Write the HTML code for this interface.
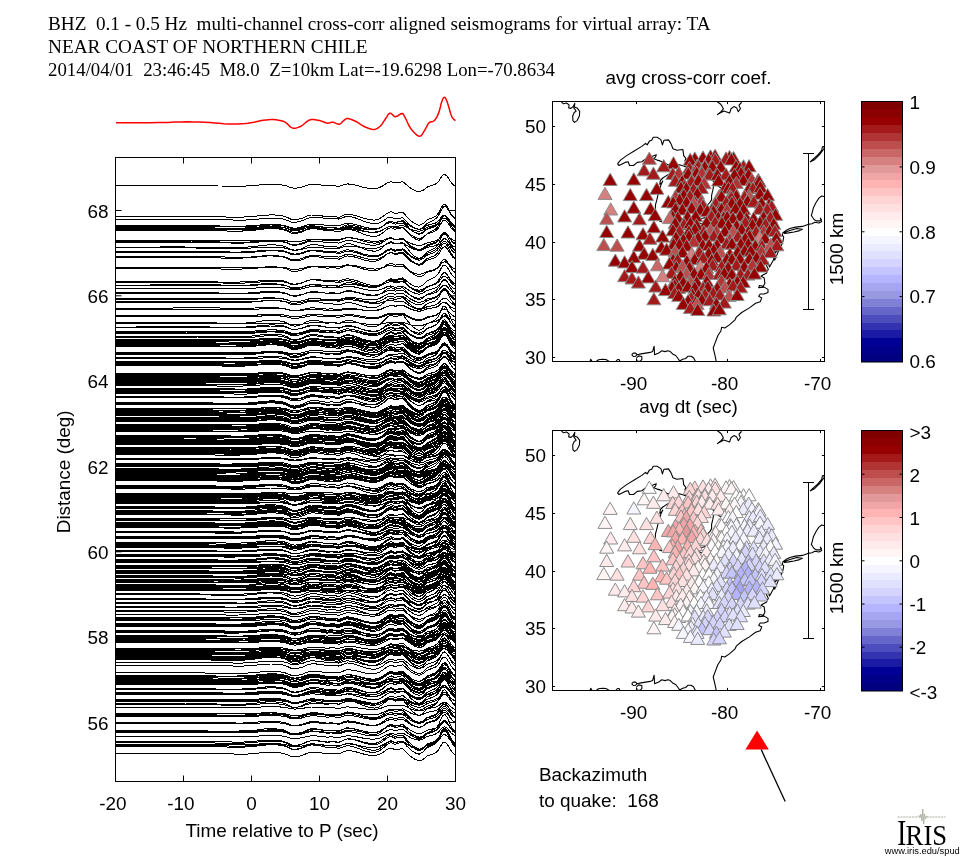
<!DOCTYPE html>
<html><head><meta charset="utf-8"><title>seismograms</title>
<style>html,body{margin:0;padding:0;background:#fff;}svg{display:block;will-change:transform;}text{font-family:"Liberation Sans", sans-serif;fill:#000;}.t{font-family:"Liberation Serif", serif;}</style></head><body>
<svg width="972" height="868" viewBox="0 0 972 868">
<rect x="0" y="0" width="972" height="868" fill="#fff"/>
<text class="t" x="48" y="29.5" font-size="19.2" textLength="662.5" lengthAdjust="spacingAndGlyphs">BHZ  0.1 - 0.5 Hz  multi-channel cross-corr aligned seismograms for virtual array: TA</text>
<text class="t" x="48" y="52.5" font-size="19.2" textLength="319.5" lengthAdjust="spacingAndGlyphs">NEAR COAST OF NORTHERN CHILE</text>
<text class="t" x="48" y="75.5" font-size="19.2" textLength="507.0" lengthAdjust="spacingAndGlyphs">2014/04/01  23:46:45  M8.0  Z=10km Lat=-19.6298 Lon=-70.8634</text>
<path d="M116.0,122.8 L124.3,122.8 L136.3,122.8 L149.2,122.7 L160.0,122.6 L168.0,122.4 L174.8,122.1 L180.9,121.9 L187.0,121.8 L193.1,121.9 L199.1,122.1 L204.7,122.3 L210.0,122.6 L214.9,122.9 L219.4,123.3 L223.7,123.7 L228.0,123.9 L232.5,123.9 L237.0,123.9 L241.3,123.7 L245.0,123.5 L248.0,123.2 L250.5,122.8 L252.8,122.4 L255.0,122.0 L257.2,121.5 L259.3,121.0 L261.4,120.6 L263.6,120.2 L266.0,119.9 L268.4,119.7 L270.9,119.6 L273.4,119.6 L276.0,119.8 L278.6,120.2 L281.1,120.8 L283.1,121.3 L284.6,121.9 L285.7,122.5 L286.5,123.2 L287.4,123.9 L288.2,124.7 L289.0,125.6 L289.7,126.4 L290.6,127.1 L291.6,127.6 L292.6,128.0 L293.7,128.2 L295.0,128.2 L296.5,127.9 L298.1,127.4 L299.8,126.8 L301.4,126.0 L302.8,125.0 L304.2,123.8 L305.5,122.7 L306.8,121.7 L307.9,120.9 L308.8,120.3 L309.8,119.9 L311.2,119.6 L313.1,119.6 L315.3,119.8 L317.6,120.2 L319.8,120.6 L321.8,121.2 L323.8,122.0 L325.7,122.8 L327.4,123.2 L328.9,123.1 L330.2,122.7 L331.4,122.3 L332.8,122.2 L334.4,122.6 L336.1,123.4 L337.8,124.1 L339.3,124.3 L340.5,123.7 L341.6,122.7 L342.6,121.5 L343.6,120.6 L344.6,119.8 L345.5,119.1 L346.5,118.6 L347.9,118.5 L349.8,118.9 L352.0,119.7 L354.3,120.7 L356.5,121.7 L358.4,122.8 L360.2,124.1 L362.1,125.4 L364.1,126.5 L366.5,127.5 L369.0,128.5 L371.6,129.2 L373.8,129.5 L375.7,129.2 L377.3,128.4 L378.8,127.3 L380.3,126.0 L381.8,124.4 L383.1,122.4 L384.5,120.3 L385.7,118.5 L386.8,116.8 L387.8,115.1 L388.9,113.8 L390.0,113.1 L391.2,113.5 L392.6,114.8 L393.9,116.2 L395.4,116.8 L397.0,116.3 L398.8,115.1 L400.5,114.0 L401.9,113.5 L402.9,113.8 L403.6,114.6 L404.2,115.8 L405.1,117.4 L406.2,119.7 L407.5,122.5 L408.9,125.5 L410.5,128.2 L412.5,130.8 L414.9,133.3 L417.2,135.4 L419.2,136.4 L420.8,135.9 L422.2,134.4 L423.4,132.3 L424.6,130.4 L425.7,128.5 L426.8,126.4 L427.8,124.4 L428.9,122.8 L430.2,122.0 L431.6,121.7 L433.0,121.4 L434.3,120.6 L435.5,119.2 L436.6,117.5 L437.6,115.4 L438.6,113.1 L439.5,110.2 L440.4,106.9 L441.1,103.7 L441.9,101.2 L442.6,99.5 L443.2,98.2 L443.9,97.5 L444.5,97.3 L445.2,97.7 L445.8,98.7 L446.5,100.2 L447.3,102.3 L448.3,105.4 L449.4,109.3 L450.5,113.3 L451.6,116.3 L452.7,118.2 L453.8,119.3 L454.8,120.1 L455.5,120.6" fill="none" stroke="#ff0000" stroke-width="1.5" stroke-linejoin="round"/>
<clipPath id="cs"><rect x="115.5" y="157.5" width="340.0" height="624.0"/></clipPath>
<g clip-path="url(#cs)" fill="none" stroke="#000" stroke-width="1" stroke-linejoin="round" shape-rendering="crispEdges">
<path d="M115.5,185.8 132.4,185.8 187.7,185.3 217.9,186.0 244.9,186.1 255.0,185.4 259.0,185.0 263.0,184.7 267.0,184.4 271.0,184.3 275.0,184.4 279.0,184.7 283.0,185.1 287.0,186.1 291.0,187.8 295.0,188.2 299.0,187.7 303.0,186.7 307.0,185.2 311.0,184.4 315.0,184.4 319.0,184.7 323.0,185.3 327.0,185.9 331.0,185.6 335.0,185.8 339.0,186.4 343.0,185.0 347.0,183.9 351.0,184.2 355.0,185.0 359.0,186.0 363.0,187.2 367.0,188.0 371.0,188.6 375.0,188.7 379.0,187.7 383.0,185.7 387.0,182.9 391.0,181.6 395.0,183.0 399.0,182.3 403.0,181.8 407.0,185.2 411.0,188.5 415.0,190.6 419.0,191.9 423.0,190.4 427.0,187.2 433.0,185.1 435.0,184.4 437.0,183.0 439.0,180.9 441.0,177.5 443.0,174.9 445.0,174.4 447.0,176.2 449.0,179.1 451.0,182.3 453.0,184.7 455.5,186.5 M115.5,216.7 145.2,216.7 171.8,216.5 218.0,216.9 240.7,217.2 255.0,216.3 259.0,215.8 263.0,215.3 267.0,215.1 271.0,214.9 275.0,215.0 279.0,215.4 283.0,215.9 287.0,217.2 291.0,219.3 295.0,219.8 299.0,219.1 303.0,217.9 307.0,216.1 311.0,215.0 315.0,215.1 319.0,215.4 323.0,216.1 327.0,216.8 331.0,216.4 335.0,216.6 339.0,217.3 343.0,215.5 347.0,214.1 351.0,214.5 355.0,215.4 359.0,216.6 363.0,218.1 367.0,219.1 371.0,219.9 375.0,220.1 379.0,219.0 383.0,216.5 387.0,213.3 391.0,211.7 395.0,213.6 399.0,212.9 403.0,212.5 407.0,216.8 411.0,221.0 415.0,223.7 419.0,225.4 423.0,223.7 427.0,219.9 433.0,217.5 435.0,216.6 437.0,214.9 439.0,212.2 441.0,208.1 443.0,204.9 445.0,204.3 447.0,206.4 449.0,209.9 451.0,213.7 453.0,216.5 455.5,218.6 M115.5,219.9 159.1,219.6 170.5,219.4 211.8,219.6 242.7,220.2 255.0,219.4 259.0,219.0 263.0,218.6 267.0,218.3 271.0,218.2 275.0,218.3 279.0,218.6 283.0,219.0 287.0,220.2 291.0,222.1 295.0,222.4 299.0,221.7 303.0,220.4 307.0,218.5 311.0,217.4 315.0,217.3 319.0,217.5 323.0,218.0 327.0,218.6 331.0,218.2 335.0,218.4 339.0,219.1 343.0,217.5 347.0,216.2 351.0,216.8 355.0,217.8 359.0,219.3 363.0,220.9 367.0,222.2 371.0,223.3 375.0,223.8 379.0,223.0 383.0,221.0 387.0,218.1 391.0,216.9 395.0,218.8 399.0,218.2 403.0,217.8 407.0,221.9 411.0,225.7 415.0,228.1 419.0,229.4 423.0,227.5 427.0,223.4 433.0,220.4 435.0,219.3 437.0,217.4 439.0,214.6 441.0,210.4 443.0,207.2 445.0,206.3 447.0,208.1 449.0,211.2 451.0,214.7 453.0,217.3 455.5,219.1 M115.5,225.6 142.5,225.5 196.0,225.3 230.0,226.3 242.7,226.2 255.0,225.5 259.0,225.1 263.0,224.8 267.0,224.6 271.0,224.5 275.0,224.6 279.0,224.8 283.0,225.2 287.0,226.2 291.0,227.9 295.0,228.2 299.0,227.7 303.0,226.6 307.0,225.1 311.0,224.1 315.0,224.1 319.0,224.4 323.0,224.8 327.0,225.4 331.0,225.0 335.0,225.2 339.0,225.8 343.0,224.4 347.0,223.2 351.0,223.6 355.0,224.4 359.0,225.5 363.0,226.8 367.0,227.7 371.0,228.5 375.0,228.7 379.0,228.0 383.0,226.1 387.0,223.6 391.0,222.5 395.0,224.1 399.0,223.6 403.0,223.3 407.0,226.8 411.0,230.2 415.0,232.4 419.0,233.7 423.0,232.2 427.0,228.9 433.0,226.6 435.0,225.8 437.0,224.3 439.0,222.0 441.0,218.5 443.0,215.8 445.0,215.1 447.0,216.7 449.0,219.3 451.0,222.3 453.0,224.4 455.5,225.9 M115.5,226.6 153.9,226.6 197.3,226.4 218.8,226.9 239.5,227.0 255.0,226.2 259.0,225.8 263.0,225.4 267.0,225.1 271.0,225.0 275.0,225.1 279.0,225.3 283.0,225.8 287.0,226.8 291.0,228.4 295.0,228.9 299.0,228.5 303.0,227.7 307.0,226.4 311.0,225.7 315.0,226.0 319.0,226.4 323.0,227.1 327.0,227.9 331.0,227.8 335.0,228.1 339.0,228.7 343.0,227.5 347.0,226.4 351.0,226.7 355.0,227.3 359.0,228.1 363.0,229.1 367.0,229.6 371.0,229.9 375.0,229.7 379.0,228.5 383.0,226.1 387.0,223.2 391.0,221.5 395.0,222.5 399.0,221.4 403.0,220.7 407.0,223.6 411.0,226.6 415.0,228.5 419.0,229.6 423.0,228.3 427.0,225.4 433.0,223.8 435.0,223.3 437.0,222.2 439.0,220.3 441.0,217.4 443.0,215.2 445.0,215.0 447.0,217.0 449.0,220.0 451.0,223.2 453.0,225.8 455.5,227.8 M115.5,227.7 144.1,227.6 182.4,227.2 231.2,228.4 240.2,228.3 255.0,227.4 259.0,227.0 263.0,226.5 267.0,226.3 271.0,226.2 275.0,226.3 279.0,226.7 283.0,227.2 287.0,228.5 291.0,230.5 295.0,231.0 299.0,230.4 303.0,229.2 307.0,227.4 311.0,226.4 315.0,226.4 319.0,226.7 323.0,227.3 327.0,228.0 331.0,227.5 335.0,227.7 339.0,228.3 343.0,226.5 347.0,224.9 351.0,225.2 355.0,225.9 359.0,227.0 363.0,228.2 367.0,229.1 371.0,229.7 375.0,229.7 379.0,228.4 383.0,225.9 387.0,222.6 391.0,221.0 395.0,222.7 399.0,221.9 403.0,221.4 407.0,225.6 411.0,229.8 415.0,232.5 419.0,234.3 423.0,232.8 427.0,229.2 433.0,227.3 435.0,226.6 437.0,225.1 439.0,222.7 441.0,218.8 443.0,215.9 445.0,215.5 447.0,217.7 449.0,221.3 451.0,225.2 453.0,228.2 455.5,230.4 M115.5,228.6 129.0,228.6 180.5,228.6 222.0,228.9 244.7,228.7 255.0,228.2 259.0,227.8 263.0,227.5 267.0,227.3 271.0,227.2 275.0,227.2 279.0,227.3 283.0,227.6 287.0,228.3 291.0,229.5 295.0,229.8 299.0,229.5 303.0,228.8 307.0,227.8 311.0,227.3 315.0,227.5 319.0,227.9 323.0,228.4 327.0,229.1 331.0,229.1 335.0,229.4 339.0,230.0 343.0,229.2 347.0,228.5 351.0,228.9 355.0,229.5 359.0,230.3 363.0,231.2 367.0,231.8 371.0,232.2 375.0,232.1 379.0,231.3 383.0,229.6 387.0,227.4 391.0,226.2 395.0,226.9 399.0,226.0 403.0,225.3 407.0,227.4 411.0,229.5 415.0,230.7 419.0,231.3 423.0,229.9 427.0,227.4 433.0,225.7 435.0,225.1 437.0,224.0 439.0,222.5 441.0,220.0 443.0,218.2 445.0,218.0 447.0,219.3 449.0,221.5 451.0,223.9 453.0,225.7 455.5,227.2 M115.5,229.6 153.6,229.8 175.9,229.5 208.7,229.5 244.1,230.0 255.0,229.3 259.0,228.8 263.0,228.5 267.0,228.2 271.0,228.1 275.0,228.2 279.0,228.5 283.0,229.0 287.0,230.1 291.0,231.9 295.0,232.4 299.0,231.8 303.0,230.7 307.0,229.1 311.0,228.2 315.0,228.2 319.0,228.4 323.0,229.0 327.0,229.6 331.0,229.2 335.0,229.4 339.0,230.0 343.0,228.4 347.0,227.1 351.0,227.5 355.0,228.3 359.0,229.4 363.0,230.7 367.0,231.7 371.0,232.5 375.0,232.7 379.0,231.9 383.0,229.9 387.0,227.2 391.0,226.0 395.0,227.8 399.0,227.4 403.0,227.1 407.0,231.1 411.0,234.9 415.0,237.3 419.0,238.9 423.0,237.4 427.0,234.1 433.0,231.9 435.0,231.1 437.0,229.6 439.0,227.2 441.0,223.5 443.0,220.6 445.0,220.0 447.0,221.7 449.0,224.6 451.0,227.8 453.0,230.2 455.5,231.9 M115.5,230.8 141.3,230.8 193.2,230.2 208.4,230.5 238.4,231.3 255.0,230.1 259.0,229.6 263.0,229.1 267.0,228.8 271.0,228.6 275.0,228.7 279.0,229.0 283.0,229.5 287.0,230.9 291.0,233.1 295.0,233.6 299.0,232.9 303.0,231.6 307.0,229.7 311.0,228.6 315.0,228.7 319.0,229.2 323.0,230.0 327.0,230.9 331.0,230.7 335.0,231.1 339.0,232.0 343.0,230.3 347.0,229.0 351.0,229.6 355.0,230.7 359.0,232.2 363.0,234.0 367.0,235.3 371.0,236.2 375.0,236.5 379.0,235.3 383.0,232.7 387.0,229.2 391.0,227.4 395.0,229.3 399.0,228.3 403.0,227.6 407.0,232.0 411.0,236.2 415.0,238.8 419.0,240.3 423.0,238.2 427.0,233.7 433.0,230.6 435.0,229.5 437.0,227.5 439.0,224.5 441.0,219.9 443.0,216.4 445.0,215.7 447.0,217.8 449.0,221.5 451.0,225.6 453.0,228.6 455.5,230.8 M115.5,240.7 146.5,240.7 168.1,240.6 217.2,240.7 242.1,240.9 255.0,240.5 259.0,240.3 263.0,240.1 267.0,240.0 271.0,240.0 275.0,240.0 279.0,240.1 283.0,240.3 287.0,240.9 291.0,241.8 295.0,241.9 299.0,241.5 303.0,240.8 307.0,239.8 311.0,239.2 315.0,239.1 319.0,239.1 323.0,239.2 327.0,239.4 331.0,239.1 335.0,239.1 339.0,239.4 343.0,238.5 347.0,237.8 351.0,238.0 355.0,238.5 359.0,239.1 363.0,239.9 367.0,240.6 371.0,241.1 375.0,241.4 379.0,241.1 383.0,240.2 387.0,239.0 391.0,238.5 395.0,239.6 399.0,239.4 403.0,239.4 407.0,241.5 411.0,243.5 415.0,244.8 419.0,245.6 423.0,244.7 427.0,242.9 433.0,241.5 435.0,241.0 437.0,240.1 439.0,238.8 441.0,236.7 443.0,235.1 445.0,234.7 447.0,235.5 449.0,237.0 451.0,238.7 453.0,239.9 455.5,240.7 M115.5,241.8 156.5,241.4 191.9,241.0 230.6,242.4 248.7,242.1 255.0,241.7 259.0,241.3 263.0,241.0 267.0,240.8 271.0,240.7 275.0,240.9 279.0,241.2 283.0,241.6 287.0,242.6 291.0,244.3 295.0,244.6 299.0,244.0 303.0,242.8 307.0,241.0 311.0,239.9 315.0,239.8 319.0,239.8 323.0,240.1 327.0,240.5 331.0,240.0 335.0,240.0 339.0,240.4 343.0,238.8 347.0,237.5 351.0,237.7 355.0,238.5 359.0,239.6 363.0,240.9 367.0,242.0 371.0,242.8 375.0,243.2 379.0,242.6 383.0,240.8 387.0,238.4 391.0,237.5 395.0,239.4 399.0,239.1 403.0,239.0 407.0,242.9 411.0,246.7 415.0,249.2 419.0,250.7 423.0,249.4 427.0,246.2 433.0,244.1 435.0,243.3 437.0,241.7 439.0,239.4 441.0,235.8 443.0,233.0 445.0,232.3 447.0,233.9 449.0,236.7 451.0,239.7 453.0,241.9 455.5,243.5 M115.5,242.7 130.3,242.6 189.7,242.2 209.2,242.6 241.2,243.2 255.0,242.4 259.0,242.0 263.0,241.6 267.0,241.4 271.0,241.2 275.0,241.3 279.0,241.6 283.0,242.0 287.0,243.1 291.0,244.9 295.0,245.3 299.0,244.7 303.0,243.7 307.0,242.1 311.0,241.2 315.0,241.2 319.0,241.5 323.0,242.0 327.0,242.6 331.0,242.3 335.0,242.5 339.0,243.1 343.0,241.5 347.0,240.3 351.0,240.6 355.0,241.4 359.0,242.4 363.0,243.6 367.0,244.5 371.0,245.1 375.0,245.3 379.0,244.3 383.0,242.2 387.0,239.4 391.0,238.1 395.0,239.7 399.0,239.0 403.0,238.7 407.0,242.3 411.0,246.0 415.0,248.3 419.0,249.8 423.0,248.4 427.0,245.1 433.0,243.2 435.0,242.5 437.0,241.1 439.0,238.8 441.0,235.3 443.0,232.7 445.0,232.2 447.0,234.0 449.0,237.0 451.0,240.3 453.0,242.8 455.5,244.6 M115.5,247.1 153.9,247.1 171.9,246.8 231.4,247.7 240.8,247.6 255.0,246.4 259.0,245.8 263.0,245.3 267.0,245.0 271.0,244.8 275.0,244.9 279.0,245.3 283.0,245.9 287.0,247.4 291.0,249.9 295.0,250.5 299.0,249.8 303.0,248.2 307.0,246.0 311.0,244.7 315.0,244.7 319.0,245.1 323.0,245.9 327.0,246.8 331.0,246.3 335.0,246.5 339.0,247.4 343.0,245.3 347.0,243.5 351.0,244.0 355.0,245.2 359.0,246.7 363.0,248.6 367.0,249.9 371.0,250.9 375.0,251.2 379.0,250.0 383.0,247.1 387.0,243.3 391.0,241.5 395.0,243.9 399.0,243.1 403.0,242.7 407.0,248.0 411.0,253.2 415.0,256.6 419.0,258.7 423.0,256.7 427.0,252.1 433.0,249.2 435.0,248.1 437.0,246.0 439.0,242.8 441.0,237.7 443.0,233.8 445.0,233.0 447.0,235.5 449.0,239.8 451.0,244.3 453.0,247.8 455.5,250.3 M115.5,247.8 137.0,247.9 176.7,247.8 224.3,248.3 249.5,248.1 255.0,247.8 259.0,247.5 263.0,247.2 267.0,247.1 271.0,247.1 275.0,247.2 279.0,247.4 283.0,247.7 287.0,248.5 291.0,249.8 295.0,250.1 299.0,249.8 303.0,249.1 307.0,248.0 311.0,247.3 315.0,247.4 319.0,247.5 323.0,247.9 327.0,248.3 331.0,248.0 335.0,248.0 339.0,248.3 343.0,247.1 347.0,246.1 351.0,246.2 355.0,246.5 359.0,247.1 363.0,247.8 367.0,248.2 371.0,248.5 375.0,248.4 379.0,247.5 383.0,245.9 387.0,243.9 391.0,242.8 395.0,243.8 399.0,243.3 403.0,243.0 407.0,245.5 411.0,248.0 415.0,249.6 419.0,250.6 423.0,249.7 427.0,247.4 433.0,246.2 435.0,245.7 437.0,244.7 439.0,243.2 441.0,240.8 443.0,239.0 445.0,238.7 447.0,240.0 449.0,242.1 451.0,244.4 453.0,246.1 455.5,247.4 M115.5,251.7 156.7,251.7 193.0,251.2 218.1,251.9 239.7,252.1 255.0,251.3 259.0,250.8 263.0,250.4 267.0,250.2 271.0,250.1 275.0,250.1 279.0,250.4 283.0,250.8 287.0,251.9 291.0,253.7 295.0,254.1 299.0,253.6 303.0,252.5 307.0,250.9 311.0,250.0 315.0,250.0 319.0,250.4 323.0,251.0 327.0,251.7 331.0,251.4 335.0,251.7 339.0,252.4 343.0,251.0 347.0,249.8 351.0,250.3 355.0,251.2 359.0,252.5 363.0,253.9 367.0,254.9 371.0,255.7 375.0,255.9 379.0,255.0 383.0,252.9 387.0,250.0 391.0,248.6 395.0,250.2 399.0,249.4 403.0,248.8 407.0,252.4 411.0,255.9 415.0,258.0 419.0,259.2 423.0,257.3 427.0,253.6 433.0,251.0 435.0,250.1 437.0,248.4 439.0,245.9 441.0,242.1 443.0,239.2 445.0,238.5 447.0,240.2 449.0,243.2 451.0,246.4 453.0,248.9 455.5,250.7 M115.5,252.7 158.0,252.6 195.1,252.2 217.3,252.7 242.8,252.9 255.0,252.0 259.0,251.6 263.0,251.2 267.0,250.9 271.0,250.8 275.0,250.8 279.0,251.1 283.0,251.5 287.0,252.6 291.0,254.4 295.0,254.8 299.0,254.3 303.0,253.2 307.0,251.7 311.0,250.8 315.0,250.9 319.0,251.3 323.0,252.0 327.0,252.7 331.0,252.5 335.0,252.8 339.0,253.6 343.0,252.2 347.0,251.1 351.0,251.6 355.0,252.5 359.0,253.7 363.0,255.1 367.0,256.0 371.0,256.8 375.0,257.0 379.0,256.0 383.0,253.9 387.0,251.1 391.0,249.7 395.0,251.2 399.0,250.4 403.0,249.9 407.0,253.5 411.0,257.0 415.0,259.1 419.0,260.4 423.0,258.7 427.0,255.2 433.0,252.9 435.0,252.0 437.0,250.5 439.0,248.1 441.0,244.4 443.0,241.7 445.0,241.1 447.0,242.9 449.0,245.9 451.0,249.2 453.0,251.6 455.5,253.5 M115.5,257.0 147.7,256.9 188.1,256.4 211.6,256.9 248.8,257.2 255.0,256.7 259.0,256.3 263.0,255.9 267.0,255.7 271.0,255.6 275.0,255.7 279.0,256.0 283.0,256.4 287.0,257.6 291.0,259.4 295.0,259.8 299.0,259.2 303.0,258.1 307.0,256.4 311.0,255.4 315.0,255.4 319.0,255.7 323.0,256.2 327.0,256.8 331.0,256.4 335.0,256.5 339.0,257.1 343.0,255.5 347.0,254.2 351.0,254.6 355.0,255.4 359.0,256.5 363.0,257.8 367.0,258.8 371.0,259.5 375.0,259.8 379.0,258.8 383.0,256.8 387.0,254.0 391.0,252.7 395.0,254.5 399.0,253.9 403.0,253.6 407.0,257.5 411.0,261.3 415.0,263.7 419.0,265.3 423.0,263.8 427.0,260.4 433.0,258.4 435.0,257.6 437.0,256.0 439.0,253.7 441.0,250.0 443.0,247.2 445.0,246.6 447.0,248.5 449.0,251.5 451.0,254.9 453.0,257.4 455.5,259.2 M115.5,257.5 144.1,257.5 179.9,257.1 229.4,258.2 244.0,258.0 255.0,257.2 259.0,256.7 263.0,256.3 267.0,256.0 271.0,255.9 275.0,256.1 279.0,256.4 283.0,257.0 287.0,258.3 291.0,260.5 295.0,261.0 299.0,260.5 303.0,259.3 307.0,257.5 311.0,256.5 315.0,256.6 319.0,257.0 323.0,257.8 327.0,258.6 331.0,258.2 335.0,258.5 339.0,259.2 343.0,257.4 347.0,255.9 351.0,256.3 355.0,257.1 359.0,258.3 363.0,259.7 367.0,260.6 371.0,261.3 375.0,261.3 379.0,260.0 383.0,257.3 387.0,253.8 391.0,252.0 395.0,253.7 399.0,252.7 403.0,252.1 407.0,256.2 411.0,260.3 415.0,262.9 419.0,264.4 423.0,262.6 427.0,258.7 433.0,256.3 435.0,255.4 437.0,253.7 439.0,251.0 441.0,246.8 443.0,243.7 445.0,243.2 447.0,245.4 449.0,249.0 451.0,252.9 453.0,255.9 455.5,258.2 M115.5,267.7 158.1,267.5 192.7,267.2 221.6,267.9 247.2,267.9 255.0,267.5 259.0,267.3 263.0,267.1 267.0,266.9 271.0,266.9 275.0,266.9 279.0,267.1 283.0,267.4 287.0,268.1 291.0,269.2 295.0,269.4 299.0,269.0 303.0,268.2 307.0,267.1 311.0,266.3 315.0,266.2 319.0,266.3 323.0,266.5 327.0,266.8 331.0,266.5 335.0,266.5 339.0,266.8 343.0,265.8 347.0,264.9 351.0,265.2 355.0,265.7 359.0,266.5 363.0,267.4 367.0,268.2 371.0,268.8 375.0,269.1 379.0,268.7 383.0,267.6 387.0,266.0 391.0,265.4 395.0,266.7 399.0,266.5 403.0,266.5 407.0,269.2 411.0,271.7 415.0,273.4 419.0,274.5 423.0,273.6 427.0,271.4 433.0,269.9 435.0,269.3 437.0,268.3 439.0,266.7 441.0,264.2 443.0,262.3 445.0,261.8 447.0,262.8 449.0,264.7 451.0,266.7 453.0,268.1 455.5,269.1 M115.5,268.8 154.2,268.6 199.6,268.3 229.6,269.3 250.5,268.8 255.0,268.3 259.0,267.9 263.0,267.5 267.0,267.3 271.0,267.1 275.0,267.2 279.0,267.5 283.0,268.0 287.0,269.1 291.0,271.0 295.0,271.4 299.0,270.8 303.0,269.6 307.0,267.9 311.0,266.9 315.0,266.8 319.0,267.1 323.0,267.6 327.0,268.2 331.0,267.8 335.0,267.9 339.0,268.5 343.0,266.8 347.0,265.4 351.0,265.7 355.0,266.5 359.0,267.6 363.0,268.9 367.0,269.8 371.0,270.5 375.0,270.7 379.0,269.7 383.0,267.5 387.0,264.6 391.0,263.2 395.0,265.1 399.0,264.5 403.0,264.3 407.0,268.4 411.0,272.4 415.0,275.1 419.0,276.9 423.0,275.6 427.0,272.4 433.0,270.6 435.0,269.9 437.0,268.5 439.0,266.2 441.0,262.6 443.0,259.8 445.0,259.3 447.0,261.4 449.0,264.6 451.0,268.2 453.0,270.9 455.5,272.9 M115.5,281.7 148.0,281.6 182.5,281.2 225.8,282.2 248.5,281.9 255.0,281.3 259.0,280.9 263.0,280.5 267.0,280.2 271.0,280.1 275.0,280.1 279.0,280.4 283.0,280.8 287.0,281.9 291.0,283.8 295.0,284.2 299.0,283.6 303.0,282.5 307.0,280.8 311.0,279.8 315.0,279.9 319.0,280.3 323.0,281.0 327.0,281.8 331.0,281.6 335.0,282.0 339.0,282.8 343.0,281.4 347.0,280.3 351.0,280.9 355.0,281.9 359.0,283.3 363.0,284.8 367.0,285.8 371.0,286.6 375.0,286.8 379.0,285.7 383.0,283.4 387.0,280.3 391.0,278.6 395.0,279.9 399.0,278.8 403.0,277.9 407.0,281.3 411.0,284.5 415.0,286.3 419.0,287.2 423.0,285.0 427.0,280.9 433.0,277.9 435.0,276.9 437.0,275.1 439.0,272.5 441.0,268.6 443.0,265.6 445.0,265.0 447.0,266.9 449.0,270.1 451.0,273.6 453.0,276.3 455.5,278.3 M115.5,282.5 138.5,282.4 194.6,282.3 208.3,282.6 238.1,283.4 255.0,282.5 259.0,282.1 263.0,281.7 267.0,281.4 271.0,281.3 275.0,281.3 279.0,281.5 283.0,281.8 287.0,282.7 291.0,284.3 295.0,284.6 299.0,283.8 303.0,282.6 307.0,280.9 311.0,279.8 315.0,279.6 319.0,279.8 323.0,280.2 327.0,280.7 331.0,280.4 335.0,280.5 339.0,281.2 343.0,279.8 347.0,278.7 351.0,279.2 355.0,280.2 359.0,281.5 363.0,283.1 367.0,284.3 371.0,285.3 375.0,285.8 379.0,285.2 383.0,283.4 387.0,281.0 391.0,279.9 395.0,281.7 399.0,281.2 403.0,281.0 407.0,284.7 411.0,288.2 415.0,290.4 419.0,291.8 423.0,290.2 427.0,286.8 433.0,284.5 435.0,283.6 437.0,282.0 439.0,279.7 441.0,276.1 443.0,273.3 445.0,272.7 447.0,274.4 449.0,277.2 451.0,280.4 453.0,282.7 455.5,284.4 M115.5,285.0 149.8,285.0 193.5,284.4 214.0,284.9 244.2,285.4 255.0,284.7 259.0,284.2 263.0,283.9 267.0,283.7 271.0,283.6 275.0,283.8 279.0,284.2 283.0,284.8 287.0,286.1 291.0,288.2 295.0,288.8 299.0,288.3 303.0,287.1 307.0,285.4 311.0,284.4 315.0,284.4 319.0,284.7 323.0,285.3 327.0,285.9 331.0,285.5 335.0,285.5 339.0,286.1 343.0,284.2 347.0,282.6 351.0,282.8 355.0,283.5 359.0,284.5 363.0,285.8 367.0,286.6 371.0,287.2 375.0,287.3 379.0,286.1 383.0,283.6 387.0,280.4 391.0,278.8 395.0,280.6 399.0,279.9 403.0,279.5 407.0,283.8 411.0,287.9 415.0,290.6 419.0,292.3 423.0,290.8 427.0,287.2 433.0,285.0 435.0,284.1 437.0,282.5 439.0,280.0 441.0,275.9 443.0,272.9 445.0,272.3 447.0,274.4 449.0,277.7 451.0,281.4 453.0,284.2 455.5,286.2 M115.5,285.5 142.4,285.6 173.1,285.4 220.7,285.7 245.7,285.7 255.0,285.2 259.0,284.9 263.0,284.6 267.0,284.5 271.0,284.4 275.0,284.6 279.0,284.8 283.0,285.2 287.0,286.1 291.0,287.6 295.0,288.0 299.0,287.6 303.0,286.8 307.0,285.6 311.0,284.9 315.0,285.0 319.0,285.2 323.0,285.7 327.0,286.1 331.0,285.8 335.0,285.9 339.0,286.3 343.0,285.1 347.0,284.0 351.0,284.2 355.0,284.7 359.0,285.4 363.0,286.3 367.0,286.9 371.0,287.3 375.0,287.3 379.0,286.5 383.0,284.7 387.0,282.5 391.0,281.4 395.0,282.6 399.0,282.1 403.0,281.8 407.0,284.6 411.0,287.5 415.0,289.3 419.0,290.4 423.0,289.3 427.0,286.7 433.0,285.1 435.0,284.5 437.0,283.3 439.0,281.5 441.0,278.7 443.0,276.6 445.0,276.1 447.0,277.5 449.0,279.9 451.0,282.4 453.0,284.3 455.5,285.7 M115.5,288.4 132.5,288.4 196.7,288.1 218.5,288.5 249.4,288.5 255.0,288.1 259.0,287.8 263.0,287.5 267.0,287.3 271.0,287.2 275.0,287.2 279.0,287.4 283.0,287.7 287.0,288.4 291.0,289.6 295.0,289.8 299.0,289.4 303.0,288.5 307.0,287.3 311.0,286.6 315.0,286.6 319.0,286.7 323.0,287.1 327.0,287.5 331.0,287.3 335.0,287.4 339.0,287.9 343.0,286.9 347.0,286.1 351.0,286.4 355.0,287.1 359.0,288.0 363.0,289.0 367.0,289.8 371.0,290.4 375.0,290.7 379.0,290.1 383.0,288.7 387.0,286.8 391.0,285.9 395.0,287.2 399.0,286.7 403.0,286.4 407.0,289.1 411.0,291.6 415.0,293.2 419.0,294.2 423.0,293.0 427.0,290.5 433.0,288.8 435.0,288.2 437.0,287.1 439.0,285.4 441.0,282.8 443.0,280.8 445.0,280.4 447.0,281.6 449.0,283.8 451.0,286.1 453.0,287.9 455.5,289.2 M115.5,292.8 137.9,292.6 171.4,292.3 218.8,293.0 244.2,293.3 255.0,292.5 259.0,292.1 263.0,291.7 267.0,291.5 271.0,291.4 275.0,291.5 279.0,291.9 283.0,292.5 287.0,293.7 291.0,295.8 295.0,296.3 299.0,295.7 303.0,294.5 307.0,292.7 311.0,291.7 315.0,291.7 319.0,292.1 323.0,292.7 327.0,293.4 331.0,293.0 335.0,293.2 339.0,293.8 343.0,292.1 347.0,290.6 351.0,290.9 355.0,291.7 359.0,292.9 363.0,294.2 367.0,295.2 371.0,295.9 375.0,295.9 379.0,294.8 383.0,292.3 387.0,289.1 391.0,287.5 395.0,289.2 399.0,288.3 403.0,287.8 407.0,291.9 411.0,295.9 415.0,298.4 419.0,299.9 423.0,298.2 427.0,294.4 433.0,292.1 435.0,291.2 437.0,289.5 439.0,287.0 441.0,282.9 443.0,279.9 445.0,279.3 447.0,281.4 449.0,284.8 451.0,288.6 453.0,291.4 455.5,293.5 M115.5,293.7 136.9,293.7 197.7,293.4 216.4,293.7 249.0,293.8 255.0,293.4 259.0,293.1 263.0,292.8 267.0,292.6 271.0,292.5 275.0,292.6 279.0,292.8 283.0,293.1 287.0,293.9 291.0,295.2 295.0,295.4 299.0,295.0 303.0,294.2 307.0,293.0 311.0,292.2 315.0,292.2 319.0,292.4 323.0,292.8 327.0,293.2 331.0,292.9 335.0,293.0 339.0,293.4 343.0,292.3 347.0,291.3 351.0,291.5 355.0,292.1 359.0,292.9 363.0,293.8 367.0,294.5 371.0,295.0 375.0,295.1 379.0,294.4 383.0,292.9 387.0,290.9 391.0,289.9 395.0,291.1 399.0,290.6 403.0,290.3 407.0,293.1 411.0,295.7 415.0,297.4 419.0,298.4 423.0,297.3 427.0,294.9 433.0,293.4 435.0,292.8 437.0,291.7 439.0,290.0 441.0,287.4 443.0,285.4 445.0,285.1 447.0,286.4 449.0,288.7 451.0,291.1 453.0,293.0 455.5,294.4 M115.5,299.0 159.6,298.9 185.7,298.5 211.5,298.8 249.0,299.0 255.0,298.6 259.0,298.3 263.0,298.0 267.0,297.9 271.0,297.9 275.0,298.0 279.0,298.3 283.0,298.8 287.0,299.7 291.0,301.3 295.0,301.7 299.0,301.4 303.0,300.6 307.0,299.3 311.0,298.6 315.0,298.7 319.0,298.9 323.0,299.4 327.0,299.9 331.0,299.5 335.0,299.6 339.0,299.9 343.0,298.5 347.0,297.3 351.0,297.4 355.0,297.8 359.0,298.4 363.0,299.2 367.0,299.6 371.0,299.9 375.0,299.8 379.0,298.8 383.0,296.8 387.0,294.3 391.0,293.1 395.0,294.2 399.0,293.6 403.0,293.3 407.0,296.3 411.0,299.3 415.0,301.3 419.0,302.6 423.0,301.6 427.0,299.1 433.0,297.8 435.0,297.3 437.0,296.2 439.0,294.5 441.0,291.7 443.0,289.6 445.0,289.4 447.0,291.0 449.0,293.6 451.0,296.5 453.0,298.6 455.5,300.3 M115.5,299.5 154.2,299.5 198.1,299.3 223.3,299.9 247.5,299.8 255.0,299.2 259.0,298.9 263.0,298.6 267.0,298.4 271.0,298.3 275.0,298.4 279.0,298.6 283.0,299.0 287.0,300.0 291.0,301.5 295.0,301.9 299.0,301.5 303.0,300.6 307.0,299.2 311.0,298.4 315.0,298.5 319.0,298.8 323.0,299.3 327.0,299.9 331.0,299.6 335.0,299.8 339.0,300.3 343.0,299.1 347.0,298.0 351.0,298.3 355.0,299.0 359.0,299.9 363.0,301.0 367.0,301.7 371.0,302.3 375.0,302.3 379.0,301.5 383.0,299.6 387.0,297.1 391.0,295.9 395.0,297.2 399.0,296.5 403.0,296.1 407.0,299.1 411.0,302.1 415.0,304.0 419.0,305.1 423.0,303.7 427.0,300.7 433.0,298.7 435.0,298.0 437.0,296.7 439.0,294.7 441.0,291.5 443.0,289.1 445.0,288.6 447.0,290.1 449.0,292.7 451.0,295.5 453.0,297.7 455.5,299.2 M115.5,301.9 142.2,302.0 170.4,301.8 214.3,301.8 242.0,302.0 255.0,301.5 259.0,301.2 263.0,301.0 267.0,300.8 271.0,300.7 275.0,300.8 279.0,300.9 283.0,301.2 287.0,301.9 291.0,303.0 295.0,303.2 299.0,302.8 303.0,302.1 307.0,301.0 311.0,300.3 315.0,300.3 319.0,300.4 323.0,300.7 327.0,301.0 331.0,300.8 335.0,300.8 339.0,301.2 343.0,300.2 347.0,299.4 351.0,299.7 355.0,300.2 359.0,301.0 363.0,301.9 367.0,302.7 371.0,303.3 375.0,303.6 379.0,303.2 383.0,302.1 387.0,300.6 391.0,300.1 395.0,301.4 399.0,301.3 403.0,301.3 407.0,304.0 411.0,306.6 415.0,308.4 419.0,309.5 423.0,308.8 427.0,306.8 433.0,305.6 435.0,305.1 437.0,304.1 439.0,302.7 441.0,300.3 443.0,298.5 445.0,298.1 447.0,299.1 449.0,301.0 451.0,302.9 453.0,304.4 455.5,305.4 M115.5,302.5 135.1,302.5 173.2,302.3 209.8,302.4 240.7,302.8 255.0,301.8 259.0,301.2 263.0,300.8 267.0,300.4 271.0,300.3 275.0,300.3 279.0,300.6 283.0,301.1 287.0,302.4 291.0,304.4 295.0,305.0 299.0,304.5 303.0,303.5 307.0,301.9 311.0,301.1 315.0,301.4 319.0,302.0 323.0,302.9 327.0,303.9 331.0,303.8 335.0,304.2 339.0,305.1 343.0,303.6 347.0,302.4 351.0,302.8 355.0,303.7 359.0,304.9 363.0,306.3 367.0,307.1 371.0,307.7 375.0,307.6 379.0,306.2 383.0,303.5 387.0,300.0 391.0,298.1 395.0,299.5 399.0,298.4 403.0,297.6 407.0,301.4 411.0,305.2 415.0,307.7 419.0,309.2 423.0,307.5 427.0,303.8 433.0,301.7 435.0,301.0 437.0,299.5 439.0,297.1 441.0,293.2 443.0,290.4 445.0,290.0 447.0,292.2 449.0,295.8 451.0,299.7 453.0,302.7 455.5,305.1 M115.5,308.4 155.9,308.2 190.9,307.8 212.9,307.9 238.5,308.3 255.0,308.0 259.0,307.8 263.0,307.7 267.0,307.6 271.0,307.6 275.0,307.8 279.0,308.0 283.0,308.4 287.0,309.2 291.0,310.3 295.0,310.7 299.0,310.6 303.0,310.2 307.0,309.5 311.0,309.2 315.0,309.3 319.0,309.6 323.0,310.0 327.0,310.4 331.0,310.3 335.0,310.4 339.0,310.7 343.0,309.8 347.0,309.0 351.0,309.0 355.0,309.3 359.0,309.7 363.0,310.1 367.0,310.4 371.0,310.5 375.0,310.3 379.0,309.6 383.0,308.2 387.0,306.4 391.0,305.5 395.0,306.2 399.0,305.7 403.0,305.3 407.0,307.3 411.0,309.2 415.0,310.4 419.0,311.2 423.0,310.5 427.0,308.8 433.0,307.8 435.0,307.5 437.0,306.8 439.0,305.6 441.0,303.7 443.0,302.4 445.0,302.2 447.0,303.2 449.0,304.9 451.0,306.8 453.0,308.2 455.5,309.2 M115.5,309.5 156.9,309.4 171.6,309.3 212.7,309.6 245.4,309.8 255.0,309.3 259.0,309.0 263.0,308.7 267.0,308.5 271.0,308.4 275.0,308.4 279.0,308.5 283.0,308.7 287.0,309.3 291.0,310.4 295.0,310.6 299.0,310.2 303.0,309.5 307.0,308.5 311.0,307.9 315.0,308.0 319.0,308.2 323.0,308.6 327.0,309.1 331.0,308.9 335.0,309.1 339.0,309.6 343.0,308.7 347.0,308.0 351.0,308.2 355.0,308.7 359.0,309.4 363.0,310.1 367.0,310.6 371.0,310.9 375.0,310.8 379.0,310.0 383.0,308.5 387.0,306.5 391.0,305.4 395.0,306.1 399.0,305.5 403.0,305.0 407.0,307.1 411.0,309.2 415.0,310.5 419.0,311.4 423.0,310.6 427.0,308.7 433.0,307.9 435.0,307.6 437.0,306.9 439.0,305.8 441.0,303.9 443.0,302.5 445.0,302.5 447.0,304.1 449.0,306.3 451.0,308.8 453.0,310.8 455.5,312.5 M115.5,315.8 139.5,315.9 173.0,315.6 208.2,315.5 249.1,315.5 255.0,315.2 259.0,314.9 263.0,314.6 267.0,314.5 271.0,314.4 275.0,314.4 279.0,314.5 283.0,314.8 287.0,315.5 291.0,316.6 295.0,316.8 299.0,316.5 303.0,315.8 307.0,314.9 311.0,314.3 315.0,314.4 319.0,314.6 323.0,315.0 327.0,315.4 331.0,315.3 335.0,315.5 339.0,315.9 343.0,315.0 347.0,314.3 351.0,314.6 355.0,315.1 359.0,315.8 363.0,316.6 367.0,317.2 371.0,317.6 375.0,317.7 379.0,317.1 383.0,315.7 387.0,313.9 391.0,313.0 395.0,314.0 399.0,313.5 403.0,313.2 407.0,315.5 411.0,317.7 415.0,319.1 419.0,320.0 423.0,319.0 427.0,317.0 433.0,315.7 435.0,315.3 437.0,314.4 439.0,313.0 441.0,310.8 443.0,309.2 445.0,308.9 447.0,310.1 449.0,312.1 451.0,314.3 453.0,315.9 455.5,317.2 M115.5,316.7 136.3,316.7 190.4,316.5 211.0,316.7 245.0,316.9 255.0,316.4 259.0,316.2 263.0,315.9 267.0,315.8 271.0,315.7 275.0,315.8 279.0,315.9 283.0,316.2 287.0,316.9 291.0,318.0 295.0,318.3 299.0,318.0 303.0,317.4 307.0,316.4 311.0,315.9 315.0,315.9 319.0,316.1 323.0,316.5 327.0,316.9 331.0,316.8 335.0,316.9 339.0,317.3 343.0,316.4 347.0,315.6 351.0,315.8 355.0,316.3 359.0,317.0 363.0,317.7 367.0,318.3 371.0,318.7 375.0,318.7 379.0,318.1 383.0,316.7 387.0,314.9 391.0,314.0 395.0,315.0 399.0,314.5 403.0,314.2 407.0,316.4 411.0,318.6 415.0,320.0 419.0,320.8 423.0,319.8 427.0,317.7 433.0,316.3 435.0,315.8 437.0,314.9 439.0,313.4 441.0,311.1 443.0,309.4 445.0,309.1 447.0,310.2 449.0,312.1 451.0,314.1 453.0,315.7 455.5,316.8 M115.5,322.7 137.0,322.5 195.1,322.1 231.3,323.6 242.9,323.3 255.0,322.1 259.0,321.5 263.0,320.9 267.0,320.5 271.0,320.3 275.0,320.4 279.0,320.8 283.0,321.4 287.0,323.0 291.0,325.6 295.0,326.2 299.0,325.4 303.0,323.9 307.0,321.6 311.0,320.3 315.0,320.5 319.0,321.0 323.0,321.9 327.0,322.9 331.0,322.5 335.0,322.9 339.0,323.9 343.0,321.7 347.0,320.0 351.0,320.5 355.0,321.6 359.0,323.1 363.0,324.8 367.0,326.0 371.0,326.7 375.0,326.7 379.0,325.0 383.0,321.7 387.0,317.3 391.0,315.0 395.0,317.0 399.0,315.7 403.0,314.9 407.0,320.1 411.0,325.2 415.0,328.5 419.0,330.6 423.0,328.5 427.0,323.8 433.0,321.2 435.0,320.3 437.0,318.3 439.0,315.3 441.0,310.3 443.0,306.6 445.0,306.1 447.0,309.1 449.0,313.9 451.0,319.0 453.0,322.9 455.5,326.0 M115.5,323.3 150.6,323.3 174.8,323.2 228.8,323.7 242.3,323.7 255.0,323.5 259.0,323.3 263.0,323.2 267.0,323.2 271.0,323.2 275.0,323.2 279.0,323.3 283.0,323.5 287.0,323.9 291.0,324.6 295.0,324.7 299.0,324.4 303.0,324.0 307.0,323.3 311.0,322.8 315.0,322.8 319.0,322.8 323.0,322.9 327.0,323.1 331.0,322.9 335.0,322.9 339.0,323.1 343.0,322.5 347.0,322.0 351.0,322.2 355.0,322.5 359.0,323.0 363.0,323.6 367.0,324.1 371.0,324.4 375.0,324.6 379.0,324.4 383.0,323.7 387.0,322.7 391.0,322.2 395.0,322.9 399.0,322.6 403.0,322.4 407.0,323.8 411.0,325.0 415.0,325.7 419.0,326.0 423.0,325.2 427.0,323.5 433.0,322.1 435.0,321.6 437.0,320.8 439.0,319.7 441.0,318.1 443.0,316.8 445.0,316.4 447.0,317.0 449.0,317.9 451.0,319.0 453.0,319.8 455.5,320.3 M115.5,327.0 136.4,327.0 173.1,326.6 218.7,327.1 242.6,327.3 255.0,326.3 259.0,325.8 263.0,325.4 267.0,325.1 271.0,324.9 275.0,325.0 279.0,325.3 283.0,325.8 287.0,327.0 291.0,329.0 295.0,329.5 299.0,328.9 303.0,327.8 307.0,326.0 311.0,325.0 315.0,325.1 319.0,325.6 323.0,326.3 327.0,327.2 331.0,327.0 335.0,327.3 339.0,328.2 343.0,326.6 347.0,325.3 351.0,325.8 355.0,326.8 359.0,328.2 363.0,329.7 367.0,330.8 371.0,331.6 375.0,331.7 379.0,330.6 383.0,328.1 387.0,324.8 391.0,323.1 395.0,324.7 399.0,323.8 403.0,323.1 407.0,327.1 411.0,331.0 415.0,333.4 419.0,334.8 423.0,332.9 427.0,329.0 433.0,326.4 435.0,325.5 437.0,323.8 439.0,321.1 441.0,317.0 443.0,313.9 445.0,313.3 447.0,315.5 449.0,319.0 451.0,322.8 453.0,325.7 455.5,327.9 M115.5,327.4 147.6,327.3 181.9,327.1 214.3,327.5 249.9,327.5 255.0,327.1 259.0,326.7 263.0,326.3 267.0,326.1 271.0,326.0 275.0,326.0 279.0,326.2 283.0,326.6 287.0,327.5 291.0,329.0 295.0,329.4 299.0,328.9 303.0,327.9 307.0,326.5 311.0,325.7 315.0,325.8 319.0,326.1 323.0,326.7 327.0,327.3 331.0,327.1 335.0,327.4 339.0,328.1 343.0,326.9 347.0,326.0 351.0,326.4 355.0,327.2 359.0,328.3 363.0,329.5 367.0,330.4 371.0,331.0 375.0,331.2 379.0,330.3 383.0,328.5 387.0,325.9 391.0,324.6 395.0,325.9 399.0,325.1 403.0,324.6 407.0,327.6 411.0,330.5 415.0,332.2 419.0,333.2 423.0,331.6 427.0,328.4 433.0,326.2 435.0,325.4 437.0,324.0 439.0,321.9 441.0,318.6 443.0,316.2 445.0,315.7 447.0,317.3 449.0,319.9 451.0,322.8 453.0,325.1 455.5,326.7 M115.5,331.4 140.0,331.4 170.4,331.2 224.2,331.8 247.5,331.6 255.0,331.0 259.0,330.6 263.0,330.2 267.0,330.0 271.0,329.9 275.0,329.9 279.0,330.2 283.0,330.5 287.0,331.5 291.0,333.2 295.0,333.5 299.0,333.0 303.0,332.0 307.0,330.5 311.0,329.6 315.0,329.6 319.0,329.8 323.0,330.4 327.0,330.9 331.0,330.6 335.0,330.8 339.0,331.4 343.0,330.0 347.0,328.8 351.0,329.2 355.0,329.9 359.0,330.9 363.0,332.1 367.0,333.0 371.0,333.6 375.0,333.8 379.0,332.9 383.0,331.0 387.0,328.3 391.0,327.1 395.0,328.6 399.0,328.0 403.0,327.7 407.0,331.2 411.0,334.6 415.0,336.8 419.0,338.2 423.0,336.9 427.0,333.9 433.0,332.2 435.0,331.5 437.0,330.2 439.0,328.2 441.0,324.9 443.0,322.5 445.0,322.1 447.0,323.9 449.0,326.8 451.0,329.9 453.0,332.4 455.5,334.2 M115.5,332.3 151.9,332.2 186.1,332.0 216.0,332.5 245.6,332.7 255.0,332.1 259.0,331.8 263.0,331.4 267.0,331.2 271.0,331.1 275.0,331.2 279.0,331.4 283.0,331.7 287.0,332.6 291.0,334.0 295.0,334.3 299.0,333.8 303.0,332.9 307.0,331.5 311.0,330.7 315.0,330.8 319.0,331.0 323.0,331.5 327.0,332.1 331.0,331.9 335.0,332.1 339.0,332.7 343.0,331.5 347.0,330.6 351.0,331.0 355.0,331.8 359.0,332.8 363.0,334.0 367.0,334.9 371.0,335.5 375.0,335.7 379.0,334.9 383.0,333.2 387.0,330.9 391.0,329.7 395.0,330.9 399.0,330.3 403.0,329.8 407.0,332.7 411.0,335.5 415.0,337.2 419.0,338.2 423.0,336.7 427.0,333.6 433.0,331.5 435.0,330.7 437.0,329.4 439.0,327.4 441.0,324.2 443.0,321.9 445.0,321.4 447.0,322.8 449.0,325.3 451.0,328.0 453.0,330.0 455.5,331.5 M115.5,333.3 131.0,333.4 180.4,333.1 209.9,333.4 243.4,333.7 255.0,333.0 259.0,332.6 263.0,332.2 267.0,332.0 271.0,331.9 275.0,332.0 279.0,332.2 283.0,332.6 287.0,333.6 291.0,335.2 295.0,335.6 299.0,335.1 303.0,334.1 307.0,332.6 311.0,331.8 315.0,331.8 319.0,332.0 323.0,332.5 327.0,333.0 331.0,332.7 335.0,332.8 339.0,333.3 343.0,331.8 347.0,330.6 351.0,330.8 355.0,331.4 359.0,332.3 363.0,333.3 367.0,334.0 371.0,334.5 375.0,334.6 379.0,333.6 383.0,331.6 387.0,329.0 391.0,327.7 395.0,329.2 399.0,328.6 403.0,328.4 407.0,331.8 411.0,335.3 415.0,337.6 419.0,339.1 423.0,338.0 427.0,335.2 433.0,333.8 435.0,333.3 437.0,332.1 439.0,330.2 441.0,327.1 443.0,324.8 445.0,324.5 447.0,326.3 449.0,329.2 451.0,332.3 453.0,334.7 455.5,336.5 M115.5,336.6 143.1,336.6 170.4,336.2 218.8,336.6 245.6,336.7 255.0,335.7 259.0,335.2 263.0,334.6 267.0,334.3 271.0,334.1 275.0,334.2 279.0,334.6 283.0,335.2 287.0,336.7 291.0,339.2 295.0,339.8 299.0,339.1 303.0,337.7 307.0,335.6 311.0,334.4 315.0,334.6 319.0,335.1 323.0,336.0 327.0,337.0 331.0,336.7 335.0,337.1 339.0,338.1 343.0,336.1 347.0,334.5 351.0,335.1 355.0,336.2 359.0,337.8 363.0,339.6 367.0,340.8 371.0,341.7 375.0,341.9 379.0,340.5 383.0,337.5 387.0,333.5 391.0,331.4 395.0,333.5 399.0,332.3 403.0,331.6 407.0,336.4 411.0,341.1 415.0,344.0 419.0,345.8 423.0,343.5 427.0,338.7 433.0,335.6 435.0,334.5 437.0,332.4 439.0,329.2 441.0,324.2 443.0,320.4 445.0,319.7 447.0,322.2 449.0,326.4 451.0,330.9 453.0,334.3 455.5,336.9 M115.5,337.4 145.2,337.4 197.1,337.0 222.4,337.8 250.9,337.4 255.0,337.0 259.0,336.5 263.0,336.1 267.0,335.8 271.0,335.7 275.0,335.8 279.0,336.1 283.0,336.6 287.0,337.8 291.0,339.8 295.0,340.3 299.0,339.7 303.0,338.5 307.0,336.7 311.0,335.7 315.0,335.8 319.0,336.2 323.0,336.8 327.0,337.6 331.0,337.3 335.0,337.5 339.0,338.3 343.0,336.6 347.0,335.3 351.0,335.7 355.0,336.6 359.0,337.8 363.0,339.3 367.0,340.3 371.0,341.0 375.0,341.1 379.0,340.0 383.0,337.6 387.0,334.3 391.0,332.7 395.0,334.4 399.0,333.5 403.0,332.8 407.0,336.8 411.0,340.6 415.0,342.9 419.0,344.3 423.0,342.4 427.0,338.4 433.0,335.8 435.0,334.8 437.0,333.0 439.0,330.4 441.0,326.3 443.0,323.2 445.0,322.6 447.0,324.6 449.0,327.9 451.0,331.6 453.0,334.3 455.5,336.4 M115.5,339.7 143.3,339.7 182.5,339.3 213.1,339.6 245.4,339.9 255.0,339.3 259.0,339.0 263.0,338.7 267.0,338.5 271.0,338.5 275.0,338.5 279.0,338.8 283.0,339.1 287.0,340.0 291.0,341.4 295.0,341.7 299.0,341.3 303.0,340.6 307.0,339.4 311.0,338.7 315.0,338.8 319.0,339.0 323.0,339.5 327.0,340.0 331.0,339.8 335.0,340.0 339.0,340.5 343.0,339.4 347.0,338.4 351.0,338.7 355.0,339.3 359.0,340.1 363.0,341.0 367.0,341.7 371.0,342.1 375.0,342.1 379.0,341.3 383.0,339.5 387.0,337.2 391.0,336.0 395.0,337.0 399.0,336.3 403.0,335.8 407.0,338.4 411.0,341.0 415.0,342.5 419.0,343.4 423.0,342.0 427.0,339.3 433.0,337.5 435.0,336.8 437.0,335.6 439.0,333.8 441.0,331.0 443.0,328.9 445.0,328.5 447.0,329.9 449.0,332.3 451.0,334.8 453.0,336.8 455.5,338.3 M115.5,340.2 129.1,340.3 198.3,339.8 213.5,340.1 245.9,340.4 255.0,339.7 259.0,339.2 263.0,338.8 267.0,338.6 271.0,338.5 275.0,338.6 279.0,338.9 283.0,339.4 287.0,340.6 291.0,342.6 295.0,343.1 299.0,342.6 303.0,341.6 307.0,340.0 311.0,339.1 315.0,339.2 319.0,339.6 323.0,340.2 327.0,341.0 331.0,340.7 335.0,340.9 339.0,341.6 343.0,340.0 347.0,338.6 351.0,338.9 355.0,339.7 359.0,340.8 363.0,342.0 367.0,342.9 371.0,343.5 375.0,343.5 379.0,342.3 383.0,340.0 387.0,336.9 391.0,335.3 395.0,336.9 399.0,336.0 403.0,335.5 407.0,339.3 411.0,343.0 415.0,345.4 419.0,346.9 423.0,345.2 427.0,341.6 433.0,339.4 435.0,338.6 437.0,337.0 439.0,334.5 441.0,330.7 443.0,327.8 445.0,327.3 447.0,329.2 449.0,332.5 451.0,336.0 453.0,338.6 455.5,340.6 M115.5,340.5 130.9,340.5 176.1,340.5 215.8,340.9 245.9,340.9 255.0,340.4 259.0,340.1 263.0,339.7 267.0,339.6 271.0,339.4 275.0,339.5 279.0,339.7 283.0,340.0 287.0,340.8 291.0,342.1 295.0,342.4 299.0,342.0 303.0,341.2 307.0,340.0 311.0,339.3 315.0,339.3 319.0,339.6 323.0,340.0 327.0,340.4 331.0,340.2 335.0,340.3 339.0,340.7 343.0,339.5 347.0,338.4 351.0,338.6 355.0,339.1 359.0,339.8 363.0,340.6 367.0,341.1 371.0,341.4 375.0,341.4 379.0,340.5 383.0,338.7 387.0,336.4 391.0,335.3 395.0,336.4 399.0,335.8 403.0,335.4 407.0,338.2 411.0,340.9 415.0,342.8 419.0,344.0 423.0,343.0 427.0,340.7 433.0,339.5 435.0,339.1 437.0,338.1 439.0,336.6 441.0,334.0 443.0,332.2 445.0,332.0 447.0,333.5 449.0,336.0 451.0,338.7 453.0,340.8 455.5,342.4 M115.5,341.5 139.4,341.5 198.1,341.5 210.2,341.8 246.8,342.2 255.0,341.7 259.0,341.3 263.0,341.0 267.0,340.8 271.0,340.7 275.0,340.8 279.0,341.0 283.0,341.3 287.0,342.2 291.0,343.6 295.0,343.8 299.0,343.2 303.0,342.1 307.0,340.5 311.0,339.5 315.0,339.3 319.0,339.3 323.0,339.6 327.0,339.9 331.0,339.4 335.0,339.4 339.0,339.7 343.0,338.3 347.0,337.1 351.0,337.4 355.0,338.0 359.0,339.0 363.0,340.2 367.0,341.1 371.0,341.8 375.0,342.1 379.0,341.5 383.0,339.9 387.0,337.8 391.0,336.9 395.0,338.6 399.0,338.3 403.0,338.2 407.0,341.6 411.0,344.9 415.0,347.1 419.0,348.4 423.0,347.3 427.0,344.5 433.0,342.7 435.0,342.0 437.0,340.7 439.0,338.8 441.0,335.6 443.0,333.3 445.0,332.7 447.0,334.3 449.0,336.8 451.0,339.6 453.0,341.6 455.5,343.1 M115.5,342.8 145.2,342.7 184.9,342.2 231.5,343.4 238.6,343.3 255.0,342.4 259.0,342.0 263.0,341.6 267.0,341.3 271.0,341.2 275.0,341.3 279.0,341.6 283.0,342.1 287.0,343.2 291.0,345.1 295.0,345.5 299.0,344.9 303.0,343.7 307.0,341.9 311.0,340.9 315.0,340.9 319.0,341.2 323.0,341.7 327.0,342.4 331.0,342.0 335.0,342.1 339.0,342.8 343.0,341.1 347.0,339.8 351.0,340.1 355.0,340.9 359.0,342.1 363.0,343.4 367.0,344.3 371.0,345.0 375.0,345.2 379.0,344.1 383.0,341.8 387.0,338.7 391.0,337.2 395.0,338.8 399.0,338.0 403.0,337.5 407.0,341.5 411.0,345.3 415.0,347.7 419.0,349.2 423.0,347.6 427.0,344.0 433.0,341.8 435.0,341.0 437.0,339.5 439.0,337.1 441.0,333.3 443.0,330.4 445.0,330.0 447.0,332.0 449.0,335.4 451.0,339.0 453.0,341.8 455.5,344.0 M115.5,343.1 148.2,343.1 182.2,342.8 215.4,343.3 241.5,343.7 255.0,342.9 259.0,342.5 263.0,342.2 267.0,342.0 271.0,341.9 275.0,341.9 279.0,342.2 283.0,342.6 287.0,343.6 291.0,345.1 295.0,345.5 299.0,345.0 303.0,344.0 307.0,342.6 311.0,341.7 315.0,341.7 319.0,342.0 323.0,342.5 327.0,343.0 331.0,342.7 335.0,342.8 339.0,343.3 343.0,341.9 347.0,340.8 351.0,341.0 355.0,341.6 359.0,342.5 363.0,343.5 367.0,344.2 371.0,344.7 375.0,344.7 379.0,343.7 383.0,341.7 387.0,339.0 391.0,337.6 395.0,339.0 399.0,338.2 403.0,337.8 407.0,341.0 411.0,344.2 415.0,346.3 419.0,347.6 423.0,346.4 427.0,343.5 433.0,341.8 435.0,341.3 437.0,340.0 439.0,338.1 441.0,335.0 443.0,332.7 445.0,332.4 447.0,334.2 449.0,337.1 451.0,340.2 453.0,342.7 455.5,344.5 M115.5,343.7 149.7,343.9 196.8,343.4 226.2,344.0 246.8,343.7 255.0,343.0 259.0,342.5 263.0,342.0 267.0,341.8 271.0,341.6 275.0,341.7 279.0,342.0 283.0,342.5 287.0,343.7 291.0,345.6 295.0,346.1 299.0,345.6 303.0,344.6 307.0,342.9 311.0,342.0 315.0,342.2 319.0,342.6 323.0,343.2 327.0,344.0 331.0,343.6 335.0,343.8 339.0,344.4 343.0,342.8 347.0,341.4 351.0,341.6 355.0,342.3 359.0,343.3 363.0,344.5 367.0,345.2 371.0,345.8 375.0,345.7 379.0,344.6 383.0,342.2 387.0,339.1 391.0,337.6 395.0,339.3 399.0,338.7 403.0,338.4 407.0,342.5 411.0,346.6 415.0,349.3 419.0,351.2 423.0,350.1 427.0,347.0 433.0,345.6 435.0,345.1 437.0,343.8 439.0,341.6 441.0,338.1 443.0,335.5 445.0,335.1 447.0,337.3 449.0,340.7 451.0,344.4 453.0,347.2 455.5,349.4 M115.5,344.3 159.9,343.9 169.5,343.8 215.8,344.4 251.0,344.3 255.0,343.8 259.0,343.3 263.0,342.8 267.0,342.6 271.0,342.4 275.0,342.5 279.0,342.8 283.0,343.3 287.0,344.6 291.0,346.7 295.0,347.2 299.0,346.6 303.0,345.4 307.0,343.5 311.0,342.5 315.0,342.6 319.0,343.1 323.0,343.9 327.0,344.8 331.0,344.6 335.0,345.1 339.0,346.0 343.0,344.4 347.0,343.1 351.0,343.7 355.0,344.8 359.0,346.2 363.0,347.7 367.0,348.8 371.0,349.6 375.0,349.6 379.0,348.3 383.0,345.4 387.0,341.7 391.0,339.6 395.0,341.0 399.0,339.7 403.0,338.6 407.0,342.3 411.0,346.0 415.0,348.1 419.0,349.1 423.0,346.7 427.0,342.1 433.0,338.8 435.0,337.7 437.0,335.7 439.0,332.9 441.0,328.4 443.0,325.1 445.0,324.5 447.0,326.8 449.0,330.5 451.0,334.6 453.0,337.8 455.5,340.2 M115.5,344.7 137.6,344.7 196.0,344.3 214.5,344.7 242.3,345.1 255.0,344.2 259.0,343.8 263.0,343.3 267.0,343.1 271.0,343.0 275.0,343.1 279.0,343.5 283.0,344.0 287.0,345.4 291.0,347.5 295.0,348.0 299.0,347.5 303.0,346.3 307.0,344.5 311.0,343.5 315.0,343.6 319.0,343.9 323.0,344.6 327.0,345.3 331.0,344.9 335.0,345.1 339.0,345.7 343.0,343.9 347.0,342.3 351.0,342.6 355.0,343.4 359.0,344.5 363.0,345.8 367.0,346.7 371.0,347.3 375.0,347.3 379.0,346.0 383.0,343.5 387.0,340.1 391.0,338.5 395.0,340.3 399.0,339.4 403.0,339.0 407.0,343.3 411.0,347.5 415.0,350.3 419.0,352.1 423.0,350.5 427.0,346.8 433.0,344.7 435.0,343.9 437.0,342.2 439.0,339.7 441.0,335.6 443.0,332.6 445.0,332.0 447.0,334.2 449.0,337.8 451.0,341.7 453.0,344.6 455.5,346.8 M115.5,345.7 136.6,345.7 186.6,345.2 227.4,346.2 247.8,345.9 255.0,345.4 259.0,344.9 263.0,344.6 267.0,344.3 271.0,344.2 275.0,344.3 279.0,344.6 283.0,345.0 287.0,346.1 291.0,347.9 295.0,348.3 299.0,347.8 303.0,346.7 307.0,345.0 311.0,344.1 315.0,344.1 319.0,344.4 323.0,344.9 327.0,345.5 331.0,345.1 335.0,345.3 339.0,345.9 343.0,344.3 347.0,343.1 351.0,343.4 355.0,344.1 359.0,345.2 363.0,346.5 367.0,347.3 371.0,348.0 375.0,348.1 379.0,347.1 383.0,345.0 387.0,342.1 391.0,340.7 395.0,342.3 399.0,341.6 403.0,341.2 407.0,344.9 411.0,348.5 415.0,350.8 419.0,352.3 423.0,350.8 427.0,347.5 433.0,345.5 435.0,344.8 437.0,343.3 439.0,341.1 441.0,337.5 443.0,334.8 445.0,334.4 447.0,336.3 449.0,339.4 451.0,342.8 453.0,345.4 455.5,347.3 M115.5,346.1 139.5,346.0 171.2,345.9 216.5,346.6 247.5,346.6 255.0,345.8 259.0,345.3 263.0,344.8 267.0,344.4 271.0,344.3 275.0,344.3 279.0,344.6 283.0,345.1 287.0,346.5 291.0,348.7 295.0,349.2 299.0,348.5 303.0,347.1 307.0,345.1 311.0,344.0 315.0,344.1 319.0,344.5 323.0,345.3 327.0,346.2 331.0,345.9 335.0,346.3 339.0,347.2 343.0,345.5 347.0,344.0 351.0,344.6 355.0,345.7 359.0,347.2 363.0,348.9 367.0,350.1 371.0,350.9 375.0,351.1 379.0,349.8 383.0,347.0 387.0,343.3 391.0,341.3 395.0,343.1 399.0,341.9 403.0,341.1 407.0,345.4 411.0,349.6 415.0,352.2 419.0,353.6 423.0,351.4 427.0,346.8 433.0,343.8 435.0,342.7 437.0,340.7 439.0,337.7 441.0,333.1 443.0,329.6 445.0,328.9 447.0,331.3 449.0,335.1 451.0,339.3 453.0,342.5 455.5,344.9 M115.5,346.9 154.0,346.7 169.0,346.5 219.7,346.9 242.5,347.0 255.0,346.1 259.0,345.6 263.0,345.2 267.0,344.9 271.0,344.7 275.0,344.8 279.0,345.2 283.0,345.7 287.0,346.9 291.0,349.0 295.0,349.5 299.0,348.9 303.0,347.8 307.0,346.1 311.0,345.1 315.0,345.3 319.0,345.8 323.0,346.6 327.0,347.5 331.0,347.3 335.0,347.8 339.0,348.7 343.0,347.2 347.0,346.0 351.0,346.6 355.0,347.7 359.0,349.0 363.0,350.6 367.0,351.7 371.0,352.6 375.0,352.7 379.0,351.6 383.0,349.1 387.0,345.7 391.0,344.0 395.0,345.5 399.0,344.4 403.0,343.6 407.0,347.4 411.0,351.0 415.0,353.2 419.0,354.3 423.0,352.1 427.0,347.7 433.0,344.6 435.0,343.4 437.0,341.5 439.0,338.7 441.0,334.3 443.0,331.1 445.0,330.3 447.0,332.3 449.0,335.6 451.0,339.2 453.0,342.0 455.5,344.0 M115.5,352.6 152.2,352.6 173.8,352.5 215.4,352.9 247.6,352.9 255.0,352.5 259.0,352.2 263.0,351.9 267.0,351.7 271.0,351.6 275.0,351.6 279.0,351.7 283.0,352.0 287.0,352.7 291.0,353.8 295.0,354.0 299.0,353.5 303.0,352.6 307.0,351.4 311.0,350.6 315.0,350.5 319.0,350.6 323.0,351.0 327.0,351.4 331.0,351.1 335.0,351.2 339.0,351.7 343.0,350.6 347.0,349.8 351.0,350.2 355.0,350.8 359.0,351.8 363.0,352.8 367.0,353.7 371.0,354.3 375.0,354.6 379.0,354.1 383.0,352.8 387.0,351.0 391.0,350.2 395.0,351.4 399.0,351.1 403.0,350.9 407.0,353.6 411.0,356.2 415.0,357.9 419.0,358.9 423.0,357.8 427.0,355.3 433.0,353.7 435.0,353.1 437.0,352.0 439.0,350.3 441.0,347.7 443.0,345.7 445.0,345.3 447.0,346.5 449.0,348.6 451.0,351.0 453.0,352.7 455.5,354.0 M115.5,353.1 156.3,353.1 191.2,352.8 224.5,353.5 246.9,353.3 255.0,352.8 259.0,352.5 263.0,352.2 267.0,352.1 271.0,352.0 275.0,352.1 279.0,352.3 283.0,352.6 287.0,353.5 291.0,354.8 295.0,355.2 299.0,354.8 303.0,354.1 307.0,352.9 311.0,352.2 315.0,352.3 319.0,352.5 323.0,353.0 327.0,353.5 331.0,353.2 335.0,353.4 339.0,353.8 343.0,352.6 347.0,351.7 351.0,351.9 355.0,352.4 359.0,353.2 363.0,354.1 367.0,354.7 371.0,355.1 375.0,355.1 379.0,354.3 383.0,352.7 387.0,350.5 391.0,349.4 395.0,350.5 399.0,350.0 403.0,349.6 407.0,352.4 411.0,355.1 415.0,356.8 419.0,357.8 423.0,356.7 427.0,354.2 433.0,352.6 435.0,352.0 437.0,350.9 439.0,349.2 441.0,346.5 443.0,344.4 445.0,344.0 447.0,345.4 449.0,347.7 451.0,350.2 453.0,352.0 455.5,353.4 M115.5,353.6 151.1,353.5 170.8,353.4 226.5,354.4 241.7,354.3 255.0,353.4 259.0,353.0 263.0,352.6 267.0,352.3 271.0,352.2 275.0,352.3 279.0,352.7 283.0,353.2 287.0,354.4 291.0,356.3 295.0,356.8 299.0,356.2 303.0,355.0 307.0,353.2 311.0,352.2 315.0,352.2 319.0,352.4 323.0,353.0 327.0,353.6 331.0,353.1 335.0,353.2 339.0,353.7 343.0,351.9 347.0,350.4 351.0,350.6 355.0,351.2 359.0,352.2 363.0,353.4 367.0,354.2 371.0,354.8 375.0,354.8 379.0,353.6 383.0,351.1 387.0,348.0 391.0,346.4 395.0,348.2 399.0,347.5 403.0,347.2 407.0,351.4 411.0,355.6 415.0,358.4 419.0,360.2 423.0,358.9 427.0,355.7 433.0,354.0 435.0,353.4 437.0,352.0 439.0,349.7 441.0,346.0 443.0,343.2 445.0,342.8 447.0,345.1 449.0,348.6 451.0,352.4 453.0,355.3 455.5,357.6 M115.5,354.7 135.8,354.8 190.1,354.3 216.6,355.0 249.0,354.8 255.0,354.2 259.0,353.6 263.0,353.1 267.0,352.8 271.0,352.7 275.0,352.8 279.0,353.1 283.0,353.7 287.0,355.0 291.0,357.3 295.0,357.8 299.0,357.1 303.0,355.8 307.0,353.7 311.0,352.5 315.0,352.6 319.0,352.9 323.0,353.6 327.0,354.4 331.0,353.9 335.0,354.1 339.0,354.8 343.0,352.8 347.0,351.1 351.0,351.5 355.0,352.4 359.0,353.6 363.0,355.2 367.0,356.2 371.0,357.0 375.0,357.1 379.0,355.8 383.0,353.1 387.0,349.5 391.0,347.8 395.0,349.9 399.0,349.1 403.0,348.7 407.0,353.6 411.0,358.4 415.0,361.6 419.0,363.7 423.0,362.2 427.0,358.3 433.0,356.2 435.0,355.4 437.0,353.7 439.0,351.0 441.0,346.6 443.0,343.4 445.0,342.9 447.0,345.3 449.0,349.4 451.0,353.7 453.0,357.1 455.5,359.6 M115.5,357.7 152.3,357.5 199.0,357.3 229.6,358.1 243.7,358.0 255.0,357.3 259.0,356.9 263.0,356.6 267.0,356.4 271.0,356.3 275.0,356.4 279.0,356.6 283.0,357.1 287.0,358.1 291.0,359.7 295.0,360.1 299.0,359.7 303.0,358.8 307.0,357.5 311.0,356.8 315.0,356.9 319.0,357.3 323.0,358.0 327.0,358.7 331.0,358.5 335.0,358.9 339.0,359.5 343.0,358.3 347.0,357.3 351.0,357.7 355.0,358.4 359.0,359.4 363.0,360.5 367.0,361.2 371.0,361.7 375.0,361.6 379.0,360.5 383.0,358.3 387.0,355.5 391.0,353.9 395.0,354.9 399.0,353.8 403.0,353.0 407.0,355.8 411.0,358.5 415.0,360.0 419.0,360.8 423.0,359.1 427.0,355.7 433.0,353.4 435.0,352.6 437.0,351.2 439.0,349.1 441.0,345.8 443.0,343.4 445.0,343.0 447.0,344.6 449.0,347.4 451.0,350.5 453.0,352.8 455.5,354.6 M115.5,358.6 137.7,358.6 180.9,358.3 222.6,358.9 250.9,358.7 255.0,358.5 259.0,358.2 263.0,358.0 267.0,357.8 271.0,357.8 275.0,357.8 279.0,358.0 283.0,358.3 287.0,359.0 291.0,360.1 295.0,360.4 299.0,360.0 303.0,359.3 307.0,358.3 311.0,357.6 315.0,357.6 319.0,357.8 323.0,358.1 327.0,358.5 331.0,358.2 335.0,358.3 339.0,358.6 343.0,357.6 347.0,356.8 351.0,356.9 355.0,357.4 359.0,358.1 363.0,358.8 367.0,359.4 371.0,359.8 375.0,359.9 379.0,359.3 383.0,358.0 387.0,356.2 391.0,355.4 395.0,356.4 399.0,356.1 403.0,355.9 407.0,358.3 411.0,360.7 415.0,362.2 419.0,363.2 423.0,362.4 427.0,360.3 433.0,359.1 435.0,358.6 437.0,357.7 439.0,356.3 441.0,354.0 443.0,352.3 445.0,352.0 447.0,353.2 449.0,355.1 451.0,357.2 453.0,358.8 455.5,360.0 M115.5,361.7 148.4,361.7 195.3,361.3 221.5,361.9 243.0,362.0 255.0,361.4 259.0,361.0 263.0,360.7 267.0,360.5 271.0,360.4 275.0,360.5 279.0,360.7 283.0,361.1 287.0,361.9 291.0,363.4 295.0,363.7 299.0,363.3 303.0,362.4 307.0,361.1 311.0,360.4 315.0,360.4 319.0,360.6 323.0,361.1 327.0,361.6 331.0,361.3 335.0,361.5 339.0,362.0 343.0,360.8 347.0,359.7 351.0,360.0 355.0,360.7 359.0,361.5 363.0,362.6 367.0,363.3 371.0,363.8 375.0,364.0 379.0,363.2 383.0,361.5 387.0,359.2 391.0,358.1 395.0,359.4 399.0,358.9 403.0,358.6 407.0,361.5 411.0,364.4 415.0,366.3 419.0,367.4 423.0,366.2 427.0,363.5 433.0,361.8 435.0,361.2 437.0,360.0 439.0,358.2 441.0,355.3 443.0,353.1 445.0,352.6 447.0,354.1 449.0,356.5 451.0,359.2 453.0,361.2 455.5,362.6 M115.5,362.2 155.2,362.0 177.3,361.8 211.2,362.0 240.8,362.4 255.0,361.9 259.0,361.6 263.0,361.3 267.0,361.2 271.0,361.1 275.0,361.2 279.0,361.5 283.0,361.8 287.0,362.6 291.0,363.9 295.0,364.3 299.0,363.9 303.0,363.2 307.0,362.1 311.0,361.5 315.0,361.5 319.0,361.7 323.0,362.2 327.0,362.6 331.0,362.4 335.0,362.5 339.0,362.9 343.0,361.8 347.0,360.9 351.0,361.1 355.0,361.6 359.0,362.3 363.0,363.1 367.0,363.7 371.0,364.1 375.0,364.1 379.0,363.3 383.0,361.7 387.0,359.5 391.0,358.5 395.0,359.5 399.0,359.0 403.0,358.6 407.0,361.2 411.0,363.8 415.0,365.4 419.0,366.4 423.0,365.3 427.0,362.9 433.0,361.5 435.0,361.0 437.0,359.9 439.0,358.3 441.0,355.7 443.0,353.8 445.0,353.5 447.0,354.8 449.0,357.1 451.0,359.5 453.0,361.3 455.5,362.7 M115.5,362.8 146.4,362.6 175.6,362.2 214.6,362.4 240.4,362.7 255.0,362.2 259.0,362.0 263.0,361.7 267.0,361.6 271.0,361.5 275.0,361.6 279.0,361.8 283.0,362.1 287.0,362.9 291.0,364.1 295.0,364.4 299.0,364.1 303.0,363.5 307.0,362.6 311.0,362.1 315.0,362.3 319.0,362.7 323.0,363.3 327.0,363.9 331.0,363.9 335.0,364.2 339.0,364.9 343.0,364.1 347.0,363.5 351.0,364.0 355.0,364.7 359.0,365.6 363.0,366.6 367.0,367.3 371.0,367.8 375.0,367.8 379.0,367.2 383.0,365.6 387.0,363.6 391.0,362.5 395.0,363.2 399.0,362.3 403.0,361.6 407.0,363.5 411.0,365.3 415.0,366.2 419.0,366.4 423.0,364.8 427.0,361.9 433.0,359.5 435.0,358.7 437.0,357.4 439.0,355.6 441.0,352.9 443.0,350.9 445.0,350.4 447.0,351.4 449.0,353.2 451.0,355.3 453.0,356.8 455.5,357.9 M115.5,363.6 135.6,363.6 193.0,363.3 227.7,364.1 243.3,363.9 255.0,363.2 259.0,362.8 263.0,362.4 267.0,362.2 271.0,362.1 275.0,362.3 279.0,362.6 283.0,363.1 287.0,364.2 291.0,366.0 295.0,366.5 299.0,366.2 303.0,365.3 307.0,364.1 311.0,363.4 315.0,363.6 319.0,364.1 323.0,364.8 327.0,365.6 331.0,365.4 335.0,365.7 339.0,366.3 343.0,364.9 347.0,363.7 351.0,363.9 355.0,364.5 359.0,365.2 363.0,366.1 367.0,366.6 371.0,366.8 375.0,366.5 379.0,365.1 383.0,362.6 387.0,359.5 391.0,357.7 395.0,358.7 399.0,357.5 403.0,356.7 407.0,359.8 411.0,362.8 415.0,364.7 419.0,365.9 423.0,364.4 427.0,361.4 433.0,359.6 435.0,359.1 437.0,357.8 439.0,355.8 441.0,352.7 443.0,350.4 445.0,350.2 447.0,352.1 449.0,355.2 451.0,358.6 453.0,361.2 455.5,363.3 M115.5,364.6 129.8,364.6 182.0,364.3 217.2,364.7 249.3,364.7 255.0,364.4 259.0,364.1 263.0,363.9 267.0,363.7 271.0,363.6 275.0,363.7 279.0,363.9 283.0,364.2 287.0,364.8 291.0,365.9 295.0,366.2 299.0,365.9 303.0,365.3 307.0,364.3 311.0,363.7 315.0,363.8 319.0,364.0 323.0,364.4 327.0,364.8 331.0,364.6 335.0,364.8 339.0,365.2 343.0,364.3 347.0,363.5 351.0,363.8 355.0,364.3 359.0,364.9 363.0,365.7 367.0,366.3 371.0,366.6 375.0,366.7 379.0,366.1 383.0,364.7 387.0,362.9 391.0,362.0 395.0,362.9 399.0,362.4 403.0,362.1 407.0,364.3 411.0,366.5 415.0,367.8 419.0,368.7 423.0,367.7 427.0,365.6 433.0,364.2 435.0,363.7 437.0,362.8 439.0,361.4 441.0,359.2 443.0,357.5 445.0,357.2 447.0,358.4 449.0,360.3 451.0,362.3 453.0,363.9 455.5,365.1 M115.5,365.2 147.7,365.2 187.5,364.8 223.6,365.7 246.0,365.5 255.0,364.8 259.0,364.3 263.0,363.9 267.0,363.6 271.0,363.5 275.0,363.6 279.0,363.9 283.0,364.3 287.0,365.4 291.0,367.3 295.0,367.7 299.0,367.1 303.0,366.0 307.0,364.3 311.0,363.3 315.0,363.4 319.0,363.7 323.0,364.4 327.0,365.1 331.0,364.8 335.0,365.0 339.0,365.7 343.0,364.2 347.0,362.9 351.0,363.4 355.0,364.3 359.0,365.5 363.0,366.9 367.0,367.9 371.0,368.6 375.0,368.8 379.0,367.8 383.0,365.6 387.0,362.6 391.0,361.2 395.0,362.8 399.0,362.1 403.0,361.6 407.0,365.4 411.0,369.1 415.0,371.5 419.0,372.9 423.0,371.2 427.0,367.6 433.0,365.2 435.0,364.4 437.0,362.7 439.0,360.3 441.0,356.4 443.0,353.5 445.0,353.0 447.0,354.8 449.0,358.0 451.0,361.5 453.0,364.1 455.5,366.0 M115.5,365.8 153.5,365.7 192.4,365.2 228.5,366.2 246.8,366.0 255.0,365.3 259.0,364.9 263.0,364.5 267.0,364.3 271.0,364.2 275.0,364.3 279.0,364.6 283.0,365.1 287.0,366.2 291.0,368.0 295.0,368.4 299.0,367.8 303.0,366.7 307.0,365.0 311.0,364.0 315.0,364.0 319.0,364.2 323.0,364.7 327.0,365.3 331.0,364.9 335.0,365.0 339.0,365.5 343.0,363.9 347.0,362.5 351.0,362.8 355.0,363.5 359.0,364.6 363.0,365.9 367.0,366.8 371.0,367.4 375.0,367.6 379.0,366.6 383.0,364.5 387.0,361.7 391.0,360.4 395.0,362.2 399.0,361.6 403.0,361.4 407.0,365.4 411.0,369.3 415.0,371.9 419.0,373.6 423.0,372.3 427.0,369.2 433.0,367.4 435.0,366.8 437.0,365.4 439.0,363.2 441.0,359.6 443.0,356.9 445.0,356.5 447.0,358.5 449.0,361.7 451.0,365.1 453.0,367.8 455.5,369.8 M115.5,373.7 158.2,373.7 176.0,373.5 220.3,373.8 249.9,373.6 255.0,373.3 259.0,372.9 263.0,372.6 267.0,372.4 271.0,372.4 275.0,372.4 279.0,372.7 283.0,373.0 287.0,373.9 291.0,375.3 295.0,375.6 299.0,375.2 303.0,374.4 307.0,373.2 311.0,372.4 315.0,372.5 319.0,372.7 323.0,373.2 327.0,373.7 331.0,373.5 335.0,373.7 339.0,374.2 343.0,373.0 347.0,372.0 351.0,372.3 355.0,372.9 359.0,373.8 363.0,374.8 367.0,375.5 371.0,376.0 375.0,376.0 379.0,375.2 383.0,373.5 387.0,371.2 391.0,370.1 395.0,371.2 399.0,370.6 403.0,370.1 407.0,372.9 411.0,375.6 415.0,377.3 419.0,378.3 423.0,377.0 427.0,374.3 433.0,372.6 435.0,371.9 437.0,370.8 439.0,369.0 441.0,366.2 443.0,364.1 445.0,363.8 447.0,365.3 449.0,367.7 451.0,370.4 453.0,372.5 455.5,374.1 M115.5,374.3 152.4,374.2 194.7,373.9 211.4,374.1 239.0,374.5 255.0,373.7 259.0,373.4 263.0,373.0 267.0,372.8 271.0,372.7 275.0,372.7 279.0,372.9 283.0,373.3 287.0,374.2 291.0,375.7 295.0,376.0 299.0,375.5 303.0,374.6 307.0,373.3 311.0,372.5 315.0,372.6 319.0,372.8 323.0,373.3 327.0,373.9 331.0,373.6 335.0,373.8 339.0,374.3 343.0,373.0 347.0,371.9 351.0,372.2 355.0,372.8 359.0,373.7 363.0,374.7 367.0,375.4 371.0,375.9 375.0,376.0 379.0,375.1 383.0,373.2 387.0,370.7 391.0,369.5 395.0,370.9 399.0,370.3 403.0,369.9 407.0,373.1 411.0,376.2 415.0,378.3 419.0,379.7 423.0,378.6 427.0,376.0 433.0,374.7 435.0,374.2 437.0,373.1 439.0,371.4 441.0,368.5 443.0,366.4 445.0,366.1 447.0,367.8 449.0,370.6 451.0,373.5 453.0,375.8 455.5,377.6 M115.5,374.6 152.9,374.5 197.0,374.3 218.0,374.9 240.0,375.1 255.0,374.4 259.0,374.0 263.0,373.7 267.0,373.4 271.0,373.3 275.0,373.4 279.0,373.6 283.0,373.9 287.0,374.8 291.0,376.2 295.0,376.5 299.0,376.0 303.0,375.1 307.0,373.7 311.0,372.9 315.0,372.9 319.0,373.1 323.0,373.6 327.0,374.2 331.0,373.9 335.0,374.1 339.0,374.7 343.0,373.6 347.0,372.6 351.0,373.0 355.0,373.8 359.0,374.9 363.0,376.2 367.0,377.1 371.0,377.8 375.0,378.1 379.0,377.5 383.0,375.9 387.0,373.6 391.0,372.6 395.0,374.1 399.0,373.6 403.0,373.3 407.0,376.4 411.0,379.5 415.0,381.4 419.0,382.5 423.0,381.1 427.0,378.2 433.0,376.1 435.0,375.4 437.0,374.0 439.0,372.0 441.0,368.8 443.0,366.4 445.0,365.8 447.0,367.2 449.0,369.7 451.0,372.4 453.0,374.4 455.5,375.8 M115.5,375.5 140.6,375.5 195.2,375.3 223.6,375.8 248.3,375.8 255.0,375.4 259.0,375.2 263.0,375.0 267.0,374.9 271.0,374.8 275.0,374.9 279.0,375.1 283.0,375.5 287.0,376.2 291.0,377.5 295.0,377.8 299.0,377.5 303.0,376.9 307.0,375.9 311.0,375.3 315.0,375.4 319.0,375.6 323.0,376.0 327.0,376.4 331.0,376.2 335.0,376.3 339.0,376.7 343.0,375.7 347.0,374.8 351.0,375.0 355.0,375.5 359.0,376.1 363.0,376.8 367.0,377.3 371.0,377.7 375.0,377.6 379.0,376.9 383.0,375.4 387.0,373.5 391.0,372.5 395.0,373.4 399.0,372.9 403.0,372.5 407.0,374.8 411.0,377.0 415.0,378.4 419.0,379.2 423.0,378.2 427.0,375.9 433.0,374.5 435.0,374.0 437.0,373.0 439.0,371.5 441.0,369.1 443.0,367.4 445.0,367.0 447.0,368.2 449.0,370.2 451.0,372.3 453.0,373.9 455.5,375.1 M115.5,376.5 129.2,376.6 197.5,376.4 213.7,376.9 242.0,377.4 255.0,376.4 259.0,375.9 263.0,375.5 267.0,375.2 271.0,375.0 275.0,375.2 279.0,375.5 283.0,376.0 287.0,377.3 291.0,379.5 295.0,379.9 299.0,379.2 303.0,377.8 307.0,375.7 311.0,374.4 315.0,374.3 319.0,374.5 323.0,375.1 327.0,375.8 331.0,375.2 335.0,375.3 339.0,375.9 343.0,374.0 347.0,372.3 351.0,372.7 355.0,373.6 359.0,374.9 363.0,376.5 367.0,377.6 371.0,378.5 375.0,378.8 379.0,377.7 383.0,375.2 387.0,371.9 391.0,370.3 395.0,372.5 399.0,371.8 403.0,371.5 407.0,376.2 411.0,380.8 415.0,383.8 419.0,385.7 423.0,383.9 427.0,379.8 433.0,377.4 435.0,376.4 437.0,374.6 439.0,371.8 441.0,367.3 443.0,364.0 445.0,363.3 447.0,365.6 449.0,369.3 451.0,373.4 453.0,376.5 455.5,378.7 M115.5,377.7 148.0,377.6 195.4,377.3 225.1,378.1 241.3,378.1 255.0,377.3 259.0,376.9 263.0,376.6 267.0,376.4 271.0,376.2 275.0,376.3 279.0,376.5 283.0,376.9 287.0,377.9 291.0,379.5 295.0,379.9 299.0,379.4 303.0,378.4 307.0,376.9 311.0,376.1 315.0,376.2 319.0,376.4 323.0,377.0 327.0,377.6 331.0,377.3 335.0,377.6 339.0,378.2 343.0,376.9 347.0,375.8 351.0,376.1 355.0,376.9 359.0,377.9 363.0,379.1 367.0,379.9 371.0,380.5 375.0,380.6 379.0,379.7 383.0,377.7 387.0,375.1 391.0,373.7 395.0,375.1 399.0,374.3 403.0,373.8 407.0,377.1 411.0,380.3 415.0,382.3 419.0,383.5 423.0,382.0 427.0,378.9 433.0,376.9 435.0,376.2 437.0,374.9 439.0,372.8 441.0,369.6 443.0,367.1 445.0,366.7 447.0,368.4 449.0,371.3 451.0,374.4 453.0,376.8 455.5,378.6 M115.5,378.9 132.6,378.8 177.9,378.2 216.1,378.6 249.5,378.8 255.0,378.4 259.0,378.0 263.0,377.7 267.0,377.5 271.0,377.4 275.0,377.5 279.0,377.8 283.0,378.3 287.0,379.3 291.0,380.9 295.0,381.3 299.0,380.8 303.0,379.9 307.0,378.4 311.0,377.5 315.0,377.5 319.0,377.8 323.0,378.3 327.0,378.9 331.0,378.5 335.0,378.7 339.0,379.3 343.0,377.9 347.0,376.8 351.0,377.1 355.0,377.9 359.0,378.9 363.0,380.2 367.0,381.1 371.0,381.7 375.0,381.9 379.0,381.1 383.0,379.2 387.0,376.6 391.0,375.4 395.0,376.8 399.0,376.2 403.0,375.7 407.0,379.0 411.0,382.2 415.0,384.2 419.0,385.3 423.0,383.7 427.0,380.4 433.0,378.1 435.0,377.2 437.0,375.7 439.0,373.5 441.0,370.0 443.0,367.4 445.0,366.8 447.0,368.3 449.0,371.0 451.0,373.9 453.0,376.1 455.5,377.7 M115.5,379.9 137.1,379.8 191.9,379.1 231.4,380.0 241.6,379.9 255.0,379.2 259.0,378.9 263.0,378.5 267.0,378.3 271.0,378.2 275.0,378.3 279.0,378.5 283.0,378.8 287.0,379.7 291.0,381.2 295.0,381.6 299.0,381.1 303.0,380.1 307.0,378.7 311.0,377.9 315.0,377.9 319.0,378.2 323.0,378.7 327.0,379.3 331.0,379.0 335.0,379.3 339.0,379.9 343.0,378.7 347.0,377.8 351.0,378.2 355.0,379.1 359.0,380.2 363.0,381.5 367.0,382.5 371.0,383.3 375.0,383.6 379.0,382.9 383.0,381.3 387.0,379.0 391.0,377.9 395.0,379.3 399.0,378.8 403.0,378.4 407.0,381.6 411.0,384.6 415.0,386.4 419.0,387.5 423.0,386.0 427.0,382.9 433.0,380.8 435.0,380.1 437.0,378.7 439.0,376.6 441.0,373.4 443.0,371.0 445.0,370.4 447.0,371.9 449.0,374.5 451.0,377.2 453.0,379.4 455.5,380.9 M115.5,380.7 134.7,380.7 192.4,380.1 214.9,380.7 247.0,381.0 255.0,380.4 259.0,379.9 263.0,379.5 267.0,379.3 271.0,379.2 275.0,379.4 279.0,379.7 283.0,380.3 287.0,381.6 291.0,383.7 295.0,384.2 299.0,383.7 303.0,382.5 307.0,380.7 311.0,379.7 315.0,379.8 319.0,380.1 323.0,380.7 327.0,381.4 331.0,380.9 335.0,381.1 339.0,381.6 343.0,379.8 347.0,378.2 351.0,378.5 355.0,379.2 359.0,380.2 363.0,381.4 367.0,382.2 371.0,382.7 375.0,382.7 379.0,381.4 383.0,378.8 387.0,375.4 391.0,373.7 395.0,375.4 399.0,374.5 403.0,374.0 407.0,378.2 411.0,382.3 415.0,384.9 419.0,386.7 423.0,385.2 427.0,381.6 433.0,379.7 435.0,379.0 437.0,377.5 439.0,375.1 441.0,371.3 443.0,368.4 445.0,368.0 447.0,370.3 449.0,373.9 451.0,377.8 453.0,380.9 455.5,383.2 M115.5,381.2 138.9,381.2 192.4,380.8 218.7,381.4 247.6,381.5 255.0,381.0 259.0,380.6 263.0,380.3 267.0,380.1 271.0,379.9 275.0,380.0 279.0,380.2 283.0,380.6 287.0,381.5 291.0,382.9 295.0,383.2 299.0,382.6 303.0,381.6 307.0,380.0 311.0,379.1 315.0,379.0 319.0,379.1 323.0,379.5 327.0,380.0 331.0,379.6 335.0,379.8 339.0,380.3 343.0,379.1 347.0,378.0 351.0,378.5 355.0,379.3 359.0,380.5 363.0,381.9 367.0,383.0 371.0,383.9 375.0,384.4 379.0,383.9 383.0,382.4 387.0,380.3 391.0,379.5 395.0,381.2 399.0,380.9 403.0,380.8 407.0,384.2 411.0,387.5 415.0,389.6 419.0,390.8 423.0,389.4 427.0,386.2 433.0,384.0 435.0,383.1 437.0,381.6 439.0,379.4 441.0,376.0 443.0,373.4 445.0,372.6 447.0,374.0 449.0,376.4 451.0,379.0 453.0,381.0 455.5,382.3 M115.5,381.5 158.6,381.7 192.1,381.5 223.6,382.0 241.8,381.9 255.0,381.2 259.0,380.8 263.0,380.5 267.0,380.3 271.0,380.1 275.0,380.2 279.0,380.5 283.0,380.9 287.0,381.9 291.0,383.5 295.0,384.0 299.0,383.7 303.0,382.9 307.0,381.7 311.0,381.0 315.0,381.2 319.0,381.6 323.0,382.1 327.0,382.7 331.0,382.5 335.0,382.6 339.0,383.1 343.0,381.7 347.0,380.4 351.0,380.5 355.0,380.8 359.0,381.4 363.0,382.1 367.0,382.4 371.0,382.5 375.0,382.2 379.0,380.9 383.0,378.7 387.0,375.9 391.0,374.4 395.0,375.5 399.0,374.7 403.0,374.3 407.0,377.4 411.0,380.6 415.0,382.8 419.0,384.4 423.0,383.7 427.0,381.4 433.0,380.8 435.0,380.5 437.0,379.7 439.0,378.2 441.0,375.6 443.0,373.7 445.0,373.7 447.0,375.7 449.0,378.7 451.0,381.9 453.0,384.4 455.5,386.4 M115.5,382.7 145.4,382.7 175.8,382.4 208.8,382.6 250.2,382.7 255.0,382.3 259.0,381.8 263.0,381.4 267.0,381.1 271.0,381.0 275.0,381.1 279.0,381.3 283.0,381.8 287.0,382.9 291.0,384.7 295.0,385.1 299.0,384.5 303.0,383.4 307.0,381.7 311.0,380.7 315.0,380.8 319.0,381.1 323.0,381.6 327.0,382.3 331.0,382.0 335.0,382.2 339.0,382.8 343.0,381.3 347.0,380.0 351.0,380.4 355.0,381.2 359.0,382.4 363.0,383.7 367.0,384.7 371.0,385.4 375.0,385.6 379.0,384.7 383.0,382.5 387.0,379.6 391.0,378.2 395.0,379.9 399.0,379.3 403.0,378.9 407.0,382.8 411.0,386.6 415.0,389.1 419.0,390.6 423.0,389.1 427.0,385.7 433.0,383.6 435.0,382.9 437.0,381.4 439.0,379.0 441.0,375.3 443.0,372.6 445.0,372.0 447.0,374.0 449.0,377.2 451.0,380.7 453.0,383.3 455.5,385.3 M115.5,383.5 137.6,383.4 172.1,383.4 216.2,384.2 240.4,384.5 255.0,383.4 259.0,382.9 263.0,382.4 267.0,382.1 271.0,381.9 275.0,381.9 279.0,382.2 283.0,382.6 287.0,383.8 291.0,385.7 295.0,386.1 299.0,385.4 303.0,384.2 307.0,382.3 311.0,381.2 315.0,381.3 319.0,381.6 323.0,382.3 327.0,383.1 331.0,382.8 335.0,383.1 339.0,383.9 343.0,382.3 347.0,381.0 351.0,381.4 355.0,382.4 359.0,383.7 363.0,385.1 367.0,386.1 371.0,386.8 375.0,386.9 379.0,385.7 383.0,383.2 387.0,379.8 391.0,378.1 395.0,379.8 399.0,378.9 403.0,378.3 407.0,382.3 411.0,386.3 415.0,388.9 419.0,390.6 423.0,389.0 427.0,385.4 433.0,383.5 435.0,382.8 437.0,381.3 439.0,378.9 441.0,375.1 443.0,372.3 445.0,371.9 447.0,374.3 449.0,378.0 451.0,382.0 453.0,385.1 455.5,387.5 M115.5,384.2 145.2,384.2 172.7,384.0 231.6,384.9 240.2,384.7 255.0,383.8 259.0,383.4 263.0,382.9 267.0,382.7 271.0,382.5 275.0,382.6 279.0,382.9 283.0,383.4 287.0,384.6 291.0,386.5 295.0,386.9 299.0,386.3 303.0,385.2 307.0,383.4 311.0,382.4 315.0,382.5 319.0,382.8 323.0,383.4 327.0,384.1 331.0,383.7 335.0,383.9 339.0,384.6 343.0,383.0 347.0,381.6 351.0,381.9 355.0,382.7 359.0,383.8 363.0,385.1 367.0,386.0 371.0,386.7 375.0,386.7 379.0,385.6 383.0,383.2 387.0,380.0 391.0,378.4 395.0,379.9 399.0,379.1 403.0,378.5 407.0,382.3 411.0,386.1 415.0,388.5 419.0,389.9 423.0,388.2 427.0,384.6 433.0,382.3 435.0,381.5 437.0,379.9 439.0,377.5 441.0,373.6 443.0,370.8 445.0,370.3 447.0,372.3 449.0,375.7 451.0,379.4 453.0,382.2 455.5,384.4 M115.5,384.9 150.0,384.6 174.3,384.2 209.1,384.5 248.8,384.8 255.0,384.2 259.0,383.6 263.0,383.1 267.0,382.7 271.0,382.5 275.0,382.6 279.0,382.9 283.0,383.4 287.0,384.7 291.0,386.8 295.0,387.3 299.0,386.6 303.0,385.2 307.0,383.2 311.0,382.1 315.0,382.2 319.0,382.6 323.0,383.5 327.0,384.4 331.0,384.2 335.0,384.6 339.0,385.6 343.0,384.0 347.0,382.7 351.0,383.4 355.0,384.6 359.0,386.2 363.0,388.1 367.0,389.4 371.0,390.4 375.0,390.7 379.0,389.6 383.0,386.9 387.0,383.4 391.0,381.6 395.0,383.4 399.0,382.4 403.0,381.7 407.0,386.1 411.0,390.3 415.0,392.9 419.0,394.4 423.0,392.3 427.0,387.8 433.0,384.8 435.0,383.8 437.0,381.8 439.0,378.9 441.0,374.3 443.0,370.9 445.0,370.2 447.0,372.6 449.0,376.4 451.0,380.7 453.0,383.9 455.5,386.3 M115.5,385.6 133.3,385.5 186.8,385.2 224.2,386.2 239.6,386.2 255.0,385.4 259.0,385.1 263.0,384.7 267.0,384.5 271.0,384.3 275.0,384.4 279.0,384.6 283.0,385.0 287.0,385.9 291.0,387.4 295.0,387.7 299.0,387.1 303.0,386.1 307.0,384.5 311.0,383.6 315.0,383.5 319.0,383.7 323.0,384.2 327.0,384.8 331.0,384.5 335.0,384.7 339.0,385.3 343.0,384.0 347.0,383.0 351.0,383.5 355.0,384.4 359.0,385.6 363.0,387.0 367.0,388.0 371.0,388.9 375.0,389.3 379.0,388.7 383.0,387.0 387.0,384.7 391.0,383.7 395.0,385.3 399.0,384.8 403.0,384.5 407.0,387.9 411.0,391.1 415.0,393.0 419.0,394.1 423.0,392.5 427.0,389.1 433.0,386.7 435.0,385.7 437.0,384.1 439.0,381.8 441.0,378.3 443.0,375.6 445.0,374.9 447.0,376.3 449.0,378.8 451.0,381.5 453.0,383.6 455.5,385.0 M115.5,388.6 139.0,388.6 169.6,388.5 211.4,388.8 245.2,389.1 255.0,388.5 259.0,388.1 263.0,387.7 267.0,387.5 271.0,387.4 275.0,387.4 279.0,387.6 283.0,387.9 287.0,388.8 291.0,390.2 295.0,390.5 299.0,390.0 303.0,388.9 307.0,387.5 311.0,386.6 315.0,386.5 319.0,386.7 323.0,387.2 327.0,387.7 331.0,387.3 335.0,387.5 339.0,388.0 343.0,386.8 347.0,385.7 351.0,386.0 355.0,386.8 359.0,387.8 363.0,388.9 367.0,389.8 371.0,390.4 375.0,390.6 379.0,389.8 383.0,387.9 387.0,385.5 391.0,384.3 395.0,385.7 399.0,385.1 403.0,384.7 407.0,387.8 411.0,390.9 415.0,392.9 419.0,394.1 423.0,392.8 427.0,389.9 433.0,388.3 435.0,387.7 437.0,386.4 439.0,384.5 441.0,381.5 443.0,379.3 445.0,378.9 447.0,380.6 449.0,383.4 451.0,386.4 453.0,388.7 455.5,390.5 M115.5,389.3 131.7,389.2 188.4,388.7 219.0,389.3 238.4,389.6 255.0,388.8 259.0,388.5 263.0,388.1 267.0,387.9 271.0,387.8 275.0,387.9 279.0,388.2 283.0,388.6 287.0,389.6 291.0,391.3 295.0,391.6 299.0,391.2 303.0,390.2 307.0,388.7 311.0,387.9 315.0,387.9 319.0,388.2 323.0,388.7 327.0,389.2 331.0,388.9 335.0,389.1 339.0,389.6 343.0,388.3 347.0,387.1 351.0,387.4 355.0,388.1 359.0,389.1 363.0,390.3 367.0,391.2 371.0,391.8 375.0,392.0 379.0,391.1 383.0,389.2 387.0,386.7 391.0,385.5 395.0,387.0 399.0,386.4 403.0,386.1 407.0,389.5 411.0,392.8 415.0,395.0 419.0,396.3 423.0,395.0 427.0,391.9 433.0,390.0 435.0,389.3 437.0,387.9 439.0,385.8 441.0,382.5 443.0,380.0 445.0,379.4 447.0,381.1 449.0,383.8 451.0,386.7 453.0,389.0 455.5,390.6 M115.5,389.5 132.7,389.5 193.7,389.4 218.6,389.8 243.7,389.9 255.0,389.4 259.0,389.2 263.0,389.0 267.0,388.8 271.0,388.7 275.0,388.7 279.0,388.8 283.0,389.0 287.0,389.5 291.0,390.4 295.0,390.6 299.0,390.2 303.0,389.7 307.0,388.8 311.0,388.3 315.0,388.4 319.0,388.6 323.0,389.0 327.0,389.4 331.0,389.3 335.0,389.6 339.0,390.1 343.0,389.4 347.0,389.0 351.0,389.3 355.0,389.9 359.0,390.7 363.0,391.5 367.0,392.1 371.0,392.6 375.0,392.7 379.0,392.3 383.0,391.1 387.0,389.6 391.0,388.8 395.0,389.5 399.0,388.9 403.0,388.5 407.0,390.1 411.0,391.7 415.0,392.5 419.0,392.9 423.0,391.7 427.0,389.6 433.0,387.9 435.0,387.4 437.0,386.4 439.0,385.1 441.0,383.1 443.0,381.5 445.0,381.2 447.0,382.1 449.0,383.6 451.0,385.3 453.0,386.6 455.5,387.6 M115.5,390.5 142.3,390.4 175.3,390.2 230.5,391.2 243.6,391.1 255.0,390.5 259.0,390.1 263.0,389.8 267.0,389.6 271.0,389.5 275.0,389.7 279.0,389.9 283.0,390.4 287.0,391.4 291.0,393.0 295.0,393.4 299.0,393.0 303.0,392.0 307.0,390.6 311.0,389.7 315.0,389.8 319.0,390.0 323.0,390.5 327.0,391.0 331.0,390.7 335.0,390.8 339.0,391.3 343.0,389.9 347.0,388.7 351.0,388.9 355.0,389.6 359.0,390.5 363.0,391.5 367.0,392.2 371.0,392.7 375.0,392.7 379.0,391.7 383.0,389.7 387.0,387.0 391.0,385.6 395.0,386.9 399.0,386.2 403.0,385.7 407.0,389.0 411.0,392.2 415.0,394.2 419.0,395.5 423.0,394.1 427.0,391.1 433.0,389.3 435.0,388.7 437.0,387.4 439.0,385.4 441.0,382.2 443.0,379.9 445.0,379.5 447.0,381.3 449.0,384.1 451.0,387.3 453.0,389.7 455.5,391.5 M115.5,391.7 156.7,391.6 181.4,391.3 216.1,391.8 244.2,392.0 255.0,391.3 259.0,390.9 263.0,390.6 267.0,390.3 271.0,390.2 275.0,390.3 279.0,390.5 283.0,390.9 287.0,391.8 291.0,393.4 295.0,393.8 299.0,393.3 303.0,392.3 307.0,390.8 311.0,390.0 315.0,390.0 319.0,390.3 323.0,390.9 327.0,391.5 331.0,391.2 335.0,391.4 339.0,392.1 343.0,390.7 347.0,389.7 351.0,390.0 355.0,390.8 359.0,391.8 363.0,393.0 367.0,393.8 371.0,394.5 375.0,394.6 379.0,393.7 383.0,391.7 387.0,389.0 391.0,387.7 395.0,389.1 399.0,388.3 403.0,387.9 407.0,391.2 411.0,394.4 415.0,396.4 419.0,397.7 423.0,396.2 427.0,393.2 433.0,391.3 435.0,390.6 437.0,389.3 439.0,387.2 441.0,384.0 443.0,381.6 445.0,381.2 447.0,382.9 449.0,385.8 451.0,388.9 453.0,391.3 455.5,393.1 M115.5,392.3 140.7,392.1 172.8,391.9 228.4,392.9 249.9,392.2 255.0,391.6 259.0,391.1 263.0,390.6 267.0,390.3 271.0,390.1 275.0,390.1 279.0,390.3 283.0,390.7 287.0,391.8 291.0,393.7 295.0,394.2 299.0,393.6 303.0,392.5 307.0,390.9 311.0,390.0 315.0,390.2 319.0,390.8 323.0,391.7 327.0,392.7 331.0,392.7 335.0,393.2 339.0,394.3 343.0,393.0 347.0,391.9 351.0,392.6 355.0,393.7 359.0,395.1 363.0,396.6 367.0,397.6 371.0,398.3 375.0,398.3 379.0,397.0 383.0,394.4 387.0,390.9 391.0,388.9 395.0,390.1 399.0,388.8 403.0,387.8 407.0,391.2 411.0,394.6 415.0,396.5 419.0,397.6 423.0,395.6 427.0,391.7 433.0,389.2 435.0,388.4 437.0,386.8 439.0,384.4 441.0,380.6 443.0,377.8 445.0,377.5 447.0,379.7 449.0,383.3 451.0,387.2 453.0,390.2 455.5,392.6 M115.5,392.8 146.8,392.6 193.4,392.1 231.9,393.0 242.2,392.9 255.0,392.3 259.0,392.0 263.0,391.7 267.0,391.5 271.0,391.4 275.0,391.5 279.0,391.7 283.0,392.1 287.0,393.0 291.0,394.4 295.0,394.8 299.0,394.3 303.0,393.5 307.0,392.2 311.0,391.5 315.0,391.5 319.0,391.8 323.0,392.3 327.0,392.8 331.0,392.5 335.0,392.7 339.0,393.2 343.0,392.0 347.0,391.0 351.0,391.3 355.0,392.0 359.0,392.9 363.0,394.0 367.0,394.8 371.0,395.4 375.0,395.6 379.0,394.9 383.0,393.4 387.0,391.2 391.0,390.3 395.0,391.7 399.0,391.4 403.0,391.2 407.0,394.3 411.0,397.4 415.0,399.4 419.0,400.8 423.0,399.7 427.0,397.2 433.0,395.8 435.0,395.2 437.0,394.1 439.0,392.3 441.0,389.4 443.0,387.3 445.0,386.8 447.0,388.2 449.0,390.6 451.0,393.2 453.0,395.1 455.5,396.5 M115.5,393.7 142.0,393.6 182.3,393.4 210.8,393.8 245.3,394.1 255.0,393.4 259.0,392.9 263.0,392.5 267.0,392.3 271.0,392.1 275.0,392.1 279.0,392.3 283.0,392.6 287.0,393.6 291.0,395.2 295.0,395.5 299.0,394.9 303.0,393.8 307.0,392.2 311.0,391.2 315.0,391.2 319.0,391.5 323.0,392.1 327.0,392.7 331.0,392.4 335.0,392.6 339.0,393.3 343.0,391.9 347.0,390.8 351.0,391.3 355.0,392.1 359.0,393.3 363.0,394.6 367.0,395.5 371.0,396.2 375.0,396.4 379.0,395.5 383.0,393.5 387.0,390.7 391.0,389.4 395.0,390.8 399.0,390.1 403.0,389.6 407.0,393.1 411.0,396.4 415.0,398.5 419.0,399.8 423.0,398.4 427.0,395.1 433.0,393.2 435.0,392.5 437.0,391.1 439.0,389.0 441.0,385.6 443.0,383.1 445.0,382.8 447.0,384.6 449.0,387.7 451.0,391.0 453.0,393.6 455.5,395.5 M115.5,396.6 147.7,396.5 169.0,396.4 214.4,396.8 239.0,397.3 255.0,396.3 259.0,395.9 263.0,395.5 267.0,395.2 271.0,395.1 275.0,395.1 279.0,395.3 283.0,395.8 287.0,396.8 291.0,398.6 295.0,399.0 299.0,398.5 303.0,397.4 307.0,395.8 311.0,394.9 315.0,395.0 319.0,395.4 323.0,396.1 327.0,396.9 331.0,396.8 335.0,397.1 339.0,398.0 343.0,396.7 347.0,395.6 351.0,396.1 355.0,397.1 359.0,398.4 363.0,399.8 367.0,400.8 371.0,401.5 375.0,401.6 379.0,400.5 383.0,398.2 387.0,395.0 391.0,393.3 395.0,394.6 399.0,393.4 403.0,392.5 407.0,395.7 411.0,398.7 415.0,400.5 419.0,401.3 423.0,399.2 427.0,395.2 433.0,392.3 435.0,391.2 437.0,389.5 439.0,387.0 441.0,383.2 443.0,380.3 445.0,379.8 447.0,381.6 449.0,384.7 451.0,388.2 453.0,390.8 455.5,392.8 M115.5,397.1 158.1,397.1 186.6,396.8 227.7,397.6 247.2,397.4 255.0,396.8 259.0,396.5 263.0,396.1 267.0,395.9 271.0,395.8 275.0,395.9 279.0,396.1 283.0,396.5 287.0,397.5 291.0,399.0 295.0,399.4 299.0,398.9 303.0,398.0 307.0,396.6 311.0,395.8 315.0,395.8 319.0,396.1 323.0,396.6 327.0,397.1 331.0,396.8 335.0,397.0 339.0,397.5 343.0,396.1 347.0,395.0 351.0,395.3 355.0,395.9 359.0,396.8 363.0,397.8 367.0,398.5 371.0,399.0 375.0,399.1 379.0,398.2 383.0,396.2 387.0,393.7 391.0,392.4 395.0,393.8 399.0,393.1 403.0,392.7 407.0,395.9 411.0,399.1 415.0,401.1 419.0,402.4 423.0,401.2 427.0,398.4 433.0,396.9 435.0,396.3 437.0,395.1 439.0,393.2 441.0,390.2 443.0,388.0 445.0,387.7 447.0,389.4 449.0,392.2 451.0,395.2 453.0,397.6 455.5,399.3 M115.5,397.7 133.6,397.7 178.2,397.3 214.7,397.6 249.7,397.7 255.0,397.3 259.0,396.8 263.0,396.4 267.0,396.2 271.0,396.2 275.0,396.3 279.0,396.7 283.0,397.2 287.0,398.5 291.0,400.5 295.0,401.0 299.0,400.5 303.0,399.4 307.0,397.7 311.0,396.7 315.0,396.8 319.0,397.1 323.0,397.7 327.0,398.3 331.0,397.9 335.0,398.0 339.0,398.5 343.0,396.8 347.0,395.3 351.0,395.5 355.0,396.2 359.0,397.2 363.0,398.5 367.0,399.3 371.0,400.0 375.0,400.0 379.0,398.9 383.0,396.6 387.0,393.6 391.0,392.2 395.0,394.0 399.0,393.4 403.0,393.1 407.0,397.2 411.0,401.3 415.0,404.0 419.0,405.8 423.0,404.3 427.0,400.9 433.0,398.8 435.0,398.0 437.0,396.5 439.0,394.0 441.0,390.1 443.0,387.2 445.0,386.6 447.0,388.5 449.0,391.8 451.0,395.3 453.0,398.0 455.5,399.9 M115.5,402.7 147.3,402.7 169.8,402.4 219.2,403.1 246.1,403.2 255.0,402.4 259.0,401.8 263.0,401.3 267.0,401.1 271.0,400.9 275.0,401.0 279.0,401.4 283.0,401.9 287.0,403.3 291.0,405.6 295.0,406.1 299.0,405.4 303.0,404.0 307.0,401.9 311.0,400.7 315.0,400.7 319.0,401.0 323.0,401.7 327.0,402.4 331.0,401.9 335.0,402.1 339.0,402.8 343.0,400.8 347.0,399.1 351.0,399.4 355.0,400.3 359.0,401.5 363.0,403.0 367.0,404.1 371.0,404.8 375.0,404.9 379.0,403.5 383.0,400.7 387.0,397.1 391.0,395.3 395.0,397.3 399.0,396.5 403.0,396.0 407.0,400.8 411.0,405.6 415.0,408.7 419.0,410.8 423.0,409.2 427.0,405.3 433.0,403.2 435.0,402.5 437.0,400.8 439.0,398.1 441.0,393.8 443.0,390.6 445.0,390.1 447.0,392.7 449.0,396.8 451.0,401.2 453.0,404.6 455.5,407.2 M115.5,403.0 128.3,403.0 194.5,402.9 223.9,403.5 247.3,403.2 255.0,402.6 259.0,402.2 263.0,401.8 267.0,401.6 271.0,401.5 275.0,401.6 279.0,402.0 283.0,402.5 287.0,403.7 291.0,405.7 295.0,406.3 299.0,405.9 303.0,405.1 307.0,403.7 311.0,403.0 315.0,403.3 319.0,403.7 323.0,404.4 327.0,405.2 331.0,404.9 335.0,405.1 339.0,405.6 343.0,404.0 347.0,402.5 351.0,402.5 355.0,402.9 359.0,403.6 363.0,404.3 367.0,404.7 371.0,404.8 375.0,404.3 379.0,402.8 383.0,400.1 387.0,396.8 391.0,395.0 395.0,396.1 399.0,395.1 403.0,394.5 407.0,398.0 411.0,401.6 415.0,404.0 419.0,405.7 423.0,404.5 427.0,401.7 433.0,400.5 435.0,400.1 437.0,399.0 439.0,397.1 441.0,393.9 443.0,391.6 445.0,391.5 447.0,393.7 449.0,397.1 451.0,400.7 453.0,403.5 455.5,405.8 M115.5,403.8 138.5,403.8 191.6,403.1 220.4,404.0 247.4,404.0 255.0,403.2 259.0,402.7 263.0,402.2 267.0,402.0 271.0,401.8 275.0,402.0 279.0,402.4 283.0,403.0 287.0,404.4 291.0,406.7 295.0,407.3 299.0,406.7 303.0,405.4 307.0,403.5 311.0,402.3 315.0,402.4 319.0,402.9 323.0,403.6 327.0,404.4 331.0,404.0 335.0,404.3 339.0,405.0 343.0,403.1 347.0,401.4 351.0,401.8 355.0,402.7 359.0,403.9 363.0,405.4 367.0,406.4 371.0,407.1 375.0,407.2 379.0,405.8 383.0,403.0 387.0,399.3 391.0,397.4 395.0,399.3 399.0,398.4 403.0,397.8 407.0,402.4 411.0,406.9 415.0,409.8 419.0,411.7 423.0,409.8 427.0,405.6 433.0,403.2 435.0,402.3 437.0,400.4 439.0,397.6 441.0,393.1 443.0,389.8 445.0,389.2 447.0,391.6 449.0,395.5 451.0,399.8 453.0,403.1 455.5,405.5 M115.5,404.7 153.5,404.6 171.4,404.4 212.9,404.7 247.0,405.0 255.0,404.3 259.0,403.8 263.0,403.3 267.0,403.0 271.0,402.9 275.0,403.0 279.0,403.4 283.0,404.0 287.0,405.4 291.0,407.7 295.0,408.2 299.0,407.6 303.0,406.3 307.0,404.3 311.0,403.1 315.0,403.2 319.0,403.6 323.0,404.3 327.0,405.0 331.0,404.6 335.0,404.7 339.0,405.4 343.0,403.4 347.0,401.8 351.0,402.1 355.0,402.9 359.0,404.1 363.0,405.6 367.0,406.5 371.0,407.2 375.0,407.3 379.0,405.9 383.0,403.2 387.0,399.6 391.0,397.8 395.0,399.8 399.0,398.9 403.0,398.5 407.0,403.2 411.0,407.9 415.0,410.9 419.0,412.9 423.0,411.3 427.0,407.4 433.0,405.2 435.0,404.4 437.0,402.7 439.0,400.0 441.0,395.7 443.0,392.4 445.0,391.9 447.0,394.3 449.0,398.3 451.0,402.6 453.0,405.8 455.5,408.3 M115.5,408.8 140.2,408.6 180.8,408.2 208.8,408.5 248.4,408.9 255.0,408.5 259.0,408.2 263.0,407.9 267.0,407.7 271.0,407.6 275.0,407.7 279.0,407.9 283.0,408.2 287.0,409.0 291.0,410.4 295.0,410.6 299.0,410.2 303.0,409.3 307.0,408.0 311.0,407.3 315.0,407.3 319.0,407.5 323.0,408.0 327.0,408.5 331.0,408.3 335.0,408.5 339.0,409.1 343.0,408.0 347.0,407.2 351.0,407.6 355.0,408.4 359.0,409.5 363.0,410.6 367.0,411.5 371.0,412.3 375.0,412.6 379.0,412.0 383.0,410.5 387.0,408.4 391.0,407.4 395.0,408.6 399.0,408.0 403.0,407.5 407.0,410.1 411.0,412.6 415.0,414.0 419.0,414.7 423.0,413.1 427.0,410.0 433.0,407.5 435.0,406.6 437.0,405.1 439.0,403.0 441.0,399.9 443.0,397.5 445.0,396.9 447.0,398.0 449.0,400.1 451.0,402.4 453.0,404.1 455.5,405.3 M115.5,409.7 153.4,409.7 189.2,409.2 227.8,410.5 244.6,410.2 255.0,409.2 259.0,408.7 263.0,408.1 267.0,407.8 271.0,407.6 275.0,407.7 279.0,408.0 283.0,408.5 287.0,409.9 291.0,412.3 295.0,412.8 299.0,412.0 303.0,410.6 307.0,408.5 311.0,407.3 315.0,407.4 319.0,407.9 323.0,408.8 327.0,409.8 331.0,409.5 335.0,410.0 339.0,411.0 343.0,409.3 347.0,407.8 351.0,408.5 355.0,409.8 359.0,411.4 363.0,413.3 367.0,414.6 371.0,415.6 375.0,415.8 379.0,414.5 383.0,411.5 387.0,407.6 391.0,405.5 395.0,407.3 399.0,406.0 403.0,404.9 407.0,409.3 411.0,413.5 415.0,415.9 419.0,417.2 423.0,414.6 427.0,409.5 433.0,405.8 435.0,404.6 437.0,402.3 439.0,399.1 441.0,394.1 443.0,390.4 445.0,389.6 447.0,392.0 449.0,396.0 451.0,400.5 453.0,403.8 455.5,406.4 M115.5,410.1 146.0,410.1 176.1,409.9 223.7,410.6 246.6,410.4 255.0,409.8 259.0,409.5 263.0,409.1 267.0,408.9 271.0,408.8 275.0,408.9 279.0,409.1 283.0,409.5 287.0,410.3 291.0,411.8 295.0,412.2 299.0,411.7 303.0,410.9 307.0,409.6 311.0,408.9 315.0,409.0 319.0,409.2 323.0,409.8 327.0,410.4 331.0,410.2 335.0,410.4 339.0,411.0 343.0,409.8 347.0,408.8 351.0,409.1 355.0,409.7 359.0,410.6 363.0,411.6 367.0,412.2 371.0,412.7 375.0,412.7 379.0,411.7 383.0,409.8 387.0,407.3 391.0,406.0 395.0,407.1 399.0,406.3 403.0,405.8 407.0,408.6 411.0,411.4 415.0,413.1 419.0,414.2 423.0,412.8 427.0,410.0 433.0,408.3 435.0,407.7 437.0,406.5 439.0,404.7 441.0,401.8 443.0,399.6 445.0,399.3 447.0,400.9 449.0,403.5 451.0,406.4 453.0,408.6 455.5,410.3 M115.5,410.6 131.3,410.6 196.3,410.4 231.5,411.2 248.7,410.8 255.0,410.4 259.0,410.1 263.0,409.7 267.0,409.5 271.0,409.4 275.0,409.4 279.0,409.6 283.0,409.8 287.0,410.6 291.0,411.9 295.0,412.1 299.0,411.7 303.0,410.8 307.0,409.6 311.0,408.9 315.0,408.9 319.0,409.2 323.0,409.7 327.0,410.2 331.0,410.1 335.0,410.4 339.0,411.0 343.0,410.0 347.0,409.3 351.0,409.7 355.0,410.5 359.0,411.4 363.0,412.6 367.0,413.4 371.0,414.0 375.0,414.1 379.0,413.4 383.0,411.8 387.0,409.6 391.0,408.4 395.0,409.5 399.0,408.7 403.0,408.2 407.0,410.7 411.0,413.2 415.0,414.6 419.0,415.4 423.0,413.9 427.0,411.1 433.0,409.2 435.0,408.5 437.0,407.3 439.0,405.5 441.0,402.7 443.0,400.6 445.0,400.2 447.0,401.6 449.0,404.0 451.0,406.5 453.0,408.5 455.5,410.0 M115.5,411.8 145.2,411.8 188.3,411.2 222.6,412.1 243.9,412.1 255.0,411.2 259.0,410.8 263.0,410.3 267.0,410.1 271.0,410.0 275.0,410.1 279.0,410.4 283.0,411.0 287.0,412.3 291.0,414.4 295.0,415.0 299.0,414.4 303.0,413.1 307.0,411.3 311.0,410.2 315.0,410.2 319.0,410.6 323.0,411.2 327.0,411.9 331.0,411.5 335.0,411.6 339.0,412.3 343.0,410.4 347.0,408.9 351.0,409.2 355.0,410.0 359.0,411.2 363.0,412.6 367.0,413.6 371.0,414.3 375.0,414.4 379.0,413.3 383.0,410.8 387.0,407.5 391.0,406.0 395.0,407.9 399.0,407.2 403.0,406.8 407.0,411.3 411.0,415.7 415.0,418.5 419.0,420.4 423.0,418.8 427.0,415.1 433.0,413.0 435.0,412.2 437.0,410.5 439.0,407.9 441.0,403.8 443.0,400.7 445.0,400.1 447.0,402.3 449.0,405.9 451.0,409.8 453.0,412.8 455.5,415.0 M115.5,412.0 154.2,412.0 171.9,411.9 215.2,412.3 249.8,412.3 255.0,411.8 259.0,411.5 263.0,411.1 267.0,410.9 271.0,410.8 275.0,410.9 279.0,411.2 283.0,411.6 287.0,412.7 291.0,414.4 295.0,414.9 299.0,414.4 303.0,413.6 307.0,412.2 311.0,411.5 315.0,411.6 319.0,412.0 323.0,412.7 327.0,413.4 331.0,413.2 335.0,413.5 339.0,414.2 343.0,412.9 347.0,411.7 351.0,412.1 355.0,412.7 359.0,413.7 363.0,414.7 367.0,415.4 371.0,415.8 375.0,415.7 379.0,414.5 383.0,412.2 387.0,409.2 391.0,407.6 395.0,408.7 399.0,407.6 403.0,406.9 407.0,409.9 411.0,412.8 415.0,414.6 419.0,415.6 423.0,413.9 427.0,410.5 433.0,408.3 435.0,407.5 437.0,406.1 439.0,403.9 441.0,400.5 443.0,398.0 445.0,397.6 447.0,399.3 449.0,402.2 451.0,405.3 453.0,407.7 455.5,409.5 M115.5,412.6 131.5,412.7 199.1,412.4 223.5,412.9 246.2,412.8 255.0,412.3 259.0,412.0 263.0,411.7 267.0,411.5 271.0,411.5 275.0,411.6 279.0,411.9 283.0,412.3 287.0,413.3 291.0,414.8 295.0,415.2 299.0,414.8 303.0,414.0 307.0,412.7 311.0,412.0 315.0,412.0 319.0,412.2 323.0,412.7 327.0,413.1 331.0,412.8 335.0,412.8 339.0,413.2 343.0,411.8 347.0,410.6 351.0,410.7 355.0,411.2 359.0,411.9 363.0,412.8 367.0,413.3 371.0,413.8 375.0,413.8 379.0,412.9 383.0,411.0 387.0,408.7 391.0,407.5 395.0,408.9 399.0,408.5 403.0,408.3 407.0,411.5 411.0,414.8 415.0,416.9 419.0,418.4 423.0,417.4 427.0,414.8 433.0,413.4 435.0,412.9 437.0,411.8 439.0,410.0 441.0,407.0 443.0,404.8 445.0,404.4 447.0,406.0 449.0,408.5 451.0,411.3 453.0,413.4 455.5,414.9 M115.5,413.8 129.9,413.7 181.0,413.1 217.6,413.9 243.2,414.2 255.0,413.5 259.0,413.2 263.0,412.8 267.0,412.6 271.0,412.5 275.0,412.6 279.0,412.8 283.0,413.2 287.0,414.2 291.0,415.8 295.0,416.1 299.0,415.5 303.0,414.4 307.0,412.8 311.0,411.9 315.0,411.8 319.0,412.0 323.0,412.5 327.0,413.1 331.0,412.7 335.0,412.9 339.0,413.5 343.0,412.2 347.0,411.1 351.0,411.5 355.0,412.4 359.0,413.5 363.0,414.9 367.0,415.9 371.0,416.7 375.0,416.9 379.0,416.1 383.0,414.2 387.0,411.6 391.0,410.3 395.0,411.7 399.0,411.0 403.0,410.5 407.0,413.7 411.0,416.9 415.0,418.8 419.0,419.8 423.0,418.0 427.0,414.5 433.0,412.0 435.0,411.2 437.0,409.6 439.0,407.3 441.0,403.8 443.0,401.1 445.0,400.5 447.0,402.2 449.0,405.0 451.0,408.1 453.0,410.5 455.5,412.3 M115.5,414.1 159.0,414.2 186.5,413.9 216.2,414.4 241.1,414.6 255.0,413.9 259.0,413.5 263.0,413.2 267.0,412.9 271.0,412.8 275.0,412.9 279.0,413.0 283.0,413.4 287.0,414.2 291.0,415.7 295.0,416.0 299.0,415.5 303.0,414.5 307.0,413.1 311.0,412.3 315.0,412.3 319.0,412.5 323.0,413.0 327.0,413.5 331.0,413.3 335.0,413.5 339.0,414.0 343.0,412.9 347.0,411.9 351.0,412.3 355.0,413.1 359.0,414.2 363.0,415.4 367.0,416.3 371.0,417.1 375.0,417.4 379.0,416.8 383.0,415.1 387.0,412.9 391.0,411.9 395.0,413.4 399.0,412.9 403.0,412.6 407.0,415.7 411.0,418.7 415.0,420.6 419.0,421.7 423.0,420.3 427.0,417.3 433.0,415.3 435.0,414.5 437.0,413.1 439.0,411.1 441.0,407.9 443.0,405.5 445.0,404.9 447.0,406.3 449.0,408.7 451.0,411.3 453.0,413.3 455.5,414.7 M115.5,414.9 130.7,414.8 183.0,414.2 220.2,415.2 249.8,415.0 255.0,414.4 259.0,414.0 263.0,413.6 267.0,413.3 271.0,413.1 275.0,413.2 279.0,413.5 283.0,413.9 287.0,415.1 291.0,417.0 295.0,417.3 299.0,416.6 303.0,415.4 307.0,413.5 311.0,412.3 315.0,412.2 319.0,412.5 323.0,413.0 327.0,413.6 331.0,413.2 335.0,413.3 339.0,413.9 343.0,412.2 347.0,410.8 351.0,411.1 355.0,412.0 359.0,413.2 363.0,414.6 367.0,415.6 371.0,416.3 375.0,416.5 379.0,415.4 383.0,413.0 387.0,409.9 391.0,408.4 395.0,410.1 399.0,409.4 403.0,408.9 407.0,413.0 411.0,417.1 415.0,419.7 419.0,421.3 423.0,419.7 427.0,416.1 433.0,414.1 435.0,413.4 437.0,411.8 439.0,409.4 441.0,405.5 443.0,402.7 445.0,402.3 447.0,404.5 449.0,408.0 451.0,411.9 453.0,414.9 455.5,417.1 M115.5,415.2 130.9,415.2 196.4,414.7 216.8,415.2 239.1,415.5 255.0,414.8 259.0,414.5 263.0,414.1 267.0,414.0 271.0,413.9 275.0,414.0 279.0,414.3 283.0,414.7 287.0,415.6 291.0,417.2 295.0,417.5 299.0,417.1 303.0,416.2 307.0,414.8 311.0,414.0 315.0,414.0 319.0,414.2 323.0,414.6 327.0,415.1 331.0,414.8 335.0,414.8 339.0,415.3 343.0,414.0 347.0,412.9 351.0,413.1 355.0,413.8 359.0,414.7 363.0,415.8 367.0,416.7 371.0,417.4 375.0,417.6 379.0,417.0 383.0,415.4 387.0,413.2 391.0,412.3 395.0,413.9 399.0,413.6 403.0,413.6 407.0,417.0 411.0,420.4 415.0,422.6 419.0,424.0 423.0,422.9 427.0,420.1 433.0,418.3 435.0,417.6 437.0,416.3 439.0,414.3 441.0,411.1 443.0,408.7 445.0,408.1 447.0,409.5 449.0,411.9 451.0,414.5 453.0,416.4 455.5,417.7 M115.5,415.8 150.9,415.7 197.3,415.2 224.5,416.2 248.4,415.9 255.0,415.3 259.0,414.8 263.0,414.3 267.0,414.0 271.0,413.9 275.0,414.0 279.0,414.3 283.0,414.8 287.0,416.1 291.0,418.2 295.0,418.6 299.0,418.0 303.0,416.7 307.0,414.7 311.0,413.6 315.0,413.6 319.0,414.0 323.0,414.7 327.0,415.4 331.0,415.1 335.0,415.4 339.0,416.1 343.0,414.4 347.0,413.1 351.0,413.6 355.0,414.7 359.0,416.1 363.0,417.7 367.0,419.0 371.0,419.9 375.0,420.3 379.0,419.3 383.0,416.9 387.0,413.7 391.0,412.2 395.0,414.2 399.0,413.4 403.0,412.9 407.0,417.3 411.0,421.5 415.0,424.1 419.0,425.7 423.0,423.8 427.0,419.6 433.0,416.8 435.0,415.8 437.0,413.9 439.0,411.0 441.0,406.6 443.0,403.3 445.0,402.5 447.0,404.6 449.0,408.0 451.0,411.8 453.0,414.7 455.5,416.7 M115.5,417.8 154.2,417.7 175.1,417.4 215.7,417.9 248.7,417.9 255.0,417.2 259.0,416.7 263.0,416.2 267.0,415.9 271.0,415.8 275.0,415.9 279.0,416.2 283.0,416.7 287.0,417.9 291.0,420.0 295.0,420.5 299.0,419.8 303.0,418.6 307.0,416.7 311.0,415.6 315.0,415.7 319.0,416.1 323.0,416.8 327.0,417.5 331.0,417.2 335.0,417.5 339.0,418.2 343.0,416.5 347.0,415.1 351.0,415.5 355.0,416.5 359.0,417.8 363.0,419.3 367.0,420.4 371.0,421.2 375.0,421.4 379.0,420.3 383.0,417.7 387.0,414.4 391.0,412.8 395.0,414.6 399.0,413.8 403.0,413.2 407.0,417.5 411.0,421.7 415.0,424.4 419.0,426.0 423.0,424.2 427.0,420.2 433.0,417.8 435.0,416.9 437.0,415.1 439.0,412.4 441.0,408.2 443.0,405.0 445.0,404.5 447.0,406.6 449.0,410.2 451.0,414.1 453.0,417.1 455.5,419.3 M115.5,418.2 155.0,418.3 172.3,418.0 214.9,418.1 247.4,418.4 255.0,417.8 259.0,417.5 263.0,417.2 267.0,417.0 271.0,416.9 275.0,417.1 279.0,417.4 283.0,417.9 287.0,418.9 291.0,420.6 295.0,421.0 299.0,420.5 303.0,419.5 307.0,418.0 311.0,417.1 315.0,417.0 319.0,417.2 323.0,417.6 327.0,418.1 331.0,417.6 335.0,417.6 339.0,418.1 343.0,416.5 347.0,415.3 351.0,415.5 355.0,416.2 359.0,417.2 363.0,418.4 367.0,419.3 371.0,420.0 375.0,420.3 379.0,419.6 383.0,417.9 387.0,415.5 391.0,414.6 395.0,416.3 399.0,416.0 403.0,415.9 407.0,419.6 411.0,423.1 415.0,425.4 419.0,426.8 423.0,425.4 427.0,422.2 433.0,419.9 435.0,419.0 437.0,417.5 439.0,415.1 441.0,411.6 443.0,408.8 445.0,408.0 447.0,409.5 449.0,412.0 451.0,414.8 453.0,416.8 455.5,418.2 M115.5,418.8 154.1,418.7 200.0,418.2 227.3,419.3 244.8,419.2 255.0,418.2 259.0,417.7 263.0,417.2 267.0,416.9 271.0,416.8 275.0,417.0 279.0,417.4 283.0,418.0 287.0,419.6 291.0,422.0 295.0,422.6 299.0,422.0 303.0,420.6 307.0,418.6 311.0,417.4 315.0,417.5 319.0,417.9 323.0,418.7 327.0,419.6 331.0,419.2 335.0,419.4 339.0,420.2 343.0,418.1 347.0,416.4 351.0,416.7 355.0,417.6 359.0,418.9 363.0,420.5 367.0,421.5 371.0,422.2 375.0,422.1 379.0,420.6 383.0,417.5 387.0,413.5 391.0,411.4 395.0,413.3 399.0,412.1 403.0,411.4 407.0,416.1 411.0,420.8 415.0,423.7 419.0,425.5 423.0,423.5 427.0,418.9 433.0,416.2 435.0,415.2 437.0,413.3 439.0,410.3 441.0,405.5 443.0,402.0 445.0,401.4 447.0,404.0 449.0,408.3 451.0,412.9 453.0,416.4 455.5,419.1 M115.5,419.3 156.8,419.2 168.5,419.0 229.5,419.6 249.9,419.2 255.0,418.8 259.0,418.4 263.0,418.0 267.0,417.8 271.0,417.7 275.0,417.8 279.0,418.1 283.0,418.5 287.0,419.6 291.0,421.4 295.0,421.8 299.0,421.3 303.0,420.3 307.0,418.7 311.0,417.8 315.0,417.9 319.0,418.2 323.0,418.8 327.0,419.5 331.0,419.2 335.0,419.4 339.0,420.1 343.0,418.7 347.0,417.5 351.0,418.0 355.0,418.9 359.0,420.1 363.0,421.5 367.0,422.5 371.0,423.3 375.0,423.5 379.0,422.7 383.0,420.6 387.0,417.9 391.0,416.5 395.0,418.0 399.0,417.3 403.0,416.7 407.0,420.2 411.0,423.5 415.0,425.4 419.0,426.5 423.0,424.5 427.0,420.6 433.0,417.7 435.0,416.6 437.0,414.8 439.0,412.2 441.0,408.2 443.0,405.2 445.0,404.4 447.0,405.9 449.0,408.7 451.0,411.7 453.0,413.9 455.5,415.5 M115.5,419.6 146.3,419.7 199.4,419.3 225.3,419.9 238.6,419.9 255.0,419.3 259.0,419.0 263.0,418.7 267.0,418.6 271.0,418.5 275.0,418.6 279.0,418.9 283.0,419.3 287.0,420.2 291.0,421.7 295.0,422.1 299.0,421.7 303.0,420.9 307.0,419.6 311.0,418.8 315.0,418.9 319.0,419.0 323.0,419.4 327.0,419.9 331.0,419.5 335.0,419.5 339.0,419.9 343.0,418.5 347.0,417.4 351.0,417.5 355.0,418.0 359.0,418.7 363.0,419.7 367.0,420.3 371.0,420.8 375.0,420.9 379.0,420.1 383.0,418.4 387.0,416.3 391.0,415.3 395.0,416.7 399.0,416.4 403.0,416.3 407.0,419.5 411.0,422.6 415.0,424.7 419.0,426.1 423.0,425.2 427.0,422.7 433.0,421.3 435.0,420.8 437.0,419.7 439.0,417.9 441.0,415.0 443.0,412.9 445.0,412.4 447.0,413.9 449.0,416.3 451.0,418.8 453.0,420.8 455.5,422.1 M115.5,420.4 134.5,420.4 194.1,420.5 209.7,420.8 249.9,420.8 255.0,420.5 259.0,420.2 263.0,419.9 267.0,419.7 271.0,419.6 275.0,419.6 279.0,419.8 283.0,420.1 287.0,420.8 291.0,421.9 295.0,422.2 299.0,421.8 303.0,421.0 307.0,420.0 311.0,419.3 315.0,419.4 319.0,419.6 323.0,420.0 327.0,420.5 331.0,420.3 335.0,420.5 339.0,421.0 343.0,420.1 347.0,419.3 351.0,419.6 355.0,420.2 359.0,421.0 363.0,421.9 367.0,422.6 371.0,423.1 375.0,423.2 379.0,422.5 383.0,421.0 387.0,419.1 391.0,418.1 395.0,419.0 399.0,418.4 403.0,418.0 407.0,420.2 411.0,422.4 415.0,423.7 419.0,424.4 423.0,423.1 427.0,420.6 433.0,418.8 435.0,418.1 437.0,417.0 439.0,415.3 441.0,412.8 443.0,410.9 445.0,410.4 447.0,411.6 449.0,413.6 451.0,415.7 453.0,417.3 455.5,418.5 M115.5,421.7 142.5,421.7 174.9,421.5 215.0,421.8 250.1,421.6 255.0,421.2 259.0,420.7 263.0,420.3 267.0,420.0 271.0,419.9 275.0,419.9 279.0,420.2 283.0,420.6 287.0,421.7 291.0,423.5 295.0,423.9 299.0,423.5 303.0,422.5 307.0,421.0 311.0,420.2 315.0,420.4 319.0,420.9 323.0,421.6 327.0,422.5 331.0,422.4 335.0,422.8 339.0,423.6 343.0,422.3 347.0,421.2 351.0,421.7 355.0,422.5 359.0,423.7 363.0,424.9 367.0,425.8 371.0,426.3 375.0,426.3 379.0,425.1 383.0,422.7 387.0,419.5 391.0,417.8 395.0,419.0 399.0,417.8 403.0,416.9 407.0,420.2 411.0,423.3 415.0,425.2 419.0,426.2 423.0,424.3 427.0,420.6 433.0,418.1 435.0,417.2 437.0,415.6 439.0,413.3 441.0,409.6 443.0,406.9 445.0,406.4 447.0,408.3 449.0,411.4 451.0,414.8 453.0,417.4 455.5,419.4 M115.5,424.7 141.9,424.7 184.9,424.2 221.2,424.9 249.5,424.8 255.0,424.3 259.0,424.0 263.0,423.6 267.0,423.4 271.0,423.3 275.0,423.5 279.0,423.8 283.0,424.2 287.0,425.3 291.0,427.0 295.0,427.5 299.0,427.0 303.0,426.0 307.0,424.5 311.0,423.6 315.0,423.6 319.0,423.9 323.0,424.4 327.0,424.9 331.0,424.5 335.0,424.6 339.0,425.1 343.0,423.6 347.0,422.3 351.0,422.6 355.0,423.2 359.0,424.1 363.0,425.2 367.0,426.0 371.0,426.6 375.0,426.7 379.0,425.7 383.0,423.7 387.0,421.0 391.0,419.8 395.0,421.3 399.0,420.7 403.0,420.4 407.0,423.9 411.0,427.4 415.0,429.7 419.0,431.1 423.0,429.8 427.0,426.7 433.0,424.8 435.0,424.1 437.0,422.7 439.0,420.5 441.0,417.1 443.0,414.6 445.0,414.1 447.0,415.8 449.0,418.6 451.0,421.7 453.0,424.1 455.5,425.8 M115.5,425.6 147.1,425.7 194.6,425.2 212.2,425.7 243.9,426.2 255.0,425.4 259.0,424.9 263.0,424.5 267.0,424.3 271.0,424.2 275.0,424.4 279.0,424.8 283.0,425.4 287.0,426.8 291.0,429.1 295.0,429.7 299.0,429.1 303.0,427.9 307.0,426.0 311.0,424.9 315.0,425.0 319.0,425.4 323.0,426.0 327.0,426.8 331.0,426.3 335.0,426.4 339.0,427.1 343.0,425.1 347.0,423.4 351.0,423.6 355.0,424.4 359.0,425.5 363.0,426.8 367.0,427.6 371.0,428.2 375.0,428.2 379.0,426.8 383.0,424.0 387.0,420.4 391.0,418.6 395.0,420.3 399.0,419.4 403.0,418.8 407.0,423.2 411.0,427.5 415.0,430.2 419.0,431.9 423.0,430.1 427.0,426.1 433.0,423.6 435.0,422.6 437.0,420.8 439.0,418.1 441.0,413.7 443.0,410.5 445.0,409.9 447.0,412.1 449.0,415.8 451.0,419.8 453.0,422.9 455.5,425.1 M115.5,426.2 131.7,426.2 181.6,425.7 214.4,426.2 240.5,426.7 255.0,426.0 259.0,425.6 263.0,425.3 267.0,425.1 271.0,425.1 275.0,425.2 279.0,425.5 283.0,425.9 287.0,426.8 291.0,428.4 295.0,428.8 299.0,428.3 303.0,427.3 307.0,425.8 311.0,424.9 315.0,424.8 319.0,425.0 323.0,425.4 327.0,425.8 331.0,425.3 335.0,425.4 339.0,425.7 343.0,424.2 347.0,423.0 351.0,423.1 355.0,423.7 359.0,424.5 363.0,425.5 367.0,426.3 371.0,426.8 375.0,426.9 379.0,426.1 383.0,424.2 387.0,421.8 391.0,420.7 395.0,422.3 399.0,421.9 403.0,421.7 407.0,425.2 411.0,428.7 415.0,431.1 419.0,432.6 423.0,431.6 427.0,429.0 433.0,427.7 435.0,427.1 437.0,426.0 439.0,424.1 441.0,421.0 443.0,418.8 445.0,418.4 447.0,420.1 449.0,422.9 451.0,425.9 453.0,428.2 455.5,429.9 M115.5,426.6 147.8,426.5 199.3,426.3 228.6,427.0 244.4,426.9 255.0,426.4 259.0,426.1 263.0,425.8 267.0,425.7 271.0,425.6 275.0,425.7 279.0,425.9 283.0,426.3 287.0,427.2 291.0,428.5 295.0,428.9 299.0,428.5 303.0,427.7 307.0,426.5 311.0,425.8 315.0,425.9 319.0,426.2 323.0,426.6 327.0,427.2 331.0,426.9 335.0,427.1 339.0,427.7 343.0,426.6 347.0,425.7 351.0,426.0 355.0,426.7 359.0,427.6 363.0,428.6 367.0,429.4 371.0,430.0 375.0,430.2 379.0,429.5 383.0,428.0 387.0,425.9 391.0,424.9 395.0,426.2 399.0,425.7 403.0,425.4 407.0,428.2 411.0,431.0 415.0,432.7 419.0,433.7 423.0,432.4 427.0,429.7 433.0,427.8 435.0,427.1 437.0,425.8 439.0,423.9 441.0,421.0 443.0,418.7 445.0,418.1 447.0,419.3 449.0,421.5 451.0,423.8 453.0,425.5 455.5,426.7 M115.5,427.2 137.5,427.3 173.5,427.0 214.9,427.0 250.3,427.0 255.0,426.6 259.0,426.1 263.0,425.7 267.0,425.5 271.0,425.4 275.0,425.6 279.0,425.9 283.0,426.4 287.0,427.6 291.0,429.5 295.0,430.1 299.0,429.8 303.0,428.9 307.0,427.6 311.0,426.9 315.0,427.2 319.0,427.8 323.0,428.6 327.0,429.6 331.0,429.5 335.0,429.9 339.0,430.7 343.0,429.4 347.0,428.3 351.0,428.7 355.0,429.4 359.0,430.4 363.0,431.5 367.0,432.2 371.0,432.6 375.0,432.3 379.0,430.9 383.0,428.3 387.0,424.9 391.0,422.9 395.0,423.8 399.0,422.5 403.0,421.3 407.0,424.2 411.0,427.1 415.0,428.6 419.0,429.4 423.0,427.3 427.0,423.4 433.0,420.7 435.0,419.7 437.0,418.1 439.0,415.7 441.0,412.1 443.0,409.4 445.0,408.9 447.0,410.8 449.0,414.0 451.0,417.4 453.0,420.0 455.5,422.1 M115.5,427.7 139.0,427.5 193.4,427.2 210.1,427.7 247.9,428.0 255.0,427.3 259.0,426.9 263.0,426.5 267.0,426.2 271.0,426.0 275.0,426.1 279.0,426.3 283.0,426.8 287.0,427.9 291.0,429.7 295.0,430.1 299.0,429.6 303.0,428.4 307.0,426.7 311.0,425.8 315.0,425.9 319.0,426.2 323.0,426.9 327.0,427.7 331.0,427.4 335.0,427.8 339.0,428.5 343.0,427.1 347.0,425.9 351.0,426.3 355.0,427.3 359.0,428.5 363.0,429.9 367.0,430.9 371.0,431.6 375.0,431.7 379.0,430.6 383.0,428.2 387.0,425.1 391.0,423.4 395.0,424.9 399.0,424.0 403.0,423.4 407.0,427.1 411.0,430.7 415.0,432.9 419.0,434.2 423.0,432.5 427.0,428.8 433.0,426.6 435.0,425.8 437.0,424.2 439.0,421.8 441.0,418.0 443.0,415.2 445.0,414.7 447.0,416.7 449.0,420.0 451.0,423.6 453.0,426.4 455.5,428.5 M115.5,428.3 145.9,428.2 193.2,427.7 217.9,428.3 241.4,428.5 255.0,427.8 259.0,427.4 263.0,427.0 267.0,426.8 271.0,426.7 275.0,426.8 279.0,427.1 283.0,427.6 287.0,428.7 291.0,430.5 295.0,431.0 299.0,430.5 303.0,429.6 307.0,428.2 311.0,427.4 315.0,427.5 319.0,427.9 323.0,428.5 327.0,429.2 331.0,428.9 335.0,429.2 339.0,429.8 343.0,428.3 347.0,427.1 351.0,427.4 355.0,428.1 359.0,429.0 363.0,430.0 367.0,430.7 371.0,431.1 375.0,430.9 379.0,429.7 383.0,427.4 387.0,424.4 391.0,422.7 395.0,423.9 399.0,422.9 403.0,422.1 407.0,425.3 411.0,428.5 415.0,430.4 419.0,431.6 423.0,430.0 427.0,426.8 433.0,424.8 435.0,424.1 437.0,422.7 439.0,420.6 441.0,417.3 443.0,414.8 445.0,414.5 447.0,416.4 449.0,419.5 451.0,422.9 453.0,425.5 455.5,427.5 M115.5,428.7 158.8,428.8 182.8,428.5 221.7,429.0 238.3,429.1 255.0,428.5 259.0,428.2 263.0,427.9 267.0,427.7 271.0,427.7 275.0,427.8 279.0,428.0 283.0,428.4 287.0,429.3 291.0,430.6 295.0,431.0 299.0,430.6 303.0,429.8 307.0,428.6 311.0,427.9 315.0,427.9 319.0,428.1 323.0,428.5 327.0,428.9 331.0,428.5 335.0,428.6 339.0,428.9 343.0,427.6 347.0,426.5 351.0,426.6 355.0,427.0 359.0,427.6 363.0,428.4 367.0,428.8 371.0,429.1 375.0,429.0 379.0,428.0 383.0,426.2 387.0,423.8 391.0,422.6 395.0,423.6 399.0,422.9 403.0,422.4 407.0,425.1 411.0,427.7 415.0,429.3 419.0,430.4 423.0,429.2 427.0,426.7 433.0,425.3 435.0,424.8 437.0,423.7 439.0,422.1 441.0,419.4 443.0,417.5 445.0,417.2 447.0,418.8 449.0,421.2 451.0,423.9 453.0,425.9 455.5,427.5 M115.5,429.8 143.9,429.8 169.5,429.5 211.4,429.7 245.5,430.1 255.0,429.5 259.0,429.1 263.0,428.8 267.0,428.6 271.0,428.5 275.0,428.5 279.0,428.7 283.0,429.1 287.0,430.0 291.0,431.4 295.0,431.7 299.0,431.1 303.0,430.1 307.0,428.6 311.0,427.6 315.0,427.5 319.0,427.7 323.0,428.0 327.0,428.5 331.0,428.1 335.0,428.2 339.0,428.7 343.0,427.3 347.0,426.3 351.0,426.6 355.0,427.3 359.0,428.4 363.0,429.6 367.0,430.5 371.0,431.2 375.0,431.5 379.0,430.8 383.0,429.1 387.0,426.8 391.0,425.7 395.0,427.2 399.0,426.7 403.0,426.4 407.0,429.6 411.0,432.7 415.0,434.6 419.0,435.8 423.0,434.4 427.0,431.3 433.0,429.3 435.0,428.6 437.0,427.2 439.0,425.1 441.0,421.9 443.0,419.5 445.0,419.0 447.0,420.6 449.0,423.2 451.0,426.0 453.0,428.2 455.5,429.8 M115.5,430.7 136.1,430.6 171.7,430.3 224.3,431.2 239.6,431.3 255.0,430.5 259.0,430.1 263.0,429.7 267.0,429.5 271.0,429.3 275.0,429.3 279.0,429.5 283.0,429.9 287.0,430.8 291.0,432.3 295.0,432.5 299.0,432.0 303.0,431.0 307.0,429.5 311.0,428.6 315.0,428.6 319.0,428.9 323.0,429.4 327.0,430.1 331.0,429.9 335.0,430.2 339.0,430.9 343.0,429.7 347.0,428.8 351.0,429.3 355.0,430.3 359.0,431.4 363.0,432.7 367.0,433.7 371.0,434.4 375.0,434.6 379.0,433.8 383.0,431.9 387.0,429.3 391.0,427.9 395.0,429.1 399.0,428.2 403.0,427.5 407.0,430.5 411.0,433.3 415.0,434.9 419.0,435.8 423.0,434.0 427.0,430.6 433.0,428.2 435.0,427.3 437.0,425.9 439.0,423.7 441.0,420.4 443.0,417.9 445.0,417.4 447.0,419.1 449.0,421.9 451.0,424.9 453.0,427.2 455.5,429.0 M115.5,431.7 132.8,431.7 186.9,431.3 212.0,431.5 250.6,431.5 255.0,431.3 259.0,431.0 263.0,430.7 267.0,430.6 271.0,430.5 275.0,430.6 279.0,430.8 283.0,431.1 287.0,431.8 291.0,433.0 295.0,433.3 299.0,433.1 303.0,432.5 307.0,431.6 311.0,431.1 315.0,431.2 319.0,431.5 323.0,431.9 327.0,432.4 331.0,432.3 335.0,432.5 339.0,433.0 343.0,432.1 347.0,431.3 351.0,431.5 355.0,432.0 359.0,432.6 363.0,433.3 367.0,433.8 371.0,434.1 375.0,434.0 379.0,433.2 383.0,431.7 387.0,429.6 391.0,428.5 395.0,429.3 399.0,428.6 403.0,428.1 407.0,430.2 411.0,432.3 415.0,433.5 419.0,434.3 423.0,433.2 427.0,430.9 433.0,429.6 435.0,429.1 437.0,428.1 439.0,426.7 441.0,424.5 443.0,422.8 445.0,422.6 447.0,423.8 449.0,425.9 451.0,428.1 453.0,429.8 455.5,431.1 M115.5,435.7 148.2,435.6 185.7,435.1 215.1,435.7 240.8,436.2 255.0,435.4 259.0,434.9 263.0,434.5 267.0,434.3 271.0,434.2 275.0,434.3 279.0,434.6 283.0,435.1 287.0,436.3 291.0,438.2 295.0,438.7 299.0,438.1 303.0,437.0 307.0,435.4 311.0,434.4 315.0,434.5 319.0,434.8 323.0,435.4 327.0,436.1 331.0,435.8 335.0,436.0 339.0,436.7 343.0,435.1 347.0,433.8 351.0,434.1 355.0,434.9 359.0,436.0 363.0,437.3 367.0,438.2 371.0,438.8 375.0,438.8 379.0,437.7 383.0,435.3 387.0,432.2 391.0,430.6 395.0,432.2 399.0,431.3 403.0,430.7 407.0,434.5 411.0,438.2 415.0,440.5 419.0,442.0 423.0,440.4 427.0,436.8 433.0,434.7 435.0,434.0 437.0,432.4 439.0,430.1 441.0,426.4 443.0,423.6 445.0,423.2 447.0,425.2 449.0,428.5 451.0,432.1 453.0,434.9 455.5,437.0 M115.5,436.1 149.9,436.1 176.1,435.9 231.7,436.7 245.8,436.4 255.0,435.8 259.0,435.4 263.0,435.1 267.0,434.9 271.0,434.8 275.0,434.9 279.0,435.1 283.0,435.6 287.0,436.6 291.0,438.3 295.0,438.7 299.0,438.2 303.0,437.3 307.0,435.9 311.0,435.1 315.0,435.2 319.0,435.5 323.0,436.1 327.0,436.7 331.0,436.5 335.0,436.7 339.0,437.3 343.0,435.9 347.0,434.7 351.0,435.0 355.0,435.7 359.0,436.7 363.0,437.8 367.0,438.5 371.0,439.0 375.0,439.1 379.0,438.1 383.0,436.0 387.0,433.3 391.0,431.9 395.0,433.2 399.0,432.5 403.0,432.0 407.0,435.2 411.0,438.4 415.0,440.5 419.0,441.7 423.0,440.3 427.0,437.2 433.0,435.3 435.0,434.6 437.0,433.2 439.0,431.1 441.0,427.9 443.0,425.4 445.0,425.0 447.0,426.7 449.0,429.5 451.0,432.6 453.0,435.0 455.5,436.7 M115.5,436.8 134.8,436.8 193.2,436.1 219.1,436.6 241.5,436.9 255.0,436.3 259.0,435.9 263.0,435.6 267.0,435.4 271.0,435.4 275.0,435.5 279.0,435.9 283.0,436.4 287.0,437.4 291.0,439.2 295.0,439.6 299.0,439.2 303.0,438.3 307.0,436.9 311.0,436.0 315.0,436.1 319.0,436.4 323.0,436.9 327.0,437.5 331.0,437.1 335.0,437.3 339.0,437.8 343.0,436.4 347.0,435.1 351.0,435.4 355.0,436.1 359.0,437.1 363.0,438.2 367.0,439.1 371.0,439.7 375.0,439.8 379.0,439.0 383.0,437.1 387.0,434.5 391.0,433.3 395.0,434.9 399.0,434.3 403.0,433.9 407.0,437.3 411.0,440.6 415.0,442.7 419.0,443.9 423.0,442.4 427.0,439.1 433.0,436.8 435.0,436.0 437.0,434.4 439.0,432.1 441.0,428.6 443.0,425.9 445.0,425.2 447.0,426.7 449.0,429.3 451.0,432.2 453.0,434.3 455.5,435.8 M115.5,437.1 131.3,437.2 199.6,437.0 210.2,437.2 247.8,437.4 255.0,436.8 259.0,436.4 263.0,436.0 267.0,435.8 271.0,435.7 275.0,435.7 279.0,436.0 283.0,436.4 287.0,437.5 291.0,439.3 295.0,439.7 299.0,439.2 303.0,438.2 307.0,436.7 311.0,435.8 315.0,435.9 319.0,436.2 323.0,436.8 327.0,437.5 331.0,437.3 335.0,437.5 339.0,438.2 343.0,436.7 347.0,435.5 351.0,435.9 355.0,436.6 359.0,437.7 363.0,438.9 367.0,439.7 371.0,440.2 375.0,440.2 379.0,439.1 383.0,436.8 387.0,433.8 391.0,432.2 395.0,433.5 399.0,432.5 403.0,431.8 407.0,435.1 411.0,438.4 415.0,440.3 419.0,441.4 423.0,439.7 427.0,436.2 433.0,433.9 435.0,433.0 437.0,431.5 439.0,429.2 441.0,425.7 443.0,423.0 445.0,422.5 447.0,424.4 449.0,427.5 451.0,430.8 453.0,433.4 455.5,435.4 M115.5,437.8 131.9,437.7 171.4,437.4 216.6,437.9 248.1,438.0 255.0,437.3 259.0,436.8 263.0,436.3 267.0,436.0 271.0,435.9 275.0,436.1 279.0,436.5 283.0,437.1 287.0,438.7 291.0,441.1 295.0,441.8 299.0,441.1 303.0,439.8 307.0,437.8 311.0,436.7 315.0,436.8 319.0,437.3 323.0,438.1 327.0,439.0 331.0,438.6 335.0,438.8 339.0,439.6 343.0,437.5 347.0,435.8 351.0,436.0 355.0,436.9 359.0,438.0 363.0,439.4 367.0,440.2 371.0,440.7 375.0,440.5 379.0,438.7 383.0,435.4 387.0,431.1 391.0,428.8 395.0,430.4 399.0,429.0 403.0,428.0 407.0,432.5 411.0,436.9 415.0,439.7 419.0,441.4 423.0,439.3 427.0,434.9 433.0,432.3 435.0,431.4 437.0,429.6 439.0,426.8 441.0,422.2 443.0,418.8 445.0,418.5 447.0,421.2 449.0,425.6 451.0,430.4 453.0,434.1 455.5,437.0 M115.5,438.6 129.0,438.7 192.6,437.9 226.8,439.1 247.5,439.1 255.0,438.5 259.0,438.0 263.0,437.7 267.0,437.5 271.0,437.5 275.0,437.8 279.0,438.2 283.0,439.0 287.0,440.4 291.0,442.7 295.0,443.4 299.0,442.8 303.0,441.6 307.0,439.7 311.0,438.5 315.0,438.5 319.0,438.8 323.0,439.3 327.0,439.9 331.0,439.3 335.0,439.2 339.0,439.7 343.0,437.5 347.0,435.7 351.0,435.8 355.0,436.4 359.0,437.4 363.0,438.7 367.0,439.6 371.0,440.2 375.0,440.3 379.0,439.1 383.0,436.5 387.0,433.2 391.0,431.7 395.0,433.8 399.0,433.3 403.0,433.1 407.0,438.0 411.0,442.7 415.0,445.9 419.0,448.1 423.0,446.6 427.0,442.9 433.0,440.8 435.0,440.0 437.0,438.3 439.0,435.6 441.0,431.3 443.0,428.0 445.0,427.4 447.0,429.6 449.0,433.2 451.0,437.1 453.0,440.1 455.5,442.1 M115.5,439.7 133.7,439.7 184.5,439.3 221.7,440.1 240.3,440.2 255.0,439.1 259.0,438.5 263.0,438.0 267.0,437.7 271.0,437.5 275.0,437.6 279.0,437.9 283.0,438.4 287.0,439.7 291.0,441.8 295.0,442.4 299.0,441.8 303.0,440.6 307.0,438.8 311.0,437.9 315.0,438.1 319.0,438.7 323.0,439.6 327.0,440.6 331.0,440.5 335.0,441.0 339.0,442.0 343.0,440.4 347.0,439.2 351.0,439.7 355.0,440.8 359.0,442.2 363.0,443.7 367.0,444.7 371.0,445.4 375.0,445.4 379.0,444.0 383.0,441.1 387.0,437.3 391.0,435.2 395.0,436.6 399.0,435.2 403.0,434.1 407.0,437.9 411.0,441.7 415.0,443.8 419.0,445.0 423.0,442.8 427.0,438.4 433.0,435.4 435.0,434.4 437.0,432.6 439.0,429.8 441.0,425.5 443.0,422.3 445.0,421.8 447.0,424.1 449.0,427.9 451.0,432.1 453.0,435.3 455.5,437.8 M115.5,440.1 139.8,440.1 188.9,439.7 231.4,440.9 248.0,440.5 255.0,439.9 259.0,439.4 263.0,439.0 267.0,438.7 271.0,438.6 275.0,438.6 279.0,438.9 283.0,439.3 287.0,440.5 291.0,442.4 295.0,442.8 299.0,442.2 303.0,440.9 307.0,439.1 311.0,438.0 315.0,438.0 319.0,438.3 323.0,438.9 327.0,439.7 331.0,439.3 335.0,439.6 339.0,440.4 343.0,438.9 347.0,437.7 351.0,438.3 355.0,439.4 359.0,440.8 363.0,442.5 367.0,443.7 371.0,444.7 375.0,445.1 379.0,444.2 383.0,442.0 387.0,439.0 391.0,437.6 395.0,439.4 399.0,438.6 403.0,438.0 407.0,441.9 411.0,445.7 415.0,448.0 419.0,449.2 423.0,447.1 427.0,442.9 433.0,439.8 435.0,438.7 437.0,436.8 439.0,434.0 441.0,429.7 443.0,426.4 445.0,425.6 447.0,427.5 449.0,430.6 451.0,434.1 453.0,436.8 455.5,438.6 M115.5,440.8 152.3,440.7 174.6,440.4 216.0,440.8 241.4,441.2 255.0,440.2 259.0,439.7 263.0,439.3 267.0,439.0 271.0,438.9 275.0,439.0 279.0,439.3 283.0,439.8 287.0,441.1 291.0,443.2 295.0,443.7 299.0,443.1 303.0,441.8 307.0,440.0 311.0,439.0 315.0,439.1 319.0,439.4 323.0,440.1 327.0,440.9 331.0,440.6 335.0,440.9 339.0,441.6 343.0,439.9 347.0,438.5 351.0,439.0 355.0,440.0 359.0,441.2 363.0,442.8 367.0,443.8 371.0,444.6 375.0,444.8 379.0,443.7 383.0,441.2 387.0,437.9 391.0,436.3 395.0,438.0 399.0,437.2 403.0,436.6 407.0,440.8 411.0,444.8 415.0,447.3 419.0,448.8 423.0,446.9 427.0,442.9 433.0,440.3 435.0,439.3 437.0,437.5 439.0,434.8 441.0,430.6 443.0,427.4 445.0,426.7 447.0,428.8 449.0,432.3 451.0,436.0 453.0,438.9 455.5,441.0 M115.5,441.1 143.7,440.9 168.5,440.7 208.3,441.0 248.1,441.6 255.0,441.0 259.0,440.6 263.0,440.2 267.0,440.0 271.0,439.9 275.0,440.0 279.0,440.2 283.0,440.7 287.0,441.7 291.0,443.5 295.0,443.8 299.0,443.2 303.0,442.0 307.0,440.3 311.0,439.3 315.0,439.2 319.0,439.4 323.0,439.9 327.0,440.5 331.0,440.1 335.0,440.3 339.0,440.9 343.0,439.4 347.0,438.1 351.0,438.6 355.0,439.5 359.0,440.7 363.0,442.1 367.0,443.2 371.0,444.1 375.0,444.5 379.0,443.7 383.0,441.8 387.0,439.2 391.0,438.1 395.0,439.9 399.0,439.5 403.0,439.2 407.0,443.2 411.0,447.0 415.0,449.4 419.0,450.9 423.0,449.4 427.0,446.0 433.0,443.7 435.0,442.8 437.0,441.2 439.0,438.8 441.0,435.0 443.0,432.1 445.0,431.4 447.0,433.1 449.0,436.0 451.0,439.2 453.0,441.5 455.5,443.2 M115.5,441.7 138.3,441.7 188.8,441.4 213.3,441.7 246.9,441.8 255.0,441.3 259.0,441.0 263.0,440.7 267.0,440.5 271.0,440.3 275.0,440.4 279.0,440.5 283.0,440.8 287.0,441.5 291.0,442.8 295.0,443.0 299.0,442.5 303.0,441.7 307.0,440.4 311.0,439.6 315.0,439.6 319.0,439.7 323.0,440.1 327.0,440.5 331.0,440.3 335.0,440.4 339.0,440.8 343.0,439.7 347.0,438.8 351.0,439.1 355.0,439.8 359.0,440.7 363.0,441.7 367.0,442.5 371.0,443.1 375.0,443.3 379.0,442.8 383.0,441.3 387.0,439.4 391.0,438.5 395.0,439.9 399.0,439.6 403.0,439.4 407.0,442.4 411.0,445.2 415.0,447.1 419.0,448.4 423.0,447.4 427.0,445.1 433.0,443.7 435.0,443.2 437.0,442.2 439.0,440.5 441.0,437.9 443.0,436.0 445.0,435.6 447.0,437.0 449.0,439.3 451.0,441.8 453.0,443.7 455.5,445.1 M115.5,442.1 152.6,442.0 199.1,441.9 215.4,442.4 239.0,442.7 255.0,441.8 259.0,441.4 263.0,441.0 267.0,440.7 271.0,440.6 275.0,440.7 279.0,440.9 283.0,441.3 287.0,442.4 291.0,444.1 295.0,444.6 299.0,444.1 303.0,443.0 307.0,441.5 311.0,440.6 315.0,440.7 319.0,441.0 323.0,441.6 327.0,442.3 331.0,442.0 335.0,442.3 339.0,442.9 343.0,441.4 347.0,440.2 351.0,440.5 355.0,441.3 359.0,442.3 363.0,443.5 367.0,444.3 371.0,444.9 375.0,444.9 379.0,443.9 383.0,441.7 387.0,438.8 391.0,437.4 395.0,439.0 399.0,438.3 403.0,437.9 407.0,441.5 411.0,445.2 415.0,447.6 419.0,449.1 423.0,447.9 427.0,444.9 433.0,443.3 435.0,442.7 437.0,441.4 439.0,439.3 441.0,436.0 443.0,433.5 445.0,433.1 447.0,435.1 449.0,438.2 451.0,441.6 453.0,444.2 455.5,446.2 M115.5,442.8 137.6,442.7 196.3,442.2 218.2,443.0 239.6,443.3 255.0,442.3 259.0,441.8 263.0,441.3 267.0,441.0 271.0,440.9 275.0,441.0 279.0,441.3 283.0,441.9 287.0,443.2 291.0,445.4 295.0,446.0 299.0,445.3 303.0,444.0 307.0,442.0 311.0,440.8 315.0,440.9 319.0,441.2 323.0,441.9 327.0,442.7 331.0,442.3 335.0,442.6 339.0,443.3 343.0,441.4 347.0,439.9 351.0,440.3 355.0,441.3 359.0,442.6 363.0,444.2 367.0,445.2 371.0,446.1 375.0,446.2 379.0,445.0 383.0,442.3 387.0,438.8 391.0,437.0 395.0,439.0 399.0,438.1 403.0,437.5 407.0,442.1 411.0,446.5 415.0,449.4 419.0,451.1 423.0,449.3 427.0,445.2 433.0,442.6 435.0,441.7 437.0,439.9 439.0,437.1 441.0,432.6 443.0,429.3 445.0,428.7 447.0,431.0 449.0,434.8 451.0,438.9 453.0,442.1 455.5,444.4 M115.5,443.1 146.5,443.2 181.6,442.8 218.4,443.2 247.4,443.3 255.0,442.9 259.0,442.6 263.0,442.3 267.0,442.2 271.0,442.1 275.0,442.3 279.0,442.6 283.0,443.0 287.0,444.0 291.0,445.6 295.0,446.1 299.0,445.7 303.0,444.8 307.0,443.5 311.0,442.7 315.0,442.8 319.0,443.0 323.0,443.4 327.0,443.9 331.0,443.5 335.0,443.5 339.0,443.9 343.0,442.5 347.0,441.2 351.0,441.4 355.0,441.9 359.0,442.6 363.0,443.5 367.0,444.2 371.0,444.6 375.0,444.7 379.0,443.8 383.0,442.0 387.0,439.7 391.0,438.5 395.0,440.0 399.0,439.5 403.0,439.3 407.0,442.5 411.0,445.7 415.0,447.7 419.0,449.1 423.0,447.9 427.0,445.1 433.0,443.4 435.0,442.8 437.0,441.5 439.0,439.5 441.0,436.5 443.0,434.1 445.0,433.6 447.0,435.1 449.0,437.5 451.0,440.2 453.0,442.2 455.5,443.6 M115.5,443.7 131.0,443.7 187.8,443.2 227.6,444.5 242.3,444.3 255.0,443.2 259.0,442.6 263.0,442.1 267.0,441.7 271.0,441.5 275.0,441.6 279.0,442.0 283.0,442.5 287.0,444.0 291.0,446.4 295.0,447.0 299.0,446.3 303.0,444.8 307.0,442.7 311.0,441.5 315.0,441.7 319.0,442.2 323.0,443.0 327.0,444.0 331.0,443.7 335.0,444.1 339.0,445.0 343.0,443.1 347.0,441.5 351.0,442.1 355.0,443.2 359.0,444.7 363.0,446.4 367.0,447.6 371.0,448.4 375.0,448.5 379.0,447.0 383.0,443.9 387.0,439.9 391.0,437.8 395.0,439.6 399.0,438.3 403.0,437.4 407.0,442.1 411.0,446.6 415.0,449.4 419.0,451.0 423.0,448.7 427.0,443.9 433.0,440.9 435.0,439.8 437.0,437.7 439.0,434.7 441.0,429.8 443.0,426.2 445.0,425.6 447.0,428.1 449.0,432.4 451.0,437.0 453.0,440.5 455.5,443.3 M115.5,444.2 132.5,444.2 199.7,443.8 214.1,444.2 242.6,444.6 255.0,443.8 259.0,443.4 263.0,443.0 267.0,442.7 271.0,442.6 275.0,442.7 279.0,443.0 283.0,443.5 287.0,444.6 291.0,446.4 295.0,446.9 299.0,446.3 303.0,445.3 307.0,443.6 311.0,442.7 315.0,442.8 319.0,443.1 323.0,443.7 327.0,444.4 331.0,444.1 335.0,444.3 339.0,444.9 343.0,443.4 347.0,442.1 351.0,442.4 355.0,443.2 359.0,444.2 363.0,445.5 367.0,446.3 371.0,446.9 375.0,447.0 379.0,445.9 383.0,443.7 387.0,440.7 391.0,439.2 395.0,440.7 399.0,439.9 403.0,439.4 407.0,443.1 411.0,446.7 415.0,449.0 419.0,450.5 423.0,449.0 427.0,445.6 433.0,443.5 435.0,442.8 437.0,441.3 439.0,439.1 441.0,435.5 443.0,432.8 445.0,432.3 447.0,434.3 449.0,437.5 451.0,440.9 453.0,443.6 455.5,445.6 M115.5,444.7 154.4,444.5 170.1,444.4 229.8,445.0 249.9,444.7 255.0,444.4 259.0,444.2 263.0,443.9 267.0,443.8 271.0,443.7 275.0,443.7 279.0,443.9 283.0,444.2 287.0,444.8 291.0,445.9 295.0,446.1 299.0,445.7 303.0,445.0 307.0,444.0 311.0,443.3 315.0,443.3 319.0,443.4 323.0,443.7 327.0,444.0 331.0,443.8 335.0,443.8 339.0,444.2 343.0,443.2 347.0,442.4 351.0,442.6 355.0,443.1 359.0,443.8 363.0,444.6 367.0,445.2 371.0,445.7 375.0,445.8 379.0,445.3 383.0,444.1 387.0,442.4 391.0,441.7 395.0,442.8 399.0,442.5 403.0,442.4 407.0,444.9 411.0,447.4 415.0,449.0 419.0,450.1 423.0,449.3 427.0,447.4 433.0,446.3 435.0,445.9 437.0,445.0 439.0,443.6 441.0,441.4 443.0,439.8 445.0,439.5 447.0,440.6 449.0,442.6 451.0,444.7 453.0,446.2 455.5,447.4 M115.5,447.6 149.7,447.6 196.1,447.3 220.6,447.9 239.6,448.0 255.0,447.3 259.0,446.9 263.0,446.5 267.0,446.3 271.0,446.3 275.0,446.4 279.0,446.7 283.0,447.1 287.0,448.2 291.0,449.8 295.0,450.3 299.0,449.9 303.0,449.0 307.0,447.6 311.0,446.9 315.0,447.0 319.0,447.3 323.0,447.9 327.0,448.5 331.0,448.2 335.0,448.4 339.0,448.9 343.0,447.5 347.0,446.2 351.0,446.4 355.0,447.0 359.0,447.8 363.0,448.7 367.0,449.3 371.0,449.7 375.0,449.6 379.0,448.5 383.0,446.4 387.0,443.7 391.0,442.2 395.0,443.5 399.0,442.8 403.0,442.3 407.0,445.6 411.0,448.8 415.0,451.0 419.0,452.3 423.0,451.1 427.0,448.3 433.0,446.8 435.0,446.2 437.0,445.0 439.0,443.1 441.0,440.0 443.0,437.7 445.0,437.4 447.0,439.2 449.0,442.0 451.0,445.2 453.0,447.6 455.5,449.4 M115.5,448.7 134.5,448.8 172.9,448.6 215.4,448.7 243.0,448.9 255.0,448.1 259.0,447.6 263.0,447.2 267.0,446.9 271.0,446.8 275.0,446.9 279.0,447.2 283.0,447.7 287.0,449.0 291.0,451.0 295.0,451.5 299.0,451.0 303.0,450.0 307.0,448.4 311.0,447.6 315.0,447.8 319.0,448.2 323.0,449.0 327.0,449.8 331.0,449.5 335.0,449.7 339.0,450.4 343.0,448.8 347.0,447.4 351.0,447.7 355.0,448.4 359.0,449.4 363.0,450.5 367.0,451.3 371.0,451.7 375.0,451.6 379.0,450.2 383.0,447.7 387.0,444.3 391.0,442.6 395.0,444.0 399.0,443.1 403.0,442.4 407.0,446.2 411.0,450.0 415.0,452.5 419.0,454.0 423.0,452.6 427.0,449.2 433.0,447.4 435.0,446.7 437.0,445.3 439.0,443.1 441.0,439.5 443.0,436.8 445.0,436.5 447.0,438.7 449.0,442.2 451.0,445.9 453.0,448.9 455.5,451.1 M115.5,449.7 137.9,449.7 174.2,449.4 230.5,450.0 243.1,449.9 255.0,449.4 259.0,449.2 263.0,448.9 267.0,448.8 271.0,448.8 275.0,448.9 279.0,449.1 283.0,449.5 287.0,450.3 291.0,451.6 295.0,451.9 299.0,451.6 303.0,450.9 307.0,449.8 311.0,449.2 315.0,449.3 319.0,449.5 323.0,449.9 327.0,450.3 331.0,450.1 335.0,450.1 339.0,450.5 343.0,449.4 347.0,448.4 351.0,448.4 355.0,448.8 359.0,449.3 363.0,450.0 367.0,450.4 371.0,450.6 375.0,450.4 379.0,449.4 383.0,447.6 387.0,445.3 391.0,444.1 395.0,444.8 399.0,444.1 403.0,443.5 407.0,445.8 411.0,448.0 415.0,449.4 419.0,450.2 423.0,449.0 427.0,446.6 433.0,445.1 435.0,444.6 437.0,443.6 439.0,442.1 441.0,439.6 443.0,437.9 445.0,437.6 447.0,439.1 449.0,441.3 451.0,443.8 453.0,445.7 455.5,447.3 M115.5,450.4 158.2,450.3 168.6,450.1 229.3,450.7 245.8,450.4 255.0,449.6 259.0,449.0 263.0,448.5 267.0,448.2 271.0,448.1 275.0,448.2 279.0,448.6 283.0,449.3 287.0,450.8 291.0,453.3 295.0,453.9 299.0,453.3 303.0,452.0 307.0,450.0 311.0,448.8 315.0,449.0 319.0,449.5 323.0,450.3 327.0,451.2 331.0,450.8 335.0,451.1 339.0,451.9 343.0,449.9 347.0,448.2 351.0,448.6 355.0,449.5 359.0,450.8 363.0,452.4 367.0,453.4 371.0,454.2 375.0,454.1 379.0,452.6 383.0,449.6 387.0,445.6 391.0,443.6 395.0,445.6 399.0,444.5 403.0,443.8 407.0,448.6 411.0,453.3 415.0,456.4 419.0,458.2 423.0,456.3 427.0,451.9 433.0,449.3 435.0,448.3 437.0,446.4 439.0,443.5 441.0,438.8 443.0,435.2 445.0,434.7 447.0,437.3 449.0,441.4 451.0,446.0 453.0,449.5 455.5,452.1 M115.5,450.6 138.6,450.6 181.1,450.3 208.5,450.6 248.9,450.9 255.0,450.4 259.0,450.1 263.0,449.8 267.0,449.6 271.0,449.5 275.0,449.6 279.0,449.9 283.0,450.3 287.0,451.2 291.0,452.8 295.0,453.2 299.0,452.7 303.0,451.8 307.0,450.4 311.0,449.5 315.0,449.5 319.0,449.8 323.0,450.2 327.0,450.7 331.0,450.3 335.0,450.4 339.0,450.8 343.0,449.4 347.0,448.2 351.0,448.4 355.0,448.9 359.0,449.7 363.0,450.7 367.0,451.3 371.0,451.8 375.0,451.8 379.0,450.8 383.0,448.9 387.0,446.4 391.0,445.2 395.0,446.5 399.0,446.0 403.0,445.6 407.0,448.9 411.0,452.1 415.0,454.2 419.0,455.6 423.0,454.4 427.0,451.8 433.0,450.3 435.0,449.8 437.0,448.6 439.0,446.8 441.0,443.8 443.0,441.6 445.0,441.3 447.0,443.0 449.0,445.7 451.0,448.7 453.0,451.0 455.5,452.7 M115.5,451.8 153.9,451.7 168.3,451.6 222.5,451.5 249.0,451.5 255.0,451.2 259.0,451.0 263.0,450.8 267.0,450.7 271.0,450.7 275.0,450.7 279.0,450.9 283.0,451.1 287.0,451.7 291.0,452.7 295.0,452.9 299.0,452.6 303.0,452.1 307.0,451.2 311.0,450.7 315.0,450.6 319.0,450.7 323.0,450.9 327.0,451.2 331.0,450.9 335.0,450.9 339.0,451.2 343.0,450.3 347.0,449.6 351.0,449.7 355.0,450.1 359.0,450.7 363.0,451.4 367.0,452.0 371.0,452.5 375.0,452.8 379.0,452.6 383.0,451.7 387.0,450.6 391.0,450.2 395.0,451.5 399.0,451.6 403.0,451.8 407.0,454.2 411.0,456.6 415.0,458.3 419.0,459.4 423.0,459.0 427.0,457.5 433.0,456.7 435.0,456.4 437.0,455.7 439.0,454.5 441.0,452.6 443.0,451.1 445.0,450.7 447.0,451.6 449.0,453.1 451.0,454.7 453.0,455.8 455.5,456.6 M115.5,452.0 157.3,452.1 180.8,451.8 226.6,452.9 241.9,452.8 255.0,451.9 259.0,451.5 263.0,451.1 267.0,450.9 271.0,450.7 275.0,450.8 279.0,451.0 283.0,451.5 287.0,452.5 291.0,454.3 295.0,454.7 299.0,454.0 303.0,452.8 307.0,451.1 311.0,450.0 315.0,450.0 319.0,450.2 323.0,450.7 327.0,451.3 331.0,450.8 335.0,451.0 339.0,451.5 343.0,449.9 347.0,448.6 351.0,448.9 355.0,449.7 359.0,450.8 363.0,452.2 367.0,453.2 371.0,453.9 375.0,454.1 379.0,453.2 383.0,451.1 387.0,448.4 391.0,447.1 395.0,448.9 399.0,448.4 403.0,448.2 407.0,452.2 411.0,456.1 415.0,458.8 419.0,460.5 423.0,459.2 427.0,456.0 433.0,454.2 435.0,453.6 437.0,452.2 439.0,449.9 441.0,446.3 443.0,443.6 445.0,443.2 447.0,445.2 449.0,448.4 451.0,451.9 453.0,454.5 455.5,456.5 M115.5,452.7 135.4,452.7 182.0,452.1 221.6,453.1 246.0,453.1 255.0,452.4 259.0,452.0 263.0,451.6 267.0,451.3 271.0,451.2 275.0,451.4 279.0,451.7 283.0,452.3 287.0,453.5 291.0,455.5 295.0,456.0 299.0,455.5 303.0,454.3 307.0,452.6 311.0,451.5 315.0,451.6 319.0,451.9 323.0,452.5 327.0,453.2 331.0,452.8 335.0,453.0 339.0,453.6 343.0,451.9 347.0,450.4 351.0,450.7 355.0,451.5 359.0,452.6 363.0,453.9 367.0,454.8 371.0,455.5 375.0,455.5 379.0,454.3 383.0,451.9 387.0,448.6 391.0,447.0 395.0,448.7 399.0,447.8 403.0,447.3 407.0,451.3 411.0,455.2 415.0,457.7 419.0,459.2 423.0,457.5 427.0,453.8 433.0,451.4 435.0,450.6 437.0,448.9 439.0,446.4 441.0,442.4 443.0,439.4 445.0,438.8 447.0,440.9 449.0,444.3 451.0,448.0 453.0,450.8 455.5,452.9 M115.5,453.1 148.5,453.2 185.0,453.0 224.9,453.8 241.5,453.7 255.0,452.8 259.0,452.3 263.0,451.9 267.0,451.6 271.0,451.5 275.0,451.5 279.0,451.8 283.0,452.2 287.0,453.3 291.0,455.2 295.0,455.6 299.0,455.1 303.0,453.9 307.0,452.3 311.0,451.3 315.0,451.4 319.0,451.8 323.0,452.4 327.0,453.1 331.0,452.8 335.0,453.1 339.0,453.7 343.0,452.1 347.0,450.8 351.0,451.1 355.0,451.8 359.0,452.9 363.0,454.0 367.0,454.8 371.0,455.3 375.0,455.2 379.0,454.0 383.0,451.5 387.0,448.3 391.0,446.6 395.0,448.0 399.0,447.0 403.0,446.4 407.0,450.1 411.0,453.8 415.0,456.2 419.0,457.7 423.0,456.2 427.0,452.9 433.0,451.1 435.0,450.5 437.0,449.1 439.0,447.0 441.0,443.4 443.0,440.8 445.0,440.5 447.0,442.7 449.0,446.2 451.0,449.9 453.0,452.8 455.5,455.1 M115.5,453.6 157.3,453.7 185.7,453.5 231.1,454.1 241.7,454.0 255.0,453.4 259.0,453.1 263.0,452.8 267.0,452.6 271.0,452.4 275.0,452.4 279.0,452.4 283.0,452.5 287.0,453.0 291.0,453.9 295.0,454.0 299.0,453.5 303.0,452.6 307.0,451.5 311.0,450.8 315.0,450.7 319.0,450.8 323.0,451.0 327.0,451.3 331.0,451.1 335.0,451.3 339.0,451.8 343.0,451.0 347.0,450.5 351.0,450.9 355.0,451.7 359.0,452.7 363.0,453.9 367.0,454.8 371.0,455.7 375.0,456.3 379.0,456.2 383.0,455.4 387.0,454.3 391.0,454.0 395.0,455.4 399.0,455.4 403.0,455.6 407.0,458.1 411.0,460.5 415.0,462.1 419.0,463.1 423.0,462.4 427.0,460.4 433.0,459.1 435.0,458.6 437.0,457.6 439.0,456.2 441.0,454.0 443.0,452.2 445.0,451.7 447.0,452.6 449.0,454.2 451.0,455.9 453.0,457.2 455.5,458.0 M115.5,454.8 153.8,454.6 184.6,454.1 224.4,455.3 250.8,454.8 255.0,454.3 259.0,453.8 263.0,453.3 267.0,453.0 271.0,452.8 275.0,452.9 279.0,453.3 283.0,453.8 287.0,455.1 291.0,457.3 295.0,457.8 299.0,457.1 303.0,455.8 307.0,453.8 311.0,452.6 315.0,452.7 319.0,453.1 323.0,453.8 327.0,454.7 331.0,454.3 335.0,454.7 339.0,455.6 343.0,453.8 347.0,452.3 351.0,452.9 355.0,454.0 359.0,455.5 363.0,457.2 367.0,458.4 371.0,459.3 375.0,459.5 379.0,458.3 383.0,455.5 387.0,451.9 391.0,450.0 395.0,451.8 399.0,450.7 403.0,449.9 407.0,454.2 411.0,458.4 415.0,460.9 419.0,462.3 423.0,460.1 427.0,455.5 433.0,452.3 435.0,451.2 437.0,449.2 439.0,446.2 441.0,441.6 443.0,438.1 445.0,437.4 447.0,439.6 449.0,443.5 451.0,447.6 453.0,450.8 455.5,453.2 M115.5,458.6 157.6,458.6 177.4,458.4 211.4,458.6 243.3,458.8 255.0,458.4 259.0,458.1 263.0,457.9 267.0,457.8 271.0,457.7 275.0,457.7 279.0,457.9 283.0,458.2 287.0,458.8 291.0,459.8 295.0,460.1 299.0,459.8 303.0,459.2 307.0,458.3 311.0,457.8 315.0,457.9 319.0,458.1 323.0,458.5 327.0,458.9 331.0,458.8 335.0,458.9 339.0,459.3 343.0,458.5 347.0,457.8 351.0,458.0 355.0,458.5 359.0,459.1 363.0,459.8 367.0,460.2 371.0,460.5 375.0,460.5 379.0,459.7 383.0,458.3 387.0,456.5 391.0,455.5 395.0,456.2 399.0,455.5 403.0,455.0 407.0,456.9 411.0,458.7 415.0,459.8 419.0,460.4 423.0,459.3 427.0,457.2 433.0,455.9 435.0,455.4 437.0,454.6 439.0,453.3 441.0,451.2 443.0,449.7 445.0,449.5 447.0,450.7 449.0,452.5 451.0,454.6 453.0,456.1 455.5,457.4 M115.5,459.6 152.9,459.5 198.5,459.4 210.5,459.6 248.2,459.7 255.0,459.3 259.0,459.0 263.0,458.8 267.0,458.6 271.0,458.5 275.0,458.5 279.0,458.7 283.0,458.9 287.0,459.6 291.0,460.7 295.0,460.9 299.0,460.6 303.0,459.9 307.0,458.9 311.0,458.4 315.0,458.5 319.0,458.7 323.0,459.1 327.0,459.5 331.0,459.4 335.0,459.6 339.0,460.1 343.0,459.2 347.0,458.5 351.0,458.8 355.0,459.4 359.0,460.2 363.0,461.0 367.0,461.7 371.0,462.1 375.0,462.3 379.0,461.7 383.0,460.5 387.0,458.8 391.0,457.9 395.0,458.9 399.0,458.5 403.0,458.3 407.0,460.6 411.0,462.9 415.0,464.3 419.0,465.3 423.0,464.4 427.0,462.5 433.0,461.3 435.0,460.9 437.0,460.1 439.0,458.7 441.0,456.6 443.0,455.0 445.0,454.7 447.0,455.9 449.0,457.8 451.0,459.9 453.0,461.5 455.5,462.6 M115.5,463.6 150.8,463.5 191.8,463.3 224.2,464.1 248.5,463.8 255.0,463.3 259.0,462.9 263.0,462.5 267.0,462.3 271.0,462.1 275.0,462.2 279.0,462.4 283.0,462.7 287.0,463.7 291.0,465.2 295.0,465.6 299.0,465.1 303.0,464.2 307.0,462.9 311.0,462.1 315.0,462.2 319.0,462.6 323.0,463.2 327.0,463.9 331.0,463.8 335.0,464.1 339.0,464.8 343.0,463.6 347.0,462.7 351.0,463.1 355.0,463.9 359.0,464.9 363.0,466.1 367.0,466.9 371.0,467.5 375.0,467.5 379.0,466.6 383.0,464.5 387.0,461.8 391.0,460.4 395.0,461.5 399.0,460.6 403.0,460.0 407.0,463.0 411.0,465.9 415.0,467.7 419.0,468.7 423.0,467.2 427.0,464.1 433.0,462.2 435.0,461.5 437.0,460.2 439.0,458.2 441.0,455.1 443.0,452.7 445.0,452.4 447.0,454.2 449.0,457.0 451.0,460.1 453.0,462.5 455.5,464.3 M115.5,464.4 131.7,464.3 185.0,463.5 225.8,464.6 248.5,464.6 255.0,464.1 259.0,463.8 263.0,463.5 267.0,463.3 271.0,463.3 275.0,463.4 279.0,463.7 283.0,464.1 287.0,465.1 291.0,466.7 295.0,467.0 299.0,466.3 303.0,465.2 307.0,463.5 311.0,462.4 315.0,462.1 319.0,462.2 323.0,462.4 327.0,462.8 331.0,462.2 335.0,462.2 339.0,462.6 343.0,461.1 347.0,459.9 351.0,460.2 355.0,461.0 359.0,462.2 363.0,463.7 367.0,464.8 371.0,465.9 375.0,466.5 379.0,466.1 383.0,464.6 387.0,462.6 391.0,461.8 395.0,463.8 399.0,463.7 403.0,463.7 407.0,467.4 411.0,471.0 415.0,473.3 419.0,474.6 423.0,473.0 427.0,469.6 433.0,467.0 435.0,466.0 437.0,464.3 439.0,461.8 441.0,458.1 443.0,455.2 445.0,454.3 447.0,455.5 449.0,457.9 451.0,460.6 453.0,462.5 455.5,463.7 M115.5,464.6 137.6,464.6 186.4,464.4 209.8,464.7 247.3,464.8 255.0,464.2 259.0,463.8 263.0,463.5 267.0,463.2 271.0,463.1 275.0,463.2 279.0,463.5 283.0,463.9 287.0,464.9 291.0,466.6 295.0,467.1 299.0,466.7 303.0,465.8 307.0,464.4 311.0,463.6 315.0,463.8 319.0,464.1 323.0,464.8 327.0,465.4 331.0,465.2 335.0,465.4 339.0,466.0 343.0,464.6 347.0,463.4 351.0,463.6 355.0,464.2 359.0,465.0 363.0,466.0 367.0,466.5 371.0,466.9 375.0,466.7 379.0,465.5 383.0,463.2 387.0,460.2 391.0,458.6 395.0,459.8 399.0,458.9 403.0,458.2 407.0,461.5 411.0,464.7 415.0,466.8 419.0,468.1 423.0,466.8 427.0,463.9 433.0,462.3 435.0,461.8 437.0,460.6 439.0,458.7 441.0,455.6 443.0,453.3 445.0,453.1 447.0,455.1 449.0,458.2 451.0,461.5 453.0,464.1 455.5,466.1 M115.5,465.6 137.9,465.5 171.6,465.4 213.4,465.8 248.3,465.9 255.0,465.3 259.0,464.8 263.0,464.4 267.0,464.1 271.0,464.0 275.0,464.0 279.0,464.2 283.0,464.6 287.0,465.6 291.0,467.3 295.0,467.7 299.0,467.2 303.0,466.2 307.0,464.6 311.0,463.8 315.0,463.9 319.0,464.3 323.0,465.1 327.0,465.9 331.0,465.8 335.0,466.2 339.0,467.1 343.0,465.9 347.0,464.9 351.0,465.5 355.0,466.5 359.0,467.8 363.0,469.3 367.0,470.3 371.0,471.1 375.0,471.3 379.0,470.3 383.0,468.2 387.0,465.3 391.0,463.8 395.0,465.2 399.0,464.2 403.0,463.5 407.0,466.8 411.0,469.9 415.0,471.8 419.0,472.8 423.0,470.9 427.0,467.2 433.0,464.6 435.0,463.7 437.0,462.1 439.0,459.7 441.0,456.0 443.0,453.2 445.0,452.7 447.0,454.4 449.0,457.4 451.0,460.6 453.0,463.1 455.5,464.9 M115.5,466.2 130.5,466.1 191.2,465.8 230.8,466.5 245.2,466.3 255.0,465.7 259.0,465.3 263.0,465.0 267.0,464.7 271.0,464.6 275.0,464.6 279.0,464.7 283.0,465.1 287.0,465.9 291.0,467.3 295.0,467.6 299.0,467.1 303.0,466.2 307.0,464.8 311.0,464.0 315.0,464.0 319.0,464.3 323.0,464.8 327.0,465.5 331.0,465.3 335.0,465.6 339.0,466.3 343.0,465.3 347.0,464.5 351.0,465.1 355.0,466.1 359.0,467.3 363.0,468.7 367.0,469.9 371.0,470.8 375.0,471.3 379.0,470.9 383.0,469.5 387.0,467.6 391.0,466.8 395.0,468.4 399.0,468.1 403.0,468.0 407.0,471.3 411.0,474.4 415.0,476.4 419.0,477.6 423.0,476.3 427.0,473.4 433.0,471.4 435.0,470.7 437.0,469.3 439.0,467.3 441.0,464.1 443.0,461.6 445.0,460.9 447.0,462.2 449.0,464.5 451.0,467.0 453.0,468.8 455.5,470.0 M115.5,466.6 152.4,466.4 183.0,466.1 214.5,466.9 249.7,467.0 255.0,466.4 259.0,466.0 263.0,465.5 267.0,465.3 271.0,465.1 275.0,465.2 279.0,465.5 283.0,465.9 287.0,467.1 291.0,469.0 295.0,469.4 299.0,468.8 303.0,467.6 307.0,465.9 311.0,464.8 315.0,464.9 319.0,465.3 323.0,466.1 327.0,466.9 331.0,466.7 335.0,467.0 339.0,467.9 343.0,466.4 347.0,465.2 351.0,465.8 355.0,466.8 359.0,468.2 363.0,469.7 367.0,470.8 371.0,471.5 375.0,471.6 379.0,470.5 383.0,467.9 387.0,464.6 391.0,462.7 395.0,464.1 399.0,462.9 403.0,462.0 407.0,465.5 411.0,468.9 415.0,470.9 419.0,471.9 423.0,469.7 427.0,465.4 433.0,462.5 435.0,461.5 437.0,459.7 439.0,457.0 441.0,452.9 443.0,449.9 445.0,449.3 447.0,451.4 449.0,454.9 451.0,458.6 453.0,461.5 455.5,463.8 M115.5,468.9 146.6,468.8 175.3,468.3 224.9,469.1 239.3,469.1 255.0,468.2 259.0,467.8 263.0,467.3 267.0,467.1 271.0,466.9 275.0,467.0 279.0,467.4 283.0,467.9 287.0,469.1 291.0,471.1 295.0,471.6 299.0,470.9 303.0,469.7 307.0,467.8 311.0,466.7 315.0,466.8 319.0,467.1 323.0,467.7 327.0,468.5 331.0,468.1 335.0,468.4 339.0,469.2 343.0,467.6 347.0,466.3 351.0,466.9 355.0,468.0 359.0,469.5 363.0,471.2 367.0,472.5 371.0,473.6 375.0,474.1 379.0,473.3 383.0,471.2 387.0,468.3 391.0,467.0 395.0,469.1 399.0,468.5 403.0,468.2 407.0,472.4 411.0,476.5 415.0,479.0 419.0,480.5 423.0,478.5 427.0,474.3 433.0,471.3 435.0,470.1 437.0,468.1 439.0,465.2 441.0,460.8 443.0,457.4 445.0,456.4 447.0,458.2 449.0,461.3 451.0,464.7 453.0,467.2 455.5,468.9 M115.5,469.3 147.1,469.2 198.5,468.9 221.4,469.3 242.2,469.3 255.0,468.9 259.0,468.6 263.0,468.4 267.0,468.2 271.0,468.1 275.0,468.2 279.0,468.3 283.0,468.5 287.0,469.1 291.0,470.1 295.0,470.3 299.0,470.0 303.0,469.3 307.0,468.4 311.0,467.8 315.0,467.8 319.0,467.9 323.0,468.2 327.0,468.5 331.0,468.3 335.0,468.3 339.0,468.6 343.0,467.7 347.0,467.0 351.0,467.1 355.0,467.5 359.0,468.1 363.0,468.8 367.0,469.2 371.0,469.6 375.0,469.6 379.0,469.0 383.0,467.8 387.0,466.2 391.0,465.4 395.0,466.4 399.0,466.0 403.0,465.9 407.0,468.1 411.0,470.3 415.0,471.8 419.0,472.9 423.0,472.2 427.0,470.6 433.0,469.8 435.0,469.5 437.0,468.9 439.0,467.7 441.0,465.8 443.0,464.4 445.0,464.3 447.0,465.5 449.0,467.4 451.0,469.4 453.0,471.0 455.5,472.3 M115.5,469.6 134.3,469.6 188.3,469.5 211.4,469.7 248.9,469.7 255.0,469.3 259.0,469.0 263.0,468.7 267.0,468.5 271.0,468.3 275.0,468.4 279.0,468.5 283.0,468.8 287.0,469.5 291.0,470.7 295.0,471.0 299.0,470.6 303.0,469.8 307.0,468.6 311.0,467.9 315.0,467.9 319.0,468.2 323.0,468.6 327.0,469.1 331.0,468.9 335.0,469.2 339.0,469.7 343.0,468.7 347.0,467.9 351.0,468.3 355.0,469.0 359.0,469.9 363.0,471.0 367.0,471.8 371.0,472.4 375.0,472.7 379.0,472.1 383.0,470.7 387.0,468.8 391.0,467.9 395.0,469.1 399.0,468.6 403.0,468.4 407.0,471.0 411.0,473.6 415.0,475.2 419.0,476.1 423.0,474.9 427.0,472.4 433.0,470.6 435.0,470.0 437.0,468.8 439.0,467.0 441.0,464.3 443.0,462.2 445.0,461.7 447.0,462.9 449.0,465.0 451.0,467.2 453.0,468.9 455.5,470.1 M115.5,470.2 132.7,470.1 190.5,469.7 209.2,470.0 243.5,470.4 255.0,469.8 259.0,469.6 263.0,469.3 267.0,469.1 271.0,469.1 275.0,469.1 279.0,469.4 283.0,469.7 287.0,470.5 291.0,471.8 295.0,472.1 299.0,471.7 303.0,471.0 307.0,469.9 311.0,469.3 315.0,469.4 319.0,469.6 323.0,470.1 327.0,470.6 331.0,470.4 335.0,470.6 339.0,471.1 343.0,470.1 347.0,469.2 351.0,469.5 355.0,470.1 359.0,470.9 363.0,471.9 367.0,472.6 371.0,473.1 375.0,473.2 379.0,472.5 383.0,471.0 387.0,469.0 391.0,468.0 395.0,469.1 399.0,468.5 403.0,468.1 407.0,470.6 411.0,473.0 415.0,474.4 419.0,475.3 423.0,474.0 427.0,471.4 433.0,469.6 435.0,469.0 437.0,467.8 439.0,466.1 441.0,463.4 443.0,461.4 445.0,461.0 447.0,462.2 449.0,464.2 451.0,466.5 453.0,468.2 455.5,469.4 M115.5,470.6 141.4,470.6 191.7,470.3 219.8,470.8 248.8,470.7 255.0,470.3 259.0,470.0 263.0,469.7 267.0,469.5 271.0,469.5 275.0,469.5 279.0,469.7 283.0,470.1 287.0,470.9 291.0,472.3 295.0,472.6 299.0,472.2 303.0,471.4 307.0,470.2 311.0,469.5 315.0,469.6 319.0,469.8 323.0,470.3 327.0,470.8 331.0,470.5 335.0,470.7 339.0,471.2 343.0,470.0 347.0,469.1 351.0,469.4 355.0,470.0 359.0,470.8 363.0,471.8 367.0,472.5 371.0,473.0 375.0,473.1 379.0,472.4 383.0,470.9 387.0,468.8 391.0,467.8 395.0,469.0 399.0,468.6 403.0,468.3 407.0,471.2 411.0,474.0 415.0,475.8 419.0,476.9 423.0,475.8 427.0,473.3 433.0,471.8 435.0,471.2 437.0,470.1 439.0,468.4 441.0,465.6 443.0,463.5 445.0,463.1 447.0,464.5 449.0,466.7 451.0,469.2 453.0,471.0 455.5,472.3 M115.5,470.9 135.3,470.9 189.3,470.7 228.3,471.5 244.1,471.5 255.0,470.9 259.0,470.6 263.0,470.3 267.0,470.1 271.0,470.1 275.0,470.2 279.0,470.5 283.0,470.9 287.0,471.8 291.0,473.3 295.0,473.7 299.0,473.4 303.0,472.6 307.0,471.4 311.0,470.8 315.0,470.9 319.0,471.2 323.0,471.8 327.0,472.4 331.0,472.2 335.0,472.4 339.0,473.0 343.0,471.8 347.0,470.8 351.0,471.1 355.0,471.8 359.0,472.6 363.0,473.6 367.0,474.2 371.0,474.7 375.0,474.7 379.0,473.9 383.0,472.0 387.0,469.6 391.0,468.4 395.0,469.5 399.0,468.8 403.0,468.3 407.0,471.1 411.0,473.7 415.0,475.4 419.0,476.3 423.0,474.9 427.0,472.0 433.0,470.1 435.0,469.3 437.0,468.0 439.0,466.1 441.0,463.1 443.0,460.9 445.0,460.4 447.0,461.8 449.0,464.1 451.0,466.7 453.0,468.6 455.5,470.0 M115.5,471.5 128.2,471.5 178.2,471.5 225.4,472.1 247.4,471.8 255.0,471.2 259.0,470.9 263.0,470.5 267.0,470.3 271.0,470.1 275.0,470.2 279.0,470.5 283.0,470.9 287.0,471.9 291.0,473.6 295.0,474.1 299.0,473.7 303.0,472.8 307.0,471.5 311.0,470.7 315.0,470.9 319.0,471.3 323.0,471.9 327.0,472.6 331.0,472.4 335.0,472.6 339.0,473.2 343.0,471.8 347.0,470.6 351.0,470.9 355.0,471.5 359.0,472.3 363.0,473.2 367.0,473.8 371.0,474.2 375.0,474.0 379.0,472.8 383.0,470.6 387.0,467.7 391.0,466.2 395.0,467.4 399.0,466.5 403.0,466.0 407.0,469.2 411.0,472.3 415.0,474.4 419.0,475.7 423.0,474.5 427.0,471.6 433.0,470.1 435.0,469.6 437.0,468.4 439.0,466.5 441.0,463.4 443.0,461.2 445.0,460.9 447.0,462.8 449.0,465.7 451.0,468.9 453.0,471.3 455.5,473.2 M115.5,472.7 147.3,472.6 196.9,472.3 215.9,472.8 245.2,473.1 255.0,472.6 259.0,472.4 263.0,472.2 267.0,472.1 271.0,472.0 275.0,472.1 279.0,472.3 283.0,472.7 287.0,473.4 291.0,474.6 295.0,474.9 299.0,474.4 303.0,473.6 307.0,472.3 311.0,471.5 315.0,471.3 319.0,471.3 323.0,471.5 327.0,471.7 331.0,471.2 335.0,471.0 339.0,471.1 343.0,469.8 347.0,468.7 351.0,468.6 355.0,469.0 359.0,469.5 363.0,470.2 367.0,470.7 371.0,471.1 375.0,471.2 379.0,470.5 383.0,469.1 387.0,467.2 391.0,466.5 395.0,467.8 399.0,467.6 403.0,467.6 407.0,470.5 411.0,473.4 415.0,475.3 419.0,476.7 423.0,476.1 427.0,474.2 433.0,473.3 435.0,473.0 437.0,472.1 439.0,470.7 441.0,468.4 443.0,466.6 445.0,466.4 447.0,467.8 449.0,470.1 451.0,472.5 453.0,474.3 455.5,475.7 M115.5,473.8 142.2,473.8 180.5,473.3 225.6,474.0 238.2,474.0 255.0,473.3 259.0,473.0 263.0,472.6 267.0,472.5 271.0,472.4 275.0,472.5 279.0,472.7 283.0,473.1 287.0,474.1 291.0,475.6 295.0,475.9 299.0,475.5 303.0,474.5 307.0,473.1 311.0,472.2 315.0,472.2 319.0,472.4 323.0,472.8 327.0,473.3 331.0,472.9 335.0,473.0 339.0,473.4 343.0,472.0 347.0,470.9 351.0,471.1 355.0,471.8 359.0,472.7 363.0,473.8 367.0,474.6 371.0,475.2 375.0,475.4 379.0,474.6 383.0,472.9 387.0,470.6 391.0,469.5 395.0,471.1 399.0,470.6 403.0,470.4 407.0,473.8 411.0,477.0 415.0,479.1 419.0,480.5 423.0,479.2 427.0,476.4 433.0,474.6 435.0,474.0 437.0,472.7 439.0,470.7 441.0,467.5 443.0,465.2 445.0,464.7 447.0,466.2 449.0,468.8 451.0,471.6 453.0,473.7 455.5,475.2 M115.5,474.7 136.5,474.7 183.0,474.2 225.3,475.2 248.3,474.9 255.0,474.3 259.0,473.9 263.0,473.5 267.0,473.3 271.0,473.1 275.0,473.2 279.0,473.4 283.0,473.8 287.0,474.9 291.0,476.6 295.0,477.0 299.0,476.4 303.0,475.3 307.0,473.7 311.0,472.7 315.0,472.8 319.0,473.0 323.0,473.6 327.0,474.3 331.0,474.0 335.0,474.3 339.0,475.0 343.0,473.6 347.0,472.5 351.0,472.9 355.0,473.9 359.0,475.1 363.0,476.5 367.0,477.6 371.0,478.4 375.0,478.7 379.0,477.9 383.0,476.0 387.0,473.3 391.0,472.0 395.0,473.6 399.0,473.0 403.0,472.6 407.0,476.2 411.0,479.6 415.0,481.8 419.0,483.1 423.0,481.4 427.0,477.9 433.0,475.5 435.0,474.7 437.0,473.1 439.0,470.7 441.0,467.0 443.0,464.2 445.0,463.6 447.0,465.3 449.0,468.2 451.0,471.4 453.0,473.8 455.5,475.5 M115.5,475.1 149.7,475.2 186.3,474.9 214.2,475.4 241.4,475.7 255.0,474.8 259.0,474.4 263.0,474.0 267.0,473.8 271.0,473.6 275.0,473.6 279.0,473.9 283.0,474.2 287.0,475.2 291.0,476.9 295.0,477.2 299.0,476.6 303.0,475.6 307.0,474.0 311.0,473.0 315.0,473.0 319.0,473.3 323.0,473.8 327.0,474.4 331.0,474.1 335.0,474.3 339.0,474.9 343.0,473.5 347.0,472.4 351.0,472.7 355.0,473.6 359.0,474.7 363.0,476.0 367.0,476.9 371.0,477.6 375.0,477.8 379.0,476.9 383.0,474.9 387.0,472.2 391.0,471.0 395.0,472.6 399.0,471.9 403.0,471.6 407.0,475.2 411.0,478.7 415.0,481.0 419.0,482.5 423.0,481.1 427.0,478.0 433.0,476.2 435.0,475.5 437.0,474.1 439.0,472.0 441.0,468.6 443.0,466.1 445.0,465.6 447.0,467.5 449.0,470.5 451.0,473.7 453.0,476.2 455.5,478.1 M115.5,475.6 132.1,475.6 191.3,475.5 223.0,476.2 242.8,476.0 255.0,475.1 259.0,474.7 263.0,474.2 267.0,473.9 271.0,473.7 275.0,473.7 279.0,473.9 283.0,474.3 287.0,475.3 291.0,477.1 295.0,477.5 299.0,476.9 303.0,475.9 307.0,474.3 311.0,473.4 315.0,473.5 319.0,474.0 323.0,474.7 327.0,475.5 331.0,475.4 335.0,475.8 339.0,476.7 343.0,475.4 347.0,474.4 351.0,475.0 355.0,476.1 359.0,477.4 363.0,478.9 367.0,480.0 371.0,480.8 375.0,481.0 379.0,480.1 383.0,478.0 387.0,475.1 391.0,473.7 395.0,475.2 399.0,474.3 403.0,473.7 407.0,477.2 411.0,480.6 415.0,482.6 419.0,483.8 423.0,481.9 427.0,478.2 433.0,475.6 435.0,474.7 437.0,473.0 439.0,470.5 441.0,466.7 443.0,463.9 445.0,463.2 447.0,464.9 449.0,467.9 451.0,471.2 453.0,473.6 455.5,475.4 M115.5,476.2 133.0,476.2 174.8,476.0 228.4,476.3 247.3,476.1 255.0,475.7 259.0,475.5 263.0,475.2 267.0,475.1 271.0,475.0 275.0,475.1 279.0,475.4 283.0,475.7 287.0,476.5 291.0,477.8 295.0,478.2 299.0,478.0 303.0,477.4 307.0,476.5 311.0,476.0 315.0,476.2 319.0,476.5 323.0,477.0 327.0,477.5 331.0,477.3 335.0,477.5 339.0,477.9 343.0,476.9 347.0,476.0 351.0,476.1 355.0,476.4 359.0,476.9 363.0,477.5 367.0,477.8 371.0,478.0 375.0,477.7 379.0,476.7 383.0,475.0 387.0,472.8 391.0,471.5 395.0,472.2 399.0,471.4 403.0,470.9 407.0,473.0 411.0,475.2 415.0,476.5 419.0,477.4 423.0,476.4 427.0,474.2 433.0,473.1 435.0,472.7 437.0,471.9 439.0,470.5 441.0,468.3 443.0,466.7 445.0,466.6 447.0,468.0 449.0,470.2 451.0,472.6 453.0,474.5 455.5,476.0 M115.5,476.7 129.2,476.7 190.2,476.2 223.1,477.0 244.4,477.0 255.0,476.3 259.0,475.9 263.0,475.6 267.0,475.4 271.0,475.3 275.0,475.4 279.0,475.7 283.0,476.1 287.0,477.2 291.0,478.9 295.0,479.3 299.0,478.8 303.0,477.8 307.0,476.3 311.0,475.4 315.0,475.4 319.0,475.7 323.0,476.2 327.0,476.7 331.0,476.4 335.0,476.5 339.0,477.1 343.0,475.6 347.0,474.4 351.0,474.7 355.0,475.4 359.0,476.4 363.0,477.7 367.0,478.5 371.0,479.2 375.0,479.4 379.0,478.6 383.0,476.7 387.0,474.1 391.0,472.9 395.0,474.5 399.0,473.9 403.0,473.6 407.0,477.1 411.0,480.5 415.0,482.7 419.0,484.0 423.0,482.6 427.0,479.3 433.0,477.1 435.0,476.3 437.0,474.8 439.0,472.6 441.0,469.1 443.0,466.4 445.0,465.8 447.0,467.4 449.0,470.1 451.0,473.1 453.0,475.3 455.5,476.9 M115.5,477.3 159.3,477.2 199.0,476.8 209.5,477.0 246.9,477.4 255.0,476.6 259.0,476.1 263.0,475.6 267.0,475.3 271.0,475.2 275.0,475.3 279.0,475.6 283.0,476.1 287.0,477.4 291.0,479.6 295.0,480.1 299.0,479.5 303.0,478.2 307.0,476.3 311.0,475.2 315.0,475.4 319.0,475.8 323.0,476.5 327.0,477.3 331.0,477.0 335.0,477.3 339.0,478.1 343.0,476.3 347.0,474.9 351.0,475.3 355.0,476.3 359.0,477.7 363.0,479.3 367.0,480.4 371.0,481.2 375.0,481.4 379.0,480.2 383.0,477.6 387.0,474.2 391.0,472.5 395.0,474.4 399.0,473.6 403.0,473.1 407.0,477.5 411.0,481.8 415.0,484.6 419.0,486.3 423.0,484.5 427.0,480.5 433.0,478.0 435.0,477.1 437.0,475.3 439.0,472.6 441.0,468.3 443.0,465.0 445.0,464.4 447.0,466.7 449.0,470.4 451.0,474.4 453.0,477.5 455.5,479.8 M115.5,477.6 143.5,477.5 192.4,477.2 211.5,477.5 245.2,477.9 255.0,477.4 259.0,477.1 263.0,476.9 267.0,476.8 271.0,476.7 275.0,476.8 279.0,477.0 283.0,477.4 287.0,478.2 291.0,479.5 295.0,479.8 299.0,479.5 303.0,478.8 307.0,477.7 311.0,477.1 315.0,477.1 319.0,477.4 323.0,477.8 327.0,478.4 331.0,478.2 335.0,478.4 339.0,478.8 343.0,477.8 347.0,477.0 351.0,477.3 355.0,477.9 359.0,478.7 363.0,479.6 367.0,480.2 371.0,480.7 375.0,480.8 379.0,480.1 383.0,478.5 387.0,476.4 391.0,475.4 395.0,476.4 399.0,475.8 403.0,475.4 407.0,477.8 411.0,480.2 415.0,481.7 419.0,482.5 423.0,481.2 427.0,478.6 433.0,476.7 435.0,476.1 437.0,474.9 439.0,473.1 441.0,470.4 443.0,468.4 445.0,467.9 447.0,469.1 449.0,471.2 451.0,473.5 453.0,475.2 455.5,476.4 M115.5,478.9 149.3,478.7 174.8,478.3 216.9,478.6 239.7,479.0 255.0,478.3 259.0,477.9 263.0,477.6 267.0,477.4 271.0,477.4 275.0,477.5 279.0,477.8 283.0,478.3 287.0,479.4 291.0,481.1 295.0,481.6 299.0,481.2 303.0,480.3 307.0,478.9 311.0,478.2 315.0,478.3 319.0,478.7 323.0,479.3 327.0,479.9 331.0,479.7 335.0,479.9 339.0,480.5 343.0,479.1 347.0,477.9 351.0,478.1 355.0,478.7 359.0,479.6 363.0,480.6 367.0,481.2 371.0,481.5 375.0,481.3 379.0,480.0 383.0,477.7 387.0,474.6 391.0,472.9 395.0,473.9 399.0,472.8 403.0,471.9 407.0,474.8 411.0,477.7 415.0,479.5 419.0,480.4 423.0,478.8 427.0,475.4 433.0,473.4 435.0,472.7 437.0,471.3 439.0,469.3 441.0,466.0 443.0,463.6 445.0,463.4 447.0,465.3 449.0,468.4 451.0,471.8 453.0,474.4 455.5,476.6 M115.5,479.7 144.8,479.5 170.8,479.3 213.6,479.7 248.6,480.0 255.0,479.5 259.0,479.1 263.0,478.8 267.0,478.6 271.0,478.6 275.0,478.7 279.0,478.9 283.0,479.4 287.0,480.4 291.0,482.0 295.0,482.3 299.0,481.8 303.0,480.7 307.0,479.2 311.0,478.2 315.0,478.1 319.0,478.3 323.0,478.7 327.0,479.1 331.0,478.6 335.0,478.7 339.0,479.1 343.0,477.6 347.0,476.3 351.0,476.5 355.0,477.2 359.0,478.1 363.0,479.3 367.0,480.1 371.0,480.8 375.0,481.0 379.0,480.3 383.0,478.5 387.0,476.1 391.0,475.0 395.0,476.8 399.0,476.4 403.0,476.4 407.0,480.1 411.0,483.8 415.0,486.2 419.0,487.9 423.0,486.8 427.0,484.0 433.0,482.4 435.0,481.8 437.0,480.5 439.0,478.5 441.0,475.2 443.0,472.7 445.0,472.2 447.0,473.9 449.0,476.7 451.0,479.7 453.0,482.0 455.5,483.6 M115.5,480.0 133.0,480.1 190.2,479.8 214.9,480.2 238.4,480.6 255.0,479.7 259.0,479.2 263.0,478.8 267.0,478.6 271.0,478.5 275.0,478.6 279.0,479.0 283.0,479.6 287.0,480.9 291.0,483.1 295.0,483.7 299.0,483.2 303.0,482.2 307.0,480.6 311.0,479.6 315.0,479.8 319.0,480.2 323.0,480.9 327.0,481.7 331.0,481.3 335.0,481.4 339.0,482.0 343.0,480.1 347.0,478.5 351.0,478.5 355.0,479.1 359.0,479.9 363.0,480.9 367.0,481.5 371.0,481.9 375.0,481.6 379.0,480.1 383.0,477.4 387.0,474.0 391.0,472.2 395.0,473.8 399.0,473.0 403.0,472.5 407.0,476.7 411.0,481.0 415.0,483.8 419.0,485.8 423.0,484.6 427.0,481.3 433.0,479.9 435.0,479.3 437.0,478.0 439.0,475.7 441.0,472.0 443.0,469.3 445.0,469.0 447.0,471.3 449.0,474.9 451.0,478.9 453.0,481.9 455.5,484.2 M115.5,480.5 147.7,480.5 178.3,480.4 228.9,481.2 238.7,481.2 255.0,480.4 259.0,480.1 263.0,479.7 267.0,479.5 271.0,479.4 275.0,479.5 279.0,479.7 283.0,480.1 287.0,481.0 291.0,482.5 295.0,482.8 299.0,482.3 303.0,481.4 307.0,480.0 311.0,479.1 315.0,479.1 319.0,479.3 323.0,479.8 327.0,480.3 331.0,479.9 335.0,480.1 339.0,480.5 343.0,479.2 347.0,478.1 351.0,478.3 355.0,479.0 359.0,479.9 363.0,480.9 367.0,481.7 371.0,482.3 375.0,482.4 379.0,481.6 383.0,479.8 387.0,477.4 391.0,476.3 395.0,477.8 399.0,477.3 403.0,477.1 407.0,480.4 411.0,483.6 415.0,485.7 419.0,487.1 423.0,486.0 427.0,483.4 433.0,481.9 435.0,481.3 437.0,480.2 439.0,478.3 441.0,475.3 443.0,473.1 445.0,472.7 447.0,474.3 449.0,476.9 451.0,479.8 453.0,482.0 455.5,483.6 M115.5,485.7 149.1,485.5 172.2,485.3 228.0,486.2 239.5,486.2 255.0,485.4 259.0,485.0 263.0,484.6 267.0,484.4 271.0,484.3 275.0,484.3 279.0,484.6 283.0,485.0 287.0,486.0 291.0,487.6 295.0,488.0 299.0,487.4 303.0,486.3 307.0,484.8 311.0,483.8 315.0,483.8 319.0,484.0 323.0,484.5 327.0,485.1 331.0,484.7 335.0,484.9 339.0,485.5 343.0,484.0 347.0,482.9 351.0,483.3 355.0,484.1 359.0,485.2 363.0,486.5 367.0,487.5 371.0,488.3 375.0,488.6 379.0,487.8 383.0,486.0 387.0,483.5 391.0,482.4 395.0,484.1 399.0,483.6 403.0,483.4 407.0,487.1 411.0,490.6 415.0,492.9 419.0,494.4 423.0,493.0 427.0,489.8 433.0,487.8 435.0,487.1 437.0,485.6 439.0,483.4 441.0,479.9 443.0,477.3 445.0,476.7 447.0,478.3 449.0,481.1 451.0,484.2 453.0,486.5 455.5,488.1 M115.5,486.6 155.3,486.5 171.6,486.3 225.6,487.0 248.3,486.8 255.0,486.3 259.0,485.9 263.0,485.6 267.0,485.4 271.0,485.3 275.0,485.4 279.0,485.6 283.0,486.1 287.0,487.1 291.0,488.8 295.0,489.3 299.0,488.8 303.0,487.9 307.0,486.4 311.0,485.6 315.0,485.7 319.0,486.1 323.0,486.7 327.0,487.4 331.0,487.2 335.0,487.5 339.0,488.1 343.0,486.8 347.0,485.7 351.0,486.1 355.0,487.0 359.0,488.0 363.0,489.3 367.0,490.2 371.0,490.8 375.0,491.0 379.0,490.1 383.0,488.1 387.0,485.4 391.0,484.1 395.0,485.6 399.0,484.8 403.0,484.4 407.0,487.7 411.0,491.0 415.0,493.0 419.0,494.2 423.0,492.6 427.0,489.3 433.0,487.1 435.0,486.3 437.0,484.8 439.0,482.6 441.0,479.1 443.0,476.5 445.0,475.9 447.0,477.6 449.0,480.3 451.0,483.3 453.0,485.6 455.5,487.2 M115.5,487.2 156.1,487.1 183.0,486.8 209.3,487.1 240.0,487.5 255.0,486.8 259.0,486.5 263.0,486.1 267.0,485.9 271.0,485.8 275.0,485.9 279.0,486.1 283.0,486.4 287.0,487.3 291.0,488.7 295.0,489.1 299.0,488.7 303.0,487.8 307.0,486.5 311.0,485.8 315.0,485.9 319.0,486.2 323.0,486.7 327.0,487.3 331.0,487.2 335.0,487.4 339.0,488.0 343.0,486.8 347.0,485.9 351.0,486.2 355.0,486.9 359.0,487.8 363.0,488.8 367.0,489.5 371.0,490.0 375.0,490.0 379.0,489.1 383.0,487.2 387.0,484.7 391.0,483.4 395.0,484.5 399.0,483.8 403.0,483.2 407.0,486.1 411.0,488.9 415.0,490.7 419.0,491.8 423.0,490.5 427.0,487.7 433.0,486.2 435.0,485.6 437.0,484.4 439.0,482.7 441.0,479.8 443.0,477.7 445.0,477.4 447.0,479.1 449.0,481.8 451.0,484.6 453.0,486.9 455.5,488.6 M115.5,487.7 148.5,487.8 176.2,487.5 221.7,488.1 241.2,488.1 255.0,487.1 259.0,486.5 263.0,486.0 267.0,485.7 271.0,485.5 275.0,485.5 279.0,485.7 283.0,486.1 287.0,487.3 291.0,489.2 295.0,489.6 299.0,489.0 303.0,487.8 307.0,486.0 311.0,485.0 315.0,485.2 319.0,485.6 323.0,486.4 327.0,487.3 331.0,487.1 335.0,487.6 339.0,488.5 343.0,487.1 347.0,486.0 351.0,486.6 355.0,487.8 359.0,489.3 363.0,491.0 367.0,492.2 371.0,493.2 375.0,493.5 379.0,492.6 383.0,490.3 387.0,487.1 391.0,485.6 395.0,487.3 399.0,486.4 403.0,485.8 407.0,489.8 411.0,493.6 415.0,495.9 419.0,497.2 423.0,495.2 427.0,491.1 433.0,488.3 435.0,487.2 437.0,485.4 439.0,482.7 441.0,478.5 443.0,475.3 445.0,474.6 447.0,476.5 449.0,479.8 451.0,483.5 453.0,486.2 455.5,488.2 M115.5,488.8 144.5,488.5 180.0,488.1 209.2,488.5 238.9,489.2 255.0,488.7 259.0,488.5 263.0,488.2 267.0,488.1 271.0,488.0 275.0,488.0 279.0,488.2 283.0,488.4 287.0,488.9 291.0,489.9 295.0,490.0 299.0,489.5 303.0,488.7 307.0,487.5 311.0,486.8 315.0,486.6 319.0,486.6 323.0,486.9 327.0,487.2 331.0,486.9 335.0,487.0 339.0,487.5 343.0,486.6 347.0,486.0 351.0,486.4 355.0,487.1 359.0,488.1 363.0,489.2 367.0,490.1 371.0,490.9 375.0,491.3 379.0,491.1 383.0,490.1 387.0,488.6 391.0,488.0 395.0,489.2 399.0,488.9 403.0,488.7 407.0,490.9 411.0,493.0 415.0,494.3 419.0,494.9 423.0,493.6 427.0,491.1 433.0,489.2 435.0,488.5 437.0,487.3 439.0,485.7 441.0,483.2 443.0,481.3 445.0,480.7 447.0,481.7 449.0,483.4 451.0,485.3 453.0,486.7 455.5,487.6 M115.5,493.6 158.1,493.4 195.8,493.5 215.2,493.8 238.1,493.9 255.0,493.4 259.0,493.2 263.0,493.0 267.0,492.9 271.0,492.8 275.0,492.7 279.0,492.7 283.0,492.8 287.0,493.1 291.0,493.6 295.0,493.7 299.0,493.4 303.0,493.0 307.0,492.4 311.0,492.1 315.0,492.1 319.0,492.3 323.0,492.6 327.0,492.9 331.0,492.9 335.0,493.1 339.0,493.5 343.0,493.1 347.0,492.8 351.0,493.1 355.0,493.5 359.0,494.0 363.0,494.6 367.0,495.0 371.0,495.2 375.0,495.3 379.0,494.9 383.0,494.0 387.0,492.9 391.0,492.3 395.0,492.7 399.0,492.3 403.0,492.0 407.0,493.1 411.0,494.3 415.0,495.0 419.0,495.4 423.0,494.9 427.0,493.7 433.0,493.2 435.0,493.0 437.0,492.6 439.0,491.9 441.0,490.8 443.0,490.0 445.0,490.0 447.0,490.9 449.0,492.2 451.0,493.6 453.0,494.7 455.5,495.6 M115.5,494.2 156.4,494.1 175.4,493.8 220.2,494.7 242.9,494.8 255.0,493.7 259.0,493.2 263.0,492.7 267.0,492.3 271.0,492.2 275.0,492.3 279.0,492.6 283.0,493.2 287.0,494.6 291.0,496.9 295.0,497.4 299.0,496.8 303.0,495.4 307.0,493.4 311.0,492.3 315.0,492.4 319.0,492.9 323.0,493.7 327.0,494.6 331.0,494.3 335.0,494.7 339.0,495.6 343.0,493.7 347.0,492.2 351.0,492.6 355.0,493.7 359.0,495.0 363.0,496.6 367.0,497.7 371.0,498.4 375.0,498.4 379.0,496.9 383.0,493.9 387.0,490.0 391.0,487.9 395.0,489.7 399.0,488.4 403.0,487.6 407.0,492.0 411.0,496.4 415.0,499.1 419.0,500.7 423.0,498.6 427.0,494.2 433.0,491.5 435.0,490.5 437.0,488.7 439.0,485.8 441.0,481.2 443.0,477.9 445.0,477.4 447.0,479.9 449.0,484.0 451.0,488.5 453.0,492.0 455.5,494.6 M115.5,494.7 142.1,494.7 187.9,494.2 211.1,494.5 250.9,494.7 255.0,494.4 259.0,494.1 263.0,493.9 267.0,493.7 271.0,493.7 275.0,493.8 279.0,494.1 283.0,494.6 287.0,495.5 291.0,497.0 295.0,497.4 299.0,497.0 303.0,496.1 307.0,494.7 311.0,493.9 315.0,493.9 319.0,494.0 323.0,494.4 327.0,494.8 331.0,494.4 335.0,494.4 339.0,494.7 343.0,493.3 347.0,492.2 351.0,492.3 355.0,492.9 359.0,493.7 363.0,494.8 367.0,495.5 371.0,496.1 375.0,496.3 379.0,495.6 383.0,494.0 387.0,491.9 391.0,491.0 395.0,492.5 399.0,492.2 403.0,492.1 407.0,495.5 411.0,498.7 415.0,500.8 419.0,502.2 423.0,501.0 427.0,498.3 433.0,496.5 435.0,495.8 437.0,494.4 439.0,492.5 441.0,489.3 443.0,486.9 445.0,486.3 447.0,487.7 449.0,490.0 451.0,492.6 453.0,494.5 455.5,495.7 M115.5,495.1 136.7,495.1 183.2,494.9 221.4,495.4 244.7,495.4 255.0,494.9 259.0,494.6 263.0,494.4 267.0,494.2 271.0,494.1 275.0,494.1 279.0,494.3 283.0,494.5 287.0,495.2 291.0,496.4 295.0,496.6 299.0,496.1 303.0,495.3 307.0,494.2 311.0,493.4 315.0,493.4 319.0,493.6 323.0,493.9 327.0,494.3 331.0,494.1 335.0,494.2 339.0,494.6 343.0,493.7 347.0,492.9 351.0,493.2 355.0,493.8 359.0,494.7 363.0,495.7 367.0,496.5 371.0,497.2 375.0,497.5 379.0,497.0 383.0,495.8 387.0,494.0 391.0,493.3 395.0,494.6 399.0,494.3 403.0,494.1 407.0,496.8 411.0,499.4 415.0,501.0 419.0,502.0 423.0,501.0 427.0,498.7 433.0,497.2 435.0,496.7 437.0,495.6 439.0,494.0 441.0,491.5 443.0,489.5 445.0,489.1 447.0,490.3 449.0,492.2 451.0,494.4 453.0,496.0 455.5,497.1 M115.5,495.7 149.5,495.7 195.9,495.4 230.1,496.1 238.7,496.1 255.0,495.4 259.0,495.1 263.0,494.7 267.0,494.5 271.0,494.4 275.0,494.5 279.0,494.7 283.0,495.0 287.0,495.8 291.0,497.1 295.0,497.4 299.0,496.9 303.0,495.9 307.0,494.6 311.0,493.7 315.0,493.7 319.0,493.8 323.0,494.1 327.0,494.5 331.0,494.2 335.0,494.3 339.0,494.7 343.0,493.5 347.0,492.5 351.0,492.8 355.0,493.5 359.0,494.4 363.0,495.5 367.0,496.4 371.0,497.1 375.0,497.4 379.0,496.9 383.0,495.4 387.0,493.4 391.0,492.6 395.0,494.1 399.0,493.8 403.0,493.7 407.0,496.8 411.0,499.9 415.0,501.8 419.0,503.1 423.0,502.0 427.0,499.4 433.0,497.7 435.0,497.1 437.0,495.9 439.0,494.0 441.0,491.1 443.0,488.9 445.0,488.4 447.0,489.8 449.0,492.1 451.0,494.6 453.0,496.5 455.5,497.8 M115.5,496.2 147.1,496.1 179.1,495.8 229.1,496.5 239.5,496.5 255.0,495.9 259.0,495.6 263.0,495.4 267.0,495.2 271.0,495.1 275.0,495.2 279.0,495.4 283.0,495.6 287.0,496.3 291.0,497.5 295.0,497.7 299.0,497.4 303.0,496.6 307.0,495.6 311.0,495.0 315.0,495.0 319.0,495.3 323.0,495.7 327.0,496.2 331.0,496.0 335.0,496.2 339.0,496.7 343.0,495.8 347.0,495.1 351.0,495.4 355.0,495.9 359.0,496.7 363.0,497.6 367.0,498.2 371.0,498.6 375.0,498.7 379.0,498.0 383.0,496.4 387.0,494.5 391.0,493.4 395.0,494.2 399.0,493.5 403.0,492.9 407.0,495.0 411.0,497.1 415.0,498.3 419.0,498.9 423.0,497.6 427.0,495.1 433.0,493.5 435.0,492.9 437.0,491.9 439.0,490.3 441.0,487.9 443.0,486.2 445.0,485.9 447.0,487.2 449.0,489.2 451.0,491.5 453.0,493.3 455.5,494.6 M115.5,496.7 138.7,496.7 190.7,496.3 220.9,497.0 242.5,497.1 255.0,496.2 259.0,495.8 263.0,495.4 267.0,495.2 271.0,495.0 275.0,495.1 279.0,495.3 283.0,495.7 287.0,496.8 291.0,498.5 295.0,498.9 299.0,498.4 303.0,497.3 307.0,495.7 311.0,494.8 315.0,494.8 319.0,495.1 323.0,495.8 327.0,496.4 331.0,496.2 335.0,496.4 339.0,497.1 343.0,495.7 347.0,494.5 351.0,494.9 355.0,495.8 359.0,496.9 363.0,498.3 367.0,499.3 371.0,500.0 375.0,500.2 379.0,499.3 383.0,497.2 387.0,494.4 391.0,493.1 395.0,494.6 399.0,494.0 403.0,493.5 407.0,497.2 411.0,500.7 415.0,503.0 419.0,504.4 423.0,502.9 427.0,499.6 433.0,497.5 435.0,496.8 437.0,495.3 439.0,493.1 441.0,489.5 443.0,486.8 445.0,486.3 447.0,488.2 449.0,491.2 451.0,494.5 453.0,497.1 455.5,499.0 M115.5,497.1 131.4,497.2 188.8,496.8 209.1,497.1 250.4,497.2 255.0,496.7 259.0,496.2 263.0,495.8 267.0,495.5 271.0,495.3 275.0,495.4 279.0,495.7 283.0,496.2 287.0,497.4 291.0,499.4 295.0,499.9 299.0,499.4 303.0,498.2 307.0,496.5 311.0,495.6 315.0,495.7 319.0,496.1 323.0,496.9 327.0,497.7 331.0,497.4 335.0,497.7 339.0,498.5 343.0,496.9 347.0,495.6 351.0,496.1 355.0,497.0 359.0,498.2 363.0,499.6 367.0,500.5 371.0,501.2 375.0,501.3 379.0,500.1 383.0,497.6 387.0,494.3 391.0,492.6 395.0,494.2 399.0,493.2 403.0,492.5 407.0,496.3 411.0,500.0 415.0,502.3 419.0,503.7 423.0,501.8 427.0,497.9 433.0,495.4 435.0,494.5 437.0,492.8 439.0,490.2 441.0,486.2 443.0,483.2 445.0,482.6 447.0,484.7 449.0,488.1 451.0,491.8 453.0,494.6 455.5,496.7 M115.5,497.6 145.1,497.6 188.5,497.4 211.3,497.7 248.3,497.7 255.0,497.2 259.0,496.9 263.0,496.5 267.0,496.3 271.0,496.2 275.0,496.3 279.0,496.5 283.0,496.9 287.0,497.8 291.0,499.2 295.0,499.6 299.0,499.3 303.0,498.6 307.0,497.5 311.0,496.9 315.0,497.1 319.0,497.5 323.0,498.1 327.0,498.7 331.0,498.6 335.0,498.8 339.0,499.3 343.0,498.2 347.0,497.2 351.0,497.4 355.0,497.9 359.0,498.5 363.0,499.2 367.0,499.7 371.0,499.9 375.0,499.6 379.0,498.5 383.0,496.5 387.0,493.9 391.0,492.5 395.0,493.4 399.0,492.5 403.0,491.9 407.0,494.5 411.0,497.1 415.0,498.9 419.0,500.0 423.0,498.9 427.0,496.6 433.0,495.5 435.0,495.1 437.0,494.2 439.0,492.7 441.0,490.2 443.0,488.4 445.0,488.3 447.0,490.0 449.0,492.7 451.0,495.5 453.0,497.7 455.5,499.5 M115.5,498.5 148.7,498.4 186.9,498.2 225.2,499.1 242.0,499.0 255.0,498.3 259.0,498.0 263.0,497.6 267.0,497.4 271.0,497.3 275.0,497.4 279.0,497.7 283.0,498.1 287.0,499.1 291.0,500.7 295.0,501.1 299.0,500.7 303.0,499.9 307.0,498.7 311.0,498.1 315.0,498.3 319.0,498.7 323.0,499.4 327.0,500.1 331.0,500.0 335.0,500.4 339.0,501.1 343.0,499.9 347.0,498.9 351.0,499.3 355.0,500.0 359.0,500.9 363.0,501.9 367.0,502.6 371.0,502.9 375.0,502.8 379.0,501.7 383.0,499.5 387.0,496.7 391.0,495.1 395.0,496.0 399.0,494.9 403.0,494.1 407.0,496.8 411.0,499.4 415.0,501.0 419.0,501.8 423.0,500.1 427.0,496.9 433.0,494.8 435.0,494.1 437.0,492.7 439.0,490.7 441.0,487.6 443.0,485.3 445.0,484.9 447.0,486.5 449.0,489.2 451.0,492.2 453.0,494.5 455.5,496.2 M115.5,499.6 147.9,499.7 195.8,499.5 231.2,499.9 243.4,499.7 255.0,499.2 259.0,498.9 263.0,498.6 267.0,498.4 271.0,498.3 275.0,498.3 279.0,498.4 283.0,498.6 287.0,499.2 291.0,500.3 295.0,500.5 299.0,500.2 303.0,499.6 307.0,498.6 311.0,498.1 315.0,498.3 319.0,498.5 323.0,499.0 327.0,499.5 331.0,499.5 335.0,499.8 339.0,500.4 343.0,499.6 347.0,499.1 351.0,499.5 355.0,500.1 359.0,500.9 363.0,501.8 367.0,502.4 371.0,502.9 375.0,503.0 379.0,502.4 383.0,501.0 387.0,499.2 391.0,498.3 395.0,499.0 399.0,498.4 403.0,497.9 407.0,499.8 411.0,501.7 415.0,502.7 419.0,503.3 423.0,502.1 427.0,499.8 433.0,498.1 435.0,497.5 437.0,496.5 439.0,495.1 441.0,492.8 443.0,491.1 445.0,490.8 447.0,491.9 449.0,493.7 451.0,495.7 453.0,497.2 455.5,498.4 M115.5,500.8 131.1,500.7 175.5,500.2 214.9,500.9 250.6,500.9 255.0,500.3 259.0,499.6 263.0,499.0 267.0,498.7 271.0,498.5 275.0,498.6 279.0,499.1 283.0,499.7 287.0,501.5 291.0,504.3 295.0,504.9 299.0,504.0 303.0,502.3 307.0,499.7 311.0,498.2 315.0,498.3 319.0,498.7 323.0,499.6 327.0,500.7 331.0,500.1 335.0,500.5 339.0,501.5 343.0,499.2 347.0,497.2 351.0,497.9 355.0,499.2 359.0,501.0 363.0,503.1 367.0,504.7 371.0,505.8 375.0,506.2 379.0,504.7 383.0,501.4 387.0,497.1 391.0,495.0 395.0,497.6 399.0,496.5 403.0,495.9 407.0,501.7 411.0,507.4 415.0,511.0 419.0,513.2 423.0,510.7 427.0,505.2 433.0,501.7 435.0,500.4 437.0,497.9 439.0,494.2 441.0,488.4 443.0,484.0 445.0,483.0 447.0,485.8 449.0,490.5 451.0,495.7 453.0,499.5 455.5,502.3 M115.5,501.6 151.0,501.8 168.4,501.7 210.4,501.6 240.4,502.0 255.0,501.4 259.0,501.0 263.0,500.7 267.0,500.6 271.0,500.5 275.0,500.6 279.0,500.9 283.0,501.4 287.0,502.4 291.0,504.0 295.0,504.4 299.0,503.9 303.0,503.0 307.0,501.5 311.0,500.7 315.0,500.6 319.0,500.7 323.0,501.1 327.0,501.5 331.0,501.0 335.0,501.0 339.0,501.3 343.0,499.7 347.0,498.4 351.0,498.5 355.0,498.9 359.0,499.7 363.0,500.7 367.0,501.4 371.0,501.9 375.0,502.0 379.0,501.3 383.0,499.5 387.0,497.2 391.0,496.3 395.0,498.0 399.0,497.7 403.0,497.7 407.0,501.4 411.0,504.9 415.0,507.3 419.0,509.0 423.0,508.0 427.0,505.4 433.0,503.9 435.0,503.3 437.0,502.1 439.0,500.1 441.0,497.0 443.0,494.6 445.0,494.1 447.0,495.6 449.0,498.1 451.0,500.9 453.0,502.9 455.5,504.3 M115.5,502.5 128.8,502.5 168.1,502.4 212.3,502.6 242.7,503.0 255.0,502.6 259.0,502.4 263.0,502.2 267.0,502.1 271.0,502.0 275.0,502.1 279.0,502.3 283.0,502.5 287.0,503.1 291.0,504.1 295.0,504.3 299.0,504.0 303.0,503.5 307.0,502.6 311.0,502.1 315.0,502.2 319.0,502.3 323.0,502.6 327.0,502.9 331.0,502.7 335.0,502.8 339.0,503.1 343.0,502.2 347.0,501.5 351.0,501.6 355.0,502.0 359.0,502.5 363.0,503.0 367.0,503.4 371.0,503.6 375.0,503.6 379.0,502.9 383.0,501.6 387.0,499.9 391.0,499.0 395.0,499.6 399.0,499.0 403.0,498.6 407.0,500.3 411.0,502.0 415.0,503.0 419.0,503.6 423.0,502.6 427.0,500.7 433.0,499.5 435.0,499.1 437.0,498.3 439.0,497.1 441.0,495.2 443.0,493.8 445.0,493.6 447.0,494.7 449.0,496.4 451.0,498.3 453.0,499.7 455.5,500.9 M115.5,503.7 145.6,503.5 185.5,503.3 225.4,503.9 249.3,503.7 255.0,503.4 259.0,503.1 263.0,502.8 267.0,502.7 271.0,502.6 275.0,502.6 279.0,502.8 283.0,503.0 287.0,503.7 291.0,504.9 295.0,505.2 299.0,504.8 303.0,504.1 307.0,503.0 311.0,502.4 315.0,502.5 319.0,502.7 323.0,503.1 327.0,503.6 331.0,503.4 335.0,503.6 339.0,504.0 343.0,503.1 347.0,502.4 351.0,502.6 355.0,503.2 359.0,504.0 363.0,504.9 367.0,505.5 371.0,505.9 375.0,506.0 379.0,505.4 383.0,503.9 387.0,502.0 391.0,501.0 395.0,502.0 399.0,501.4 403.0,501.0 407.0,503.3 411.0,505.6 415.0,507.0 419.0,507.8 423.0,506.7 427.0,504.5 433.0,503.0 435.0,502.5 437.0,501.5 439.0,500.0 441.0,497.7 443.0,495.9 445.0,495.6 447.0,496.9 449.0,499.0 451.0,501.2 453.0,502.9 455.5,504.3 M115.5,506.9 154.2,506.6 179.4,506.1 222.5,507.2 243.7,507.2 255.0,506.3 259.0,505.7 263.0,505.2 267.0,504.9 271.0,504.8 275.0,504.9 279.0,505.3 283.0,506.0 287.0,507.4 291.0,509.9 295.0,510.4 299.0,509.8 303.0,508.4 307.0,506.2 311.0,505.0 315.0,505.1 319.0,505.5 323.0,506.3 327.0,507.1 331.0,506.7 335.0,506.9 339.0,507.7 343.0,505.7 347.0,504.0 351.0,504.4 355.0,505.4 359.0,506.8 363.0,508.4 367.0,509.5 371.0,510.4 375.0,510.5 379.0,509.1 383.0,506.1 387.0,502.3 391.0,500.4 395.0,502.4 399.0,501.4 403.0,500.8 407.0,505.7 411.0,510.5 415.0,513.5 419.0,515.5 423.0,513.5 427.0,509.0 433.0,506.3 435.0,505.4 437.0,503.4 439.0,500.4 441.0,495.6 443.0,492.1 445.0,491.4 447.0,494.0 449.0,498.1 451.0,502.6 453.0,506.0 455.5,508.6 M115.5,507.7 149.0,507.8 187.9,507.2 219.9,508.0 250.6,507.7 255.0,507.2 259.0,506.7 263.0,506.2 267.0,505.9 271.0,505.8 275.0,506.0 279.0,506.3 283.0,506.9 287.0,508.3 291.0,510.6 295.0,511.2 299.0,510.6 303.0,509.3 307.0,507.3 311.0,506.2 315.0,506.3 319.0,506.6 323.0,507.3 327.0,508.1 331.0,507.7 335.0,507.9 339.0,508.6 343.0,506.7 347.0,505.0 351.0,505.4 355.0,506.3 359.0,507.5 363.0,509.0 367.0,510.1 371.0,510.9 375.0,511.0 379.0,509.7 383.0,507.1 387.0,503.6 391.0,501.9 395.0,503.9 399.0,503.1 403.0,502.7 407.0,507.4 411.0,512.1 415.0,515.1 419.0,517.0 423.0,515.3 427.0,511.2 433.0,508.8 435.0,507.9 437.0,506.1 439.0,503.3 441.0,498.9 443.0,495.5 445.0,494.9 447.0,497.2 449.0,500.9 451.0,505.1 453.0,508.2 455.5,510.4 M115.5,508.1 157.0,508.1 173.1,507.9 215.4,508.3 240.4,508.7 255.0,507.7 259.0,507.2 263.0,506.7 267.0,506.4 271.0,506.3 275.0,506.4 279.0,506.8 283.0,507.3 287.0,508.7 291.0,510.9 295.0,511.4 299.0,510.9 303.0,509.7 307.0,507.8 311.0,506.8 315.0,506.9 319.0,507.4 323.0,508.1 327.0,509.0 331.0,508.7 335.0,508.9 339.0,509.7 343.0,507.9 347.0,506.4 351.0,506.7 355.0,507.6 359.0,508.8 363.0,510.2 367.0,511.1 371.0,511.8 375.0,511.7 379.0,510.4 383.0,507.6 387.0,504.0 391.0,502.1 395.0,503.9 399.0,502.9 403.0,502.2 407.0,506.6 411.0,510.8 415.0,513.5 419.0,515.3 423.0,513.5 427.0,509.6 433.0,507.3 435.0,506.4 437.0,504.7 439.0,502.1 441.0,497.9 443.0,494.7 445.0,494.2 447.0,496.6 449.0,500.3 451.0,504.4 453.0,507.5 455.5,509.9 M115.5,508.7 155.8,508.4 179.2,508.1 209.4,508.6 248.0,509.0 255.0,508.5 259.0,508.1 263.0,507.7 267.0,507.5 271.0,507.4 275.0,507.5 279.0,507.8 283.0,508.2 287.0,509.2 291.0,510.8 295.0,511.2 299.0,510.6 303.0,509.5 307.0,508.0 311.0,507.0 315.0,507.0 319.0,507.2 323.0,507.6 327.0,508.2 331.0,507.8 335.0,507.9 339.0,508.4 343.0,507.0 347.0,505.8 351.0,506.1 355.0,506.9 359.0,507.9 363.0,509.2 367.0,510.1 371.0,510.8 375.0,511.0 379.0,510.3 383.0,508.4 387.0,505.9 391.0,504.7 395.0,506.4 399.0,505.9 403.0,505.6 407.0,509.3 411.0,512.8 415.0,515.1 419.0,516.6 423.0,515.2 427.0,512.2 433.0,510.3 435.0,509.6 437.0,508.2 439.0,506.1 441.0,502.7 443.0,500.2 445.0,499.7 447.0,501.4 449.0,504.2 451.0,507.3 453.0,509.6 455.5,511.3 M115.5,510.8 133.3,510.8 192.6,510.3 221.9,511.3 243.1,511.2 255.0,510.0 259.0,509.4 263.0,508.8 267.0,508.4 271.0,508.2 275.0,508.3 279.0,508.6 283.0,509.1 287.0,510.6 291.0,513.1 295.0,513.6 299.0,512.9 303.0,511.5 307.0,509.4 311.0,508.2 315.0,508.5 319.0,509.1 323.0,510.1 327.0,511.3 331.0,511.1 335.0,511.7 339.0,512.8 343.0,511.1 347.0,509.6 351.0,510.4 355.0,511.7 359.0,513.4 363.0,515.3 367.0,516.6 371.0,517.5 375.0,517.6 379.0,516.1 383.0,512.9 387.0,508.6 391.0,506.3 395.0,508.0 399.0,506.5 403.0,505.4 407.0,509.9 411.0,514.2 415.0,516.8 419.0,518.1 423.0,515.5 427.0,510.3 433.0,506.8 435.0,505.6 437.0,503.4 439.0,500.1 441.0,495.0 443.0,491.2 445.0,490.6 447.0,493.2 449.0,497.5 451.0,502.2 453.0,505.9 455.5,508.7 M115.5,511.7 139.6,511.8 193.2,511.5 227.9,512.4 250.4,511.8 255.0,511.3 259.0,510.8 263.0,510.3 267.0,510.0 271.0,509.9 275.0,509.9 279.0,510.1 283.0,510.5 287.0,511.6 291.0,513.4 295.0,513.7 299.0,513.1 303.0,511.8 307.0,510.0 311.0,509.0 315.0,509.0 319.0,509.3 323.0,509.9 327.0,510.6 331.0,510.3 335.0,510.6 339.0,511.4 343.0,509.9 347.0,508.7 351.0,509.2 355.0,510.2 359.0,511.5 363.0,513.1 367.0,514.2 371.0,515.0 375.0,515.3 379.0,514.4 383.0,512.1 387.0,509.1 391.0,507.7 395.0,509.3 399.0,508.5 403.0,508.0 407.0,511.8 411.0,515.5 415.0,517.7 419.0,519.0 423.0,517.2 427.0,513.3 433.0,510.7 435.0,509.8 437.0,508.1 439.0,505.5 441.0,501.6 443.0,498.6 445.0,498.0 447.0,499.9 449.0,503.1 451.0,506.7 453.0,509.4 455.5,511.4 M115.5,512.1 137.9,512.2 174.3,512.2 221.6,512.6 249.0,512.2 255.0,511.8 259.0,511.4 263.0,511.1 267.0,510.9 271.0,510.7 275.0,510.7 279.0,510.8 283.0,511.1 287.0,511.8 291.0,513.0 295.0,513.2 299.0,512.8 303.0,512.0 307.0,510.8 311.0,510.2 315.0,510.2 319.0,510.5 323.0,510.9 327.0,511.5 331.0,511.3 335.0,511.6 339.0,512.2 343.0,511.2 347.0,510.5 351.0,510.8 355.0,511.5 359.0,512.4 363.0,513.5 367.0,514.2 371.0,514.8 375.0,514.9 379.0,514.2 383.0,512.7 387.0,510.6 391.0,509.5 395.0,510.5 399.0,509.8 403.0,509.3 407.0,511.7 411.0,514.0 415.0,515.3 419.0,516.0 423.0,514.6 427.0,511.9 433.0,509.9 435.0,509.2 437.0,508.0 439.0,506.2 441.0,503.5 443.0,501.4 445.0,501.0 447.0,502.2 449.0,504.4 451.0,506.7 453.0,508.5 455.5,509.8 M115.5,512.6 149.4,512.6 194.6,512.3 221.3,513.0 239.7,513.1 255.0,512.4 259.0,512.0 263.0,511.7 267.0,511.4 271.0,511.3 275.0,511.4 279.0,511.6 283.0,512.0 287.0,512.9 291.0,514.4 295.0,514.8 299.0,514.3 303.0,513.4 307.0,512.0 311.0,511.2 315.0,511.3 319.0,511.6 323.0,512.1 327.0,512.7 331.0,512.5 335.0,512.7 339.0,513.3 343.0,512.1 347.0,511.1 351.0,511.4 355.0,512.1 359.0,513.1 363.0,514.2 367.0,515.0 371.0,515.5 375.0,515.6 379.0,514.7 383.0,512.7 387.0,510.2 391.0,508.9 395.0,510.1 399.0,509.3 403.0,508.8 407.0,511.8 411.0,514.8 415.0,516.6 419.0,517.7 423.0,516.3 427.0,513.3 433.0,511.4 435.0,510.7 437.0,509.5 439.0,507.5 441.0,504.4 443.0,502.1 445.0,501.7 447.0,503.4 449.0,506.1 451.0,509.1 453.0,511.3 455.5,513.1 M115.5,513.7 156.3,513.6 168.8,513.5 221.3,514.2 246.3,514.0 255.0,513.3 259.0,512.8 263.0,512.3 267.0,512.0 271.0,511.8 275.0,511.8 279.0,512.1 283.0,512.6 287.0,513.8 291.0,515.7 295.0,516.2 299.0,515.6 303.0,514.4 307.0,512.6 311.0,511.6 315.0,511.7 319.0,512.1 323.0,512.8 327.0,513.7 331.0,513.4 335.0,513.7 339.0,514.5 343.0,512.9 347.0,511.6 351.0,512.1 355.0,513.0 359.0,514.3 363.0,515.7 367.0,516.6 371.0,517.3 375.0,517.3 379.0,516.1 383.0,513.5 387.0,510.0 391.0,508.2 395.0,509.7 399.0,508.7 403.0,507.9 407.0,511.8 411.0,515.6 415.0,517.9 419.0,519.3 423.0,517.5 427.0,513.6 433.0,511.2 435.0,510.4 437.0,508.8 439.0,506.3 441.0,502.3 443.0,499.4 445.0,498.9 447.0,501.1 449.0,504.8 451.0,508.7 453.0,511.7 455.5,514.0 M115.5,514.7 157.3,514.7 172.0,514.5 209.7,514.6 240.9,515.2 255.0,514.2 259.0,513.7 263.0,513.3 267.0,513.0 271.0,512.8 275.0,512.9 279.0,513.3 283.0,513.8 287.0,515.1 291.0,517.2 295.0,517.7 299.0,517.1 303.0,515.8 307.0,514.0 311.0,512.9 315.0,513.0 319.0,513.3 323.0,514.0 327.0,514.8 331.0,514.4 335.0,514.7 339.0,515.4 343.0,513.6 347.0,512.1 351.0,512.5 355.0,513.4 359.0,514.6 363.0,516.1 367.0,517.1 371.0,517.8 375.0,517.8 379.0,516.6 383.0,514.0 387.0,510.6 391.0,508.9 395.0,510.7 399.0,509.8 403.0,509.3 407.0,513.6 411.0,517.9 415.0,520.6 419.0,522.4 423.0,520.7 427.0,516.9 433.0,514.7 435.0,513.8 437.0,512.2 439.0,509.6 441.0,505.5 443.0,502.4 445.0,501.9 447.0,504.1 449.0,507.8 451.0,511.8 453.0,514.9 455.5,517.2 M115.5,518.6 143.8,518.7 192.6,518.6 221.0,518.8 249.5,518.5 255.0,518.3 259.0,518.1 263.0,517.9 267.0,517.7 271.0,517.7 275.0,517.7 279.0,517.8 283.0,517.9 287.0,518.4 291.0,519.1 295.0,519.3 299.0,519.1 303.0,518.7 307.0,518.0 311.0,517.6 315.0,517.7 319.0,517.9 323.0,518.2 327.0,518.5 331.0,518.4 335.0,518.5 339.0,518.8 343.0,518.3 347.0,517.8 351.0,518.0 355.0,518.3 359.0,518.8 363.0,519.4 367.0,519.8 371.0,520.1 375.0,520.2 379.0,519.9 383.0,519.0 387.0,517.8 391.0,517.3 395.0,518.0 399.0,517.8 403.0,517.6 407.0,519.3 411.0,520.9 415.0,521.9 419.0,522.6 423.0,522.0 427.0,520.6 433.0,519.7 435.0,519.4 437.0,518.7 439.0,517.7 441.0,516.1 443.0,514.9 445.0,514.7 447.0,515.4 449.0,516.6 451.0,517.9 453.0,518.9 455.5,519.6 M115.5,519.7 130.4,519.7 197.4,519.4 226.5,520.2 245.0,520.1 255.0,519.3 259.0,518.9 263.0,518.6 267.0,518.3 271.0,518.2 275.0,518.3 279.0,518.6 283.0,519.0 287.0,520.1 291.0,521.8 295.0,522.2 299.0,521.7 303.0,520.7 307.0,519.1 311.0,518.2 315.0,518.2 319.0,518.5 323.0,519.0 327.0,519.6 331.0,519.2 335.0,519.4 339.0,520.0 343.0,518.4 347.0,517.1 351.0,517.4 355.0,518.1 359.0,519.1 363.0,520.2 367.0,521.0 371.0,521.6 375.0,521.6 379.0,520.6 383.0,518.4 387.0,515.5 391.0,514.1 395.0,515.5 399.0,514.8 403.0,514.3 407.0,517.9 411.0,521.4 415.0,523.6 419.0,525.0 423.0,523.6 427.0,520.3 433.0,518.4 435.0,517.7 437.0,516.3 439.0,514.1 441.0,510.6 443.0,508.0 445.0,507.6 447.0,509.4 449.0,512.5 451.0,515.8 453.0,518.4 455.5,520.3 M115.5,520.5 133.1,520.5 169.0,520.6 208.6,520.8 250.5,520.6 255.0,520.2 259.0,519.7 263.0,519.3 267.0,519.0 271.0,518.8 275.0,518.9 279.0,519.2 283.0,519.6 287.0,520.8 291.0,522.7 295.0,523.2 299.0,522.7 303.0,521.8 307.0,520.3 311.0,519.5 315.0,519.7 319.0,520.2 323.0,521.1 327.0,522.0 331.0,521.8 335.0,522.2 339.0,523.0 343.0,521.6 347.0,520.4 351.0,520.8 355.0,521.6 359.0,522.6 363.0,523.7 367.0,524.4 371.0,524.8 375.0,524.6 379.0,523.1 383.0,520.4 387.0,516.9 391.0,514.9 395.0,516.0 399.0,514.7 403.0,513.7 407.0,517.0 411.0,520.2 415.0,522.2 419.0,523.3 423.0,521.5 427.0,517.8 433.0,515.6 435.0,514.8 437.0,513.3 439.0,511.1 441.0,507.5 443.0,504.8 445.0,504.5 447.0,506.7 449.0,510.1 451.0,513.8 453.0,516.7 455.5,519.0 M115.5,522.9 142.8,522.8 181.6,522.2 226.8,523.3 240.4,523.3 255.0,522.3 259.0,521.8 263.0,521.4 267.0,521.1 271.0,520.9 275.0,521.0 279.0,521.3 283.0,521.8 287.0,523.1 291.0,525.2 295.0,525.7 299.0,524.9 303.0,523.5 307.0,521.5 311.0,520.3 315.0,520.2 319.0,520.5 323.0,521.1 327.0,521.8 331.0,521.4 335.0,521.6 339.0,522.3 343.0,520.5 347.0,519.0 351.0,519.5 355.0,520.5 359.0,521.9 363.0,523.6 367.0,524.8 371.0,525.8 375.0,526.1 379.0,525.1 383.0,522.6 387.0,519.3 391.0,517.8 395.0,519.8 399.0,519.1 403.0,518.6 407.0,523.1 411.0,527.5 415.0,530.2 419.0,531.9 423.0,530.0 427.0,525.8 433.0,523.1 435.0,522.0 437.0,520.2 439.0,517.3 441.0,512.9 443.0,509.5 445.0,508.8 447.0,511.0 449.0,514.7 451.0,518.7 453.0,521.7 455.5,524.0 M115.5,523.2 138.2,523.2 186.2,522.7 219.6,523.6 249.0,523.4 255.0,522.7 259.0,522.2 263.0,521.7 267.0,521.4 271.0,521.3 275.0,521.4 279.0,521.7 283.0,522.2 287.0,523.6 291.0,525.7 295.0,526.2 299.0,525.6 303.0,524.3 307.0,522.3 311.0,521.2 315.0,521.3 319.0,521.6 323.0,522.4 327.0,523.2 331.0,522.8 335.0,523.1 339.0,523.9 343.0,522.1 347.0,520.6 351.0,521.1 355.0,522.1 359.0,523.5 363.0,525.1 367.0,526.2 371.0,527.0 375.0,527.2 379.0,525.9 383.0,523.3 387.0,519.8 391.0,518.0 395.0,519.9 399.0,519.0 403.0,518.4 407.0,522.9 411.0,527.2 415.0,529.9 419.0,531.6 423.0,529.7 427.0,525.5 433.0,522.9 435.0,521.9 437.0,520.1 439.0,517.3 441.0,512.8 443.0,509.5 445.0,508.9 447.0,511.2 449.0,514.9 451.0,519.0 453.0,522.1 455.5,524.4 M115.5,523.6 152.3,523.6 195.1,523.3 222.5,524.0 242.9,524.0 255.0,523.3 259.0,522.9 263.0,522.5 267.0,522.3 271.0,522.2 275.0,522.2 279.0,522.5 283.0,522.8 287.0,523.8 291.0,525.4 295.0,525.7 299.0,525.3 303.0,524.3 307.0,522.9 311.0,522.1 315.0,522.1 319.0,522.5 323.0,523.0 327.0,523.7 331.0,523.4 335.0,523.7 339.0,524.3 343.0,523.0 347.0,522.0 351.0,522.4 355.0,523.2 359.0,524.2 363.0,525.3 367.0,526.2 371.0,526.8 375.0,526.9 379.0,526.0 383.0,524.0 387.0,521.4 391.0,520.0 395.0,521.3 399.0,520.6 403.0,520.1 407.0,523.2 411.0,526.3 415.0,528.2 419.0,529.4 423.0,528.0 427.0,524.9 433.0,523.0 435.0,522.3 437.0,521.0 439.0,519.0 441.0,515.8 443.0,513.5 445.0,513.1 447.0,514.8 449.0,517.6 451.0,520.7 453.0,523.1 455.5,524.9 M115.5,524.2 159.5,524.2 173.2,524.0 216.8,524.5 246.8,524.6 255.0,523.9 259.0,523.4 263.0,523.0 267.0,522.7 271.0,522.6 275.0,522.6 279.0,522.9 283.0,523.4 287.0,524.6 291.0,526.6 295.0,527.0 299.0,526.4 303.0,525.2 307.0,523.4 311.0,522.4 315.0,522.4 319.0,522.7 323.0,523.3 327.0,524.0 331.0,523.7 335.0,523.9 339.0,524.5 343.0,522.8 347.0,521.4 351.0,521.8 355.0,522.7 359.0,523.8 363.0,525.2 367.0,526.2 371.0,526.9 375.0,527.0 379.0,525.8 383.0,523.4 387.0,520.2 391.0,518.6 395.0,520.2 399.0,519.4 403.0,518.8 407.0,522.8 411.0,526.7 415.0,529.1 419.0,530.6 423.0,528.8 427.0,524.9 433.0,522.5 435.0,521.6 437.0,519.9 439.0,517.3 441.0,513.2 443.0,510.2 445.0,509.6 447.0,511.7 449.0,515.0 451.0,518.7 453.0,521.5 455.5,523.6 M115.5,524.7 136.6,524.7 188.0,524.2 218.6,524.8 249.0,524.7 255.0,524.2 259.0,523.8 263.0,523.4 267.0,523.1 271.0,523.0 275.0,523.1 279.0,523.4 283.0,523.9 287.0,525.0 291.0,526.9 295.0,527.3 299.0,526.8 303.0,525.8 307.0,524.2 311.0,523.4 315.0,523.5 319.0,523.9 323.0,524.5 327.0,525.3 331.0,525.0 335.0,525.3 339.0,526.1 343.0,524.6 347.0,523.4 351.0,523.8 355.0,524.7 359.0,525.9 363.0,527.2 367.0,528.2 371.0,528.9 375.0,529.0 379.0,528.0 383.0,525.8 387.0,522.9 391.0,521.4 395.0,523.0 399.0,522.2 403.0,521.7 407.0,525.4 411.0,528.9 415.0,531.2 419.0,532.5 423.0,530.8 427.0,527.3 433.0,525.0 435.0,524.1 437.0,522.6 439.0,520.2 441.0,516.4 443.0,513.6 445.0,513.0 447.0,514.8 449.0,517.9 451.0,521.3 453.0,523.8 455.5,525.6 M115.5,525.1 137.4,525.0 188.5,524.8 219.7,525.4 238.4,525.5 255.0,524.8 259.0,524.4 263.0,524.1 267.0,523.9 271.0,523.8 275.0,523.9 279.0,524.1 283.0,524.5 287.0,525.4 291.0,526.8 295.0,527.2 299.0,526.9 303.0,526.2 307.0,525.1 311.0,524.6 315.0,524.8 319.0,525.2 323.0,525.9 327.0,526.6 331.0,526.5 335.0,526.8 339.0,527.5 343.0,526.4 347.0,525.6 351.0,525.9 355.0,526.5 359.0,527.2 363.0,528.1 367.0,528.6 371.0,528.9 375.0,528.7 379.0,527.6 383.0,525.5 387.0,522.9 391.0,521.3 395.0,522.1 399.0,521.0 403.0,520.2 407.0,522.6 411.0,524.9 415.0,526.2 419.0,526.9 423.0,525.5 427.0,522.6 433.0,520.8 435.0,520.1 437.0,519.0 439.0,517.2 441.0,514.4 443.0,512.4 445.0,512.1 447.0,513.7 449.0,516.2 451.0,518.9 453.0,521.0 455.5,522.6 M115.5,525.6 149.2,525.6 186.2,525.3 216.5,525.8 246.5,525.8 255.0,525.4 259.0,525.1 263.0,524.8 267.0,524.6 271.0,524.5 275.0,524.6 279.0,524.7 283.0,525.0 287.0,525.8 291.0,527.0 295.0,527.3 299.0,526.9 303.0,526.2 307.0,525.2 311.0,524.6 315.0,524.7 319.0,524.9 323.0,525.4 327.0,525.9 331.0,525.7 335.0,525.9 339.0,526.4 343.0,525.4 347.0,524.6 351.0,524.8 355.0,525.4 359.0,526.1 363.0,526.9 367.0,527.5 371.0,527.9 375.0,527.9 379.0,527.1 383.0,525.5 387.0,523.4 391.0,522.3 395.0,523.2 399.0,522.6 403.0,522.1 407.0,524.5 411.0,526.8 415.0,528.3 419.0,529.1 423.0,528.1 427.0,525.7 433.0,524.4 435.0,523.9 437.0,522.9 439.0,521.4 441.0,519.0 443.0,517.2 445.0,517.0 447.0,518.3 449.0,520.5 451.0,522.9 453.0,524.7 455.5,526.1 M115.5,526.7 139.9,526.6 168.4,526.3 225.4,527.1 239.5,527.1 255.0,526.2 259.0,525.7 263.0,525.3 267.0,525.0 271.0,524.8 275.0,524.9 279.0,525.3 283.0,525.8 287.0,527.0 291.0,529.1 295.0,529.6 299.0,529.0 303.0,527.9 307.0,526.2 311.0,525.2 315.0,525.4 319.0,525.8 323.0,526.6 327.0,527.5 331.0,527.3 335.0,527.7 339.0,528.5 343.0,527.0 347.0,525.8 351.0,526.3 355.0,527.4 359.0,528.8 363.0,530.3 367.0,531.5 371.0,532.3 375.0,532.5 379.0,531.5 383.0,529.1 387.0,525.8 391.0,524.2 395.0,525.9 399.0,525.0 403.0,524.4 407.0,528.4 411.0,532.3 415.0,534.6 419.0,536.0 423.0,534.1 427.0,530.1 433.0,527.4 435.0,526.4 437.0,524.7 439.0,522.0 441.0,517.8 443.0,514.7 445.0,514.0 447.0,516.0 449.0,519.4 451.0,523.0 453.0,525.8 455.5,527.8 M115.5,527.3 146.6,527.2 174.7,526.9 211.0,527.2 242.1,527.7 255.0,526.9 259.0,526.5 263.0,526.2 267.0,525.9 271.0,525.8 275.0,525.9 279.0,526.1 283.0,526.5 287.0,527.5 291.0,529.2 295.0,529.6 299.0,528.9 303.0,527.8 307.0,526.0 311.0,525.0 315.0,524.9 319.0,525.0 323.0,525.5 327.0,526.0 331.0,525.5 335.0,525.6 339.0,526.1 343.0,524.6 347.0,523.3 351.0,523.6 355.0,524.4 359.0,525.5 363.0,526.8 367.0,527.8 371.0,528.5 375.0,528.8 379.0,528.0 383.0,526.0 387.0,523.4 391.0,522.3 395.0,524.1 399.0,523.6 403.0,523.5 407.0,527.4 411.0,531.3 415.0,533.9 419.0,535.6 423.0,534.3 427.0,531.2 433.0,529.6 435.0,528.9 437.0,527.6 439.0,525.4 441.0,521.9 443.0,519.3 445.0,518.9 447.0,520.8 449.0,523.9 451.0,527.3 453.0,529.8 455.5,531.8 M115.5,527.8 150.0,527.6 176.0,527.3 230.3,528.1 240.2,528.0 255.0,527.3 259.0,526.9 263.0,526.6 267.0,526.3 271.0,526.2 275.0,526.2 279.0,526.3 283.0,526.6 287.0,527.4 291.0,528.7 295.0,529.0 299.0,528.5 303.0,527.5 307.0,526.1 311.0,525.3 315.0,525.3 319.0,525.6 323.0,526.1 327.0,526.7 331.0,526.5 335.0,526.8 339.0,527.6 343.0,526.6 347.0,525.8 351.0,526.4 355.0,527.4 359.0,528.6 363.0,530.0 367.0,531.1 371.0,532.0 375.0,532.4 379.0,531.9 383.0,530.4 387.0,528.3 391.0,527.3 395.0,528.6 399.0,528.0 403.0,527.6 407.0,530.5 411.0,533.2 415.0,534.8 419.0,535.6 423.0,534.0 427.0,530.9 433.0,528.5 435.0,527.7 437.0,526.3 439.0,524.2 441.0,521.1 443.0,518.7 445.0,518.1 447.0,519.4 449.0,521.8 451.0,524.4 453.0,526.3 455.5,527.7 M115.5,531.5 153.7,531.6 173.7,531.4 211.4,531.6 239.7,532.1 255.0,531.3 259.0,530.9 263.0,530.5 267.0,530.3 271.0,530.2 275.0,530.4 279.0,530.7 283.0,531.2 287.0,532.4 291.0,534.2 295.0,534.7 299.0,534.3 303.0,533.3 307.0,531.8 311.0,531.0 315.0,531.1 319.0,531.4 323.0,532.0 327.0,532.6 331.0,532.3 335.0,532.4 339.0,532.9 343.0,531.3 347.0,529.9 351.0,530.0 355.0,530.6 359.0,531.4 363.0,532.4 367.0,533.0 371.0,533.4 375.0,533.3 379.0,532.1 383.0,529.8 387.0,526.8 391.0,525.3 395.0,526.9 399.0,526.2 403.0,525.8 407.0,529.6 411.0,533.4 415.0,535.9 419.0,537.6 423.0,536.4 427.0,533.4 433.0,531.9 435.0,531.3 437.0,530.0 439.0,528.0 441.0,524.5 443.0,522.0 445.0,521.6 447.0,523.5 449.0,526.7 451.0,530.1 453.0,532.6 455.5,534.5 M115.5,532.2 150.6,532.1 199.5,531.9 219.4,532.3 250.5,532.2 255.0,531.9 259.0,531.7 263.0,531.4 267.0,531.3 271.0,531.2 275.0,531.2 279.0,531.4 283.0,531.6 287.0,532.3 291.0,533.4 295.0,533.6 299.0,533.2 303.0,532.5 307.0,531.5 311.0,530.9 315.0,530.9 319.0,531.1 323.0,531.5 327.0,531.8 331.0,531.7 335.0,531.8 339.0,532.2 343.0,531.3 347.0,530.6 351.0,530.9 355.0,531.4 359.0,532.2 363.0,533.0 367.0,533.6 371.0,534.1 375.0,534.3 379.0,533.7 383.0,532.5 387.0,530.8 391.0,530.0 395.0,531.0 399.0,530.5 403.0,530.3 407.0,532.5 411.0,534.6 415.0,536.0 419.0,536.8 423.0,535.8 427.0,533.6 433.0,532.2 435.0,531.7 437.0,530.7 439.0,529.3 441.0,527.1 443.0,525.4 445.0,525.0 447.0,526.1 449.0,528.0 451.0,530.0 453.0,531.5 455.5,532.6 M115.5,532.6 137.9,532.8 190.0,532.5 219.8,533.1 241.0,533.1 255.0,532.2 259.0,531.7 263.0,531.3 267.0,531.1 271.0,530.9 275.0,530.9 279.0,531.1 283.0,531.5 287.0,532.4 291.0,534.1 295.0,534.4 299.0,533.8 303.0,532.8 307.0,531.2 311.0,530.2 315.0,530.3 319.0,530.5 323.0,531.1 327.0,531.7 331.0,531.4 335.0,531.6 339.0,532.2 343.0,530.8 347.0,529.6 351.0,530.0 355.0,530.9 359.0,532.0 363.0,533.3 367.0,534.3 371.0,535.1 375.0,535.4 379.0,534.7 383.0,532.8 387.0,530.3 391.0,529.2 395.0,531.0 399.0,530.6 403.0,530.5 407.0,534.2 411.0,538.0 415.0,540.4 419.0,542.0 423.0,540.9 427.0,537.9 433.0,536.2 435.0,535.5 437.0,534.2 439.0,532.1 441.0,528.7 443.0,526.1 445.0,525.6 447.0,527.4 449.0,530.2 451.0,533.4 453.0,535.7 455.5,537.4 M115.5,536.7 141.8,536.7 171.1,536.6 217.9,536.8 244.8,536.8 255.0,536.1 259.0,535.7 263.0,535.4 267.0,535.1 271.0,535.0 275.0,535.1 279.0,535.3 283.0,535.7 287.0,536.8 291.0,538.4 295.0,538.9 299.0,538.5 303.0,537.6 307.0,536.3 311.0,535.6 315.0,535.7 319.0,536.2 323.0,536.8 327.0,537.6 331.0,537.4 335.0,537.7 339.0,538.4 343.0,537.2 347.0,536.1 351.0,536.5 355.0,537.2 359.0,538.1 363.0,539.2 367.0,539.9 371.0,540.4 375.0,540.3 379.0,539.2 383.0,537.1 387.0,534.2 391.0,532.7 395.0,533.8 399.0,532.9 403.0,532.3 407.0,535.3 411.0,538.4 415.0,540.2 419.0,541.3 423.0,539.9 427.0,536.8 433.0,534.9 435.0,534.2 437.0,532.9 439.0,530.9 441.0,527.7 443.0,525.3 445.0,525.0 447.0,526.8 449.0,529.6 451.0,532.8 453.0,535.2 455.5,537.0 M115.5,537.2 139.7,537.2 176.7,536.9 229.9,537.7 248.6,537.3 255.0,536.8 259.0,536.5 263.0,536.1 267.0,535.9 271.0,535.8 275.0,535.9 279.0,536.1 283.0,536.5 287.0,537.5 291.0,539.1 295.0,539.5 299.0,539.0 303.0,538.0 307.0,536.6 311.0,535.7 315.0,535.7 319.0,536.0 323.0,536.5 327.0,537.1 331.0,536.8 335.0,537.0 339.0,537.6 343.0,536.3 347.0,535.2 351.0,535.5 355.0,536.2 359.0,537.2 363.0,538.4 367.0,539.3 371.0,539.9 375.0,540.0 379.0,539.2 383.0,537.3 387.0,534.7 391.0,533.5 395.0,534.9 399.0,534.3 403.0,533.9 407.0,537.2 411.0,540.5 415.0,542.5 419.0,543.8 423.0,542.4 427.0,539.3 433.0,537.4 435.0,536.7 437.0,535.3 439.0,533.2 441.0,529.9 443.0,527.5 445.0,527.0 447.0,528.6 449.0,531.4 451.0,534.4 453.0,536.6 455.5,538.3 M115.5,537.7 158.5,537.7 191.9,537.3 215.4,537.8 238.7,538.2 255.0,537.3 259.0,536.8 263.0,536.4 267.0,536.1 271.0,536.0 275.0,536.1 279.0,536.5 283.0,537.0 287.0,538.2 291.0,540.1 295.0,540.6 299.0,540.1 303.0,539.0 307.0,537.3 311.0,536.4 315.0,536.4 319.0,536.8 323.0,537.4 327.0,538.1 331.0,537.7 335.0,537.8 339.0,538.4 343.0,536.6 347.0,535.1 351.0,535.3 355.0,536.0 359.0,536.9 363.0,538.0 367.0,538.8 371.0,539.2 375.0,539.1 379.0,537.8 383.0,535.3 387.0,532.0 391.0,530.4 395.0,531.9 399.0,531.1 403.0,530.6 407.0,534.6 411.0,538.6 415.0,541.2 419.0,542.9 423.0,541.6 427.0,538.3 433.0,536.6 435.0,536.0 437.0,534.6 439.0,532.4 441.0,528.7 443.0,526.0 445.0,525.7 447.0,527.9 449.0,531.4 451.0,535.2 453.0,538.2 455.5,540.4 M115.5,538.1 142.5,538.2 189.5,537.8 216.0,538.1 244.3,538.2 255.0,537.7 259.0,537.4 263.0,537.1 267.0,537.0 271.0,536.9 275.0,537.0 279.0,537.3 283.0,537.8 287.0,538.8 291.0,540.3 295.0,540.7 299.0,540.5 303.0,539.8 307.0,538.6 311.0,538.0 315.0,538.1 319.0,538.4 323.0,538.9 327.0,539.4 331.0,539.1 335.0,539.1 339.0,539.5 343.0,538.1 347.0,536.9 351.0,536.9 355.0,537.2 359.0,537.7 363.0,538.3 367.0,538.7 371.0,538.8 375.0,538.6 379.0,537.5 383.0,535.6 387.0,533.1 391.0,531.9 395.0,533.1 399.0,532.5 403.0,532.2 407.0,535.3 411.0,538.3 415.0,540.4 419.0,541.9 423.0,541.2 427.0,539.0 433.0,538.2 435.0,537.9 437.0,537.0 439.0,535.6 441.0,533.0 443.0,531.2 445.0,531.0 447.0,532.7 449.0,535.3 451.0,538.1 453.0,540.3 455.5,542.0 M115.5,538.7 129.7,538.7 192.5,538.2 219.0,538.8 245.1,539.0 255.0,538.5 259.0,538.1 263.0,537.8 267.0,537.7 271.0,537.6 275.0,537.7 279.0,538.0 283.0,538.3 287.0,539.2 291.0,540.7 295.0,541.0 299.0,540.4 303.0,539.4 307.0,538.0 311.0,537.0 315.0,536.9 319.0,537.0 323.0,537.3 327.0,537.7 331.0,537.3 335.0,537.3 339.0,537.7 343.0,536.4 347.0,535.3 351.0,535.6 355.0,536.4 359.0,537.4 363.0,538.7 367.0,539.7 371.0,540.6 375.0,541.1 379.0,540.7 383.0,539.4 387.0,537.5 391.0,536.8 395.0,538.6 399.0,538.5 403.0,538.5 407.0,542.0 411.0,545.3 415.0,547.4 419.0,548.7 423.0,547.4 427.0,544.4 433.0,542.2 435.0,541.4 437.0,539.9 439.0,537.7 441.0,534.4 443.0,531.8 445.0,531.0 447.0,532.2 449.0,534.4 451.0,536.8 453.0,538.5 455.5,539.5 M115.5,542.7 149.8,542.8 199.6,542.4 230.0,543.1 241.1,543.0 255.0,542.1 259.0,541.6 263.0,541.2 267.0,540.9 271.0,540.8 275.0,540.9 279.0,541.1 283.0,541.6 287.0,542.7 291.0,544.6 295.0,545.1 299.0,544.7 303.0,543.7 307.0,542.2 311.0,541.4 315.0,541.7 319.0,542.2 323.0,543.0 327.0,543.9 331.0,543.8 335.0,544.3 339.0,545.1 343.0,543.8 347.0,542.7 351.0,543.2 355.0,544.1 359.0,545.2 363.0,546.5 367.0,547.4 371.0,547.9 375.0,547.8 379.0,546.5 383.0,544.0 387.0,540.7 391.0,538.8 395.0,539.9 399.0,538.6 403.0,537.6 407.0,540.7 411.0,543.8 415.0,545.5 419.0,546.4 423.0,544.3 427.0,540.4 433.0,537.7 435.0,536.8 437.0,535.2 439.0,532.8 441.0,529.0 443.0,526.3 445.0,525.8 447.0,527.8 449.0,531.1 451.0,534.6 453.0,537.3 455.5,539.5 M115.5,543.7 142.6,543.7 180.3,543.3 231.0,544.3 247.1,544.0 255.0,543.3 259.0,542.8 263.0,542.4 267.0,542.2 271.0,542.0 275.0,542.1 279.0,542.4 283.0,542.9 287.0,544.0 291.0,545.9 295.0,546.3 299.0,545.7 303.0,544.6 307.0,543.0 311.0,542.0 315.0,542.1 319.0,542.4 323.0,543.0 327.0,543.7 331.0,543.4 335.0,543.6 339.0,544.3 343.0,542.7 347.0,541.4 351.0,541.7 355.0,542.5 359.0,543.6 363.0,544.9 367.0,545.8 371.0,546.4 375.0,546.5 379.0,545.4 383.0,543.0 387.0,540.0 391.0,538.4 395.0,540.0 399.0,539.2 403.0,538.7 407.0,542.5 411.0,546.2 415.0,548.6 419.0,550.1 423.0,548.6 427.0,545.2 433.0,543.1 435.0,542.4 437.0,540.9 439.0,538.6 441.0,534.9 443.0,532.2 445.0,531.8 447.0,533.8 449.0,537.1 451.0,540.7 453.0,543.5 455.5,545.6 M115.5,544.8 135.8,544.8 181.9,544.2 229.3,545.6 240.7,545.5 255.0,544.2 259.0,543.6 263.0,543.0 267.0,542.7 271.0,542.5 275.0,542.5 279.0,542.9 283.0,543.4 287.0,544.9 291.0,547.4 295.0,547.9 299.0,547.1 303.0,545.5 307.0,543.1 311.0,541.7 315.0,541.8 319.0,542.2 323.0,543.1 327.0,544.0 331.0,543.7 335.0,544.1 339.0,545.1 343.0,543.2 347.0,541.6 351.0,542.4 355.0,543.8 359.0,545.7 363.0,547.8 367.0,549.4 371.0,550.7 375.0,551.1 379.0,550.0 383.0,547.2 387.0,543.4 391.0,541.5 395.0,543.9 399.0,542.9 403.0,542.2 407.0,547.4 411.0,552.3 415.0,555.3 419.0,557.0 423.0,554.5 427.0,549.3 433.0,545.5 435.0,544.2 437.0,541.8 439.0,538.3 441.0,532.9 443.0,528.7 445.0,527.7 447.0,530.1 449.0,534.2 451.0,538.7 453.0,542.1 455.5,544.5 M115.5,545.4 159.3,545.1 172.5,544.8 229.0,545.3 247.1,545.1 255.0,544.7 259.0,544.3 263.0,544.0 267.0,543.8 271.0,543.7 275.0,543.8 279.0,544.1 283.0,544.4 287.0,545.3 291.0,546.7 295.0,547.1 299.0,546.8 303.0,546.0 307.0,544.9 311.0,544.3 315.0,544.4 319.0,544.7 323.0,545.3 327.0,546.0 331.0,545.8 335.0,546.1 339.0,546.8 343.0,545.7 347.0,544.9 351.0,545.3 355.0,546.0 359.0,547.0 363.0,548.1 367.0,548.9 371.0,549.5 375.0,549.6 379.0,548.9 383.0,547.3 387.0,545.1 391.0,544.0 395.0,545.1 399.0,544.5 403.0,544.1 407.0,546.9 411.0,549.5 415.0,551.2 419.0,552.1 423.0,550.8 427.0,547.9 433.0,546.0 435.0,545.3 437.0,544.0 439.0,542.1 441.0,539.2 443.0,537.0 445.0,536.5 447.0,537.8 449.0,540.1 451.0,542.5 453.0,544.4 455.5,545.7 M115.5,545.6 138.9,545.7 196.2,545.5 212.7,545.5 246.4,545.4 255.0,545.1 259.0,544.9 263.0,544.7 267.0,544.5 271.0,544.4 275.0,544.5 279.0,544.6 283.0,544.8 287.0,545.3 291.0,546.2 295.0,546.4 299.0,546.3 303.0,545.9 307.0,545.3 311.0,545.0 315.0,545.1 319.0,545.3 323.0,545.7 327.0,546.1 331.0,546.0 335.0,546.2 339.0,546.5 343.0,545.9 347.0,545.3 351.0,545.5 355.0,545.8 359.0,546.2 363.0,546.7 367.0,547.1 371.0,547.3 375.0,547.3 379.0,546.8 383.0,545.8 387.0,544.5 391.0,543.9 395.0,544.6 399.0,544.4 403.0,544.3 407.0,546.1 411.0,547.9 415.0,549.2 419.0,550.1 423.0,549.7 427.0,548.6 433.0,548.1 435.0,547.9 437.0,547.4 439.0,546.6 441.0,545.1 443.0,544.0 445.0,543.9 447.0,544.8 449.0,546.2 451.0,547.8 453.0,548.9 455.5,549.8 M115.5,546.6 132.5,546.6 182.1,546.4 223.8,546.7 239.5,546.7 255.0,546.4 259.0,546.3 263.0,546.2 267.0,546.1 271.0,546.0 275.0,546.1 279.0,546.2 283.0,546.3 287.0,546.6 291.0,547.2 295.0,547.3 299.0,547.2 303.0,546.9 307.0,546.4 311.0,546.1 315.0,546.1 319.0,546.2 323.0,546.4 327.0,546.6 331.0,546.6 335.0,546.6 339.0,546.8 343.0,546.4 347.0,546.0 351.0,546.1 355.0,546.4 359.0,546.7 363.0,547.1 367.0,547.4 371.0,547.6 375.0,547.7 379.0,547.4 383.0,546.7 387.0,545.8 391.0,545.4 395.0,545.9 399.0,545.7 403.0,545.5 407.0,546.6 411.0,547.7 415.0,548.4 419.0,548.8 423.0,548.3 427.0,547.2 433.0,546.5 435.0,546.3 437.0,545.8 439.0,545.1 441.0,543.9 443.0,543.1 445.0,542.9 447.0,543.4 449.0,544.3 451.0,545.3 453.0,546.1 455.5,546.6 M115.5,547.2 150.3,547.1 192.3,546.7 227.0,547.3 247.4,547.2 255.0,546.9 259.0,546.7 263.0,546.5 267.0,546.4 271.0,546.4 275.0,546.4 279.0,546.6 283.0,546.9 287.0,547.6 291.0,548.6 295.0,548.9 299.0,548.7 303.0,548.1 307.0,547.2 311.0,546.7 315.0,546.8 319.0,546.9 323.0,547.3 327.0,547.6 331.0,547.4 335.0,547.5 339.0,547.8 343.0,546.9 347.0,546.1 351.0,546.2 355.0,546.6 359.0,547.1 363.0,547.7 367.0,548.1 371.0,548.4 375.0,548.3 379.0,547.7 383.0,546.4 387.0,544.7 391.0,543.8 395.0,544.6 399.0,544.2 403.0,543.9 407.0,545.9 411.0,547.9 415.0,549.1 419.0,549.9 423.0,549.1 427.0,547.3 433.0,546.2 435.0,545.8 437.0,545.0 439.0,543.8 441.0,541.9 443.0,540.4 445.0,540.2 447.0,541.3 449.0,543.1 451.0,545.1 453.0,546.6 455.5,547.7 M115.5,547.7 136.0,547.6 197.8,547.3 230.8,548.2 239.4,548.1 255.0,547.4 259.0,547.0 263.0,546.6 267.0,546.4 271.0,546.3 275.0,546.4 279.0,546.7 283.0,547.1 287.0,548.2 291.0,549.8 295.0,550.3 299.0,549.8 303.0,548.8 307.0,547.3 311.0,546.4 315.0,546.5 319.0,546.8 323.0,547.3 327.0,547.9 331.0,547.6 335.0,547.8 339.0,548.4 343.0,547.0 347.0,545.8 351.0,546.1 355.0,546.8 359.0,547.7 363.0,548.9 367.0,549.6 371.0,550.2 375.0,550.2 379.0,549.2 383.0,547.1 387.0,544.4 391.0,543.0 395.0,544.4 399.0,543.6 403.0,543.1 407.0,546.5 411.0,549.8 415.0,551.9 419.0,553.2 423.0,551.7 427.0,548.5 433.0,546.6 435.0,545.9 437.0,544.5 439.0,542.4 441.0,539.0 443.0,536.5 445.0,536.1 447.0,537.9 449.0,540.8 451.0,544.0 453.0,546.5 455.5,548.3 M115.5,550.7 138.6,550.7 168.9,550.4 231.3,551.2 238.4,551.2 255.0,550.3 259.0,549.8 263.0,549.4 267.0,549.2 271.0,549.0 275.0,549.2 279.0,549.5 283.0,550.0 287.0,551.2 291.0,553.2 295.0,553.7 299.0,553.2 303.0,552.1 307.0,550.4 311.0,549.4 315.0,549.6 319.0,550.0 323.0,550.7 327.0,551.4 331.0,551.2 335.0,551.4 339.0,552.2 343.0,550.6 347.0,549.3 351.0,549.7 355.0,550.6 359.0,551.7 363.0,553.1 367.0,554.0 371.0,554.7 375.0,554.7 379.0,553.5 383.0,551.1 387.0,547.8 391.0,546.1 395.0,547.6 399.0,546.6 403.0,545.9 407.0,549.6 411.0,553.3 415.0,555.5 419.0,556.8 423.0,554.9 427.0,550.9 433.0,548.3 435.0,547.4 437.0,545.7 439.0,543.1 441.0,539.1 443.0,536.1 445.0,535.5 447.0,537.5 449.0,540.8 451.0,544.4 453.0,547.2 455.5,549.2 M115.5,551.5 133.4,551.5 181.5,551.5 225.7,552.0 250.4,551.5 255.0,551.2 259.0,550.8 263.0,550.5 267.0,550.2 271.0,550.1 275.0,550.2 279.0,550.4 283.0,550.8 287.0,551.7 291.0,553.1 295.0,553.5 299.0,553.2 303.0,552.4 307.0,551.2 311.0,550.6 315.0,550.7 319.0,551.1 323.0,551.6 327.0,552.2 331.0,551.9 335.0,552.1 339.0,552.5 343.0,551.2 347.0,550.1 351.0,550.2 355.0,550.6 359.0,551.2 363.0,552.0 367.0,552.4 371.0,552.6 375.0,552.4 379.0,551.4 383.0,549.5 387.0,547.1 391.0,545.9 395.0,547.1 399.0,546.6 403.0,546.4 407.0,549.5 411.0,552.6 415.0,554.9 419.0,556.5 423.0,555.9 427.0,554.0 433.0,553.5 435.0,553.3 437.0,552.5 439.0,551.1 441.0,548.7 443.0,546.9 445.0,546.8 447.0,548.6 449.0,551.3 451.0,554.1 453.0,556.3 455.5,558.0 M115.5,554.6 136.9,554.5 196.6,554.4 213.3,554.6 250.3,554.7 255.0,554.5 259.0,554.2 263.0,554.0 267.0,553.9 271.0,553.9 275.0,553.9 279.0,554.1 283.0,554.3 287.0,555.0 291.0,556.0 295.0,556.2 299.0,555.9 303.0,555.3 307.0,554.3 311.0,553.8 315.0,553.7 319.0,553.9 323.0,554.2 327.0,554.5 331.0,554.3 335.0,554.4 339.0,554.7 343.0,553.8 347.0,553.0 351.0,553.2 355.0,553.6 359.0,554.2 363.0,554.9 367.0,555.4 371.0,555.8 375.0,555.9 379.0,555.3 383.0,554.1 387.0,552.5 391.0,551.8 395.0,552.7 399.0,552.3 403.0,552.1 407.0,554.2 411.0,556.3 415.0,557.6 419.0,558.4 423.0,557.6 427.0,555.7 433.0,554.5 435.0,554.1 437.0,553.2 439.0,551.9 441.0,549.9 443.0,548.3 445.0,548.0 447.0,549.1 449.0,550.9 451.0,552.8 453.0,554.2 455.5,555.3 M115.5,555.2 133.8,555.1 183.3,554.8 210.1,555.1 241.7,555.4 255.0,554.9 259.0,554.6 263.0,554.3 267.0,554.1 271.0,554.0 275.0,554.0 279.0,554.2 283.0,554.4 287.0,555.1 291.0,556.2 295.0,556.5 299.0,556.2 303.0,555.5 307.0,554.5 311.0,554.0 315.0,554.1 319.0,554.4 323.0,554.9 327.0,555.5 331.0,555.4 335.0,555.7 339.0,556.3 343.0,555.5 347.0,554.8 351.0,555.2 355.0,555.8 359.0,556.6 363.0,557.4 367.0,558.0 371.0,558.3 375.0,558.3 379.0,557.5 383.0,555.9 387.0,553.8 391.0,552.5 395.0,553.2 399.0,552.4 403.0,551.7 407.0,553.7 411.0,555.6 415.0,556.7 419.0,557.3 423.0,556.0 427.0,553.6 433.0,552.1 435.0,551.6 437.0,550.7 439.0,549.2 441.0,546.9 443.0,545.3 445.0,545.1 447.0,546.5 449.0,548.7 451.0,551.0 453.0,552.9 455.5,554.4 M115.5,555.7 136.2,555.6 170.8,555.4 230.0,556.3 247.0,556.0 255.0,555.3 259.0,554.8 263.0,554.4 267.0,554.2 271.0,554.1 275.0,554.2 279.0,554.5 283.0,555.1 287.0,556.3 291.0,558.3 295.0,558.8 299.0,558.3 303.0,557.2 307.0,555.5 311.0,554.5 315.0,554.6 319.0,555.0 323.0,555.7 327.0,556.5 331.0,556.2 335.0,556.4 339.0,557.1 343.0,555.5 347.0,554.1 351.0,554.5 355.0,555.3 359.0,556.5 363.0,557.8 367.0,558.7 371.0,559.3 375.0,559.4 379.0,558.2 383.0,555.7 387.0,552.4 391.0,550.7 395.0,552.3 399.0,551.4 403.0,550.8 407.0,554.7 411.0,558.5 415.0,560.9 419.0,562.3 423.0,560.6 427.0,556.8 433.0,554.4 435.0,553.5 437.0,551.8 439.0,549.3 441.0,545.3 443.0,542.3 445.0,541.7 447.0,543.8 449.0,547.2 451.0,550.8 453.0,553.6 455.5,555.7 M115.5,556.2 138.3,556.2 180.4,555.7 225.7,556.7 250.6,556.1 255.0,555.6 259.0,555.1 263.0,554.6 267.0,554.3 271.0,554.2 275.0,554.3 279.0,554.7 283.0,555.3 287.0,556.7 291.0,559.0 295.0,559.6 299.0,559.1 303.0,557.9 307.0,556.0 311.0,554.9 315.0,555.1 319.0,555.6 323.0,556.5 327.0,557.4 331.0,557.1 335.0,557.5 339.0,558.3 343.0,556.5 347.0,555.0 351.0,555.4 355.0,556.4 359.0,557.7 363.0,559.2 367.0,560.3 371.0,561.0 375.0,561.0 379.0,559.7 383.0,556.8 387.0,553.1 391.0,551.2 395.0,553.0 399.0,552.0 403.0,551.3 407.0,555.8 411.0,560.2 415.0,563.0 419.0,564.7 423.0,562.8 427.0,558.5 433.0,555.9 435.0,554.9 437.0,553.1 439.0,550.2 441.0,545.7 443.0,542.3 445.0,541.7 447.0,544.0 449.0,547.9 451.0,552.0 453.0,555.2 455.5,557.6 M115.5,556.6 128.6,556.6 195.5,556.4 228.7,557.1 248.9,556.8 255.0,556.4 259.0,556.1 263.0,555.9 267.0,555.7 271.0,555.6 275.0,555.7 279.0,555.9 283.0,556.2 287.0,556.9 291.0,558.2 295.0,558.5 299.0,558.2 303.0,557.5 307.0,556.4 311.0,555.9 315.0,556.0 319.0,556.3 323.0,556.8 327.0,557.3 331.0,557.2 335.0,557.4 339.0,557.9 343.0,556.9 347.0,556.1 351.0,556.4 355.0,556.9 359.0,557.6 363.0,558.4 367.0,558.9 371.0,559.1 375.0,559.0 379.0,558.1 383.0,556.3 387.0,554.0 391.0,552.7 395.0,553.4 399.0,552.5 403.0,551.8 407.0,553.9 411.0,556.0 415.0,557.2 419.0,557.8 423.0,556.5 427.0,554.0 433.0,552.5 435.0,551.9 437.0,550.9 439.0,549.4 441.0,547.0 443.0,545.3 445.0,545.1 447.0,546.5 449.0,548.8 451.0,551.3 453.0,553.3 455.5,554.9 M115.5,559.6 158.1,559.6 186.5,559.4 227.7,560.2 244.1,559.9 255.0,559.1 259.0,558.7 263.0,558.3 267.0,558.0 271.0,557.8 275.0,557.8 279.0,558.0 283.0,558.4 287.0,559.4 291.0,561.0 295.0,561.4 299.0,561.0 303.0,560.1 307.0,558.8 311.0,558.0 315.0,558.3 319.0,558.7 323.0,559.5 327.0,560.3 331.0,560.2 335.0,560.6 339.0,561.3 343.0,560.1 347.0,559.1 351.0,559.5 355.0,560.3 359.0,561.2 363.0,562.3 367.0,563.0 371.0,563.4 375.0,563.3 379.0,562.1 383.0,559.8 387.0,556.9 391.0,555.3 395.0,556.3 399.0,555.3 403.0,554.6 407.0,557.6 411.0,560.7 415.0,562.6 419.0,563.8 423.0,562.4 427.0,559.5 433.0,558.0 435.0,557.5 437.0,556.3 439.0,554.5 441.0,551.5 443.0,549.3 445.0,549.1 447.0,551.1 449.0,554.2 451.0,557.5 453.0,560.1 455.5,562.2 M115.5,560.3 159.4,560.2 171.6,559.9 209.0,560.0 246.9,560.5 255.0,559.7 259.0,559.3 263.0,558.8 267.0,558.6 271.0,558.4 275.0,558.6 279.0,558.9 283.0,559.5 287.0,560.8 291.0,562.9 295.0,563.4 299.0,562.8 303.0,561.6 307.0,559.7 311.0,558.7 315.0,558.8 319.0,559.1 323.0,559.8 327.0,560.6 331.0,560.3 335.0,560.5 339.0,561.3 343.0,559.5 347.0,558.1 351.0,558.5 355.0,559.5 359.0,560.7 363.0,562.2 367.0,563.3 371.0,564.1 375.0,564.2 379.0,563.1 383.0,560.5 387.0,557.2 391.0,555.5 395.0,557.3 399.0,556.4 403.0,555.8 407.0,560.0 411.0,564.0 415.0,566.5 419.0,568.0 423.0,566.1 427.0,562.0 433.0,559.3 435.0,558.3 437.0,556.4 439.0,553.7 441.0,549.4 443.0,546.1 445.0,545.5 447.0,547.6 449.0,551.1 451.0,555.0 453.0,557.9 455.5,560.0 M115.5,560.7 151.9,560.7 186.9,560.3 217.4,560.8 247.4,560.8 255.0,560.2 259.0,559.7 263.0,559.3 267.0,559.0 271.0,558.9 275.0,559.0 279.0,559.2 283.0,559.7 287.0,560.8 291.0,562.6 295.0,563.1 299.0,562.6 303.0,561.6 307.0,560.0 311.0,559.2 315.0,559.4 319.0,559.8 323.0,560.5 327.0,561.3 331.0,561.1 335.0,561.4 339.0,562.1 343.0,560.7 347.0,559.6 351.0,560.0 355.0,560.8 359.0,562.0 363.0,563.2 367.0,564.1 371.0,564.7 375.0,564.8 379.0,563.6 383.0,561.3 387.0,558.2 391.0,556.6 395.0,557.9 399.0,557.0 403.0,556.2 407.0,559.7 411.0,563.0 415.0,565.0 419.0,566.2 423.0,564.5 427.0,560.9 433.0,558.6 435.0,557.8 437.0,556.2 439.0,553.9 441.0,550.3 443.0,547.6 445.0,547.1 447.0,549.1 449.0,552.3 451.0,555.7 453.0,558.4 455.5,560.5 M115.5,561.4 157.4,561.4 190.5,561.4 222.1,562.0 247.3,561.9 255.0,561.6 259.0,561.4 263.0,561.2 267.0,561.1 271.0,561.0 275.0,561.1 279.0,561.2 283.0,561.4 287.0,561.9 291.0,562.7 295.0,562.9 299.0,562.6 303.0,562.0 307.0,561.2 311.0,560.7 315.0,560.7 319.0,560.9 323.0,561.2 327.0,561.5 331.0,561.3 335.0,561.5 339.0,561.8 343.0,561.1 347.0,560.5 351.0,560.6 355.0,561.0 359.0,561.5 363.0,562.1 367.0,562.4 371.0,562.6 375.0,562.5 379.0,561.9 383.0,560.6 387.0,559.0 391.0,558.0 395.0,558.5 399.0,557.9 403.0,557.4 407.0,558.9 411.0,560.4 415.0,561.2 419.0,561.7 423.0,560.8 427.0,559.0 433.0,557.8 435.0,557.5 437.0,556.7 439.0,555.7 441.0,553.9 443.0,552.7 445.0,552.6 447.0,553.7 449.0,555.3 451.0,557.2 453.0,558.6 455.5,559.8 M115.5,562.5 159.3,562.6 191.7,562.3 228.7,563.0 247.4,562.8 255.0,562.4 259.0,562.1 263.0,561.9 267.0,561.7 271.0,561.7 275.0,561.8 279.0,562.0 283.0,562.4 287.0,563.2 291.0,564.6 295.0,564.9 299.0,564.6 303.0,563.9 307.0,562.8 311.0,562.1 315.0,562.2 319.0,562.4 323.0,562.9 327.0,563.3 331.0,563.0 335.0,563.1 339.0,563.5 343.0,562.3 347.0,561.3 351.0,561.4 355.0,561.8 359.0,562.4 363.0,563.2 367.0,563.6 371.0,563.9 375.0,563.8 379.0,562.9 383.0,561.1 387.0,558.9 391.0,557.7 395.0,558.7 399.0,558.0 403.0,557.6 407.0,560.2 411.0,562.7 415.0,564.4 419.0,565.4 423.0,564.4 427.0,562.1 433.0,560.8 435.0,560.3 437.0,559.3 439.0,557.7 441.0,555.2 443.0,553.4 445.0,553.1 447.0,554.6 449.0,556.9 451.0,559.5 453.0,561.4 455.5,562.9 M115.5,565.5 152.4,565.4 183.4,565.3 214.0,565.9 246.8,566.0 255.0,565.4 259.0,565.0 263.0,564.6 267.0,564.4 271.0,564.3 275.0,564.3 279.0,564.5 283.0,564.9 287.0,565.8 291.0,567.4 295.0,567.8 299.0,567.3 303.0,566.4 307.0,565.1 311.0,564.3 315.0,564.4 319.0,564.8 323.0,565.4 327.0,566.0 331.0,565.8 335.0,566.1 339.0,566.7 343.0,565.4 347.0,564.3 351.0,564.6 355.0,565.3 359.0,566.1 363.0,567.1 367.0,567.7 371.0,568.1 375.0,567.9 379.0,566.8 383.0,564.7 387.0,561.9 391.0,560.4 395.0,561.5 399.0,560.7 403.0,560.1 407.0,563.1 411.0,566.1 415.0,568.0 419.0,569.2 423.0,568.0 427.0,565.3 433.0,563.9 435.0,563.5 437.0,562.4 439.0,560.6 441.0,557.7 443.0,555.7 445.0,555.5 447.0,557.4 449.0,560.3 451.0,563.4 453.0,565.9 455.5,567.9 M115.5,566.1 143.1,566.0 173.6,565.8 231.2,566.8 250.0,566.4 255.0,566.0 259.0,565.6 263.0,565.3 267.0,565.1 271.0,565.0 275.0,565.1 279.0,565.3 283.0,565.7 287.0,566.7 291.0,568.4 295.0,568.7 299.0,568.2 303.0,567.2 307.0,565.6 311.0,564.7 315.0,564.7 319.0,564.9 323.0,565.4 327.0,565.9 331.0,565.5 335.0,565.7 339.0,566.2 343.0,564.7 347.0,563.5 351.0,563.8 355.0,564.5 359.0,565.4 363.0,566.6 367.0,567.4 371.0,568.0 375.0,568.1 379.0,567.2 383.0,565.2 387.0,562.6 391.0,561.3 395.0,562.8 399.0,562.2 403.0,561.9 407.0,565.3 411.0,568.7 415.0,571.0 419.0,572.4 423.0,571.1 427.0,568.1 433.0,566.4 435.0,565.8 437.0,564.5 439.0,562.5 441.0,559.2 443.0,556.8 445.0,556.4 447.0,558.2 449.0,561.1 451.0,564.3 453.0,566.7 455.5,568.5 M115.5,566.7 137.4,566.8 197.7,566.4 210.1,566.7 242.0,567.0 255.0,566.2 259.0,565.8 263.0,565.4 267.0,565.2 271.0,565.0 275.0,565.1 279.0,565.3 283.0,565.7 287.0,566.7 291.0,568.4 295.0,568.7 299.0,568.2 303.0,567.2 307.0,565.6 311.0,564.7 315.0,564.8 319.0,565.0 323.0,565.6 327.0,566.2 331.0,565.9 335.0,566.1 339.0,566.7 343.0,565.2 347.0,564.1 351.0,564.4 355.0,565.2 359.0,566.3 363.0,567.5 367.0,568.4 371.0,569.1 375.0,569.3 379.0,568.4 383.0,566.5 387.0,563.9 391.0,562.7 395.0,564.3 399.0,563.7 403.0,563.4 407.0,567.0 411.0,570.5 415.0,572.7 419.0,574.2 423.0,572.8 427.0,569.6 433.0,567.7 435.0,566.9 437.0,565.5 439.0,563.3 441.0,559.9 443.0,557.3 445.0,556.7 447.0,558.4 449.0,561.3 451.0,564.4 453.0,566.7 455.5,568.4 M115.5,567.9 134.4,567.8 172.9,567.2 231.2,568.4 243.6,568.3 255.0,567.4 259.0,566.9 263.0,566.5 267.0,566.2 271.0,566.1 275.0,566.2 279.0,566.6 283.0,567.1 287.0,568.4 291.0,570.6 295.0,571.1 299.0,570.4 303.0,569.0 307.0,567.0 311.0,565.7 315.0,565.7 319.0,566.0 323.0,566.6 327.0,567.3 331.0,566.9 335.0,567.1 339.0,567.9 343.0,566.0 347.0,564.6 351.0,565.1 355.0,566.2 359.0,567.6 363.0,569.4 367.0,570.7 371.0,571.7 375.0,572.1 379.0,571.1 383.0,568.7 387.0,565.5 391.0,564.0 395.0,566.1 399.0,565.3 403.0,564.9 407.0,569.4 411.0,573.8 415.0,576.6 419.0,578.1 423.0,576.1 427.0,571.7 433.0,568.6 435.0,567.4 437.0,565.4 439.0,562.4 441.0,557.8 443.0,554.2 445.0,553.4 447.0,555.4 449.0,559.0 451.0,562.8 453.0,565.8 455.5,567.8 M115.5,568.1 148.8,568.0 180.4,567.8 214.8,568.2 245.3,568.5 255.0,567.9 259.0,567.6 263.0,567.3 267.0,567.1 271.0,567.0 275.0,567.0 279.0,567.3 283.0,567.6 287.0,568.5 291.0,570.0 295.0,570.3 299.0,569.8 303.0,569.0 307.0,567.6 311.0,566.9 315.0,566.9 319.0,567.1 323.0,567.6 327.0,568.1 331.0,567.8 335.0,568.0 339.0,568.5 343.0,567.3 347.0,566.3 351.0,566.6 355.0,567.2 359.0,568.1 363.0,569.2 367.0,569.9 371.0,570.5 375.0,570.6 379.0,569.8 383.0,568.0 387.0,565.7 391.0,564.6 395.0,565.8 399.0,565.2 403.0,564.9 407.0,567.8 411.0,570.7 415.0,572.6 419.0,573.7 423.0,572.4 427.0,569.6 433.0,567.8 435.0,567.2 437.0,565.9 439.0,564.0 441.0,561.1 443.0,558.8 445.0,558.4 447.0,559.9 449.0,562.4 451.0,565.1 453.0,567.1 455.5,568.7 M115.5,568.6 156.7,568.6 171.0,568.5 219.9,568.8 246.6,568.9 255.0,568.5 259.0,568.2 263.0,568.0 267.0,567.9 271.0,567.8 275.0,567.9 279.0,568.1 283.0,568.4 287.0,569.1 291.0,570.2 295.0,570.4 299.0,570.1 303.0,569.4 307.0,568.3 311.0,567.6 315.0,567.6 319.0,567.7 323.0,568.0 327.0,568.3 331.0,568.0 335.0,568.0 339.0,568.3 343.0,567.2 347.0,566.3 351.0,566.4 355.0,566.7 359.0,567.3 363.0,568.0 367.0,568.5 371.0,568.9 375.0,568.9 379.0,568.2 383.0,566.8 387.0,565.0 391.0,564.1 395.0,565.1 399.0,564.7 403.0,564.5 407.0,567.0 411.0,569.4 415.0,571.0 419.0,572.0 423.0,571.3 427.0,569.3 433.0,568.4 435.0,568.0 437.0,567.2 439.0,565.9 441.0,563.7 443.0,562.2 445.0,562.0 447.0,563.3 449.0,565.4 451.0,567.7 453.0,569.4 455.5,570.8 M115.5,570.7 149.3,570.8 184.1,570.5 227.9,571.4 240.4,571.2 255.0,570.2 259.0,569.7 263.0,569.2 267.0,568.9 271.0,568.7 275.0,568.7 279.0,568.9 283.0,569.2 287.0,570.3 291.0,572.1 295.0,572.4 299.0,571.8 303.0,570.6 307.0,568.8 311.0,567.8 315.0,567.8 319.0,568.1 323.0,568.8 327.0,569.5 331.0,569.3 335.0,569.6 339.0,570.3 343.0,568.9 347.0,567.7 351.0,568.3 355.0,569.3 359.0,570.6 363.0,572.1 367.0,573.2 371.0,574.1 375.0,574.4 379.0,573.5 383.0,571.4 387.0,568.6 391.0,567.2 395.0,569.0 399.0,568.4 403.0,568.1 407.0,572.0 411.0,575.9 415.0,578.5 419.0,580.1 423.0,578.6 427.0,575.2 433.0,573.2 435.0,572.4 437.0,570.9 439.0,568.6 441.0,564.9 443.0,562.1 445.0,561.5 447.0,563.5 449.0,566.8 451.0,570.3 453.0,573.0 455.5,575.0 M115.5,571.1 138.9,571.0 191.1,570.5 220.6,571.6 246.9,571.6 255.0,570.9 259.0,570.4 263.0,569.9 267.0,569.6 271.0,569.5 275.0,569.6 279.0,570.0 283.0,570.5 287.0,571.8 291.0,574.0 295.0,574.6 299.0,574.0 303.0,572.7 307.0,570.9 311.0,569.8 315.0,570.0 319.0,570.5 323.0,571.3 327.0,572.3 331.0,572.1 335.0,572.5 339.0,573.4 343.0,571.8 347.0,570.5 351.0,571.1 355.0,572.2 359.0,573.6 363.0,575.2 367.0,576.3 371.0,577.1 375.0,577.2 379.0,575.8 383.0,573.1 387.0,569.4 391.0,567.4 395.0,568.9 399.0,567.6 403.0,566.6 407.0,570.5 411.0,574.3 415.0,576.5 419.0,577.7 423.0,575.3 427.0,570.7 433.0,567.5 435.0,566.3 437.0,564.3 439.0,561.4 441.0,556.9 443.0,553.5 445.0,552.8 447.0,555.0 449.0,558.7 451.0,562.7 453.0,565.8 455.5,568.2 M115.5,571.6 148.7,571.7 184.7,571.3 211.2,571.6 240.1,572.0 255.0,571.2 259.0,570.8 263.0,570.4 267.0,570.2 271.0,570.1 275.0,570.2 279.0,570.5 283.0,571.0 287.0,572.0 291.0,573.8 295.0,574.3 299.0,573.8 303.0,572.7 307.0,571.2 311.0,570.3 315.0,570.4 319.0,570.7 323.0,571.2 327.0,571.9 331.0,571.5 335.0,571.7 339.0,572.3 343.0,570.7 347.0,569.5 351.0,569.7 355.0,570.5 359.0,571.5 363.0,572.7 367.0,573.5 371.0,574.2 375.0,574.3 379.0,573.4 383.0,571.3 387.0,568.6 391.0,567.3 395.0,569.0 399.0,568.5 403.0,568.3 407.0,572.1 411.0,575.8 415.0,578.3 419.0,580.0 423.0,578.8 427.0,575.8 433.0,574.1 435.0,573.5 437.0,572.1 439.0,570.0 441.0,566.6 443.0,564.0 445.0,563.6 447.0,565.4 449.0,568.4 451.0,571.7 453.0,574.1 455.5,575.9 M115.5,572.4 137.4,572.3 174.8,571.7 227.2,572.8 248.3,572.4 255.0,571.7 259.0,571.1 263.0,570.6 267.0,570.3 271.0,570.1 275.0,570.3 279.0,570.7 283.0,571.3 287.0,572.8 291.0,575.3 295.0,575.9 299.0,575.3 303.0,573.9 307.0,571.8 311.0,570.6 315.0,570.7 319.0,571.2 323.0,572.1 327.0,573.0 331.0,572.7 335.0,573.0 339.0,573.9 343.0,571.9 347.0,570.3 351.0,570.8 355.0,571.9 359.0,573.4 363.0,575.1 367.0,576.3 371.0,577.2 375.0,577.3 379.0,576.0 383.0,573.0 387.0,569.0 391.0,567.0 395.0,569.0 399.0,567.9 403.0,567.2 407.0,572.0 411.0,576.7 415.0,579.6 419.0,581.4 423.0,579.1 427.0,574.4 433.0,571.2 435.0,570.1 437.0,568.0 439.0,564.8 441.0,559.8 443.0,556.1 445.0,555.3 447.0,557.8 449.0,561.9 451.0,566.3 453.0,569.7 455.5,572.2 M115.5,572.7 132.9,572.8 171.8,572.5 217.3,572.8 250.0,572.7 255.0,572.3 259.0,572.0 263.0,571.7 267.0,571.5 271.0,571.4 275.0,571.5 279.0,571.7 283.0,572.1 287.0,572.9 291.0,574.4 295.0,574.7 299.0,574.3 303.0,573.4 307.0,572.1 311.0,571.3 315.0,571.3 319.0,571.5 323.0,572.0 327.0,572.5 331.0,572.2 335.0,572.4 339.0,572.9 343.0,571.7 347.0,570.6 351.0,570.9 355.0,571.6 359.0,572.5 363.0,573.6 367.0,574.4 371.0,575.0 375.0,575.2 379.0,574.4 383.0,572.7 387.0,570.4 391.0,569.3 395.0,570.6 399.0,570.0 403.0,569.6 407.0,572.6 411.0,575.5 415.0,577.2 419.0,578.3 423.0,576.9 427.0,574.0 433.0,571.9 435.0,571.2 437.0,569.9 439.0,567.9 441.0,564.8 443.0,562.5 445.0,562.0 447.0,563.4 449.0,565.8 451.0,568.5 453.0,570.5 455.5,571.9 M115.5,573.2 129.2,573.3 189.0,573.0 226.7,573.5 239.1,573.5 255.0,572.8 259.0,572.4 263.0,572.1 267.0,571.9 271.0,571.8 275.0,571.8 279.0,572.0 283.0,572.3 287.0,573.0 291.0,574.3 295.0,574.5 299.0,574.1 303.0,573.2 307.0,572.0 311.0,571.2 315.0,571.2 319.0,571.3 323.0,571.7 327.0,572.1 331.0,571.8 335.0,571.9 339.0,572.3 343.0,571.2 347.0,570.2 351.0,570.4 355.0,571.0 359.0,571.8 363.0,572.8 367.0,573.5 371.0,574.1 375.0,574.3 379.0,573.7 383.0,572.2 387.0,570.3 391.0,569.4 395.0,570.8 399.0,570.5 403.0,570.4 407.0,573.3 411.0,576.2 415.0,578.2 419.0,579.5 423.0,578.6 427.0,576.3 433.0,575.1 435.0,574.6 437.0,573.6 439.0,572.0 441.0,569.4 443.0,567.4 445.0,567.1 447.0,568.5 449.0,570.8 451.0,573.2 453.0,575.1 455.5,576.5 M115.5,573.6 139.5,573.6 172.9,573.3 226.5,573.8 240.5,573.8 255.0,573.5 259.0,573.4 263.0,573.2 267.0,573.2 271.0,573.2 275.0,573.3 279.0,573.5 283.0,573.8 287.0,574.4 291.0,575.3 295.0,575.5 299.0,575.4 303.0,574.9 307.0,574.3 311.0,573.9 315.0,573.9 319.0,574.0 323.0,574.2 327.0,574.4 331.0,574.1 335.0,574.0 339.0,574.1 343.0,573.2 347.0,572.4 351.0,572.2 355.0,572.3 359.0,572.4 363.0,572.6 367.0,572.7 371.0,572.6 375.0,572.3 379.0,571.6 383.0,570.3 387.0,568.8 391.0,568.0 395.0,568.6 399.0,568.2 403.0,568.0 407.0,569.7 411.0,571.5 415.0,572.8 419.0,573.8 423.0,573.5 427.0,572.5 433.0,572.4 435.0,572.4 437.0,572.0 439.0,571.3 441.0,570.0 443.0,569.2 445.0,569.3 447.0,570.4 449.0,572.1 451.0,573.9 453.0,575.3 455.5,576.5 M115.5,575.8 136.6,575.8 171.4,575.3 224.5,576.2 247.0,576.0 255.0,575.3 259.0,574.8 263.0,574.3 267.0,574.0 271.0,573.8 275.0,573.9 279.0,574.2 283.0,574.7 287.0,576.0 291.0,578.2 295.0,578.6 299.0,577.9 303.0,576.6 307.0,574.6 311.0,573.5 315.0,573.5 319.0,573.9 323.0,574.6 327.0,575.4 331.0,575.1 335.0,575.5 339.0,576.4 343.0,574.7 347.0,573.3 351.0,574.0 355.0,575.1 359.0,576.6 363.0,578.4 367.0,579.7 371.0,580.7 375.0,581.0 379.0,580.0 383.0,577.5 387.0,574.1 391.0,572.4 395.0,574.2 399.0,573.3 403.0,572.6 407.0,576.8 411.0,580.9 415.0,583.3 419.0,584.7 423.0,582.5 427.0,578.0 433.0,574.8 435.0,573.7 437.0,571.7 439.0,568.7 441.0,564.2 443.0,560.7 445.0,560.0 447.0,562.1 449.0,565.8 451.0,569.7 453.0,572.8 455.5,575.0 M115.5,576.8 134.7,576.7 195.8,576.1 217.3,576.9 248.0,577.0 255.0,576.3 259.0,575.7 263.0,575.2 267.0,574.9 271.0,574.8 275.0,574.9 279.0,575.3 283.0,575.9 287.0,577.3 291.0,579.7 295.0,580.2 299.0,579.5 303.0,578.1 307.0,576.1 311.0,574.8 315.0,574.9 319.0,575.3 323.0,576.1 327.0,577.0 331.0,576.6 335.0,576.9 339.0,577.8 343.0,575.9 347.0,574.4 351.0,574.9 355.0,576.1 359.0,577.6 363.0,579.4 367.0,580.7 371.0,581.6 375.0,581.9 379.0,580.7 383.0,578.0 387.0,574.4 391.0,572.6 395.0,574.7 399.0,573.8 403.0,573.2 407.0,577.9 411.0,582.5 415.0,585.3 419.0,587.0 423.0,584.8 427.0,580.1 433.0,577.0 435.0,575.9 437.0,573.8 439.0,570.6 441.0,565.8 443.0,562.1 445.0,561.3 447.0,563.5 449.0,567.4 451.0,571.6 453.0,574.7 455.5,577.0 M115.5,577.2 152.1,577.1 181.2,576.7 228.4,577.8 248.8,577.4 255.0,576.8 259.0,576.3 263.0,575.8 267.0,575.6 271.0,575.5 275.0,575.6 279.0,576.0 283.0,576.6 287.0,577.9 291.0,580.1 295.0,580.7 299.0,580.1 303.0,578.9 307.0,577.1 311.0,576.0 315.0,576.2 319.0,576.6 323.0,577.3 327.0,578.1 331.0,577.7 335.0,577.9 339.0,578.6 343.0,576.7 347.0,575.1 351.0,575.3 355.0,576.1 359.0,577.1 363.0,578.4 367.0,579.2 371.0,579.8 375.0,579.6 379.0,578.1 383.0,575.3 387.0,571.6 391.0,569.6 395.0,571.3 399.0,570.2 403.0,569.6 407.0,573.8 411.0,578.1 415.0,580.8 419.0,582.5 423.0,580.8 427.0,577.0 433.0,574.8 435.0,574.1 437.0,572.4 439.0,569.9 441.0,565.7 443.0,562.7 445.0,562.3 447.0,564.7 449.0,568.6 451.0,572.8 453.0,576.1 455.5,578.6 M115.5,577.7 131.8,577.7 190.4,577.3 212.6,577.7 242.0,578.1 255.0,577.3 259.0,576.8 263.0,576.4 267.0,576.1 271.0,576.0 275.0,576.1 279.0,576.4 283.0,576.9 287.0,578.0 291.0,579.9 295.0,580.4 299.0,579.9 303.0,578.8 307.0,577.1 311.0,576.2 315.0,576.3 319.0,576.6 323.0,577.3 327.0,578.1 331.0,577.8 335.0,578.0 339.0,578.8 343.0,577.2 347.0,575.9 351.0,576.3 355.0,577.2 359.0,578.3 363.0,579.7 367.0,580.6 371.0,581.3 375.0,581.4 379.0,580.3 383.0,577.9 387.0,574.8 391.0,573.2 395.0,574.7 399.0,573.8 403.0,573.3 407.0,577.0 411.0,580.7 415.0,583.0 419.0,584.4 423.0,582.7 427.0,579.0 433.0,576.6 435.0,575.8 437.0,574.1 439.0,571.7 441.0,567.8 443.0,564.9 445.0,564.4 447.0,566.4 449.0,569.6 451.0,573.2 453.0,575.9 455.5,577.9 M115.5,579.6 157.9,579.6 197.5,579.3 210.0,579.6 239.7,580.1 255.0,579.3 259.0,578.8 263.0,578.4 267.0,578.2 271.0,578.1 275.0,578.1 279.0,578.4 283.0,578.9 287.0,580.0 291.0,581.8 295.0,582.3 299.0,581.8 303.0,580.7 307.0,579.1 311.0,578.2 315.0,578.3 319.0,578.6 323.0,579.2 327.0,579.9 331.0,579.6 335.0,579.8 339.0,580.4 343.0,578.8 347.0,577.5 351.0,577.8 355.0,578.5 359.0,579.5 363.0,580.6 367.0,581.4 371.0,581.9 375.0,581.9 379.0,580.8 383.0,578.4 387.0,575.4 391.0,573.9 395.0,575.4 399.0,574.6 403.0,574.1 407.0,577.8 411.0,581.5 415.0,583.9 419.0,585.4 423.0,584.0 427.0,580.8 433.0,579.1 435.0,578.5 437.0,577.1 439.0,575.0 441.0,571.5 443.0,568.9 445.0,568.6 447.0,570.7 449.0,574.0 451.0,577.5 453.0,580.3 455.5,582.4 M115.5,579.9 152.6,580.0 181.5,580.1 230.3,580.3 239.6,580.3 255.0,579.9 259.0,579.7 263.0,579.6 267.0,579.5 271.0,579.4 275.0,579.4 279.0,579.5 283.0,579.7 287.0,580.0 291.0,580.7 295.0,580.8 299.0,580.7 303.0,580.4 307.0,579.9 311.0,579.7 315.0,579.8 319.0,580.0 323.0,580.2 327.0,580.6 331.0,580.5 335.0,580.7 339.0,581.0 343.0,580.5 347.0,580.1 351.0,580.2 355.0,580.4 359.0,580.7 363.0,581.0 367.0,581.2 371.0,581.2 375.0,581.1 379.0,580.4 383.0,579.4 387.0,578.1 391.0,577.3 395.0,577.5 399.0,576.8 403.0,576.3 407.0,577.2 411.0,578.2 415.0,578.6 419.0,578.9 423.0,578.1 427.0,576.8 433.0,575.9 435.0,575.6 437.0,575.1 439.0,574.3 441.0,573.1 443.0,572.2 445.0,572.1 447.0,572.9 449.0,574.1 451.0,575.4 453.0,576.4 455.5,577.3 M115.5,580.7 140.7,580.6 188.3,580.2 224.7,581.2 247.3,581.0 255.0,580.4 259.0,580.0 263.0,579.6 267.0,579.4 271.0,579.3 275.0,579.4 279.0,579.7 283.0,580.2 287.0,581.3 291.0,583.1 295.0,583.5 299.0,582.9 303.0,581.8 307.0,580.2 311.0,579.2 315.0,579.2 319.0,579.4 323.0,579.9 327.0,580.5 331.0,580.1 335.0,580.2 339.0,580.7 343.0,579.1 347.0,577.7 351.0,578.0 355.0,578.7 359.0,579.6 363.0,580.8 367.0,581.7 371.0,582.3 375.0,582.3 379.0,581.3 383.0,579.1 387.0,576.2 391.0,574.8 395.0,576.4 399.0,575.7 403.0,575.4 407.0,579.2 411.0,582.9 415.0,585.4 419.0,587.0 423.0,585.7 427.0,582.5 433.0,580.8 435.0,580.1 437.0,578.7 439.0,576.6 441.0,573.1 443.0,570.5 445.0,570.1 447.0,572.1 449.0,575.3 451.0,578.8 453.0,581.5 455.5,583.5 M115.5,581.6 145.7,581.5 191.1,581.3 224.0,582.3 240.8,582.3 255.0,581.4 259.0,581.0 263.0,580.6 267.0,580.3 271.0,580.1 275.0,580.2 279.0,580.4 283.0,580.7 287.0,581.7 291.0,583.4 295.0,583.7 299.0,583.1 303.0,582.0 307.0,580.4 311.0,579.4 315.0,579.4 319.0,579.7 323.0,580.2 327.0,580.9 331.0,580.6 335.0,580.8 339.0,581.5 343.0,580.1 347.0,579.0 351.0,579.4 355.0,580.3 359.0,581.5 363.0,582.8 367.0,583.8 371.0,584.5 375.0,584.7 379.0,583.8 383.0,581.7 387.0,578.9 391.0,577.5 395.0,579.0 399.0,578.2 403.0,577.7 407.0,581.2 411.0,584.6 415.0,586.7 419.0,588.0 423.0,586.5 427.0,583.1 433.0,581.0 435.0,580.3 437.0,578.8 439.0,576.6 441.0,573.1 443.0,570.5 445.0,570.1 447.0,572.0 449.0,575.1 451.0,578.4 453.0,581.0 455.5,583.0 M115.5,582.6 139.3,582.6 195.9,582.2 215.3,582.6 240.0,582.9 255.0,582.4 259.0,582.1 263.0,581.9 267.0,581.8 271.0,581.7 275.0,581.8 279.0,582.1 283.0,582.4 287.0,583.2 291.0,584.5 295.0,584.8 299.0,584.5 303.0,583.7 307.0,582.6 311.0,582.0 315.0,582.0 319.0,582.1 323.0,582.5 327.0,582.9 331.0,582.6 335.0,582.7 339.0,583.0 343.0,581.9 347.0,581.0 351.0,581.1 355.0,581.6 359.0,582.3 363.0,583.2 367.0,583.8 371.0,584.3 375.0,584.4 379.0,583.7 383.0,582.3 387.0,580.4 391.0,579.5 395.0,580.8 399.0,580.4 403.0,580.3 407.0,583.0 411.0,585.7 415.0,587.4 419.0,588.6 423.0,587.7 427.0,585.4 433.0,584.1 435.0,583.6 437.0,582.6 439.0,581.0 441.0,578.5 443.0,576.5 445.0,576.1 447.0,577.4 449.0,579.5 451.0,581.7 453.0,583.4 455.5,584.6 M115.5,584.8 137.1,584.8 191.7,584.1 216.3,585.0 248.0,585.1 255.0,584.2 259.0,583.5 263.0,582.9 267.0,582.5 271.0,582.3 275.0,582.5 279.0,582.9 283.0,583.6 287.0,585.4 291.0,588.2 295.0,588.9 299.0,588.0 303.0,586.4 307.0,583.8 311.0,582.3 315.0,582.4 319.0,582.9 323.0,583.9 327.0,584.9 331.0,584.4 335.0,584.8 339.0,585.8 343.0,583.4 347.0,581.5 351.0,582.1 355.0,583.3 359.0,585.1 363.0,587.2 367.0,588.6 371.0,589.7 375.0,590.0 379.0,588.5 383.0,585.1 387.0,580.6 391.0,578.4 395.0,581.0 399.0,579.9 403.0,579.2 407.0,585.1 411.0,590.8 415.0,594.5 419.0,596.7 423.0,594.3 427.0,589.0 433.0,585.6 435.0,584.4 437.0,582.0 439.0,578.3 441.0,572.6 443.0,568.2 445.0,567.4 447.0,570.3 449.0,575.1 451.0,580.4 453.0,584.4 455.5,587.3 M115.5,585.8 131.3,585.8 199.9,585.3 224.3,586.1 248.6,585.7 255.0,585.1 259.0,584.6 263.0,584.2 267.0,583.9 271.0,583.8 275.0,583.8 279.0,584.1 283.0,584.6 287.0,585.8 291.0,587.8 295.0,588.3 299.0,587.8 303.0,586.6 307.0,584.9 311.0,584.0 315.0,584.1 319.0,584.5 323.0,585.3 327.0,586.1 331.0,585.8 335.0,586.1 339.0,586.9 343.0,585.4 347.0,584.0 351.0,584.5 355.0,585.4 359.0,586.6 363.0,588.0 367.0,589.0 371.0,589.6 375.0,589.7 379.0,588.5 383.0,585.9 387.0,582.6 391.0,580.9 395.0,582.4 399.0,581.4 403.0,580.7 407.0,584.5 411.0,588.2 415.0,590.5 419.0,591.9 423.0,590.0 427.0,586.2 433.0,583.7 435.0,582.8 437.0,581.2 439.0,578.7 441.0,574.7 443.0,571.7 445.0,571.3 447.0,573.4 449.0,576.9 451.0,580.7 453.0,583.6 455.5,585.9 M115.5,586.6 144.2,586.5 196.3,586.4 220.8,586.8 243.0,586.8 255.0,586.4 259.0,586.2 263.0,586.0 267.0,585.9 271.0,585.8 275.0,585.8 279.0,585.9 283.0,586.1 287.0,586.6 291.0,587.4 295.0,587.6 299.0,587.4 303.0,586.9 307.0,586.1 311.0,585.7 315.0,585.8 319.0,586.0 323.0,586.3 327.0,586.7 331.0,586.7 335.0,586.9 339.0,587.3 343.0,586.7 347.0,586.2 351.0,586.5 355.0,586.9 359.0,587.5 363.0,588.1 367.0,588.6 371.0,588.9 375.0,588.9 379.0,588.4 383.0,587.2 387.0,585.8 391.0,584.9 395.0,585.5 399.0,584.9 403.0,584.5 407.0,586.0 411.0,587.4 415.0,588.3 419.0,588.7 423.0,587.8 427.0,586.1 433.0,585.0 435.0,584.6 437.0,583.8 439.0,582.8 441.0,581.1 443.0,579.8 445.0,579.7 447.0,580.6 449.0,582.1 451.0,583.8 453.0,585.1 455.5,586.1 M115.5,587.0 148.9,587.0 168.8,586.9 220.5,587.5 244.8,587.5 255.0,587.0 259.0,586.7 263.0,586.5 267.0,586.3 271.0,586.2 275.0,586.3 279.0,586.5 283.0,586.7 287.0,587.5 291.0,588.7 295.0,588.9 299.0,588.5 303.0,587.8 307.0,586.6 311.0,586.0 315.0,586.0 319.0,586.1 323.0,586.5 327.0,587.0 331.0,586.7 335.0,586.9 339.0,587.3 343.0,586.3 347.0,585.5 351.0,585.8 355.0,586.4 359.0,587.2 363.0,588.1 367.0,588.8 371.0,589.3 375.0,589.5 379.0,588.8 383.0,587.4 387.0,585.5 391.0,584.6 395.0,585.6 399.0,585.1 403.0,584.8 407.0,587.2 411.0,589.6 415.0,591.0 419.0,591.8 423.0,590.6 427.0,588.1 433.0,586.3 435.0,585.7 437.0,584.6 439.0,582.9 441.0,580.3 443.0,578.3 445.0,577.9 447.0,579.0 449.0,581.0 451.0,583.2 453.0,584.8 455.5,586.0 M115.5,587.6 147.0,587.8 168.6,587.7 208.1,587.5 250.2,587.5 255.0,587.3 259.0,587.0 263.0,586.8 267.0,586.6 271.0,586.6 275.0,586.7 279.0,587.0 283.0,587.4 287.0,588.2 291.0,589.5 295.0,589.9 299.0,589.6 303.0,589.0 307.0,588.0 311.0,587.4 315.0,587.5 319.0,587.8 323.0,588.2 327.0,588.6 331.0,588.4 335.0,588.4 339.0,588.7 343.0,587.6 347.0,586.6 351.0,586.6 355.0,586.9 359.0,587.4 363.0,588.0 367.0,588.3 371.0,588.5 375.0,588.3 379.0,587.4 383.0,585.7 387.0,583.5 391.0,582.4 395.0,583.3 399.0,582.7 403.0,582.4 407.0,584.8 411.0,587.3 415.0,588.9 419.0,589.9 423.0,589.0 427.0,586.9 433.0,585.9 435.0,585.5 437.0,584.6 439.0,583.2 441.0,580.9 443.0,579.2 445.0,579.0 447.0,580.4 449.0,582.6 451.0,585.0 453.0,586.9 455.5,588.3 M115.5,588.7 142.3,588.6 196.0,588.2 216.7,588.9 241.5,589.3 255.0,588.4 259.0,587.9 263.0,587.4 267.0,587.2 271.0,587.0 275.0,587.2 279.0,587.5 283.0,588.1 287.0,589.4 291.0,591.5 295.0,592.0 299.0,591.4 303.0,590.1 307.0,588.2 311.0,587.0 315.0,587.1 319.0,587.4 323.0,588.1 327.0,588.9 331.0,588.5 335.0,588.8 339.0,589.5 343.0,587.7 347.0,586.3 351.0,586.7 355.0,587.7 359.0,589.1 363.0,590.7 367.0,591.8 371.0,592.6 375.0,592.8 379.0,591.7 383.0,589.1 387.0,585.7 391.0,584.0 395.0,585.9 399.0,585.0 403.0,584.4 407.0,588.7 411.0,592.9 415.0,595.6 419.0,597.1 423.0,595.1 427.0,590.8 433.0,587.9 435.0,586.9 437.0,585.0 439.0,582.1 441.0,577.6 443.0,574.2 445.0,573.5 447.0,575.7 449.0,579.3 451.0,583.2 453.0,586.2 455.5,588.4 M115.5,589.8 131.6,589.9 179.7,589.4 217.0,589.7 245.9,589.9 255.0,589.3 259.0,588.9 263.0,588.6 267.0,588.4 271.0,588.3 275.0,588.4 279.0,588.7 283.0,589.1 287.0,590.1 291.0,591.7 295.0,592.1 299.0,591.7 303.0,590.8 307.0,589.3 311.0,588.5 315.0,588.6 319.0,588.9 323.0,589.4 327.0,589.9 331.0,589.6 335.0,589.8 339.0,590.3 343.0,588.9 347.0,587.7 351.0,588.0 355.0,588.6 359.0,589.5 363.0,590.6 367.0,591.3 371.0,591.8 375.0,591.8 379.0,590.8 383.0,588.7 387.0,586.0 391.0,584.6 395.0,585.9 399.0,585.1 403.0,584.6 407.0,587.8 411.0,590.8 415.0,592.8 419.0,593.9 423.0,592.5 427.0,589.4 433.0,587.5 435.0,586.8 437.0,585.5 439.0,583.5 441.0,580.3 443.0,577.9 445.0,577.5 447.0,579.3 449.0,582.1 451.0,585.2 453.0,587.6 455.5,589.5 M115.5,590.0 130.9,590.0 184.6,589.9 216.2,590.0 245.6,590.1 255.0,589.9 259.0,589.8 263.0,589.7 267.0,589.7 271.0,589.7 275.0,589.7 279.0,589.9 283.0,590.0 287.0,590.4 291.0,591.1 295.0,591.3 299.0,591.2 303.0,590.9 307.0,590.5 311.0,590.3 315.0,590.4 319.0,590.6 323.0,590.8 327.0,591.0 331.0,590.9 335.0,591.0 339.0,591.1 343.0,590.6 347.0,590.2 351.0,590.2 355.0,590.3 359.0,590.5 363.0,590.7 367.0,590.8 371.0,590.8 375.0,590.6 379.0,590.1 383.0,589.3 387.0,588.2 391.0,587.6 395.0,587.9 399.0,587.6 403.0,587.3 407.0,588.4 411.0,589.5 415.0,590.2 419.0,590.6 423.0,590.2 427.0,589.2 433.0,588.8 435.0,588.6 437.0,588.2 439.0,587.6 441.0,586.5 443.0,585.7 445.0,585.7 447.0,586.3 449.0,587.4 451.0,588.5 453.0,589.3 455.5,590.0 M115.5,590.5 147.3,590.5 187.9,590.3 231.5,591.0 242.6,590.9 255.0,590.4 259.0,590.1 263.0,589.9 267.0,589.7 271.0,589.6 275.0,589.7 279.0,589.9 283.0,590.3 287.0,591.0 291.0,592.2 295.0,592.6 299.0,592.3 303.0,591.7 307.0,590.7 311.0,590.2 315.0,590.4 319.0,590.7 323.0,591.1 327.0,591.6 331.0,591.5 335.0,591.7 339.0,592.1 343.0,591.2 347.0,590.3 351.0,590.5 355.0,590.9 359.0,591.5 363.0,592.2 367.0,592.6 371.0,592.8 375.0,592.7 379.0,591.8 383.0,590.1 387.0,588.0 391.0,586.8 395.0,587.5 399.0,586.8 403.0,586.2 407.0,588.4 411.0,590.5 415.0,591.8 419.0,592.6 423.0,591.6 427.0,589.4 433.0,588.1 435.0,587.7 437.0,586.8 439.0,585.4 441.0,583.1 443.0,581.5 445.0,581.3 447.0,582.6 449.0,584.8 451.0,587.1 453.0,588.9 455.5,590.3 M115.5,593.6 144.2,593.8 171.1,593.7 228.3,594.3 241.5,594.2 255.0,593.3 259.0,592.8 263.0,592.4 267.0,592.1 271.0,592.0 275.0,592.0 279.0,592.3 283.0,592.7 287.0,593.8 291.0,595.7 295.0,596.1 299.0,595.5 303.0,594.3 307.0,592.5 311.0,591.5 315.0,591.5 319.0,591.8 323.0,592.4 327.0,593.1 331.0,592.7 335.0,593.0 339.0,593.6 343.0,592.1 347.0,590.8 351.0,591.3 355.0,592.2 359.0,593.4 363.0,594.9 367.0,595.9 371.0,596.8 375.0,597.0 379.0,596.1 383.0,594.0 387.0,591.1 391.0,589.7 395.0,591.5 399.0,590.8 403.0,590.4 407.0,594.3 411.0,598.1 415.0,600.5 419.0,602.0 423.0,600.3 427.0,596.7 433.0,594.3 435.0,593.4 437.0,591.7 439.0,589.2 441.0,585.3 443.0,582.4 445.0,581.7 447.0,583.6 449.0,586.8 451.0,590.2 453.0,592.8 455.5,594.7 M115.5,594.7 142.5,594.7 175.4,594.3 230.5,595.4 245.3,595.2 255.0,594.3 259.0,593.8 263.0,593.3 267.0,593.0 271.0,592.9 275.0,593.1 279.0,593.5 283.0,594.2 287.0,595.7 291.0,598.1 295.0,598.7 299.0,598.1 303.0,596.8 307.0,594.8 311.0,593.6 315.0,593.8 319.0,594.2 323.0,595.0 327.0,595.9 331.0,595.5 335.0,595.7 339.0,596.5 343.0,594.5 347.0,592.7 351.0,593.0 355.0,593.9 359.0,595.1 363.0,596.6 367.0,597.5 371.0,598.1 375.0,598.0 379.0,596.4 383.0,593.2 387.0,589.2 391.0,587.0 395.0,588.7 399.0,587.5 403.0,586.6 407.0,591.1 411.0,595.5 415.0,598.3 419.0,599.9 423.0,597.7 427.0,593.2 433.0,590.3 435.0,589.3 437.0,587.3 439.0,584.3 441.0,579.6 443.0,576.1 445.0,575.6 447.0,578.1 449.0,582.2 451.0,586.8 453.0,590.2 455.5,592.9 M115.5,598.6 156.8,598.6 168.3,598.5 220.7,599.2 239.0,599.4 255.0,598.4 259.0,597.9 263.0,597.5 267.0,597.2 271.0,597.1 275.0,597.1 279.0,597.4 283.0,597.9 287.0,599.1 291.0,601.1 295.0,601.6 299.0,600.9 303.0,599.6 307.0,597.8 311.0,596.6 315.0,596.6 319.0,596.9 323.0,597.6 327.0,598.3 331.0,597.8 335.0,598.0 339.0,598.7 343.0,597.0 347.0,595.5 351.0,595.9 355.0,596.8 359.0,598.1 363.0,599.5 367.0,600.6 371.0,601.3 375.0,601.5 379.0,600.4 383.0,597.9 387.0,594.7 391.0,593.1 395.0,594.9 399.0,594.0 403.0,593.5 407.0,597.7 411.0,601.8 415.0,604.5 419.0,606.1 423.0,604.3 427.0,600.5 433.0,598.1 435.0,597.2 437.0,595.5 439.0,592.9 441.0,588.8 443.0,585.8 445.0,585.2 447.0,587.3 449.0,590.9 451.0,594.7 453.0,597.7 455.5,599.9 M115.5,599.1 148.7,599.1 180.4,598.6 226.1,599.6 242.9,599.5 255.0,598.8 259.0,598.3 263.0,598.0 267.0,597.8 271.0,597.7 275.0,597.8 279.0,598.2 283.0,598.8 287.0,600.0 291.0,601.9 295.0,602.5 299.0,602.1 303.0,601.1 307.0,599.6 311.0,598.8 315.0,599.0 319.0,599.4 323.0,600.1 327.0,600.9 331.0,600.6 335.0,600.9 339.0,601.6 343.0,600.0 347.0,598.7 351.0,599.0 355.0,599.7 359.0,600.7 363.0,601.8 367.0,602.6 371.0,603.0 375.0,602.9 379.0,601.7 383.0,599.2 387.0,596.0 391.0,594.3 395.0,595.6 399.0,594.6 403.0,593.9 407.0,597.5 411.0,601.0 415.0,603.2 419.0,604.6 423.0,602.9 427.0,599.4 433.0,597.2 435.0,596.4 437.0,594.9 439.0,592.5 441.0,588.8 443.0,586.1 445.0,585.6 447.0,587.6 449.0,590.8 451.0,594.3 453.0,596.9 455.5,598.9 M115.5,599.8 158.3,599.6 175.3,599.4 215.1,599.6 243.2,599.8 255.0,599.4 259.0,599.1 263.0,598.9 267.0,598.8 271.0,598.7 275.0,598.8 279.0,598.9 283.0,599.1 287.0,599.7 291.0,600.7 295.0,600.9 299.0,600.6 303.0,600.0 307.0,599.1 311.0,598.6 315.0,598.6 319.0,598.7 323.0,599.0 327.0,599.4 331.0,599.2 335.0,599.3 339.0,599.7 343.0,598.9 347.0,598.3 351.0,598.5 355.0,599.0 359.0,599.7 363.0,600.5 367.0,601.0 371.0,601.5 375.0,601.7 379.0,601.3 383.0,600.2 387.0,598.8 391.0,598.2 395.0,599.1 399.0,598.9 403.0,598.7 407.0,600.8 411.0,602.8 415.0,604.1 419.0,604.9 423.0,604.1 427.0,602.3 433.0,601.2 435.0,600.8 437.0,600.0 439.0,598.7 441.0,596.7 443.0,595.2 445.0,594.9 447.0,595.8 449.0,597.4 451.0,599.1 453.0,600.4 455.5,601.2 M115.5,602.8 157.9,602.6 191.4,602.2 213.4,602.7 243.7,603.1 255.0,602.2 259.0,601.7 263.0,601.3 267.0,601.0 271.0,600.9 275.0,601.0 279.0,601.3 283.0,601.8 287.0,603.1 291.0,605.2 295.0,605.7 299.0,605.1 303.0,603.9 307.0,602.0 311.0,601.0 315.0,601.1 319.0,601.5 323.0,602.2 327.0,603.0 331.0,602.7 335.0,602.9 339.0,603.7 343.0,602.0 347.0,600.6 351.0,601.0 355.0,601.9 359.0,603.1 363.0,604.6 367.0,605.6 371.0,606.3 375.0,606.4 379.0,605.2 383.0,602.6 387.0,599.2 391.0,597.5 395.0,599.2 399.0,598.2 403.0,597.6 407.0,601.7 411.0,605.7 415.0,608.3 419.0,609.8 423.0,608.0 427.0,604.0 433.0,601.5 435.0,600.6 437.0,598.9 439.0,596.3 441.0,592.1 443.0,589.0 445.0,588.5 447.0,590.7 449.0,594.3 451.0,598.2 453.0,601.2 455.5,603.5 M115.5,603.8 150.9,603.7 188.1,603.2 216.3,603.7 250.8,603.6 255.0,603.3 259.0,602.9 263.0,602.5 267.0,602.3 271.0,602.2 275.0,602.3 279.0,602.6 283.0,603.0 287.0,604.1 291.0,605.8 295.0,606.2 299.0,605.8 303.0,604.8 307.0,603.3 311.0,602.5 315.0,602.6 319.0,602.9 323.0,603.5 327.0,604.2 331.0,604.0 335.0,604.2 339.0,604.9 343.0,603.5 347.0,602.4 351.0,602.8 355.0,603.6 359.0,604.6 363.0,605.8 367.0,606.7 371.0,607.3 375.0,607.4 379.0,606.4 383.0,604.2 387.0,601.4 391.0,600.0 395.0,601.3 399.0,600.4 403.0,599.8 407.0,603.0 411.0,606.1 415.0,608.0 419.0,609.0 423.0,607.3 427.0,603.8 433.0,601.4 435.0,600.5 437.0,599.0 439.0,596.7 441.0,593.2 443.0,590.6 445.0,590.0 447.0,591.7 449.0,594.5 451.0,597.6 453.0,600.0 455.5,601.7 M115.5,606.7 135.7,606.7 194.2,606.3 229.2,607.1 245.6,606.9 255.0,606.3 259.0,605.9 263.0,605.5 267.0,605.3 271.0,605.2 275.0,605.2 279.0,605.4 283.0,605.8 287.0,606.7 291.0,608.2 295.0,608.6 299.0,608.1 303.0,607.2 307.0,605.8 311.0,605.0 315.0,605.1 319.0,605.4 323.0,606.0 327.0,606.7 331.0,606.5 335.0,606.8 339.0,607.5 343.0,606.4 347.0,605.4 351.0,605.9 355.0,606.7 359.0,607.8 363.0,609.1 367.0,609.9 371.0,610.6 375.0,610.8 379.0,609.9 383.0,608.1 387.0,605.5 391.0,604.2 395.0,605.5 399.0,604.7 403.0,604.0 407.0,607.0 411.0,609.8 415.0,611.4 419.0,612.3 423.0,610.6 427.0,607.4 433.0,605.1 435.0,604.2 437.0,602.8 439.0,600.7 441.0,597.4 443.0,595.0 445.0,594.5 447.0,596.0 449.0,598.6 451.0,601.4 453.0,603.6 455.5,605.2 M115.5,607.6 133.4,607.7 173.7,607.6 230.4,608.0 245.6,607.8 255.0,607.4 259.0,607.1 263.0,606.9 267.0,606.7 271.0,606.6 275.0,606.7 279.0,606.8 283.0,607.1 287.0,607.7 291.0,608.8 295.0,609.0 299.0,608.6 303.0,608.0 307.0,607.0 311.0,606.4 315.0,606.4 319.0,606.6 323.0,606.9 327.0,607.3 331.0,607.0 335.0,607.1 339.0,607.5 343.0,606.6 347.0,605.8 351.0,606.0 355.0,606.5 359.0,607.1 363.0,607.9 367.0,608.4 371.0,608.8 375.0,608.9 379.0,608.3 383.0,607.0 387.0,605.3 391.0,604.5 395.0,605.4 399.0,605.0 403.0,604.7 407.0,607.0 411.0,609.1 415.0,610.5 419.0,611.4 423.0,610.5 427.0,608.5 433.0,607.3 435.0,606.8 437.0,605.9 439.0,604.6 441.0,602.4 443.0,600.8 445.0,600.5 447.0,601.6 449.0,603.5 451.0,605.5 453.0,607.0 455.5,608.2 M115.5,610.9 143.7,610.7 194.5,610.2 211.2,610.6 246.5,611.0 255.0,610.2 259.0,609.7 263.0,609.2 267.0,609.0 271.0,608.8 275.0,608.9 279.0,609.2 283.0,609.7 287.0,610.9 291.0,613.0 295.0,613.4 299.0,612.7 303.0,611.4 307.0,609.5 311.0,608.3 315.0,608.3 319.0,608.6 323.0,609.3 327.0,610.1 331.0,609.7 335.0,609.9 339.0,610.7 343.0,608.9 347.0,607.5 351.0,608.0 355.0,609.1 359.0,610.5 363.0,612.2 367.0,613.4 371.0,614.4 375.0,614.7 379.0,613.8 383.0,611.5 387.0,608.4 391.0,607.0 395.0,609.1 399.0,608.5 403.0,608.2 407.0,612.8 411.0,617.2 415.0,620.1 419.0,621.9 423.0,620.2 427.0,616.3 433.0,613.9 435.0,613.0 437.0,611.2 439.0,608.5 441.0,604.2 443.0,600.9 445.0,600.2 447.0,602.3 449.0,605.9 451.0,609.7 453.0,612.6 455.5,614.6 M115.5,611.7 131.1,611.6 197.9,611.3 230.6,612.2 247.0,612.0 255.0,611.3 259.0,610.9 263.0,610.6 267.0,610.3 271.0,610.2 275.0,610.4 279.0,610.7 283.0,611.2 287.0,612.3 291.0,614.2 295.0,614.6 299.0,614.1 303.0,613.1 307.0,611.5 311.0,610.6 315.0,610.7 319.0,611.1 323.0,611.7 327.0,612.4 331.0,612.1 335.0,612.3 339.0,612.9 343.0,611.4 347.0,610.0 351.0,610.3 355.0,611.0 359.0,612.0 363.0,613.1 367.0,613.8 371.0,614.3 375.0,614.2 379.0,613.0 383.0,610.5 387.0,607.4 391.0,605.7 395.0,607.0 399.0,606.0 403.0,605.3 407.0,608.8 411.0,612.2 415.0,614.4 419.0,615.6 423.0,614.0 427.0,610.5 433.0,608.4 435.0,607.6 437.0,606.2 439.0,603.9 441.0,600.3 443.0,597.7 445.0,597.3 447.0,599.3 449.0,602.5 451.0,606.0 453.0,608.8 455.5,610.9 M115.5,614.7 150.3,614.6 185.6,614.3 231.2,615.1 238.7,615.0 255.0,614.3 259.0,614.0 263.0,613.7 267.0,613.5 271.0,613.4 275.0,613.5 279.0,613.7 283.0,614.1 287.0,615.0 291.0,616.4 295.0,616.8 299.0,616.4 303.0,615.6 307.0,614.3 311.0,613.6 315.0,613.7 319.0,613.9 323.0,614.4 327.0,614.9 331.0,614.6 335.0,614.7 339.0,615.2 343.0,613.9 347.0,612.8 351.0,613.0 355.0,613.5 359.0,614.3 363.0,615.2 367.0,615.7 371.0,616.1 375.0,616.1 379.0,615.2 383.0,613.4 387.0,611.1 391.0,609.9 395.0,611.1 399.0,610.6 403.0,610.3 407.0,613.3 411.0,616.2 415.0,618.2 419.0,619.5 423.0,618.6 427.0,616.3 433.0,615.2 435.0,614.7 437.0,613.8 439.0,612.2 441.0,609.5 443.0,607.6 445.0,607.4 447.0,609.0 449.0,611.6 451.0,614.4 453.0,616.6 455.5,618.2 M115.5,617.8 153.7,617.6 168.2,617.4 213.3,617.5 246.1,617.8 255.0,617.1 259.0,616.7 263.0,616.3 267.0,616.0 271.0,615.9 275.0,616.0 279.0,616.3 283.0,616.8 287.0,617.9 291.0,619.9 295.0,620.3 299.0,619.9 303.0,618.8 307.0,617.2 311.0,616.4 315.0,616.5 319.0,617.0 323.0,617.7 327.0,618.5 331.0,618.3 335.0,618.6 339.0,619.4 343.0,618.0 347.0,616.8 351.0,617.2 355.0,618.2 359.0,619.4 363.0,620.8 367.0,621.7 371.0,622.5 375.0,622.6 379.0,621.6 383.0,619.4 387.0,616.4 391.0,614.9 395.0,616.5 399.0,615.7 403.0,615.2 407.0,619.0 411.0,622.7 415.0,625.1 419.0,626.5 423.0,624.9 427.0,621.4 433.0,619.1 435.0,618.3 437.0,616.7 439.0,614.3 441.0,610.6 443.0,607.7 445.0,607.1 447.0,609.0 449.0,612.2 451.0,615.6 453.0,618.2 455.5,620.1 M115.5,618.8 147.9,618.8 169.1,618.7 217.9,618.9 240.2,619.1 255.0,618.1 259.0,617.7 263.0,617.2 267.0,616.9 271.0,616.7 275.0,616.8 279.0,617.0 283.0,617.3 287.0,618.4 291.0,620.1 295.0,620.5 299.0,619.9 303.0,618.9 307.0,617.3 311.0,616.3 315.0,616.5 319.0,616.8 323.0,617.5 327.0,618.3 331.0,618.1 335.0,618.5 339.0,619.3 343.0,618.0 347.0,616.9 351.0,617.5 355.0,618.5 359.0,619.7 363.0,621.2 367.0,622.2 371.0,623.0 375.0,623.2 379.0,622.3 383.0,620.2 387.0,617.3 391.0,615.8 395.0,617.2 399.0,616.4 403.0,615.7 407.0,619.2 411.0,622.5 415.0,624.5 419.0,625.6 423.0,623.7 427.0,620.0 433.0,617.4 435.0,616.5 437.0,614.8 439.0,612.4 441.0,608.7 443.0,605.8 445.0,605.2 447.0,607.0 449.0,610.1 451.0,613.4 453.0,616.0 455.5,617.8 M115.5,619.2 130.1,619.2 186.2,618.7 221.2,619.5 245.8,619.4 255.0,618.7 259.0,618.3 263.0,617.9 267.0,617.6 271.0,617.5 275.0,617.6 279.0,617.9 283.0,618.4 287.0,619.5 291.0,621.4 295.0,621.9 299.0,621.4 303.0,620.3 307.0,618.7 311.0,617.8 315.0,617.9 319.0,618.3 323.0,619.0 327.0,619.8 331.0,619.5 335.0,619.8 339.0,620.5 343.0,618.9 347.0,617.6 351.0,618.0 355.0,618.8 359.0,619.9 363.0,621.2 367.0,622.0 371.0,622.6 375.0,622.7 379.0,621.5 383.0,619.1 387.0,616.0 391.0,614.3 395.0,615.8 399.0,614.9 403.0,614.3 407.0,618.0 411.0,621.7 415.0,624.0 419.0,625.3 423.0,623.7 427.0,620.1 433.0,617.8 435.0,617.0 437.0,615.5 439.0,613.1 441.0,609.3 443.0,606.5 445.0,606.0 447.0,608.0 449.0,611.2 451.0,614.8 453.0,617.5 455.5,619.5 M115.5,619.8 143.5,619.6 185.0,619.1 213.7,619.8 245.8,620.1 255.0,619.2 259.0,618.6 263.0,618.1 267.0,617.7 271.0,617.5 275.0,617.6 279.0,617.9 283.0,618.4 287.0,619.7 291.0,621.9 295.0,622.4 299.0,621.7 303.0,620.4 307.0,618.5 311.0,617.4 315.0,617.6 319.0,618.2 323.0,619.1 327.0,620.1 331.0,620.0 335.0,620.5 339.0,621.6 343.0,620.0 347.0,618.7 351.0,619.5 355.0,620.7 359.0,622.3 363.0,624.1 367.0,625.4 371.0,626.3 375.0,626.5 379.0,625.2 383.0,622.4 387.0,618.7 391.0,616.7 395.0,618.4 399.0,617.1 403.0,616.2 407.0,620.3 411.0,624.3 415.0,626.7 419.0,628.0 423.0,625.6 427.0,620.9 433.0,617.7 435.0,616.6 437.0,614.6 439.0,611.6 441.0,607.0 443.0,603.5 445.0,602.8 447.0,605.1 449.0,609.0 451.0,613.1 453.0,616.3 455.5,618.8 M115.5,620.8 149.9,620.6 195.4,620.1 218.4,620.8 244.1,621.0 255.0,620.4 259.0,620.1 263.0,619.8 267.0,619.6 271.0,619.5 275.0,619.6 279.0,619.9 283.0,620.3 287.0,621.2 291.0,622.7 295.0,623.0 299.0,622.5 303.0,621.6 307.0,620.1 311.0,619.2 315.0,619.2 319.0,619.4 323.0,619.8 327.0,620.3 331.0,620.0 335.0,620.2 339.0,620.7 343.0,619.4 347.0,618.4 351.0,618.7 355.0,619.5 359.0,620.6 363.0,621.8 367.0,622.7 371.0,623.4 375.0,623.7 379.0,623.0 383.0,621.4 387.0,619.1 391.0,618.0 395.0,619.4 399.0,618.9 403.0,618.5 407.0,621.7 411.0,624.7 415.0,626.6 419.0,627.7 423.0,626.2 427.0,623.0 433.0,620.8 435.0,620.0 437.0,618.6 439.0,616.5 441.0,613.3 443.0,610.8 445.0,610.2 447.0,611.7 449.0,614.2 451.0,616.9 453.0,619.0 455.5,620.5 M115.5,623.8 152.9,623.8 196.8,623.4 225.5,624.3 247.3,623.9 255.0,623.0 259.0,622.4 263.0,621.8 267.0,621.4 271.0,621.2 275.0,621.3 279.0,621.6 283.0,622.2 287.0,623.7 291.0,626.1 295.0,626.7 299.0,626.1 303.0,624.8 307.0,622.8 311.0,621.7 315.0,621.9 319.0,622.5 323.0,623.5 327.0,624.6 331.0,624.4 335.0,624.8 339.0,625.9 343.0,624.0 347.0,622.4 351.0,622.9 355.0,623.9 359.0,625.3 363.0,626.9 367.0,627.8 371.0,628.5 375.0,628.3 379.0,626.6 383.0,623.2 387.0,618.9 391.0,616.6 395.0,618.2 399.0,616.7 403.0,615.7 407.0,620.2 411.0,624.6 415.0,627.4 419.0,629.1 423.0,627.0 427.0,622.5 433.0,620.0 435.0,619.1 437.0,617.3 439.0,614.4 441.0,609.8 443.0,606.5 445.0,606.1 447.0,608.9 449.0,613.4 451.0,618.3 453.0,622.1 455.5,625.1 M115.5,624.3 136.9,624.3 176.0,623.8 230.0,624.6 248.4,624.3 255.0,623.8 259.0,623.5 263.0,623.1 267.0,622.9 271.0,622.9 275.0,623.0 279.0,623.3 283.0,623.8 287.0,624.8 291.0,626.6 295.0,627.0 299.0,626.5 303.0,625.5 307.0,623.9 311.0,623.0 315.0,623.0 319.0,623.2 323.0,623.7 327.0,624.3 331.0,623.9 335.0,624.0 339.0,624.5 343.0,623.0 347.0,621.7 351.0,622.0 355.0,622.7 359.0,623.7 363.0,624.9 367.0,625.8 371.0,626.5 375.0,626.7 379.0,625.9 383.0,624.0 387.0,621.5 391.0,620.3 395.0,621.9 399.0,621.4 403.0,621.2 407.0,624.8 411.0,628.3 415.0,630.5 419.0,631.9 423.0,630.4 427.0,627.2 433.0,625.1 435.0,624.3 437.0,622.8 439.0,620.5 441.0,617.0 443.0,614.3 445.0,613.7 447.0,615.3 449.0,618.0 451.0,621.0 453.0,623.3 455.5,624.9 M115.5,624.7 150.1,624.8 185.8,624.2 209.9,624.3 249.5,624.6 255.0,624.1 259.0,623.8 263.0,623.4 267.0,623.2 271.0,623.2 275.0,623.3 279.0,623.7 283.0,624.1 287.0,625.3 291.0,627.0 295.0,627.5 299.0,627.0 303.0,626.1 307.0,624.6 311.0,623.7 315.0,623.7 319.0,624.0 323.0,624.5 327.0,625.0 331.0,624.6 335.0,624.6 339.0,625.1 343.0,623.5 347.0,622.2 351.0,622.4 355.0,623.1 359.0,624.1 363.0,625.3 367.0,626.2 371.0,626.9 375.0,627.2 379.0,626.5 383.0,624.7 387.0,622.4 391.0,621.5 395.0,623.5 399.0,623.3 403.0,623.4 407.0,627.4 411.0,631.4 415.0,634.1 419.0,635.9 423.0,634.9 427.0,632.0 433.0,630.4 435.0,629.7 437.0,628.3 439.0,626.2 441.0,622.7 443.0,620.0 445.0,619.4 447.0,620.9 449.0,623.6 451.0,626.5 453.0,628.6 455.5,629.9 M115.5,625.2 151.2,625.2 173.0,624.9 215.8,625.3 251.0,625.2 255.0,624.8 259.0,624.3 263.0,623.8 267.0,623.6 271.0,623.5 275.0,623.6 279.0,623.9 283.0,624.5 287.0,625.8 291.0,627.9 295.0,628.4 299.0,627.8 303.0,626.6 307.0,624.8 311.0,623.7 315.0,623.8 319.0,624.2 323.0,624.8 327.0,625.5 331.0,625.1 335.0,625.3 339.0,626.0 343.0,624.2 347.0,622.7 351.0,623.0 355.0,623.8 359.0,624.9 363.0,626.3 367.0,627.2 371.0,627.9 375.0,628.0 379.0,626.8 383.0,624.3 387.0,621.0 391.0,619.4 395.0,621.2 399.0,620.4 403.0,620.0 407.0,624.4 411.0,628.6 415.0,631.4 419.0,633.2 423.0,631.7 427.0,628.1 433.0,626.0 435.0,625.2 437.0,623.6 439.0,621.1 441.0,617.1 443.0,614.0 445.0,613.5 447.0,615.7 449.0,619.3 451.0,623.2 453.0,626.1 455.5,628.3 M115.5,625.7 138.6,625.8 170.8,625.6 219.0,625.9 248.4,625.7 255.0,625.2 259.0,624.8 263.0,624.4 267.0,624.2 271.0,624.1 275.0,624.2 279.0,624.4 283.0,624.8 287.0,625.8 291.0,627.5 295.0,627.9 299.0,627.4 303.0,626.4 307.0,625.0 311.0,624.2 315.0,624.2 319.0,624.5 323.0,625.1 327.0,625.7 331.0,625.5 335.0,625.7 339.0,626.3 343.0,624.9 347.0,623.8 351.0,624.1 355.0,624.9 359.0,625.8 363.0,627.0 367.0,627.8 371.0,628.4 375.0,628.5 379.0,627.5 383.0,625.5 387.0,622.9 391.0,621.5 395.0,622.9 399.0,622.2 403.0,621.7 407.0,625.1 411.0,628.3 415.0,630.4 419.0,631.6 423.0,630.2 427.0,627.1 433.0,625.1 435.0,624.4 437.0,623.1 439.0,621.0 441.0,617.7 443.0,615.3 445.0,614.8 447.0,616.5 449.0,619.4 451.0,622.5 453.0,624.9 455.5,626.6 M115.5,626.2 133.1,626.2 172.8,626.0 225.4,626.7 243.6,626.6 255.0,625.6 259.0,625.1 263.0,624.7 267.0,624.4 271.0,624.2 275.0,624.3 279.0,624.6 283.0,625.2 287.0,626.5 291.0,628.7 295.0,629.2 299.0,628.6 303.0,627.4 307.0,625.6 311.0,624.6 315.0,624.7 319.0,625.2 323.0,626.0 327.0,626.8 331.0,626.5 335.0,626.8 339.0,627.6 343.0,625.9 347.0,624.4 351.0,624.8 355.0,625.8 359.0,627.0 363.0,628.4 367.0,629.4 371.0,630.1 375.0,630.1 379.0,628.8 383.0,626.1 387.0,622.5 391.0,620.7 395.0,622.4 399.0,621.4 403.0,620.7 407.0,624.9 411.0,629.1 415.0,631.7 419.0,633.3 423.0,631.5 427.0,627.5 433.0,625.1 435.0,624.2 437.0,622.5 439.0,619.8 441.0,615.6 443.0,612.5 445.0,611.9 447.0,614.2 449.0,617.9 451.0,621.9 453.0,625.0 455.5,627.3 M115.5,626.8 141.1,626.6 180.2,626.3 215.8,626.8 244.5,627.0 255.0,626.2 259.0,625.7 263.0,625.3 267.0,625.0 271.0,624.8 275.0,624.8 279.0,625.0 283.0,625.3 287.0,626.3 291.0,628.0 295.0,628.3 299.0,627.8 303.0,626.7 307.0,625.2 311.0,624.3 315.0,624.4 319.0,624.8 323.0,625.5 327.0,626.2 331.0,626.1 335.0,626.5 339.0,627.3 343.0,626.1 347.0,625.1 351.0,625.6 355.0,626.6 359.0,627.9 363.0,629.3 367.0,630.3 371.0,631.1 375.0,631.3 379.0,630.3 383.0,628.2 387.0,625.4 391.0,624.0 395.0,625.4 399.0,624.5 403.0,623.9 407.0,627.3 411.0,630.6 415.0,632.7 419.0,633.9 423.0,632.2 427.0,628.8 433.0,626.7 435.0,626.0 437.0,624.6 439.0,622.4 441.0,618.9 443.0,616.3 445.0,615.9 447.0,617.8 449.0,620.9 451.0,624.2 453.0,626.8 455.5,628.8 M115.5,630.5 128.5,630.5 194.8,630.3 212.0,630.8 243.7,631.3 255.0,630.5 259.0,630.0 263.0,629.6 267.0,629.3 271.0,629.1 275.0,629.2 279.0,629.5 283.0,629.9 287.0,631.1 291.0,633.0 295.0,633.4 299.0,632.8 303.0,631.5 307.0,629.6 311.0,628.5 315.0,628.5 319.0,628.8 323.0,629.5 327.0,630.2 331.0,629.9 335.0,630.2 339.0,631.0 343.0,629.4 347.0,628.2 351.0,628.7 355.0,629.8 359.0,631.3 363.0,632.9 367.0,634.2 371.0,635.2 375.0,635.6 379.0,634.7 383.0,632.5 387.0,629.5 391.0,628.1 395.0,630.0 399.0,629.3 403.0,628.8 407.0,632.8 411.0,636.7 415.0,639.0 419.0,640.3 423.0,638.3 427.0,634.1 433.0,631.0 435.0,629.8 437.0,627.8 439.0,625.0 441.0,620.6 443.0,617.2 445.0,616.3 447.0,618.1 449.0,621.2 451.0,624.6 453.0,627.1 455.5,628.8 M115.5,631.5 158.7,631.5 184.5,631.4 214.1,631.8 243.9,632.0 255.0,631.5 259.0,631.2 263.0,631.0 267.0,630.8 271.0,630.7 275.0,630.7 279.0,630.8 283.0,631.0 287.0,631.6 291.0,632.6 295.0,632.8 299.0,632.4 303.0,631.7 307.0,630.6 311.0,630.0 315.0,630.0 319.0,630.1 323.0,630.5 327.0,630.9 331.0,630.7 335.0,630.9 339.0,631.4 343.0,630.6 347.0,630.0 351.0,630.4 355.0,631.0 359.0,631.9 363.0,632.9 367.0,633.6 371.0,634.2 375.0,634.5 379.0,634.0 383.0,632.9 387.0,631.2 391.0,630.5 395.0,631.5 399.0,631.1 403.0,630.8 407.0,633.0 411.0,635.1 415.0,636.4 419.0,637.1 423.0,636.0 427.0,633.8 433.0,632.2 435.0,631.6 437.0,630.6 439.0,629.1 441.0,626.8 443.0,625.1 445.0,624.6 447.0,625.7 449.0,627.5 451.0,629.4 453.0,630.9 455.5,632.0 M115.5,632.1 128.5,632.1 182.5,631.8 216.3,632.4 243.5,632.7 255.0,631.7 259.0,631.2 263.0,630.7 267.0,630.4 271.0,630.2 275.0,630.3 279.0,630.6 283.0,631.1 287.0,632.4 291.0,634.5 295.0,635.0 299.0,634.4 303.0,633.1 307.0,631.1 311.0,630.0 315.0,630.1 319.0,630.5 323.0,631.3 327.0,632.1 331.0,631.8 335.0,632.2 339.0,633.1 343.0,631.4 347.0,630.0 351.0,630.6 355.0,631.7 359.0,633.2 363.0,634.9 367.0,636.2 371.0,637.1 375.0,637.4 379.0,636.4 383.0,633.9 387.0,630.6 391.0,629.0 395.0,631.1 399.0,630.3 403.0,629.8 407.0,634.3 411.0,638.6 415.0,641.4 419.0,643.1 423.0,641.2 427.0,637.0 433.0,634.2 435.0,633.2 437.0,631.3 439.0,628.5 441.0,624.0 443.0,620.6 445.0,619.9 447.0,622.0 449.0,625.6 451.0,629.5 453.0,632.4 455.5,634.5 M115.5,632.7 144.7,632.7 191.1,632.2 227.8,633.1 239.3,633.0 255.0,632.2 259.0,631.7 263.0,631.3 267.0,631.1 271.0,630.9 275.0,631.0 279.0,631.3 283.0,631.7 287.0,632.8 291.0,634.6 295.0,635.1 299.0,634.6 303.0,633.5 307.0,632.0 311.0,631.1 315.0,631.2 319.0,631.6 323.0,632.3 327.0,633.1 331.0,632.8 335.0,633.2 339.0,633.9 343.0,632.5 347.0,631.4 351.0,631.8 355.0,632.7 359.0,633.9 363.0,635.3 367.0,636.3 371.0,637.0 375.0,637.2 379.0,636.2 383.0,634.1 387.0,631.2 391.0,629.8 395.0,631.4 399.0,630.6 403.0,630.1 407.0,633.8 411.0,637.4 415.0,639.6 419.0,641.0 423.0,639.4 427.0,635.9 433.0,633.8 435.0,633.0 437.0,631.4 439.0,629.1 441.0,625.5 443.0,622.7 445.0,622.2 447.0,624.0 449.0,627.0 451.0,630.4 453.0,632.9 455.5,634.8 M115.5,635.7 158.8,635.5 184.6,635.2 220.6,635.9 239.0,636.2 255.0,635.5 259.0,635.1 263.0,634.8 267.0,634.7 271.0,634.6 275.0,634.8 279.0,635.1 283.0,635.6 287.0,636.6 291.0,638.2 295.0,638.7 299.0,638.2 303.0,637.3 307.0,635.9 311.0,635.0 315.0,635.0 319.0,635.2 323.0,635.6 327.0,636.1 331.0,635.6 335.0,635.6 339.0,636.0 343.0,634.4 347.0,633.1 351.0,633.1 355.0,633.5 359.0,634.2 363.0,635.0 367.0,635.5 371.0,635.8 375.0,635.7 379.0,634.5 383.0,632.4 387.0,629.7 391.0,628.2 395.0,629.5 399.0,628.7 403.0,628.3 407.0,631.5 411.0,634.7 415.0,636.8 419.0,638.1 423.0,636.9 427.0,634.0 433.0,632.5 435.0,631.9 437.0,630.7 439.0,628.8 441.0,625.8 443.0,623.5 445.0,623.3 447.0,625.1 449.0,628.0 451.0,631.1 453.0,633.6 455.5,635.5 M115.5,636.6 142.2,636.6 190.8,636.2 212.3,636.5 246.5,636.8 255.0,636.3 259.0,636.0 263.0,635.7 267.0,635.5 271.0,635.4 275.0,635.5 279.0,635.7 283.0,636.1 287.0,637.1 291.0,638.6 295.0,639.0 299.0,638.6 303.0,637.8 307.0,636.5 311.0,635.8 315.0,636.0 319.0,636.3 323.0,636.9 327.0,637.5 331.0,637.3 335.0,637.6 339.0,638.2 343.0,637.1 347.0,636.1 351.0,636.5 355.0,637.2 359.0,638.2 363.0,639.3 367.0,640.0 371.0,640.6 375.0,640.6 379.0,639.8 383.0,637.9 387.0,635.4 391.0,634.2 395.0,635.3 399.0,634.5 403.0,633.9 407.0,636.7 411.0,639.4 415.0,641.1 419.0,641.9 423.0,640.4 427.0,637.4 433.0,635.3 435.0,634.5 437.0,633.2 439.0,631.2 441.0,628.2 443.0,625.8 445.0,625.4 447.0,626.8 449.0,629.3 451.0,632.1 453.0,634.1 455.5,635.7 M115.5,637.8 147.4,637.7 189.1,637.1 222.9,638.2 247.7,638.0 255.0,637.3 259.0,636.9 263.0,636.4 267.0,636.1 271.0,636.0 275.0,636.1 279.0,636.3 283.0,636.8 287.0,638.0 291.0,639.9 295.0,640.4 299.0,639.7 303.0,638.5 307.0,636.6 311.0,635.6 315.0,635.6 319.0,636.0 323.0,636.6 327.0,637.4 331.0,637.1 335.0,637.4 339.0,638.1 343.0,636.6 347.0,635.3 351.0,635.8 355.0,636.8 359.0,638.1 363.0,639.7 367.0,640.8 371.0,641.6 375.0,641.8 379.0,640.7 383.0,638.3 387.0,635.1 391.0,633.4 395.0,635.1 399.0,634.2 403.0,633.5 407.0,637.4 411.0,641.2 415.0,643.5 419.0,644.9 423.0,642.9 427.0,638.9 433.0,636.3 435.0,635.4 437.0,633.6 439.0,631.0 441.0,626.9 443.0,623.8 445.0,623.3 447.0,625.4 449.0,628.8 451.0,632.6 453.0,635.5 455.5,637.7 M115.5,638.2 152.6,638.2 177.1,637.9 230.4,638.7 246.8,638.4 255.0,637.7 259.0,637.3 263.0,636.8 267.0,636.6 271.0,636.5 275.0,636.6 279.0,636.9 283.0,637.5 287.0,638.7 291.0,640.7 295.0,641.2 299.0,640.6 303.0,639.4 307.0,637.6 311.0,636.6 315.0,636.6 319.0,636.9 323.0,637.5 327.0,638.1 331.0,637.7 335.0,637.8 339.0,638.4 343.0,636.6 347.0,635.1 351.0,635.4 355.0,636.2 359.0,637.3 363.0,638.7 367.0,639.7 371.0,640.4 375.0,640.6 379.0,639.6 383.0,637.4 387.0,634.4 391.0,633.1 395.0,635.1 399.0,634.6 403.0,634.5 407.0,638.9 411.0,643.2 415.0,646.1 419.0,648.0 423.0,646.6 427.0,643.1 433.0,641.1 435.0,640.4 437.0,638.8 439.0,636.3 441.0,632.3 443.0,629.3 445.0,628.6 447.0,630.6 449.0,633.9 451.0,637.5 453.0,640.2 455.5,642.1 M115.5,638.6 138.4,638.5 180.6,638.3 224.8,639.1 241.0,639.1 255.0,638.4 259.0,638.1 263.0,637.8 267.0,637.6 271.0,637.5 275.0,637.5 279.0,637.7 283.0,638.0 287.0,638.8 291.0,640.2 295.0,640.4 299.0,640.0 303.0,639.1 307.0,637.8 311.0,637.1 315.0,637.1 319.0,637.4 323.0,637.8 327.0,638.4 331.0,638.2 335.0,638.4 339.0,638.9 343.0,637.8 347.0,636.9 351.0,637.3 355.0,638.0 359.0,638.9 363.0,639.9 367.0,640.6 371.0,641.1 375.0,641.2 379.0,640.4 383.0,638.6 387.0,636.3 391.0,635.0 395.0,636.1 399.0,635.3 403.0,634.8 407.0,637.4 411.0,640.0 415.0,641.6 419.0,642.5 423.0,641.2 427.0,638.4 433.0,636.7 435.0,636.1 437.0,634.9 439.0,633.2 441.0,630.4 443.0,628.3 445.0,628.0 447.0,629.6 449.0,632.1 451.0,634.8 453.0,636.9 455.5,638.6 M115.5,639.8 137.9,639.8 170.7,639.5 226.9,640.3 241.9,640.2 255.0,639.3 259.0,638.8 263.0,638.3 267.0,638.0 271.0,637.9 275.0,638.0 279.0,638.3 283.0,638.9 287.0,640.2 291.0,642.3 295.0,642.8 299.0,642.2 303.0,640.8 307.0,638.9 311.0,637.7 315.0,637.7 319.0,638.0 323.0,638.7 327.0,639.5 331.0,639.0 335.0,639.2 339.0,639.9 343.0,638.1 347.0,636.5 351.0,636.9 355.0,637.8 359.0,639.1 363.0,640.6 367.0,641.7 371.0,642.5 375.0,642.7 379.0,641.5 383.0,638.9 387.0,635.5 391.0,633.9 395.0,635.8 399.0,635.0 403.0,634.5 407.0,639.0 411.0,643.4 415.0,646.3 419.0,648.0 423.0,646.3 427.0,642.2 433.0,639.8 435.0,638.9 437.0,637.1 439.0,634.4 441.0,630.0 443.0,626.8 445.0,626.2 447.0,628.4 449.0,632.2 451.0,636.2 453.0,639.3 455.5,641.7 M115.5,640.2 130.0,640.2 191.0,639.8 223.2,640.6 238.8,640.6 255.0,639.7 259.0,639.3 263.0,638.8 267.0,638.6 271.0,638.5 275.0,638.6 279.0,638.9 283.0,639.3 287.0,640.5 291.0,642.4 295.0,642.9 299.0,642.4 303.0,641.4 307.0,639.8 311.0,638.9 315.0,639.1 319.0,639.5 323.0,640.2 327.0,640.9 331.0,640.7 335.0,640.9 339.0,641.6 343.0,640.1 347.0,638.8 351.0,639.2 355.0,640.0 359.0,641.0 363.0,642.2 367.0,643.1 371.0,643.6 375.0,643.6 379.0,642.4 383.0,640.0 387.0,636.9 391.0,635.3 395.0,636.7 399.0,635.8 403.0,635.2 407.0,638.8 411.0,642.4 415.0,644.6 419.0,646.0 423.0,644.3 427.0,640.9 433.0,638.7 435.0,638.0 437.0,636.5 439.0,634.1 441.0,630.5 443.0,627.8 445.0,627.3 447.0,629.3 449.0,632.5 451.0,636.0 453.0,638.7 455.5,640.7 M115.5,640.6 145.9,640.7 175.6,640.5 213.0,640.6 247.8,640.7 255.0,640.4 259.0,640.2 263.0,640.1 267.0,640.0 271.0,640.0 275.0,640.1 279.0,640.3 283.0,640.6 287.0,641.2 291.0,642.1 295.0,642.4 299.0,642.2 303.0,641.8 307.0,641.1 311.0,640.7 315.0,640.8 319.0,640.9 323.0,641.2 327.0,641.5 331.0,641.2 335.0,641.2 339.0,641.4 343.0,640.4 347.0,639.6 351.0,639.5 355.0,639.6 359.0,639.7 363.0,640.0 367.0,640.0 371.0,639.9 375.0,639.5 379.0,638.6 383.0,637.2 387.0,635.5 391.0,634.5 395.0,634.9 399.0,634.4 403.0,634.0 407.0,635.7 411.0,637.5 415.0,638.7 419.0,639.5 423.0,639.1 427.0,637.9 433.0,637.7 435.0,637.6 437.0,637.2 439.0,636.4 441.0,635.0 443.0,634.1 445.0,634.3 447.0,635.5 449.0,637.4 451.0,639.3 453.0,640.9 455.5,642.3 M115.5,641.9 134.4,641.8 184.3,641.1 214.9,641.7 246.5,642.1 255.0,641.4 259.0,640.9 263.0,640.5 267.0,640.2 271.0,640.1 275.0,640.3 279.0,640.6 283.0,641.2 287.0,642.5 291.0,644.6 295.0,645.1 299.0,644.5 303.0,643.3 307.0,641.4 311.0,640.3 315.0,640.3 319.0,640.6 323.0,641.3 327.0,642.0 331.0,641.5 335.0,641.7 339.0,642.4 343.0,640.5 347.0,638.9 351.0,639.2 355.0,640.0 359.0,641.2 363.0,642.6 367.0,643.5 371.0,644.1 375.0,644.1 379.0,642.8 383.0,640.2 387.0,636.7 391.0,634.9 395.0,636.7 399.0,635.7 403.0,635.1 407.0,639.4 411.0,643.6 415.0,646.2 419.0,647.9 423.0,646.2 427.0,642.3 433.0,640.0 435.0,639.2 437.0,637.5 439.0,634.9 441.0,630.8 443.0,627.7 445.0,627.3 447.0,629.6 449.0,633.3 451.0,637.4 453.0,640.6 455.5,643.0 M115.5,642.2 146.1,642.0 176.6,641.8 224.8,642.3 243.5,642.4 255.0,641.9 259.0,641.7 263.0,641.5 267.0,641.4 271.0,641.3 275.0,641.4 279.0,641.6 283.0,641.9 287.0,642.6 291.0,643.7 295.0,644.0 299.0,643.7 303.0,643.1 307.0,642.2 311.0,641.6 315.0,641.7 319.0,641.8 323.0,642.2 327.0,642.6 331.0,642.3 335.0,642.4 339.0,642.8 343.0,641.8 347.0,641.0 351.0,641.1 355.0,641.5 359.0,642.1 363.0,642.7 367.0,643.1 371.0,643.4 375.0,643.3 379.0,642.6 383.0,641.1 387.0,639.2 391.0,638.2 395.0,638.9 399.0,638.3 403.0,637.9 407.0,639.9 411.0,641.9 415.0,643.1 419.0,643.9 423.0,642.9 427.0,640.8 433.0,639.5 435.0,639.0 437.0,638.2 439.0,636.8 441.0,634.7 443.0,633.1 445.0,632.9 447.0,634.2 449.0,636.1 451.0,638.3 453.0,639.9 455.5,641.2 M115.5,642.6 146.7,642.6 185.6,642.2 227.5,643.0 246.7,642.9 255.0,642.4 259.0,642.0 263.0,641.7 267.0,641.6 271.0,641.5 275.0,641.6 279.0,641.9 283.0,642.3 287.0,643.2 291.0,644.7 295.0,645.1 299.0,644.7 303.0,643.9 307.0,642.7 311.0,642.0 315.0,642.2 319.0,642.5 323.0,643.0 327.0,643.6 331.0,643.4 335.0,643.6 339.0,644.2 343.0,643.0 347.0,642.0 351.0,642.2 355.0,642.8 359.0,643.7 363.0,644.6 367.0,645.2 371.0,645.7 375.0,645.6 379.0,644.6 383.0,642.7 387.0,640.2 391.0,638.8 395.0,639.9 399.0,639.0 403.0,638.4 407.0,641.1 411.0,643.7 415.0,645.3 419.0,646.2 423.0,644.7 427.0,641.7 433.0,639.7 435.0,639.0 437.0,637.7 439.0,635.8 441.0,632.8 443.0,630.6 445.0,630.2 447.0,631.7 449.0,634.2 451.0,636.9 453.0,639.0 455.5,640.5 M115.5,648.6 134.3,648.7 183.5,648.5 209.4,648.6 241.4,648.9 255.0,648.3 259.0,648.0 263.0,647.8 267.0,647.6 271.0,647.5 275.0,647.6 279.0,647.7 283.0,648.0 287.0,648.8 291.0,649.9 295.0,650.2 299.0,649.8 303.0,649.1 307.0,648.0 311.0,647.4 315.0,647.4 319.0,647.5 323.0,647.8 327.0,648.2 331.0,647.9 335.0,648.0 339.0,648.3 343.0,647.2 347.0,646.3 351.0,646.5 355.0,646.9 359.0,647.6 363.0,648.4 367.0,648.9 371.0,649.4 375.0,649.5 379.0,648.8 383.0,647.5 387.0,645.7 391.0,644.8 395.0,646.0 399.0,645.7 403.0,645.5 407.0,648.1 411.0,650.7 415.0,652.4 419.0,653.4 423.0,652.6 427.0,650.5 433.0,649.2 435.0,648.7 437.0,647.8 439.0,646.3 441.0,643.9 443.0,642.1 445.0,641.7 447.0,642.9 449.0,644.9 451.0,647.1 453.0,648.8 455.5,650.0 M115.5,649.7 148.2,649.7 180.7,649.2 208.9,649.5 239.5,650.1 255.0,649.3 259.0,648.9 263.0,648.5 267.0,648.3 271.0,648.2 275.0,648.4 279.0,648.8 283.0,649.3 287.0,650.5 291.0,652.5 295.0,653.0 299.0,652.6 303.0,651.5 307.0,650.0 311.0,649.1 315.0,649.2 319.0,649.6 323.0,650.3 327.0,651.0 331.0,650.7 335.0,650.9 339.0,651.5 343.0,649.9 347.0,648.5 351.0,648.8 355.0,649.4 359.0,650.4 363.0,651.5 367.0,652.2 371.0,652.7 375.0,652.5 379.0,651.2 383.0,648.7 387.0,645.4 391.0,643.6 395.0,645.0 399.0,643.9 403.0,643.2 407.0,646.8 411.0,650.3 415.0,652.5 419.0,653.8 423.0,652.1 427.0,648.5 433.0,646.3 435.0,645.5 437.0,644.0 439.0,641.6 441.0,637.9 443.0,635.2 445.0,634.7 447.0,636.8 449.0,640.1 451.0,643.7 453.0,646.5 455.5,648.6 M115.5,650.0 129.2,650.0 194.8,650.1 227.1,650.4 244.5,650.2 255.0,649.8 259.0,649.6 263.0,649.4 267.0,649.2 271.0,649.2 275.0,649.2 279.0,649.2 283.0,649.4 287.0,649.9 291.0,650.7 295.0,650.9 299.0,650.6 303.0,650.2 307.0,649.5 311.0,649.1 315.0,649.2 319.0,649.4 323.0,649.8 327.0,650.2 331.0,650.1 335.0,650.3 339.0,650.6 343.0,650.0 347.0,649.5 351.0,649.7 355.0,650.0 359.0,650.5 363.0,651.0 367.0,651.3 371.0,651.5 375.0,651.4 379.0,650.8 383.0,649.6 387.0,648.1 391.0,647.3 395.0,647.8 399.0,647.2 403.0,646.8 407.0,648.3 411.0,649.7 415.0,650.6 419.0,651.2 423.0,650.5 427.0,648.9 433.0,648.1 435.0,647.8 437.0,647.2 439.0,646.3 441.0,644.7 443.0,643.6 445.0,643.6 447.0,644.6 449.0,646.2 451.0,647.9 453.0,649.2 455.5,650.3 M115.5,650.6 140.0,650.6 182.2,650.4 219.4,651.0 245.7,650.8 255.0,650.1 259.0,649.7 263.0,649.3 267.0,649.0 271.0,648.9 275.0,648.9 279.0,649.2 283.0,649.6 287.0,650.6 291.0,652.3 295.0,652.8 299.0,652.4 303.0,651.5 307.0,650.1 311.0,649.4 315.0,649.6 319.0,650.0 323.0,650.8 327.0,651.6 331.0,651.5 335.0,651.8 339.0,652.6 343.0,651.3 347.0,650.2 351.0,650.6 355.0,651.3 359.0,652.3 363.0,653.4 367.0,654.1 371.0,654.6 375.0,654.5 379.0,653.2 383.0,650.9 387.0,647.9 391.0,646.2 395.0,647.3 399.0,646.3 403.0,645.5 407.0,648.6 411.0,651.7 415.0,653.6 419.0,654.8 423.0,653.2 427.0,650.0 433.0,648.0 435.0,647.4 437.0,646.0 439.0,644.0 441.0,640.7 443.0,638.3 445.0,637.9 447.0,639.9 449.0,642.9 451.0,646.3 453.0,648.8 455.5,650.9 M115.5,651.7 158.6,651.6 194.3,651.4 228.0,652.4 248.9,652.0 255.0,651.5 259.0,651.0 263.0,650.6 267.0,650.4 271.0,650.3 275.0,650.3 279.0,650.6 283.0,651.0 287.0,652.0 291.0,653.7 295.0,654.1 299.0,653.4 303.0,652.3 307.0,650.5 311.0,649.5 315.0,649.4 319.0,649.6 323.0,650.1 327.0,650.7 331.0,650.3 335.0,650.4 339.0,651.0 343.0,649.5 347.0,648.3 351.0,648.6 355.0,649.5 359.0,650.7 363.0,652.1 367.0,653.1 371.0,653.9 375.0,654.2 379.0,653.3 383.0,651.3 387.0,648.5 391.0,647.2 395.0,648.9 399.0,648.3 403.0,647.9 407.0,651.6 411.0,655.1 415.0,657.4 419.0,658.7 423.0,657.0 427.0,653.4 433.0,650.9 435.0,650.0 437.0,648.4 439.0,646.0 441.0,642.2 443.0,639.3 445.0,638.7 447.0,640.4 449.0,643.4 451.0,646.7 453.0,649.1 455.5,650.9 M115.5,652.6 136.6,652.6 179.2,652.5 218.3,652.7 244.9,652.7 255.0,652.3 259.0,652.1 263.0,651.9 267.0,651.7 271.0,651.6 275.0,651.6 279.0,651.8 283.0,652.0 287.0,652.5 291.0,653.4 295.0,653.6 299.0,653.4 303.0,652.9 307.0,652.2 311.0,651.8 315.0,651.9 319.0,652.2 323.0,652.6 327.0,653.0 331.0,653.0 335.0,653.2 339.0,653.7 343.0,653.0 347.0,652.5 351.0,652.7 355.0,653.2 359.0,653.7 363.0,654.4 367.0,654.8 371.0,655.0 375.0,655.0 379.0,654.3 383.0,653.0 387.0,651.4 391.0,650.5 395.0,651.0 399.0,650.3 403.0,649.8 407.0,651.4 411.0,652.9 415.0,653.8 419.0,654.3 423.0,653.3 427.0,651.5 433.0,650.4 435.0,650.0 437.0,649.3 439.0,648.1 441.0,646.4 443.0,645.1 445.0,645.0 447.0,646.0 449.0,647.7 451.0,649.5 453.0,650.9 455.5,652.0 M115.5,653.7 131.9,653.6 191.7,653.3 213.3,653.9 249.4,654.0 255.0,653.5 259.0,653.1 263.0,652.7 267.0,652.5 271.0,652.4 275.0,652.4 279.0,652.7 283.0,653.0 287.0,654.0 291.0,655.6 295.0,655.9 299.0,655.3 303.0,654.2 307.0,652.6 311.0,651.6 315.0,651.6 319.0,651.7 323.0,652.2 327.0,652.7 331.0,652.4 335.0,652.5 339.0,653.1 343.0,651.7 347.0,650.6 351.0,651.0 355.0,651.8 359.0,652.9 363.0,654.2 367.0,655.2 371.0,656.0 375.0,656.2 379.0,655.4 383.0,653.6 387.0,651.0 391.0,649.8 395.0,651.4 399.0,650.7 403.0,650.3 407.0,653.8 411.0,657.0 415.0,659.1 419.0,660.2 423.0,658.6 427.0,655.2 433.0,652.7 435.0,651.8 437.0,650.3 439.0,647.9 441.0,644.4 443.0,641.6 445.0,641.0 447.0,642.6 449.0,645.3 451.0,648.3 453.0,650.5 455.5,652.1 M115.5,654.1 154.9,654.0 177.1,653.7 223.2,654.4 238.9,654.6 255.0,654.0 259.0,653.7 263.0,653.4 267.0,653.3 271.0,653.2 275.0,653.4 279.0,653.7 283.0,654.1 287.0,655.1 291.0,656.6 295.0,657.0 299.0,656.6 303.0,655.8 307.0,654.5 311.0,653.7 315.0,653.7 319.0,653.9 323.0,654.3 327.0,654.7 331.0,654.3 335.0,654.3 339.0,654.6 343.0,653.2 347.0,652.0 351.0,652.0 355.0,652.5 359.0,653.2 363.0,654.0 367.0,654.6 371.0,655.0 375.0,655.0 379.0,654.2 383.0,652.5 387.0,650.3 391.0,649.2 395.0,650.7 399.0,650.3 403.0,650.2 407.0,653.4 411.0,656.6 415.0,658.7 419.0,660.1 423.0,659.2 427.0,656.8 433.0,655.5 435.0,654.9 437.0,653.8 439.0,652.1 441.0,649.2 443.0,647.0 445.0,646.6 447.0,648.1 449.0,650.5 451.0,653.1 453.0,655.1 455.5,656.5 M115.5,654.4 140.0,654.3 192.1,654.5 212.0,654.9 248.1,654.9 255.0,654.5 259.0,654.2 263.0,654.0 267.0,653.8 271.0,653.7 275.0,653.7 279.0,653.8 283.0,654.0 287.0,654.5 291.0,655.5 295.0,655.6 299.0,655.2 303.0,654.5 307.0,653.5 311.0,652.9 315.0,652.9 319.0,653.0 323.0,653.4 327.0,653.7 331.0,653.5 335.0,653.6 339.0,654.0 343.0,653.1 347.0,652.4 351.0,652.5 355.0,653.0 359.0,653.5 363.0,654.2 367.0,654.6 371.0,654.9 375.0,654.8 379.0,654.1 383.0,652.7 387.0,650.8 391.0,649.8 395.0,650.6 399.0,650.0 403.0,649.7 407.0,651.7 411.0,653.8 415.0,655.2 419.0,656.2 423.0,655.5 427.0,653.8 433.0,653.3 435.0,653.1 437.0,652.5 439.0,651.5 441.0,649.8 443.0,648.6 445.0,648.7 447.0,650.1 449.0,652.3 451.0,654.7 453.0,656.6 455.5,658.2 M115.5,655.6 158.4,655.6 171.5,655.4 224.0,656.2 241.8,656.2 255.0,655.3 259.0,654.9 263.0,654.4 267.0,654.2 271.0,654.1 275.0,654.2 279.0,654.5 283.0,655.1 287.0,656.3 291.0,658.3 295.0,658.8 299.0,658.2 303.0,657.1 307.0,655.3 311.0,654.3 315.0,654.3 319.0,654.7 323.0,655.3 327.0,656.0 331.0,655.6 335.0,655.8 339.0,656.4 343.0,654.7 347.0,653.2 351.0,653.5 355.0,654.3 359.0,655.4 363.0,656.8 367.0,657.7 371.0,658.3 375.0,658.3 379.0,657.1 383.0,654.6 387.0,651.4 391.0,649.8 395.0,651.5 399.0,650.7 403.0,650.2 407.0,654.3 411.0,658.3 415.0,661.0 419.0,662.6 423.0,661.0 427.0,657.4 433.0,655.3 435.0,654.5 437.0,652.9 439.0,650.4 441.0,646.5 443.0,643.5 445.0,643.0 447.0,645.2 449.0,648.7 451.0,652.5 453.0,655.4 455.5,657.5 M115.5,656.1 130.6,656.0 196.4,655.9 224.9,656.6 240.4,656.6 255.0,655.8 259.0,655.4 263.0,655.0 267.0,654.8 271.0,654.6 275.0,654.7 279.0,654.9 283.0,655.3 287.0,656.2 291.0,657.7 295.0,658.1 299.0,657.7 303.0,656.9 307.0,655.7 311.0,655.0 315.0,655.2 319.0,655.7 323.0,656.4 327.0,657.2 331.0,657.2 335.0,657.6 339.0,658.4 343.0,657.3 347.0,656.5 351.0,656.9 355.0,657.7 359.0,658.7 363.0,659.8 367.0,660.5 371.0,661.0 375.0,660.9 379.0,659.8 383.0,657.7 387.0,654.9 391.0,653.2 395.0,654.1 399.0,653.0 403.0,652.1 407.0,654.8 411.0,657.3 415.0,658.8 419.0,659.6 423.0,658.0 427.0,654.8 433.0,652.7 435.0,652.0 437.0,650.7 439.0,648.7 441.0,645.6 443.0,643.4 445.0,643.0 447.0,644.7 449.0,647.5 451.0,650.4 453.0,652.8 455.5,654.6 M115.5,656.7 148.4,656.7 184.5,656.4 212.5,656.7 241.7,657.0 255.0,656.4 259.0,656.0 263.0,655.7 267.0,655.6 271.0,655.5 275.0,655.6 279.0,655.9 283.0,656.3 287.0,657.2 291.0,658.7 295.0,659.0 299.0,658.7 303.0,657.9 307.0,656.6 311.0,655.9 315.0,656.0 319.0,656.2 323.0,656.7 327.0,657.2 331.0,656.8 335.0,656.9 339.0,657.3 343.0,656.0 347.0,654.8 351.0,654.9 355.0,655.3 359.0,655.9 363.0,656.6 367.0,657.0 371.0,657.2 375.0,656.9 379.0,655.8 383.0,653.7 387.0,651.1 391.0,649.6 395.0,650.6 399.0,649.7 403.0,649.1 407.0,651.9 411.0,654.6 415.0,656.4 419.0,657.5 423.0,656.4 427.0,653.9 433.0,652.6 435.0,652.2 437.0,651.2 439.0,649.6 441.0,647.0 443.0,645.1 445.0,645.0 447.0,646.8 449.0,649.6 451.0,652.6 453.0,655.0 455.5,657.0 M115.5,657.1 132.3,657.1 176.3,657.0 217.2,657.5 244.6,657.5 255.0,656.7 259.0,656.2 263.0,655.7 267.0,655.4 271.0,655.3 275.0,655.3 279.0,655.6 283.0,656.0 287.0,657.1 291.0,658.9 295.0,659.4 299.0,658.9 303.0,657.9 307.0,656.3 311.0,655.4 315.0,655.6 319.0,656.1 323.0,656.8 327.0,657.7 331.0,657.5 335.0,657.9 339.0,658.7 343.0,657.3 347.0,656.1 351.0,656.5 355.0,657.4 359.0,658.5 363.0,659.8 367.0,660.7 371.0,661.3 375.0,661.3 379.0,660.1 383.0,657.7 387.0,654.6 391.0,652.9 395.0,654.3 399.0,653.3 403.0,652.7 407.0,656.3 411.0,659.9 415.0,662.1 419.0,663.5 423.0,661.9 427.0,658.5 433.0,656.5 435.0,655.8 437.0,654.3 439.0,652.1 441.0,648.4 443.0,645.8 445.0,645.4 447.0,647.4 449.0,650.7 451.0,654.3 453.0,657.0 455.5,659.1 M115.5,657.5 138.6,657.6 192.5,657.3 225.4,657.9 248.1,657.8 255.0,657.4 259.0,657.2 263.0,656.9 267.0,656.8 271.0,656.8 275.0,656.9 279.0,657.2 283.0,657.7 287.0,658.5 291.0,659.9 295.0,660.3 299.0,660.0 303.0,659.4 307.0,658.3 311.0,657.7 315.0,657.7 319.0,657.9 323.0,658.3 327.0,658.7 331.0,658.3 335.0,658.3 339.0,658.6 343.0,657.3 347.0,656.1 351.0,656.1 355.0,656.4 359.0,656.8 363.0,657.4 367.0,657.7 371.0,657.9 375.0,657.7 379.0,656.7 383.0,655.0 387.0,652.8 391.0,651.6 395.0,652.7 399.0,652.1 403.0,651.8 407.0,654.5 411.0,657.2 415.0,659.0 419.0,660.2 423.0,659.3 427.0,657.2 433.0,656.1 435.0,655.6 437.0,654.7 439.0,653.2 441.0,650.8 443.0,648.9 445.0,648.7 447.0,650.1 449.0,652.4 451.0,654.9 453.0,656.7 455.5,658.2 M115.5,658.7 138.5,658.7 174.3,658.3 212.7,658.6 248.1,659.0 255.0,658.4 259.0,657.9 263.0,657.5 267.0,657.3 271.0,657.2 275.0,657.3 279.0,657.7 283.0,658.2 287.0,659.4 291.0,661.3 295.0,661.7 299.0,661.2 303.0,660.0 307.0,658.3 311.0,657.3 315.0,657.3 319.0,657.6 323.0,658.2 327.0,658.8 331.0,658.5 335.0,658.6 339.0,659.3 343.0,657.6 347.0,656.3 351.0,656.6 355.0,657.4 359.0,658.6 363.0,660.0 367.0,661.0 371.0,661.7 375.0,661.9 379.0,660.9 383.0,658.6 387.0,655.6 391.0,654.2 395.0,655.9 399.0,655.2 403.0,654.7 407.0,658.7 411.0,662.5 415.0,664.9 419.0,666.4 423.0,664.7 427.0,661.0 433.0,658.6 435.0,657.7 437.0,656.0 439.0,653.5 441.0,649.5 443.0,646.6 445.0,645.9 447.0,647.8 449.0,651.0 451.0,654.5 453.0,657.1 455.5,659.0 M115.5,659.1 150.3,659.2 191.1,658.9 221.1,659.6 249.4,659.3 255.0,658.8 259.0,658.3 263.0,657.9 267.0,657.6 271.0,657.4 275.0,657.5 279.0,657.8 283.0,658.2 287.0,659.3 291.0,661.1 295.0,661.5 299.0,661.0 303.0,659.9 307.0,658.4 311.0,657.5 315.0,657.6 319.0,658.0 323.0,658.7 327.0,659.4 331.0,659.2 335.0,659.5 339.0,660.2 343.0,658.8 347.0,657.6 351.0,658.0 355.0,658.8 359.0,659.8 363.0,661.1 367.0,661.9 371.0,662.4 375.0,662.4 379.0,661.2 383.0,658.9 387.0,655.7 391.0,654.1 395.0,655.4 399.0,654.4 403.0,653.7 407.0,657.2 411.0,660.6 415.0,662.7 419.0,663.9 423.0,662.3 427.0,658.8 433.0,656.7 435.0,655.9 437.0,654.4 439.0,652.2 441.0,648.6 443.0,646.0 445.0,645.6 447.0,647.6 449.0,650.8 451.0,654.3 453.0,657.0 455.5,659.1 M115.5,659.7 133.3,659.8 191.6,659.3 224.0,660.5 243.4,660.2 255.0,659.0 259.0,658.3 263.0,657.6 267.0,657.2 271.0,657.0 275.0,657.1 279.0,657.5 283.0,658.2 287.0,660.0 291.0,662.8 295.0,663.5 299.0,662.8 303.0,661.2 307.0,658.9 311.0,657.6 315.0,657.8 319.0,658.5 323.0,659.6 327.0,660.9 331.0,660.5 335.0,661.0 339.0,662.2 343.0,659.9 347.0,658.1 351.0,658.7 355.0,659.9 359.0,661.6 363.0,663.5 367.0,664.8 371.0,665.6 375.0,665.6 379.0,663.8 383.0,660.1 387.0,655.3 391.0,652.7 395.0,654.8 399.0,653.4 403.0,652.4 407.0,657.8 411.0,663.2 415.0,666.6 419.0,668.7 423.0,666.2 427.0,660.8 433.0,657.6 435.0,656.4 437.0,654.1 439.0,650.6 441.0,645.0 443.0,640.9 445.0,640.2 447.0,643.3 449.0,648.3 451.0,653.7 453.0,657.8 455.5,661.0 M115.5,662.6 159.8,662.7 195.5,662.4 214.8,662.8 241.9,663.1 255.0,662.3 259.0,661.9 263.0,661.5 267.0,661.2 271.0,661.1 275.0,661.1 279.0,661.4 283.0,661.7 287.0,662.7 291.0,664.3 295.0,664.6 299.0,664.1 303.0,663.2 307.0,661.7 311.0,660.9 315.0,661.0 319.0,661.3 323.0,661.8 327.0,662.5 331.0,662.2 335.0,662.5 339.0,663.1 343.0,661.8 347.0,660.8 351.0,661.2 355.0,661.9 359.0,663.0 363.0,664.2 367.0,665.0 371.0,665.6 375.0,665.7 379.0,664.8 383.0,662.9 387.0,660.3 391.0,659.0 395.0,660.3 399.0,659.6 403.0,659.2 407.0,662.4 411.0,665.6 415.0,667.6 419.0,668.8 423.0,667.4 427.0,664.3 433.0,662.4 435.0,661.7 437.0,660.4 439.0,658.3 441.0,655.1 443.0,652.6 445.0,652.2 447.0,653.9 449.0,656.7 451.0,659.8 453.0,662.1 455.5,663.8 M115.5,665.9 156.4,665.7 190.1,665.1 208.8,665.5 241.5,666.2 255.0,665.3 259.0,664.8 263.0,664.4 267.0,664.1 271.0,664.0 275.0,664.1 279.0,664.5 283.0,665.0 287.0,666.2 291.0,668.3 295.0,668.8 299.0,668.1 303.0,666.9 307.0,665.0 311.0,663.9 315.0,663.9 319.0,664.2 323.0,664.9 327.0,665.6 331.0,665.2 335.0,665.4 339.0,666.1 343.0,664.4 347.0,662.9 351.0,663.3 355.0,664.3 359.0,665.6 363.0,667.1 367.0,668.2 371.0,669.0 375.0,669.2 379.0,668.2 383.0,665.8 387.0,662.6 391.0,661.0 395.0,662.9 399.0,662.0 403.0,661.5 407.0,665.7 411.0,669.8 415.0,672.4 419.0,673.9 423.0,672.0 427.0,668.0 433.0,665.3 435.0,664.4 437.0,662.6 439.0,659.9 441.0,655.6 443.0,652.4 445.0,651.8 447.0,653.9 449.0,657.3 451.0,661.1 453.0,664.0 455.5,666.1 M115.5,672.7 128.3,672.7 169.0,672.5 226.6,673.3 245.4,673.2 255.0,672.5 259.0,672.1 263.0,671.7 267.0,671.5 271.0,671.4 275.0,671.5 279.0,671.8 283.0,672.3 287.0,673.4 291.0,675.2 295.0,675.6 299.0,675.1 303.0,674.0 307.0,672.3 311.0,671.3 315.0,671.4 319.0,671.6 323.0,672.1 327.0,672.7 331.0,672.3 335.0,672.4 339.0,672.9 343.0,671.2 347.0,669.8 351.0,670.0 355.0,670.6 359.0,671.5 363.0,672.6 367.0,673.3 371.0,673.8 375.0,673.7 379.0,672.4 383.0,670.0 387.0,666.8 391.0,665.2 395.0,666.5 399.0,665.5 403.0,664.9 407.0,668.4 411.0,671.9 415.0,674.1 419.0,675.4 423.0,673.7 427.0,670.3 433.0,668.1 435.0,667.4 437.0,665.9 439.0,663.6 441.0,660.0 443.0,657.4 445.0,657.0 447.0,659.0 449.0,662.3 451.0,665.9 453.0,668.7 455.5,670.9 M115.5,675.7 130.0,675.7 181.5,675.4 226.7,676.2 247.8,675.8 255.0,675.1 259.0,674.7 263.0,674.3 267.0,674.0 271.0,673.8 275.0,673.9 279.0,674.2 283.0,674.6 287.0,675.8 291.0,677.6 295.0,678.1 299.0,677.6 303.0,676.6 307.0,675.0 311.0,674.2 315.0,674.4 319.0,674.8 323.0,675.6 327.0,676.4 331.0,676.2 335.0,676.5 339.0,677.3 343.0,675.9 347.0,674.7 351.0,675.1 355.0,675.9 359.0,677.0 363.0,678.3 367.0,679.1 371.0,679.7 375.0,679.7 379.0,678.5 383.0,676.2 387.0,673.1 391.0,671.4 395.0,672.8 399.0,671.9 403.0,671.2 407.0,674.8 411.0,678.3 415.0,680.4 419.0,681.8 423.0,680.2 427.0,676.7 433.0,674.6 435.0,673.8 437.0,672.3 439.0,670.0 441.0,666.4 443.0,663.7 445.0,663.2 447.0,665.2 449.0,668.4 451.0,671.8 453.0,674.5 455.5,676.5 M115.5,676.1 159.5,676.0 178.8,675.7 224.0,676.4 239.8,676.5 255.0,675.7 259.0,675.4 263.0,675.0 267.0,674.8 271.0,674.7 275.0,674.8 279.0,675.1 283.0,675.5 287.0,676.5 291.0,678.1 295.0,678.5 299.0,678.1 303.0,677.2 307.0,675.8 311.0,675.0 315.0,675.1 319.0,675.4 323.0,676.0 327.0,676.6 331.0,676.3 335.0,676.5 339.0,677.1 343.0,675.8 347.0,674.7 351.0,674.9 355.0,675.6 359.0,676.5 363.0,677.6 367.0,678.4 371.0,679.0 375.0,679.1 379.0,678.2 383.0,676.3 387.0,673.8 391.0,672.6 395.0,674.1 399.0,673.6 403.0,673.3 407.0,676.8 411.0,680.1 415.0,682.4 419.0,683.9 423.0,682.8 427.0,680.0 433.0,678.6 435.0,678.0 437.0,676.8 439.0,674.9 441.0,671.9 443.0,669.5 445.0,669.2 447.0,670.8 449.0,673.6 451.0,676.6 453.0,678.8 455.5,680.5 M115.5,676.6 134.5,676.6 186.7,676.2 219.1,677.0 249.8,676.8 255.0,676.3 259.0,675.9 263.0,675.5 267.0,675.2 271.0,675.2 275.0,675.3 279.0,675.7 283.0,676.2 287.0,677.5 291.0,679.6 295.0,680.1 299.0,679.5 303.0,678.4 307.0,676.7 311.0,675.6 315.0,675.7 319.0,676.1 323.0,676.8 327.0,677.5 331.0,677.1 335.0,677.3 339.0,677.9 343.0,676.2 347.0,674.7 351.0,675.0 355.0,675.8 359.0,677.0 363.0,678.3 367.0,679.2 371.0,679.8 375.0,679.9 379.0,678.7 383.0,676.2 387.0,673.0 391.0,671.3 395.0,673.0 399.0,672.2 403.0,671.6 407.0,675.7 411.0,679.7 415.0,682.2 419.0,683.7 423.0,682.0 427.0,678.1 433.0,675.7 435.0,674.7 437.0,673.0 439.0,670.4 441.0,666.3 443.0,663.2 445.0,662.6 447.0,664.6 449.0,668.0 451.0,671.6 453.0,674.4 455.5,676.4 M115.5,677.6 148.6,677.6 187.1,677.2 225.0,678.2 240.2,678.2 255.0,677.4 259.0,677.0 263.0,676.6 267.0,676.3 271.0,676.2 275.0,676.3 279.0,676.6 283.0,677.0 287.0,678.1 291.0,679.8 295.0,680.2 299.0,679.7 303.0,678.7 307.0,677.2 311.0,676.4 315.0,676.5 319.0,676.8 323.0,677.5 327.0,678.2 331.0,678.0 335.0,678.3 339.0,679.0 343.0,677.6 347.0,676.5 351.0,676.9 355.0,677.7 359.0,678.7 363.0,679.9 367.0,680.7 371.0,681.2 375.0,681.2 379.0,680.0 383.0,677.7 387.0,674.7 391.0,673.0 395.0,674.2 399.0,673.1 403.0,672.3 407.0,675.5 411.0,678.5 415.0,680.4 419.0,681.4 423.0,679.6 427.0,676.1 433.0,673.8 435.0,673.0 437.0,671.5 439.0,669.3 441.0,665.8 443.0,663.2 445.0,662.8 447.0,664.7 449.0,667.8 451.0,671.2 453.0,673.8 455.5,675.8 M115.5,678.7 129.8,678.7 171.6,678.5 229.0,679.2 240.8,679.1 255.0,678.2 259.0,677.8 263.0,677.4 267.0,677.2 271.0,677.1 275.0,677.2 279.0,677.5 283.0,678.0 287.0,679.2 291.0,681.2 295.0,681.7 299.0,681.1 303.0,680.0 307.0,678.4 311.0,677.4 315.0,677.5 319.0,677.8 323.0,678.4 327.0,679.1 331.0,678.7 335.0,678.9 339.0,679.5 343.0,677.8 347.0,676.4 351.0,676.7 355.0,677.4 359.0,678.5 363.0,679.7 367.0,680.6 371.0,681.2 375.0,681.2 379.0,680.1 383.0,677.8 387.0,674.8 391.0,673.3 395.0,675.0 399.0,674.3 403.0,673.9 407.0,677.8 411.0,681.7 415.0,684.3 419.0,685.9 423.0,684.4 427.0,680.9 433.0,678.9 435.0,678.1 437.0,676.6 439.0,674.2 441.0,670.4 443.0,667.6 445.0,667.1 447.0,669.1 449.0,672.3 451.0,675.8 453.0,678.5 455.5,680.5 M115.5,679.8 132.3,679.7 186.0,679.1 230.7,680.5 240.7,680.4 255.0,679.5 259.0,679.0 263.0,678.5 267.0,678.3 271.0,678.1 275.0,678.1 279.0,678.3 283.0,678.6 287.0,679.7 291.0,681.5 295.0,681.7 299.0,681.0 303.0,679.7 307.0,677.7 311.0,676.6 315.0,676.5 319.0,676.8 323.0,677.3 327.0,678.1 331.0,677.8 335.0,678.1 339.0,678.9 343.0,677.5 347.0,676.5 351.0,677.2 355.0,678.4 359.0,680.0 363.0,681.8 367.0,683.2 371.0,684.4 375.0,684.9 379.0,684.2 383.0,682.2 387.0,679.3 391.0,678.0 395.0,679.8 399.0,679.0 403.0,678.4 407.0,682.1 411.0,685.7 415.0,687.7 419.0,688.7 423.0,686.4 427.0,682.1 433.0,678.8 435.0,677.6 437.0,675.6 439.0,672.8 441.0,668.6 443.0,665.3 445.0,664.5 447.0,666.2 449.0,669.3 451.0,672.7 453.0,675.3 455.5,677.2 M115.5,680.8 140.8,680.8 184.0,680.3 216.3,680.8 244.0,681.1 255.0,680.3 259.0,679.9 263.0,679.5 267.0,679.3 271.0,679.2 275.0,679.4 279.0,679.8 283.0,680.4 287.0,681.8 291.0,683.9 295.0,684.5 299.0,683.9 303.0,682.8 307.0,681.0 311.0,679.9 315.0,680.0 319.0,680.2 323.0,680.8 327.0,681.4 331.0,680.8 335.0,680.8 339.0,681.2 343.0,679.2 347.0,677.4 351.0,677.5 355.0,678.0 359.0,678.8 363.0,679.8 367.0,680.4 371.0,680.8 375.0,680.6 379.0,679.2 383.0,676.5 387.0,673.1 391.0,671.4 395.0,673.1 399.0,672.4 403.0,672.0 407.0,676.4 411.0,680.8 415.0,683.7 419.0,685.8 423.0,684.5 427.0,681.3 433.0,679.8 435.0,679.2 437.0,677.8 439.0,675.5 441.0,671.7 443.0,668.9 445.0,668.6 447.0,671.0 449.0,674.7 451.0,678.7 453.0,681.8 455.5,684.2 M115.5,681.7 130.5,681.7 184.7,681.3 219.4,681.9 250.4,681.7 255.0,681.3 259.0,681.0 263.0,680.7 267.0,680.5 271.0,680.4 275.0,680.4 279.0,680.6 283.0,680.9 287.0,681.7 291.0,683.1 295.0,683.3 299.0,682.9 303.0,682.0 307.0,680.7 311.0,679.9 315.0,679.9 319.0,680.0 323.0,680.4 327.0,680.9 331.0,680.6 335.0,680.7 339.0,681.1 343.0,680.0 347.0,679.0 351.0,679.3 355.0,679.9 359.0,680.8 363.0,681.9 367.0,682.6 371.0,683.2 375.0,683.5 379.0,682.8 383.0,681.3 387.0,679.2 391.0,678.3 395.0,679.7 399.0,679.4 403.0,679.2 407.0,682.2 411.0,685.2 415.0,687.2 419.0,688.5 423.0,687.5 427.0,685.0 433.0,683.6 435.0,683.1 437.0,682.0 439.0,680.3 441.0,677.6 443.0,675.5 445.0,675.1 447.0,676.6 449.0,678.9 451.0,681.5 453.0,683.5 455.5,684.9 M115.5,682.2 139.0,682.3 173.8,681.9 213.3,682.3 243.1,682.7 255.0,681.6 259.0,681.0 263.0,680.4 267.0,680.0 271.0,679.9 275.0,680.0 279.0,680.4 283.0,681.1 287.0,682.7 291.0,685.3 295.0,686.0 299.0,685.3 303.0,683.8 307.0,681.6 311.0,680.3 315.0,680.5 319.0,681.1 323.0,682.0 327.0,683.1 331.0,682.7 335.0,683.2 339.0,684.2 343.0,682.1 347.0,680.3 351.0,680.9 355.0,682.0 359.0,683.6 363.0,685.4 367.0,686.6 371.0,687.4 375.0,687.5 379.0,685.8 383.0,682.5 387.0,678.1 391.0,675.8 395.0,677.7 399.0,676.4 403.0,675.4 407.0,680.4 411.0,685.4 415.0,688.4 419.0,690.2 423.0,687.7 427.0,682.6 433.0,679.4 435.0,678.2 437.0,676.1 439.0,672.7 441.0,667.5 443.0,663.6 445.0,662.9 447.0,665.7 449.0,670.3 451.0,675.2 453.0,679.0 455.5,681.9 M115.5,682.5 149.4,682.6 177.7,682.5 214.2,682.5 239.4,682.7 255.0,682.3 259.0,682.2 263.0,682.0 267.0,681.9 271.0,681.9 275.0,682.0 279.0,682.2 283.0,682.5 287.0,683.1 291.0,684.0 295.0,684.3 299.0,684.2 303.0,683.8 307.0,683.1 311.0,682.8 315.0,682.9 319.0,683.1 323.0,683.4 327.0,683.7 331.0,683.5 335.0,683.5 339.0,683.7 343.0,682.9 347.0,682.2 351.0,682.2 355.0,682.4 359.0,682.6 363.0,683.0 367.0,683.2 371.0,683.3 375.0,683.2 379.0,682.5 383.0,681.4 387.0,679.9 391.0,679.2 395.0,679.8 399.0,679.4 403.0,679.2 407.0,680.9 411.0,682.6 415.0,683.7 419.0,684.5 423.0,683.9 427.0,682.5 433.0,681.8 435.0,681.5 437.0,680.9 439.0,680.0 441.0,678.4 443.0,677.2 445.0,677.1 447.0,678.0 449.0,679.5 451.0,681.0 453.0,682.2 455.5,683.1 M115.5,683.6 151.5,683.6 178.0,683.4 217.7,683.6 241.1,683.7 255.0,683.4 259.0,683.2 263.0,683.0 267.0,682.9 271.0,682.9 275.0,683.0 279.0,683.1 283.0,683.4 287.0,683.9 291.0,684.7 295.0,684.9 299.0,684.7 303.0,684.3 307.0,683.6 311.0,683.2 315.0,683.2 319.0,683.4 323.0,683.7 327.0,684.0 331.0,683.8 335.0,683.9 339.0,684.1 343.0,683.4 347.0,682.8 351.0,682.9 355.0,683.1 359.0,683.5 363.0,684.0 367.0,684.3 371.0,684.5 375.0,684.5 379.0,683.9 383.0,682.8 387.0,681.4 391.0,680.7 395.0,681.4 399.0,681.0 403.0,680.7 407.0,682.4 411.0,684.0 415.0,685.1 419.0,685.8 423.0,685.2 427.0,683.7 433.0,683.0 435.0,682.7 437.0,682.1 439.0,681.2 441.0,679.7 443.0,678.6 445.0,678.4 447.0,679.4 449.0,680.8 451.0,682.5 453.0,683.7 455.5,684.7 M115.5,684.2 156.5,684.1 184.0,683.7 227.4,684.7 239.0,684.7 255.0,683.9 259.0,683.6 263.0,683.2 267.0,683.0 271.0,682.9 275.0,683.0 279.0,683.2 283.0,683.6 287.0,684.6 291.0,686.2 295.0,686.5 299.0,686.0 303.0,685.0 307.0,683.5 311.0,682.5 315.0,682.5 319.0,682.8 323.0,683.2 327.0,683.8 331.0,683.5 335.0,683.6 339.0,684.2 343.0,682.9 347.0,681.8 351.0,682.2 355.0,683.0 359.0,684.0 363.0,685.3 367.0,686.2 371.0,687.0 375.0,687.2 379.0,686.4 383.0,684.6 387.0,682.0 391.0,680.8 395.0,682.3 399.0,681.6 403.0,681.2 407.0,684.5 411.0,687.6 415.0,689.5 419.0,690.6 423.0,689.0 427.0,685.7 433.0,683.3 435.0,682.4 437.0,680.9 439.0,678.7 441.0,675.2 443.0,672.6 445.0,672.0 447.0,673.6 449.0,676.2 451.0,679.1 453.0,681.4 455.5,683.0 M115.5,684.6 134.1,684.7 191.6,684.3 216.4,684.8 247.6,684.8 255.0,684.3 259.0,683.9 263.0,683.5 267.0,683.3 271.0,683.1 275.0,683.3 279.0,683.5 283.0,684.0 287.0,685.1 291.0,686.9 295.0,687.3 299.0,686.9 303.0,685.9 307.0,684.4 311.0,683.5 315.0,683.6 319.0,683.9 323.0,684.5 327.0,685.2 331.0,684.9 335.0,685.1 339.0,685.8 343.0,684.3 347.0,683.1 351.0,683.5 355.0,684.2 359.0,685.3 363.0,686.5 367.0,687.4 371.0,688.1 375.0,688.2 379.0,687.3 383.0,685.2 387.0,682.5 391.0,681.2 395.0,682.8 399.0,682.1 403.0,681.8 407.0,685.4 411.0,688.9 415.0,691.2 419.0,692.5 423.0,691.0 427.0,687.7 433.0,685.5 435.0,684.7 437.0,683.1 439.0,680.8 441.0,677.2 443.0,674.4 445.0,673.8 447.0,675.5 449.0,678.3 451.0,681.4 453.0,683.7 455.5,685.3 M115.5,688.9 141.8,688.8 174.6,688.3 227.4,689.2 238.5,689.2 255.0,688.2 259.0,687.7 263.0,687.2 267.0,686.9 271.0,686.8 275.0,686.9 279.0,687.3 283.0,687.9 287.0,689.3 291.0,691.6 295.0,692.2 299.0,691.6 303.0,690.4 307.0,688.4 311.0,687.4 315.0,687.5 319.0,688.0 323.0,688.8 327.0,689.7 331.0,689.3 335.0,689.6 339.0,690.4 343.0,688.6 347.0,687.0 351.0,687.4 355.0,688.4 359.0,689.7 363.0,691.2 367.0,692.2 371.0,692.9 375.0,692.9 379.0,691.5 383.0,688.6 387.0,684.8 391.0,682.9 395.0,684.6 399.0,683.5 403.0,682.7 407.0,687.1 411.0,691.3 415.0,693.9 419.0,695.5 423.0,693.5 427.0,689.1 433.0,686.4 435.0,685.4 437.0,683.5 439.0,680.6 441.0,676.1 443.0,672.8 445.0,672.2 447.0,674.6 449.0,678.4 451.0,682.6 453.0,685.9 455.5,688.3 M115.5,689.9 155.1,689.9 195.0,689.2 225.4,690.0 250.6,689.5 255.0,689.1 259.0,688.6 263.0,688.2 267.0,688.0 271.0,687.8 275.0,687.9 279.0,688.3 283.0,688.8 287.0,690.0 291.0,692.0 295.0,692.5 299.0,692.1 303.0,691.1 307.0,689.6 311.0,688.7 315.0,688.9 319.0,689.4 323.0,690.1 327.0,690.9 331.0,690.7 335.0,690.9 339.0,691.6 343.0,690.0 347.0,688.7 351.0,688.9 355.0,689.6 359.0,690.5 363.0,691.6 367.0,692.3 371.0,692.7 375.0,692.4 379.0,691.0 383.0,688.4 387.0,685.0 391.0,683.2 395.0,684.4 399.0,683.3 403.0,682.6 407.0,686.1 411.0,689.7 415.0,691.9 419.0,693.4 423.0,691.8 427.0,688.4 433.0,686.6 435.0,686.0 437.0,684.7 439.0,682.5 441.0,679.0 443.0,676.4 445.0,676.2 447.0,678.4 449.0,682.0 451.0,685.8 453.0,688.7 455.5,691.1 M115.5,692.8 155.6,692.6 195.4,692.2 229.3,693.2 245.3,693.0 255.0,692.3 259.0,691.8 263.0,691.4 267.0,691.2 271.0,691.0 275.0,691.1 279.0,691.4 283.0,691.9 287.0,693.0 291.0,694.9 295.0,695.4 299.0,694.8 303.0,693.6 307.0,691.9 311.0,691.0 315.0,691.0 319.0,691.4 323.0,692.1 327.0,692.8 331.0,692.5 335.0,692.8 339.0,693.5 343.0,692.0 347.0,690.8 351.0,691.2 355.0,692.1 359.0,693.4 363.0,694.8 367.0,695.8 371.0,696.5 375.0,696.7 379.0,695.6 383.0,693.3 387.0,690.2 391.0,688.7 395.0,690.3 399.0,689.4 403.0,688.8 407.0,692.6 411.0,696.3 415.0,698.6 419.0,699.9 423.0,698.1 427.0,694.4 433.0,692.0 435.0,691.1 437.0,689.5 439.0,687.0 441.0,683.1 443.0,680.2 445.0,679.7 447.0,681.7 449.0,684.9 451.0,688.5 453.0,691.3 455.5,693.3 M115.5,693.2 140.4,693.2 196.1,692.8 214.9,693.5 244.3,693.9 255.0,692.9 259.0,692.3 263.0,691.8 267.0,691.5 271.0,691.3 275.0,691.4 279.0,691.7 283.0,692.3 287.0,693.7 291.0,696.0 295.0,696.5 299.0,695.7 303.0,694.2 307.0,691.9 311.0,690.6 315.0,690.5 319.0,690.8 323.0,691.5 327.0,692.3 331.0,691.8 335.0,692.0 339.0,692.7 343.0,690.7 347.0,689.0 351.0,689.5 355.0,690.6 359.0,692.1 363.0,693.9 367.0,695.2 371.0,696.3 375.0,696.6 379.0,695.5 383.0,692.8 387.0,689.2 391.0,687.5 395.0,689.8 399.0,689.0 403.0,688.6 407.0,693.7 411.0,698.6 415.0,701.7 419.0,703.7 423.0,701.7 427.0,697.2 433.0,694.4 435.0,693.4 437.0,691.4 439.0,688.3 441.0,683.4 443.0,679.7 445.0,679.0 447.0,681.4 449.0,685.4 451.0,689.8 453.0,693.1 455.5,695.5 M115.5,693.6 156.0,693.6 183.2,693.3 217.4,693.8 243.9,694.0 255.0,693.4 259.0,693.1 263.0,692.8 267.0,692.6 271.0,692.5 275.0,692.6 279.0,692.9 283.0,693.3 287.0,694.2 291.0,695.7 295.0,696.1 299.0,695.7 303.0,694.8 307.0,693.4 311.0,692.6 315.0,692.6 319.0,692.8 323.0,693.2 327.0,693.7 331.0,693.3 335.0,693.4 339.0,693.8 343.0,692.4 347.0,691.1 351.0,691.3 355.0,691.8 359.0,692.5 363.0,693.4 367.0,694.0 371.0,694.4 375.0,694.4 379.0,693.5 383.0,691.6 387.0,689.2 391.0,688.0 395.0,689.4 399.0,688.8 403.0,688.6 407.0,691.8 411.0,695.0 415.0,697.1 419.0,698.6 423.0,697.6 427.0,695.0 433.0,693.7 435.0,693.2 437.0,692.1 439.0,690.4 441.0,687.5 443.0,685.4 445.0,685.1 447.0,686.8 449.0,689.5 451.0,692.4 453.0,694.6 455.5,696.3 M115.5,694.2 158.5,694.2 177.4,694.0 217.0,694.4 240.4,694.5 255.0,693.6 259.0,693.2 263.0,692.8 267.0,692.5 271.0,692.3 275.0,692.3 279.0,692.5 283.0,692.8 287.0,693.8 291.0,695.3 295.0,695.7 299.0,695.2 303.0,694.3 307.0,692.9 311.0,692.2 315.0,692.4 319.0,692.8 323.0,693.6 327.0,694.4 331.0,694.4 335.0,694.9 339.0,695.8 343.0,694.8 347.0,693.9 351.0,694.6 355.0,695.6 359.0,696.8 363.0,698.1 367.0,699.1 371.0,699.8 375.0,699.9 379.0,698.9 383.0,696.8 387.0,693.9 391.0,692.3 395.0,693.3 399.0,692.2 403.0,691.2 407.0,693.9 411.0,696.5 415.0,697.8 419.0,698.4 423.0,696.3 427.0,692.6 433.0,689.7 435.0,688.8 437.0,687.1 439.0,684.8 441.0,681.4 443.0,678.8 445.0,678.2 447.0,679.9 449.0,682.6 451.0,685.7 453.0,688.0 455.5,689.8 M115.5,694.6 131.2,694.5 186.5,694.3 221.7,694.8 245.4,694.8 255.0,694.3 259.0,694.0 263.0,693.8 267.0,693.6 271.0,693.6 275.0,693.6 279.0,693.8 283.0,694.1 287.0,694.9 291.0,696.1 295.0,696.4 299.0,696.1 303.0,695.5 307.0,694.5 311.0,693.9 315.0,694.0 319.0,694.3 323.0,694.7 327.0,695.2 331.0,695.0 335.0,695.2 339.0,695.6 343.0,694.6 347.0,693.8 351.0,693.9 355.0,694.4 359.0,695.0 363.0,695.7 367.0,696.2 371.0,696.5 375.0,696.4 379.0,695.7 383.0,694.1 387.0,692.1 391.0,691.1 395.0,691.9 399.0,691.4 403.0,691.0 407.0,693.3 411.0,695.6 415.0,697.1 419.0,698.0 423.0,697.1 427.0,695.0 433.0,693.8 435.0,693.4 437.0,692.5 439.0,691.1 441.0,688.9 443.0,687.2 445.0,687.0 447.0,688.3 449.0,690.4 451.0,692.7 453.0,694.5 455.5,695.8 M115.5,699.5 137.0,699.5 182.0,699.2 220.3,700.0 247.1,699.9 255.0,699.4 259.0,699.0 263.0,698.6 267.0,698.4 271.0,698.3 275.0,698.4 279.0,698.7 283.0,699.2 287.0,700.2 291.0,702.0 295.0,702.4 299.0,702.0 303.0,701.1 307.0,699.7 311.0,698.9 315.0,699.0 319.0,699.4 323.0,700.1 327.0,700.9 331.0,700.7 335.0,701.0 339.0,701.7 343.0,700.4 347.0,699.3 351.0,699.7 355.0,700.5 359.0,701.5 363.0,702.7 367.0,703.5 371.0,704.0 375.0,704.0 379.0,702.9 383.0,700.7 387.0,697.8 391.0,696.2 395.0,697.4 399.0,696.4 403.0,695.7 407.0,698.8 411.0,701.8 415.0,703.6 419.0,704.6 423.0,702.9 427.0,699.4 433.0,697.0 435.0,696.2 437.0,694.6 439.0,692.4 441.0,688.9 443.0,686.3 445.0,685.7 447.0,687.5 449.0,690.4 451.0,693.5 453.0,695.9 455.5,697.7 M115.5,700.8 143.1,700.7 194.4,700.2 223.4,700.9 246.5,700.8 255.0,700.3 259.0,700.0 263.0,699.7 267.0,699.5 271.0,699.5 275.0,699.5 279.0,699.7 283.0,700.1 287.0,700.9 291.0,702.3 295.0,702.6 299.0,702.2 303.0,701.3 307.0,700.0 311.0,699.3 315.0,699.3 319.0,699.5 323.0,699.9 327.0,700.3 331.0,700.0 335.0,700.2 339.0,700.6 343.0,699.5 347.0,698.5 351.0,698.8 355.0,699.5 359.0,700.4 363.0,701.5 367.0,702.3 371.0,703.0 375.0,703.3 379.0,702.7 383.0,701.2 387.0,699.1 391.0,698.2 395.0,699.6 399.0,699.2 403.0,699.0 407.0,701.9 411.0,704.8 415.0,706.6 419.0,707.6 423.0,706.4 427.0,703.7 433.0,701.8 435.0,701.1 437.0,699.8 439.0,697.9 441.0,694.9 443.0,692.7 445.0,692.1 447.0,693.4 449.0,695.6 451.0,698.0 453.0,699.8 455.5,701.0 M115.5,701.7 140.2,701.7 174.9,701.5 226.1,702.0 242.1,701.9 255.0,701.4 259.0,701.1 263.0,700.8 267.0,700.6 271.0,700.6 275.0,700.6 279.0,700.8 283.0,701.1 287.0,701.8 291.0,703.0 295.0,703.3 299.0,703.0 303.0,702.2 307.0,701.2 311.0,700.6 315.0,700.6 319.0,700.8 323.0,701.2 327.0,701.7 331.0,701.5 335.0,701.6 339.0,702.0 343.0,701.0 347.0,700.2 351.0,700.4 355.0,701.0 359.0,701.7 363.0,702.5 367.0,703.1 371.0,703.5 375.0,703.5 379.0,702.8 383.0,701.3 387.0,699.3 391.0,698.3 395.0,699.3 399.0,698.7 403.0,698.3 407.0,700.6 411.0,702.9 415.0,704.4 419.0,705.2 423.0,704.1 427.0,701.7 433.0,700.2 435.0,699.6 437.0,698.6 439.0,697.1 441.0,694.6 443.0,692.8 445.0,692.4 447.0,693.7 449.0,695.8 451.0,698.0 453.0,699.7 455.5,701.0 M115.5,703.7 158.3,703.6 185.4,703.0 229.1,704.4 244.1,704.2 255.0,703.3 259.0,702.7 263.0,702.2 267.0,701.9 271.0,701.8 275.0,701.9 279.0,702.3 283.0,703.0 287.0,704.5 291.0,706.9 295.0,707.5 299.0,706.8 303.0,705.3 307.0,703.2 311.0,701.9 315.0,701.9 319.0,702.3 323.0,703.0 327.0,703.8 331.0,703.3 335.0,703.6 339.0,704.4 343.0,702.3 347.0,700.6 351.0,701.0 355.0,702.1 359.0,703.6 363.0,705.4 367.0,706.7 371.0,707.8 375.0,708.1 379.0,706.9 383.0,704.2 387.0,700.5 391.0,698.8 395.0,701.2 399.0,700.4 403.0,700.0 407.0,705.2 411.0,710.2 415.0,713.4 419.0,715.4 423.0,713.4 427.0,708.8 433.0,705.8 435.0,704.7 437.0,702.6 439.0,699.4 441.0,694.4 443.0,690.6 445.0,689.7 447.0,692.1 449.0,696.1 451.0,700.4 453.0,703.7 455.5,706.0 M115.5,704.7 159.7,704.7 199.9,704.4 223.8,705.1 243.9,705.1 255.0,704.5 259.0,704.1 263.0,703.8 267.0,703.7 271.0,703.6 275.0,703.8 279.0,704.0 283.0,704.5 287.0,705.5 291.0,707.1 295.0,707.4 299.0,706.9 303.0,705.9 307.0,704.4 311.0,703.5 315.0,703.4 319.0,703.5 323.0,703.9 327.0,704.3 331.0,703.8 335.0,703.7 339.0,704.1 343.0,702.5 347.0,701.2 351.0,701.4 355.0,701.9 359.0,702.7 363.0,703.8 367.0,704.5 371.0,705.1 375.0,705.2 379.0,704.4 383.0,702.6 387.0,700.2 391.0,699.1 395.0,700.7 399.0,700.2 403.0,700.0 407.0,703.5 411.0,706.8 415.0,709.0 419.0,710.4 423.0,709.1 427.0,706.2 433.0,704.3 435.0,703.6 437.0,702.2 439.0,700.1 441.0,696.9 443.0,694.4 445.0,693.9 447.0,695.4 449.0,698.0 451.0,700.8 453.0,703.0 455.5,704.5 M115.5,707.7 129.5,707.7 190.3,707.3 213.2,707.5 244.1,707.7 255.0,707.3 259.0,707.1 263.0,706.9 267.0,706.8 271.0,706.7 275.0,706.8 279.0,706.9 283.0,707.2 287.0,707.8 291.0,708.8 295.0,709.1 299.0,708.8 303.0,708.3 307.0,707.5 311.0,707.0 315.0,707.1 319.0,707.3 323.0,707.7 327.0,708.0 331.0,707.9 335.0,708.0 339.0,708.4 343.0,707.6 347.0,706.9 351.0,707.1 355.0,707.5 359.0,708.1 363.0,708.7 367.0,709.1 371.0,709.4 375.0,709.4 379.0,708.8 383.0,707.5 387.0,705.9 391.0,705.1 395.0,705.9 399.0,705.4 403.0,705.1 407.0,707.1 411.0,709.0 415.0,710.2 419.0,711.1 423.0,710.3 427.0,708.6 433.0,707.7 435.0,707.4 437.0,706.7 439.0,705.6 441.0,703.7 443.0,702.4 445.0,702.2 447.0,703.3 449.0,705.1 451.0,707.0 453.0,708.5 455.5,709.7 M115.5,713.6 144.8,713.5 191.1,713.3 210.1,713.5 244.0,713.8 255.0,713.4 259.0,713.2 263.0,712.9 267.0,712.8 271.0,712.8 275.0,712.9 279.0,713.1 283.0,713.5 287.0,714.2 291.0,715.4 295.0,715.7 299.0,715.5 303.0,714.9 307.0,714.0 311.0,713.4 315.0,713.5 319.0,713.8 323.0,714.2 327.0,714.6 331.0,714.4 335.0,714.5 339.0,714.8 343.0,713.8 347.0,712.9 351.0,713.0 355.0,713.3 359.0,713.8 363.0,714.4 367.0,714.8 371.0,715.0 375.0,714.8 379.0,714.0 383.0,712.4 387.0,710.3 391.0,709.2 395.0,710.0 399.0,709.4 403.0,708.9 407.0,711.1 411.0,713.2 415.0,714.6 419.0,715.4 423.0,714.5 427.0,712.4 433.0,711.2 435.0,710.8 437.0,709.9 439.0,708.6 441.0,706.4 443.0,704.8 445.0,704.6 447.0,705.9 449.0,707.9 451.0,710.1 453.0,711.9 455.5,713.2 M115.5,714.6 155.2,714.6 190.6,714.3 231.5,715.4 241.2,715.3 255.0,714.3 259.0,713.8 263.0,713.4 267.0,713.1 271.0,713.0 275.0,713.1 279.0,713.4 283.0,713.9 287.0,715.1 291.0,717.0 295.0,717.5 299.0,716.9 303.0,715.7 307.0,713.8 311.0,712.8 315.0,712.8 319.0,713.1 323.0,713.8 327.0,714.5 331.0,714.1 335.0,714.3 339.0,715.0 343.0,713.3 347.0,711.9 351.0,712.3 355.0,713.2 359.0,714.4 363.0,715.9 367.0,716.9 371.0,717.7 375.0,717.9 379.0,716.8 383.0,714.4 387.0,711.3 391.0,709.8 395.0,711.6 399.0,710.9 403.0,710.4 407.0,714.6 411.0,718.7 415.0,721.3 419.0,723.0 423.0,721.3 427.0,717.6 433.0,715.4 435.0,714.6 437.0,712.9 439.0,710.4 441.0,706.4 443.0,703.4 445.0,702.8 447.0,704.9 449.0,708.3 451.0,712.0 453.0,714.9 455.5,717.0 M115.5,715.7 151.5,715.6 197.4,715.4 209.9,715.6 244.6,716.0 255.0,715.4 259.0,715.0 263.0,714.6 267.0,714.4 271.0,714.3 275.0,714.4 279.0,714.6 283.0,715.0 287.0,715.9 291.0,717.4 295.0,717.7 299.0,717.2 303.0,716.3 307.0,714.8 311.0,714.0 315.0,714.0 319.0,714.3 323.0,714.8 327.0,715.3 331.0,715.1 335.0,715.3 339.0,715.8 343.0,714.6 347.0,713.6 351.0,713.9 355.0,714.7 359.0,715.7 363.0,716.9 367.0,717.7 371.0,718.4 375.0,718.6 379.0,717.8 383.0,716.0 387.0,713.6 391.0,712.5 395.0,713.9 399.0,713.3 403.0,712.9 407.0,716.1 411.0,719.2 415.0,721.2 419.0,722.4 423.0,721.1 427.0,718.1 433.0,716.2 435.0,715.5 437.0,714.2 439.0,712.2 441.0,709.1 443.0,706.7 445.0,706.2 447.0,707.8 449.0,710.4 451.0,713.3 453.0,715.4 455.5,717.0 M115.5,716.7 132.3,716.7 193.2,716.2 224.8,716.9 247.0,716.8 255.0,716.3 259.0,716.0 263.0,715.7 267.0,715.5 271.0,715.5 275.0,715.6 279.0,715.8 283.0,716.2 287.0,717.1 291.0,718.5 295.0,718.9 299.0,718.5 303.0,717.7 307.0,716.5 311.0,715.8 315.0,715.9 319.0,716.1 323.0,716.6 327.0,717.1 331.0,716.9 335.0,717.0 339.0,717.5 343.0,716.3 347.0,715.3 351.0,715.6 355.0,716.2 359.0,717.0 363.0,718.0 367.0,718.7 371.0,719.3 375.0,719.4 379.0,718.7 383.0,717.1 387.0,715.0 391.0,714.0 395.0,715.3 399.0,714.8 403.0,714.6 407.0,717.6 411.0,720.5 415.0,722.3 419.0,723.5 423.0,722.3 427.0,719.7 433.0,717.9 435.0,717.3 437.0,716.1 439.0,714.2 441.0,711.3 443.0,709.1 445.0,708.5 447.0,709.8 449.0,712.1 451.0,714.5 453.0,716.3 455.5,717.6 M115.5,722.8 148.7,722.6 169.7,722.4 215.1,722.7 241.9,723.1 255.0,722.3 259.0,721.9 263.0,721.6 267.0,721.4 271.0,721.3 275.0,721.4 279.0,721.7 283.0,722.2 287.0,723.3 291.0,725.1 295.0,725.5 299.0,725.0 303.0,724.0 307.0,722.5 311.0,721.6 315.0,721.7 319.0,722.0 323.0,722.6 327.0,723.2 331.0,722.9 335.0,723.1 339.0,723.7 343.0,722.1 347.0,720.9 351.0,721.1 355.0,721.8 359.0,722.8 363.0,723.9 367.0,724.7 371.0,725.2 375.0,725.2 379.0,724.0 383.0,721.7 387.0,718.7 391.0,717.2 395.0,718.6 399.0,717.7 403.0,717.1 407.0,720.6 411.0,724.0 415.0,726.2 419.0,727.5 423.0,726.0 427.0,722.7 433.0,720.7 435.0,720.0 437.0,718.6 439.0,716.5 441.0,713.0 443.0,710.4 445.0,710.0 447.0,712.0 449.0,715.1 451.0,718.6 453.0,721.2 455.5,723.2 M115.5,723.6 148.0,723.5 178.6,723.3 221.4,724.0 250.3,723.8 255.0,723.5 259.0,723.1 263.0,722.8 267.0,722.7 271.0,722.6 275.0,722.7 279.0,722.9 283.0,723.3 287.0,724.2 291.0,725.7 295.0,726.0 299.0,725.6 303.0,724.8 307.0,723.5 311.0,722.7 315.0,722.7 319.0,723.0 323.0,723.4 327.0,723.9 331.0,723.6 335.0,723.8 339.0,724.3 343.0,723.0 347.0,721.9 351.0,722.2 355.0,722.8 359.0,723.6 363.0,724.5 367.0,725.2 371.0,725.7 375.0,725.7 379.0,724.8 383.0,722.9 387.0,720.5 391.0,719.2 395.0,720.4 399.0,719.7 403.0,719.2 407.0,722.1 411.0,724.8 415.0,726.6 419.0,727.6 423.0,726.2 427.0,723.4 433.0,721.5 435.0,720.9 437.0,719.6 439.0,717.7 441.0,714.7 443.0,712.5 445.0,712.1 447.0,713.6 449.0,716.1 451.0,718.9 453.0,720.9 455.5,722.5 M115.5,730.8 131.8,730.8 170.9,730.5 221.3,731.2 249.4,730.9 255.0,730.2 259.0,729.7 263.0,729.1 267.0,728.8 271.0,728.7 275.0,728.8 279.0,729.2 283.0,729.8 287.0,731.3 291.0,733.8 295.0,734.4 299.0,733.7 303.0,732.2 307.0,730.0 311.0,728.8 315.0,728.8 319.0,729.3 323.0,730.1 327.0,731.0 331.0,730.5 335.0,730.8 339.0,731.6 343.0,729.5 347.0,727.8 351.0,728.2 355.0,729.3 359.0,730.7 363.0,732.4 367.0,733.6 371.0,734.5 375.0,734.6 379.0,733.2 383.0,730.2 387.0,726.2 391.0,724.2 395.0,726.3 399.0,725.3 403.0,724.7 407.0,729.6 411.0,734.5 415.0,737.6 419.0,739.5 423.0,737.5 427.0,732.9 433.0,730.0 435.0,729.0 437.0,727.0 439.0,723.8 441.0,718.9 443.0,715.2 445.0,714.6 447.0,717.1 449.0,721.4 451.0,726.0 453.0,729.5 455.5,732.1 M115.5,731.3 129.2,731.2 169.4,731.0 230.2,731.7 244.9,731.6 255.0,730.9 259.0,730.5 263.0,730.2 267.0,730.0 271.0,729.9 275.0,729.9 279.0,730.2 283.0,730.6 287.0,731.6 291.0,733.3 295.0,733.6 299.0,733.1 303.0,732.0 307.0,730.5 311.0,729.6 315.0,729.5 319.0,729.7 323.0,730.2 327.0,730.7 331.0,730.3 335.0,730.4 339.0,730.9 343.0,729.4 347.0,728.1 351.0,728.4 355.0,729.0 359.0,730.0 363.0,731.1 367.0,731.9 371.0,732.5 375.0,732.6 379.0,731.7 383.0,729.7 387.0,727.1 391.0,725.8 395.0,727.4 399.0,726.8 403.0,726.5 407.0,730.0 411.0,733.5 415.0,735.8 419.0,737.2 423.0,736.0 427.0,733.0 433.0,731.3 435.0,730.6 437.0,729.3 439.0,727.2 441.0,724.0 443.0,721.5 445.0,721.1 447.0,722.9 449.0,725.8 451.0,728.9 453.0,731.4 455.5,733.2 M115.5,731.6 140.5,731.6 189.7,731.4 208.5,731.6 242.6,732.0 255.0,731.3 259.0,730.9 263.0,730.6 267.0,730.4 271.0,730.3 275.0,730.4 279.0,730.7 283.0,731.1 287.0,732.1 291.0,733.7 295.0,734.1 299.0,733.7 303.0,732.9 307.0,731.6 311.0,730.9 315.0,731.1 319.0,731.4 323.0,731.9 327.0,732.5 331.0,732.2 335.0,732.4 339.0,732.8 343.0,731.5 347.0,730.2 351.0,730.3 355.0,730.8 359.0,731.4 363.0,732.2 367.0,732.7 371.0,732.9 375.0,732.6 379.0,731.4 383.0,729.2 387.0,726.4 391.0,724.9 395.0,726.0 399.0,725.1 403.0,724.6 407.0,727.6 411.0,730.6 415.0,732.6 419.0,733.9 423.0,732.8 427.0,730.2 433.0,728.9 435.0,728.5 437.0,727.4 439.0,725.7 441.0,722.9 443.0,720.8 445.0,720.7 447.0,722.5 449.0,725.4 451.0,728.6 453.0,731.0 455.5,732.9 M115.5,732.7 151.9,732.6 189.7,732.2 222.1,732.9 243.6,732.9 255.0,732.3 259.0,731.9 263.0,731.6 267.0,731.4 271.0,731.3 275.0,731.4 279.0,731.6 283.0,732.0 287.0,733.0 291.0,734.6 295.0,735.0 299.0,734.6 303.0,733.7 307.0,732.3 311.0,731.6 315.0,731.7 319.0,732.0 323.0,732.5 327.0,733.2 331.0,732.9 335.0,733.2 339.0,733.8 343.0,732.5 347.0,731.5 351.0,731.8 355.0,732.5 359.0,733.5 363.0,734.6 367.0,735.4 371.0,735.9 375.0,736.0 379.0,735.1 383.0,733.2 387.0,730.6 391.0,729.4 395.0,730.6 399.0,729.9 403.0,729.4 407.0,732.5 411.0,735.5 415.0,737.3 419.0,738.4 423.0,737.0 427.0,734.0 433.0,732.0 435.0,731.2 437.0,729.9 439.0,727.9 441.0,724.7 443.0,722.3 445.0,721.8 447.0,723.4 449.0,726.0 451.0,728.9 453.0,731.1 455.5,732.7 M115.5,736.6 151.7,736.6 181.2,736.3 228.7,737.0 250.7,736.6 255.0,736.3 259.0,736.0 263.0,735.8 267.0,735.6 271.0,735.5 275.0,735.6 279.0,735.8 283.0,736.1 287.0,736.9 291.0,738.2 295.0,738.5 299.0,738.2 303.0,737.5 307.0,736.4 311.0,735.8 315.0,735.9 319.0,736.1 323.0,736.6 327.0,737.1 331.0,736.9 335.0,737.1 339.0,737.6 343.0,736.6 347.0,735.7 351.0,736.0 355.0,736.5 359.0,737.3 363.0,738.1 367.0,738.7 371.0,739.1 375.0,739.1 379.0,738.3 383.0,736.6 387.0,734.5 391.0,733.3 395.0,734.3 399.0,733.6 403.0,733.1 407.0,735.6 411.0,737.9 415.0,739.4 419.0,740.2 423.0,739.0 427.0,736.5 433.0,734.9 435.0,734.3 437.0,733.2 439.0,731.6 441.0,729.0 443.0,727.1 445.0,726.8 447.0,728.1 449.0,730.4 451.0,732.8 453.0,734.6 455.5,736.0 M115.5,741.6 155.9,741.7 196.0,741.2 212.7,741.6 241.5,742.2 255.0,741.3 259.0,740.8 263.0,740.4 267.0,740.1 271.0,740.1 275.0,740.2 279.0,740.6 283.0,741.2 287.0,742.6 291.0,744.9 295.0,745.4 299.0,744.9 303.0,743.7 307.0,741.8 311.0,740.7 315.0,740.8 319.0,741.1 323.0,741.7 327.0,742.4 331.0,741.9 335.0,742.0 339.0,742.5 343.0,740.6 347.0,738.9 351.0,739.0 355.0,739.7 359.0,740.8 363.0,742.1 367.0,742.9 371.0,743.5 375.0,743.5 379.0,742.2 383.0,739.5 387.0,736.1 391.0,734.4 395.0,736.4 399.0,735.6 403.0,735.2 407.0,739.8 411.0,744.3 415.0,747.3 419.0,749.3 423.0,747.8 427.0,744.1 433.0,742.0 435.0,741.2 437.0,739.6 439.0,737.0 441.0,732.8 443.0,729.7 445.0,729.1 447.0,731.4 449.0,735.1 451.0,739.1 453.0,742.2 455.5,744.4 M115.5,742.7 143.6,742.6 194.3,742.2 223.2,743.3 239.1,743.4 255.0,742.4 259.0,741.9 263.0,741.5 267.0,741.2 271.0,741.1 275.0,741.2 279.0,741.5 283.0,742.0 287.0,743.3 291.0,745.4 295.0,745.9 299.0,745.2 303.0,743.8 307.0,741.8 311.0,740.6 315.0,740.6 319.0,740.8 323.0,741.4 327.0,742.1 331.0,741.6 335.0,741.7 339.0,742.3 343.0,740.4 347.0,738.9 351.0,739.2 355.0,740.1 359.0,741.3 363.0,742.8 367.0,743.9 371.0,744.7 375.0,744.8 379.0,743.7 383.0,741.2 387.0,737.8 391.0,736.2 395.0,738.2 399.0,737.4 403.0,737.0 407.0,741.5 411.0,746.0 415.0,748.9 419.0,750.7 423.0,749.1 427.0,745.2 433.0,743.1 435.0,742.3 437.0,740.6 439.0,738.0 441.0,733.8 443.0,730.7 445.0,730.2 447.0,732.5 449.0,736.3 451.0,740.4 453.0,743.5 455.5,745.9 M115.5,744.5 149.5,744.5 185.3,744.3 211.7,744.6 246.9,744.8 255.0,744.3 259.0,744.0 263.0,743.7 267.0,743.5 271.0,743.4 275.0,743.5 279.0,743.8 283.0,744.2 287.0,745.1 291.0,746.6 295.0,747.0 299.0,746.6 303.0,745.8 307.0,744.6 311.0,743.9 315.0,744.0 319.0,744.3 323.0,744.9 327.0,745.5 331.0,745.2 335.0,745.4 339.0,746.0 343.0,744.8 347.0,743.8 351.0,744.1 355.0,744.7 359.0,745.5 363.0,746.5 367.0,747.1 371.0,747.6 375.0,747.6 379.0,746.7 383.0,744.8 387.0,742.4 391.0,741.2 395.0,742.3 399.0,741.7 403.0,741.2 407.0,744.0 411.0,746.8 415.0,748.5 419.0,749.6 423.0,748.3 427.0,745.5 433.0,743.8 435.0,743.1 437.0,741.9 439.0,740.1 441.0,737.2 443.0,735.0 445.0,734.6 447.0,736.0 449.0,738.5 451.0,741.2 453.0,743.2 455.5,744.7 M115.5,745.9 151.9,745.7 182.3,745.1 212.9,745.6 241.2,746.3 255.0,745.3 259.0,744.8 263.0,744.3 267.0,744.0 271.0,743.9 275.0,744.1 279.0,744.4 283.0,745.0 287.0,746.5 291.0,748.8 295.0,749.4 299.0,748.7 303.0,747.3 307.0,745.2 311.0,744.0 315.0,744.0 319.0,744.4 323.0,745.1 327.0,745.9 331.0,745.5 335.0,745.8 339.0,746.6 343.0,744.7 347.0,743.1 351.0,743.6 355.0,744.7 359.0,746.2 363.0,747.9 367.0,749.1 371.0,750.1 375.0,750.3 379.0,749.1 383.0,746.3 387.0,742.7 391.0,740.8 395.0,742.8 399.0,741.8 403.0,741.1 407.0,745.7 411.0,750.2 415.0,752.9 419.0,754.4 423.0,752.0 427.0,747.3 433.0,743.9 435.0,742.7 437.0,740.5 439.0,737.4 441.0,732.5 443.0,728.7 445.0,727.9 447.0,730.1 449.0,733.9 451.0,738.1 453.0,741.3 455.5,743.6 M115.5,746.7 158.9,746.5 185.6,746.1 211.6,746.7 240.8,747.3 255.0,746.2 259.0,745.7 263.0,745.2 267.0,744.9 271.0,744.7 275.0,744.8 279.0,745.1 283.0,745.6 287.0,747.0 291.0,749.2 295.0,749.7 299.0,749.1 303.0,747.8 307.0,745.9 311.0,744.9 315.0,745.1 319.0,745.6 323.0,746.4 327.0,747.4 331.0,747.2 335.0,747.6 339.0,748.6 343.0,746.9 347.0,745.6 351.0,746.2 355.0,747.3 359.0,748.7 363.0,750.4 367.0,751.5 371.0,752.3 375.0,752.4 379.0,751.1 383.0,748.3 387.0,744.6 391.0,742.6 395.0,744.3 399.0,743.1 403.0,742.2 407.0,746.3 411.0,750.3 415.0,752.8 419.0,754.2 423.0,752.0 427.0,747.7 433.0,744.8 435.0,743.8 437.0,742.0 439.0,739.1 441.0,734.7 443.0,731.4 445.0,730.9 447.0,733.2 449.0,737.0 451.0,741.2 453.0,744.4 455.5,746.8 M115.5,753.6 156.6,753.6 174.5,753.3 209.7,753.6 245.3,754.2 255.0,753.5 259.0,753.0 263.0,752.7 267.0,752.4 271.0,752.3 275.0,752.5 279.0,752.8 283.0,753.3 287.0,754.5 291.0,756.4 295.0,756.8 299.0,756.3 303.0,755.1 307.0,753.4 311.0,752.3 315.0,752.3 319.0,752.6 323.0,753.1 327.0,753.7 331.0,753.2 335.0,753.3 339.0,753.8 343.0,752.1 347.0,750.7 351.0,750.9 355.0,751.6 359.0,752.7 363.0,753.9 367.0,754.8 371.0,755.5 375.0,755.6 379.0,754.5 383.0,752.3 387.0,749.3 391.0,747.9 395.0,749.7 399.0,749.1 403.0,748.7 407.0,752.8 411.0,756.7 415.0,759.3 419.0,761.0 423.0,759.5 427.0,756.1 433.0,754.0 435.0,753.2 437.0,751.7 439.0,749.3 441.0,745.5 443.0,742.6 445.0,742.0 447.0,744.0 449.0,747.2 451.0,750.6 453.0,753.3 455.5,755.2"/>
</g>
<rect x="115.5" y="157.5" width="340.0" height="624.0" fill="none" stroke="#000" stroke-width="1"/>
<text x="112.9" y="809.6" font-size="18.90" text-anchor="middle">-20</text>
<text x="180.9" y="809.6" font-size="18.90" text-anchor="middle">-10</text>
<text x="251.5" y="809.6" font-size="18.90" text-anchor="middle">0</text>
<text x="319.5" y="809.6" font-size="18.90" text-anchor="middle">10</text>
<text x="387.5" y="809.6" font-size="18.90" text-anchor="middle">20</text>
<text x="455.5" y="809.6" font-size="18.90" text-anchor="middle">30</text>
<text x="108.5" y="217.5" font-size="18.90" text-anchor="end">68</text>
<text x="108.5" y="302.8" font-size="18.90" text-anchor="end">66</text>
<text x="108.5" y="388.2" font-size="18.90" text-anchor="end">64</text>
<text x="108.5" y="473.5" font-size="18.90" text-anchor="end">62</text>
<text x="108.5" y="558.8" font-size="18.90" text-anchor="end">60</text>
<text x="108.5" y="644.1" font-size="18.90" text-anchor="end">58</text>
<text x="108.5" y="729.5" font-size="18.90" text-anchor="end">56</text>
<path d="M183.5,157.5 v6 M183.5,781.5 v-6 M251.5,157.5 v6 M251.5,781.5 v-6 M319.5,157.5 v6 M319.5,781.5 v-6 M387.5,157.5 v6 M387.5,781.5 v-6 M115.5,210.5 h6 M455.5,210.5 h-6 M115.5,295.8 h6 M455.5,295.8 h-6 M115.5,381.2 h6 M455.5,381.2 h-6 M115.5,466.5 h6 M455.5,466.5 h-6 M115.5,551.8 h6 M455.5,551.8 h-6 M115.5,637.1 h6 M455.5,637.1 h-6 M115.5,722.5 h6 M455.5,722.5 h-6" stroke="#000" stroke-width="1" fill="none"/>
<text x="282" y="837.2" font-size="18.90" text-anchor="middle">Time relative to P (sec)</text>
<text transform="translate(70.3,471.8) rotate(-90)" font-size="18.90" text-anchor="middle">Distance (deg)</text>
<g transform="translate(0,0.0)">
<clipPath id="cm0"><rect x="552.5" y="101.5" width="272.0" height="260.0"/></clipPath>
<path clip-path="url(#cm0)" d="M561.4,101.8 L563.4,103.8 L566.5,103.0 L569.1,104.9 L568.7,107.9 L571.0,108.4 L573.3,106.4 L574.8,103.3 L574.4,106.9 L577.1,107.9 L579.7,111.4 L579.4,116.0 L577.1,120.6 L574.5,122.4 L572.9,120.6 L572.7,116.0 L574.2,112.5 L576.1,111.3 L574.8,109.1 L573.3,107.3 M617.5,163.9 L620.5,160.1 L626.6,155.6 L634.2,151.0 L641.8,146.4 L645.6,143.4 L647.2,144.9 L649.4,141.1 L651.7,140.3 L653.2,137.3 L657.1,137.3 L660.9,139.6 L662.4,144.9 L663.9,140.3 L668.5,139.9 L670.8,143.4 L673.0,148.7 L676.8,150.2 L682.9,149.5 L683.7,155.6 L686.0,158.6 L684.8,160.9 L687.5,163.2 L689.8,165.5 L686.0,167.0 L682.9,165.8 L679.1,164.7 L675.3,165.5 L672.3,163.9 L667.7,164.7 L663.9,162.4 L660.1,160.9 L657.1,160.1 L653.2,158.6 L655.5,157.1 L656.3,154.8 L652.5,156.3 L649.4,158.6 L644.9,159.4 L641.8,161.7 L637.3,162.4 L633.5,165.5 L629.6,165.5 L628.1,161.7 L625.1,162.4 L619.0,165.5 L617.5,163.9 M672.7,173.1 L670.2,173.7 L666.5,175.6 L662.8,178.0 L660.4,180.5 L659.8,184.2 L661.6,183.0 L662.8,181.1 L661.0,184.8 L659.8,188.5 L658.5,192.9 L657.9,195.3 L656.7,200.3 L655.4,205.2 L655.4,210.1 L656.7,215.1 L659.8,221.2 L662.2,221.9 M683.2,172.5 L689.4,173.3 L695.6,172.9 L704.2,171.9 L714.1,173.1 L719.0,173.7 L722.1,176.2 L725.2,179.3 L726.4,183.0 L725.2,186.7 L722.1,188.5 L719.0,186.7 L715.3,183.6 L712.8,180.5 L714.1,183.0 L712.8,190.4 L711.6,195.3 L711.6,199.6 L709.8,202.7 L707.3,205.2 L704.2,202.7 L701.7,197.8 L698.0,192.9 L694.3,187.9 L691.9,181.7 L686.9,176.8 L683.2,172.5 M696.3,221.8 L705.5,225.3 L714.8,224.1 L724.0,218.3 L737.8,210.2 L738.7,207.9 L728.6,211.4 L719.4,210.2 L710.2,216.0 L702.8,218.3 L699.1,218.3 L696.3,221.8 M730.4,203.3 L737.8,203.3 L747.0,202.1 L756.3,203.3 L763.6,199.8 L762.7,194.0 L756.3,195.2 L747.0,196.3 L736.0,198.7 L730.4,203.3 M717.1,101.5 L721.0,104.5 L723.4,108.8 L721.0,111.7 L717.4,114.6 L723.8,111.0 L729.6,113.1 L731.0,108.8 L733.9,106.6 L736.8,108.1 L738.3,111.7 L740.4,108.8 L739.0,105.2 L741.1,103.0 L741.4,101.5 M810.0,162.1 L814.8,159.4 L820.3,153.8 L823.8,149.0 L824.8,146.2 L822.4,146.9 L821.7,150.4 L817.6,155.2 L812.0,160.1 L810.0,162.1 M824.8,196.7 L821.7,196.0 L818.9,198.1 L816.2,202.2 L813.4,207.8 L812.0,213.3 L811.3,215.4 L812.7,217.5 L814.1,219.5 L816.2,220.9 L819.6,220.9 L821.4,219.5 L820.3,218.1 L821.7,221.6 L818.9,223.0 L814.8,222.3 L812.0,223.7 L807.9,224.4 L802.4,226.4 L795.4,227.1 L789.9,228.5 L785.8,230.6 L783.0,232.7 L782.3,235.4 L783.7,236.8 L783.0,241.0 L781.6,245.1 L778.8,249.3 L775.4,252.7 L771.9,250.7 L774.7,253.4 L774.0,257.6 L774.7,260.1 L780.3,246.9 L776.5,251.6 L772.6,250.0 L774.4,254.7 L773.4,260.1 L769.5,267.0 L767.7,261.6 L766.4,265.5 L768.3,269.3 L766.4,273.2 L763.3,274.7 L761.0,276.3 L764.1,277.8 L764.9,283.2 L763.3,286.3 L759.5,285.5 L758.7,287.8 L764.1,287.1 L768.0,289.4 L768.0,292.5 L764.1,294.0 L760.2,294.0 L758.7,296.3 L761.8,297.9 L760.2,301.7 L755.6,303.3 L749.4,307.9 L741.7,312.5 L736.3,317.2 L734.8,320.2 L729.4,324.9 L724.8,328.0 L721.7,327.2 L720.9,331.0 L717.8,335.7 L715.5,341.9 L713.2,348.0 L714.7,354.2 L716.3,361.6 M784.4,232.4 L789.9,230.6 L796.8,228.5 L802.4,229.2 L799.6,230.6 L794.1,232.0 L788.5,232.9 L784.4,233.4 L784.4,232.4 M590.1,361.3 L590.8,359.3 L591.9,361.3 M596.5,361.3 L598.5,359.8 L602.4,359.3 L606.3,359.6 L608.9,361.3 M616.0,361.3 L617.5,359.5 L619.1,359.5 L619.8,361.3 M631.7,354.7 L633.3,353.1 L635.6,353.1 L637.1,354.7 L635.6,356.2 L633.3,356.5 L631.7,354.7 M636.4,357.8 L638.7,355.9 L641.8,356.5 L641.9,359.3 L640.2,361.3 L637.1,361.3 L636.4,358.5 M637.1,354.7 L641.0,353.9 L645.6,353.1 L650.2,352.4 L652.6,351.6 L654.1,346.2 L654.6,354.7 L658.7,353.1 L661.8,350.8 L664.9,351.6 L668.0,350.8 L670.3,351.6 L672.6,353.9 L675.7,355.5 L678.0,358.5 L679.6,360.9 L682.7,359.3 L685.7,358.5 L688.1,356.2 L691.1,356.2 L693.5,357.8 L695.3,361.3" fill="none" stroke="#000" stroke-width="1.1" stroke-linejoin="round"/>
<g stroke="#8c8c8c" stroke-width="1" stroke-linejoin="miter">
<path d="M649.3,152.1 l7,12.2 h-14z" fill="#b13333"/>
<path d="M694.8,151.9 l7,12.2 h-14z" fill="#960000"/>
<path d="M673.5,156.7 l7,12.2 h-14z" fill="#960000"/>
<path d="M690.2,153.2 l7,12.2 h-14z" fill="#960000"/>
<path d="M703.0,150.9 l7,12.2 h-14z" fill="#960000"/>
<path d="M644.1,163.6 l7,12.2 h-14z" fill="#a41a1a"/>
<path d="M663.7,159.6 l7,12.2 h-14z" fill="#a41a1a"/>
<path d="M710.5,149.8 l7,12.2 h-14z" fill="#960000"/>
<path d="M715.1,149.2 l7,12.2 h-14z" fill="#960000"/>
<path d="M610.2,173.2 l7,12.2 h-14z" fill="#960000"/>
<path d="M708.6,153.1 l7,12.2 h-14z" fill="#960000"/>
<path d="M715.2,152.8 l7,12.2 h-14z" fill="#a41a1a"/>
<path d="M729.5,150.4 l7,12.2 h-14z" fill="#960000"/>
<path d="M653.4,167.1 l7,12.2 h-14z" fill="#a41a1a"/>
<path d="M726.1,151.8 l7,12.2 h-14z" fill="#a41a1a"/>
<path d="M697.3,159.0 l7,12.2 h-14z" fill="#960000"/>
<path d="M733.6,151.5 l7,12.2 h-14z" fill="#960000"/>
<path d="M633.8,172.8 l7,12.2 h-14z" fill="#960000"/>
<path d="M689.4,161.3 l7,12.2 h-14z" fill="#a41a1a"/>
<path d="M697.3,159.6 l7,12.2 h-14z" fill="#a41a1a"/>
<path d="M698.3,159.6 l7,12.2 h-14z" fill="#a41a1a"/>
<path d="M731.4,152.7 l7,12.2 h-14z" fill="#960000"/>
<path d="M704.8,158.8 l7,12.2 h-14z" fill="#a41a1a"/>
<path d="M704.8,160.2 l7,12.2 h-14z" fill="#960000"/>
<path d="M672.8,167.3 l7,12.2 h-14z" fill="#a41a1a"/>
<path d="M678.7,166.2 l7,12.2 h-14z" fill="#b13333"/>
<path d="M712.3,159.8 l7,12.2 h-14z" fill="#960000"/>
<path d="M688.2,166.9 l7,12.2 h-14z" fill="#960000"/>
<path d="M720.7,160.1 l7,12.2 h-14z" fill="#960000"/>
<path d="M696.7,166.0 l7,12.2 h-14z" fill="#960000"/>
<path d="M701.9,166.1 l7,12.2 h-14z" fill="#b13333"/>
<path d="M605.0,187.2 l7,12.2 h-14z" fill="#d68080"/>
<path d="M736.2,159.8 l7,12.2 h-14z" fill="#960000"/>
<path d="M675.3,174.1 l7,12.2 h-14z" fill="#a41a1a"/>
<path d="M743.5,159.7 l7,12.2 h-14z" fill="#a41a1a"/>
<path d="M708.8,167.6 l7,12.2 h-14z" fill="#960000"/>
<path d="M709.8,167.8 l7,12.2 h-14z" fill="#a41a1a"/>
<path d="M749.1,159.6 l7,12.2 h-14z" fill="#960000"/>
<path d="M739.9,161.9 l7,12.2 h-14z" fill="#960000"/>
<path d="M682.2,174.6 l7,12.2 h-14z" fill="#960000"/>
<path d="M691.5,173.4 l7,12.2 h-14z" fill="#960000"/>
<path d="M717.5,168.1 l7,12.2 h-14z" fill="#960000"/>
<path d="M691.5,174.6 l7,12.2 h-14z" fill="#a41a1a"/>
<path d="M656.8,182.1 l7,12.2 h-14z" fill="#960000"/>
<path d="M698.5,173.6 l7,12.2 h-14z" fill="#960000"/>
<path d="M726.0,167.8 l7,12.2 h-14z" fill="#a41a1a"/>
<path d="M630.3,188.4 l7,12.2 h-14z" fill="#960000"/>
<path d="M741.0,166.3 l7,12.2 h-14z" fill="#960000"/>
<path d="M734.6,168.0 l7,12.2 h-14z" fill="#960000"/>
<path d="M684.6,179.2 l7,12.2 h-14z" fill="#a41a1a"/>
<path d="M681.0,180.9 l7,12.2 h-14z" fill="#960000"/>
<path d="M646.5,188.4 l7,12.2 h-14z" fill="#960000"/>
<path d="M704.2,176.5 l7,12.2 h-14z" fill="#b13333"/>
<path d="M718.6,173.8 l7,12.2 h-14z" fill="#960000"/>
<path d="M748.7,168.0 l7,12.2 h-14z" fill="#960000"/>
<path d="M686.4,181.5 l7,12.2 h-14z" fill="#960000"/>
<path d="M729.5,174.3 l7,12.2 h-14z" fill="#960000"/>
<path d="M693.5,182.2 l7,12.2 h-14z" fill="#a41a1a"/>
<path d="M701.4,181.3 l7,12.2 h-14z" fill="#a41a1a"/>
<path d="M743.4,173.4 l7,12.2 h-14z" fill="#960000"/>
<path d="M610.7,202.8 l7,12.2 h-14z" fill="#d68080"/>
<path d="M736.3,176.4 l7,12.2 h-14z" fill="#b13333"/>
<path d="M752.0,173.3 l7,12.2 h-14z" fill="#b13333"/>
<path d="M675.5,190.1 l7,12.2 h-14z" fill="#b13333"/>
<path d="M683.9,188.4 l7,12.2 h-14z" fill="#960000"/>
<path d="M758.3,173.4 l7,12.2 h-14z" fill="#a41a1a"/>
<path d="M697.4,186.8 l7,12.2 h-14z" fill="#960000"/>
<path d="M724.8,181.4 l7,12.2 h-14z" fill="#960000"/>
<path d="M633.8,201.1 l7,12.2 h-14z" fill="#960000"/>
<path d="M690.0,189.3 l7,12.2 h-14z" fill="#a41a1a"/>
<path d="M759.2,174.9 l7,12.2 h-14z" fill="#960000"/>
<path d="M728.4,181.5 l7,12.2 h-14z" fill="#960000"/>
<path d="M732.6,181.4 l7,12.2 h-14z" fill="#a41a1a"/>
<path d="M668.3,195.3 l7,12.2 h-14z" fill="#960000"/>
<path d="M679.5,193.1 l7,12.2 h-14z" fill="#960000"/>
<path d="M673.2,195.7 l7,12.2 h-14z" fill="#960000"/>
<path d="M650.5,202.2 l7,12.2 h-14z" fill="#960000"/>
<path d="M749.3,181.3 l7,12.2 h-14z" fill="#960000"/>
<path d="M606.7,212.0 l7,12.2 h-14z" fill="#be4d4d"/>
<path d="M686.6,195.4 l7,12.2 h-14z" fill="#960000"/>
<path d="M753.0,181.6 l7,12.2 h-14z" fill="#a41a1a"/>
<path d="M760.4,180.2 l7,12.2 h-14z" fill="#960000"/>
<path d="M719.2,189.5 l7,12.2 h-14z" fill="#be4d4d"/>
<path d="M624.6,209.7 l7,12.2 h-14z" fill="#960000"/>
<path d="M721.5,189.7 l7,12.2 h-14z" fill="#960000"/>
<path d="M695.0,195.3 l7,12.2 h-14z" fill="#a41a1a"/>
<path d="M701.2,194.8 l7,12.2 h-14z" fill="#b13333"/>
<path d="M693.5,196.6 l7,12.2 h-14z" fill="#be4d4d"/>
<path d="M730.3,189.5 l7,12.2 h-14z" fill="#b13333"/>
<path d="M675.5,202.0 l7,12.2 h-14z" fill="#960000"/>
<path d="M736.3,189.1 l7,12.2 h-14z" fill="#960000"/>
<path d="M731.3,190.7 l7,12.2 h-14z" fill="#a41a1a"/>
<path d="M655.1,208.5 l7,12.2 h-14z" fill="#960000"/>
<path d="M682.4,202.8 l7,12.2 h-14z" fill="#960000"/>
<path d="M744.6,189.9 l7,12.2 h-14z" fill="#a41a1a"/>
<path d="M703.0,198.8 l7,12.2 h-14z" fill="#a41a1a"/>
<path d="M691.8,201.3 l7,12.2 h-14z" fill="#960000"/>
<path d="M639.5,212.6 l7,12.2 h-14z" fill="#a41a1a"/>
<path d="M760.0,187.1 l7,12.2 h-14z" fill="#960000"/>
<path d="M715.7,196.9 l7,12.2 h-14z" fill="#a41a1a"/>
<path d="M749.7,189.9 l7,12.2 h-14z" fill="#be4d4d"/>
<path d="M726.3,195.6 l7,12.2 h-14z" fill="#a41a1a"/>
<path d="M767.6,188.5 l7,12.2 h-14z" fill="#960000"/>
<path d="M700.4,202.8 l7,12.2 h-14z" fill="#960000"/>
<path d="M731.9,196.2 l7,12.2 h-14z" fill="#960000"/>
<path d="M672.6,210.1 l7,12.2 h-14z" fill="#960000"/>
<path d="M747.6,194.4 l7,12.2 h-14z" fill="#960000"/>
<path d="M669.5,211.4 l7,12.2 h-14z" fill="#ca6666"/>
<path d="M712.1,202.5 l7,12.2 h-14z" fill="#a41a1a"/>
<path d="M740.0,196.7 l7,12.2 h-14z" fill="#960000"/>
<path d="M606.7,225.3 l7,12.2 h-14z" fill="#960000"/>
<path d="M707.3,204.2 l7,12.2 h-14z" fill="#960000"/>
<path d="M677.8,210.9 l7,12.2 h-14z" fill="#960000"/>
<path d="M719.5,202.3 l7,12.2 h-14z" fill="#a41a1a"/>
<path d="M753.9,195.0 l7,12.2 h-14z" fill="#a41a1a"/>
<path d="M721.5,202.2 l7,12.2 h-14z" fill="#960000"/>
<path d="M713.4,204.5 l7,12.2 h-14z" fill="#960000"/>
<path d="M687.6,210.1 l7,12.2 h-14z" fill="#960000"/>
<path d="M695.6,209.4 l7,12.2 h-14z" fill="#960000"/>
<path d="M727.0,203.0 l7,12.2 h-14z" fill="#b13333"/>
<path d="M735.6,201.8 l7,12.2 h-14z" fill="#960000"/>
<path d="M761.5,196.3 l7,12.2 h-14z" fill="#960000"/>
<path d="M628.0,225.8 l7,12.2 h-14z" fill="#960000"/>
<path d="M653.9,220.6 l7,12.2 h-14z" fill="#960000"/>
<path d="M675.2,216.5 l7,12.2 h-14z" fill="#960000"/>
<path d="M743.6,202.4 l7,12.2 h-14z" fill="#960000"/>
<path d="M711.6,209.5 l7,12.2 h-14z" fill="#a41a1a"/>
<path d="M769.1,197.9 l7,12.2 h-14z" fill="#960000"/>
<path d="M684.0,217.8 l7,12.2 h-14z" fill="#a41a1a"/>
<path d="M690.4,216.4 l7,12.2 h-14z" fill="#960000"/>
<path d="M718.3,210.7 l7,12.2 h-14z" fill="#960000"/>
<path d="M759.6,202.1 l7,12.2 h-14z" fill="#a41a1a"/>
<path d="M771.7,199.8 l7,12.2 h-14z" fill="#a41a1a"/>
<path d="M643.0,227.6 l7,12.2 h-14z" fill="#960000"/>
<path d="M723.8,210.8 l7,12.2 h-14z" fill="#960000"/>
<path d="M727.2,210.3 l7,12.2 h-14z" fill="#960000"/>
<path d="M767.3,202.6 l7,12.2 h-14z" fill="#a41a1a"/>
<path d="M706.5,215.7 l7,12.2 h-14z" fill="#960000"/>
<path d="M696.5,218.4 l7,12.2 h-14z" fill="#960000"/>
<path d="M740.1,209.1 l7,12.2 h-14z" fill="#960000"/>
<path d="M673.0,223.6 l7,12.2 h-14z" fill="#960000"/>
<path d="M603.8,238.4 l7,12.2 h-14z" fill="#be4d4d"/>
<path d="M715.1,215.3 l7,12.2 h-14z" fill="#a41a1a"/>
<path d="M733.0,211.6 l7,12.2 h-14z" fill="#960000"/>
<path d="M679.6,224.2 l7,12.2 h-14z" fill="#a41a1a"/>
<path d="M722.0,216.2 l7,12.2 h-14z" fill="#960000"/>
<path d="M694.9,222.4 l7,12.2 h-14z" fill="#960000"/>
<path d="M617.1,239.0 l7,12.2 h-14z" fill="#be4d4d"/>
<path d="M649.9,232.1 l7,12.2 h-14z" fill="#a41a1a"/>
<path d="M746.6,211.7 l7,12.2 h-14z" fill="#960000"/>
<path d="M662.6,229.9 l7,12.2 h-14z" fill="#960000"/>
<path d="M688.9,224.8 l7,12.2 h-14z" fill="#960000"/>
<path d="M753.7,211.9 l7,12.2 h-14z" fill="#960000"/>
<path d="M763.6,210.5 l7,12.2 h-14z" fill="#960000"/>
<path d="M775.6,208.0 l7,12.2 h-14z" fill="#960000"/>
<path d="M728.4,218.4 l7,12.2 h-14z" fill="#960000"/>
<path d="M745.4,215.7 l7,12.2 h-14z" fill="#a41a1a"/>
<path d="M770.4,210.7 l7,12.2 h-14z" fill="#a41a1a"/>
<path d="M710.5,223.5 l7,12.2 h-14z" fill="#be4d4d"/>
<path d="M703.8,225.0 l7,12.2 h-14z" fill="#a41a1a"/>
<path d="M676.1,230.9 l7,12.2 h-14z" fill="#960000"/>
<path d="M639.5,239.0 l7,12.2 h-14z" fill="#960000"/>
<path d="M736.6,219.2 l7,12.2 h-14z" fill="#960000"/>
<path d="M689.0,229.4 l7,12.2 h-14z" fill="#960000"/>
<path d="M716.4,224.5 l7,12.2 h-14z" fill="#b13333"/>
<path d="M760.1,215.8 l7,12.2 h-14z" fill="#960000"/>
<path d="M752.5,218.0 l7,12.2 h-14z" fill="#960000"/>
<path d="M683.4,232.8 l7,12.2 h-14z" fill="#960000"/>
<path d="M724.8,224.6 l7,12.2 h-14z" fill="#960000"/>
<path d="M705.0,229.0 l7,12.2 h-14z" fill="#960000"/>
<path d="M698.1,231.1 l7,12.2 h-14z" fill="#960000"/>
<path d="M765.5,217.4 l7,12.2 h-14z" fill="#a41a1a"/>
<path d="M741.7,222.5 l7,12.2 h-14z" fill="#960000"/>
<path d="M733.3,224.6 l7,12.2 h-14z" fill="#be4d4d"/>
<path d="M713.9,229.0 l7,12.2 h-14z" fill="#a41a1a"/>
<path d="M673.7,237.6 l7,12.2 h-14z" fill="#960000"/>
<path d="M661.4,240.7 l7,12.2 h-14z" fill="#960000"/>
<path d="M773.7,217.1 l7,12.2 h-14z" fill="#960000"/>
<path d="M679.5,237.7 l7,12.2 h-14z" fill="#960000"/>
<path d="M693.7,234.7 l7,12.2 h-14z" fill="#b13333"/>
<path d="M644.1,247.1 l7,12.2 h-14z" fill="#960000"/>
<path d="M748.5,225.1 l7,12.2 h-14z" fill="#960000"/>
<path d="M720.4,231.2 l7,12.2 h-14z" fill="#960000"/>
<path d="M666.6,243.0 l7,12.2 h-14z" fill="#960000"/>
<path d="M615.3,254.0 l7,12.2 h-14z" fill="#960000"/>
<path d="M686.6,239.0 l7,12.2 h-14z" fill="#960000"/>
<path d="M633.8,250.5 l7,12.2 h-14z" fill="#960000"/>
<path d="M756.2,225.0 l7,12.2 h-14z" fill="#a41a1a"/>
<path d="M737.9,229.9 l7,12.2 h-14z" fill="#a41a1a"/>
<path d="M652.8,248.2 l7,12.2 h-14z" fill="#960000"/>
<path d="M763.8,224.8 l7,12.2 h-14z" fill="#b13333"/>
<path d="M769.6,224.0 l7,12.2 h-14z" fill="#960000"/>
<path d="M702.8,238.4 l7,12.2 h-14z" fill="#960000"/>
<path d="M730.0,232.7 l7,12.2 h-14z" fill="#b13333"/>
<path d="M675.1,244.7 l7,12.2 h-14z" fill="#be4d4d"/>
<path d="M624.6,255.7 l7,12.2 h-14z" fill="#960000"/>
<path d="M749.4,229.2 l7,12.2 h-14z" fill="#960000"/>
<path d="M775.0,224.2 l7,12.2 h-14z" fill="#a41a1a"/>
<path d="M709.1,238.2 l7,12.2 h-14z" fill="#960000"/>
<path d="M745.3,231.5 l7,12.2 h-14z" fill="#960000"/>
<path d="M682.6,245.3 l7,12.2 h-14z" fill="#960000"/>
<path d="M717.1,238.3 l7,12.2 h-14z" fill="#960000"/>
<path d="M726.7,236.7 l7,12.2 h-14z" fill="#a41a1a"/>
<path d="M759.6,230.9 l7,12.2 h-14z" fill="#d68080"/>
<path d="M731.9,237.0 l7,12.2 h-14z" fill="#960000"/>
<path d="M691.8,247.1 l7,12.2 h-14z" fill="#d68080"/>
<path d="M764.9,231.6 l7,12.2 h-14z" fill="#960000"/>
<path d="M699.3,245.6 l7,12.2 h-14z" fill="#a41a1a"/>
<path d="M632.0,260.3 l7,12.2 h-14z" fill="#960000"/>
<path d="M740.9,237.2 l7,12.2 h-14z" fill="#960000"/>
<path d="M713.8,243.0 l7,12.2 h-14z" fill="#960000"/>
<path d="M748.3,237.1 l7,12.2 h-14z" fill="#960000"/>
<path d="M776.2,231.3 l7,12.2 h-14z" fill="#960000"/>
<path d="M673.1,253.2 l7,12.2 h-14z" fill="#960000"/>
<path d="M677.6,253.0 l7,12.2 h-14z" fill="#a41a1a"/>
<path d="M708.7,246.7 l7,12.2 h-14z" fill="#960000"/>
<path d="M643.0,260.9 l7,12.2 h-14z" fill="#a41a1a"/>
<path d="M657.4,258.6 l7,12.2 h-14z" fill="#ca6666"/>
<path d="M720.4,245.6 l7,12.2 h-14z" fill="#be4d4d"/>
<path d="M669.5,256.9 l7,12.2 h-14z" fill="#960000"/>
<path d="M755.3,239.2 l7,12.2 h-14z" fill="#960000"/>
<path d="M694.7,252.6 l7,12.2 h-14z" fill="#960000"/>
<path d="M686.9,254.4 l7,12.2 h-14z" fill="#960000"/>
<path d="M703.2,251.1 l7,12.2 h-14z" fill="#a41a1a"/>
<path d="M762.0,239.3 l7,12.2 h-14z" fill="#a41a1a"/>
<path d="M770.7,238.1 l7,12.2 h-14z" fill="#be4d4d"/>
<path d="M737.8,245.1 l7,12.2 h-14z" fill="#960000"/>
<path d="M744.8,243.8 l7,12.2 h-14z" fill="#960000"/>
<path d="M624.6,269.5 l7,12.2 h-14z" fill="#a41a1a"/>
<path d="M716.7,250.2 l7,12.2 h-14z" fill="#960000"/>
<path d="M729.9,247.6 l7,12.2 h-14z" fill="#960000"/>
<path d="M750.8,244.0 l7,12.2 h-14z" fill="#960000"/>
<path d="M776.9,238.6 l7,12.2 h-14z" fill="#a41a1a"/>
<path d="M676.3,260.5 l7,12.2 h-14z" fill="#960000"/>
<path d="M711.7,253.3 l7,12.2 h-14z" fill="#960000"/>
<path d="M682.6,259.7 l7,12.2 h-14z" fill="#be4d4d"/>
<path d="M632.0,271.8 l7,12.2 h-14z" fill="#a41a1a"/>
<path d="M761.5,244.6 l7,12.2 h-14z" fill="#b13333"/>
<path d="M726.8,252.4 l7,12.2 h-14z" fill="#960000"/>
<path d="M689.4,261.0 l7,12.2 h-14z" fill="#960000"/>
<path d="M732.0,252.4 l7,12.2 h-14z" fill="#960000"/>
<path d="M648.2,270.7 l7,12.2 h-14z" fill="#960000"/>
<path d="M739.8,251.7 l7,12.2 h-14z" fill="#960000"/>
<path d="M671.5,266.2 l7,12.2 h-14z" fill="#a41a1a"/>
<path d="M700.4,260.2 l7,12.2 h-14z" fill="#d68080"/>
<path d="M770.2,245.5 l7,12.2 h-14z" fill="#a41a1a"/>
<path d="M712.6,258.4 l7,12.2 h-14z" fill="#a41a1a"/>
<path d="M662.6,269.5 l7,12.2 h-14z" fill="#d68080"/>
<path d="M706.5,261.0 l7,12.2 h-14z" fill="#960000"/>
<path d="M749.5,251.9 l7,12.2 h-14z" fill="#960000"/>
<path d="M638.4,275.9 l7,12.2 h-14z" fill="#a41a1a"/>
<path d="M756.7,250.9 l7,12.2 h-14z" fill="#960000"/>
<path d="M686.6,266.9 l7,12.2 h-14z" fill="#be4d4d"/>
<path d="M721.6,259.6 l7,12.2 h-14z" fill="#a41a1a"/>
<path d="M680.6,269.0 l7,12.2 h-14z" fill="#960000"/>
<path d="M694.2,266.8 l7,12.2 h-14z" fill="#960000"/>
<path d="M736.5,258.2 l7,12.2 h-14z" fill="#a41a1a"/>
<path d="M762.6,252.7 l7,12.2 h-14z" fill="#a41a1a"/>
<path d="M728.2,260.9 l7,12.2 h-14z" fill="#960000"/>
<path d="M701.0,267.4 l7,12.2 h-14z" fill="#960000"/>
<path d="M674.7,274.4 l7,12.2 h-14z" fill="#960000"/>
<path d="M708.8,267.3 l7,12.2 h-14z" fill="#b13333"/>
<path d="M744.3,259.9 l7,12.2 h-14z" fill="#960000"/>
<path d="M752.5,258.5 l7,12.2 h-14z" fill="#b13333"/>
<path d="M655.7,279.9 l7,12.2 h-14z" fill="#a41a1a"/>
<path d="M719.4,267.3 l7,12.2 h-14z" fill="#a41a1a"/>
<path d="M724.3,266.3 l7,12.2 h-14z" fill="#960000"/>
<path d="M683.3,275.7 l7,12.2 h-14z" fill="#960000"/>
<path d="M760.7,259.8 l7,12.2 h-14z" fill="#960000"/>
<path d="M690.5,275.3 l7,12.2 h-14z" fill="#be4d4d"/>
<path d="M674.7,278.8 l7,12.2 h-14z" fill="#960000"/>
<path d="M731.9,267.6 l7,12.2 h-14z" fill="#960000"/>
<path d="M672.1,280.4 l7,12.2 h-14z" fill="#960000"/>
<path d="M696.7,275.3 l7,12.2 h-14z" fill="#960000"/>
<path d="M706.8,274.6 l7,12.2 h-14z" fill="#960000"/>
<path d="M665.5,283.4 l7,12.2 h-14z" fill="#960000"/>
<path d="M740.5,267.7 l7,12.2 h-14z" fill="#a41a1a"/>
<path d="M678.7,281.3 l7,12.2 h-14z" fill="#960000"/>
<path d="M688.0,279.8 l7,12.2 h-14z" fill="#960000"/>
<path d="M747.9,267.9 l7,12.2 h-14z" fill="#a41a1a"/>
<path d="M754.4,266.9 l7,12.2 h-14z" fill="#960000"/>
<path d="M721.5,274.2 l7,12.2 h-14z" fill="#b13333"/>
<path d="M694.8,280.9 l7,12.2 h-14z" fill="#960000"/>
<path d="M674.6,286.3 l7,12.2 h-14z" fill="#a41a1a"/>
<path d="M703.2,281.2 l7,12.2 h-14z" fill="#a41a1a"/>
<path d="M707.8,280.6 l7,12.2 h-14z" fill="#960000"/>
<path d="M653.9,292.6 l7,12.2 h-14z" fill="#a41a1a"/>
<path d="M737.4,275.0 l7,12.2 h-14z" fill="#960000"/>
<path d="M729.7,277.2 l7,12.2 h-14z" fill="#960000"/>
<path d="M743.3,275.3 l7,12.2 h-14z" fill="#960000"/>
<path d="M678.7,289.1 l7,12.2 h-14z" fill="#960000"/>
<path d="M717.3,281.3 l7,12.2 h-14z" fill="#960000"/>
<path d="M724.9,280.5 l7,12.2 h-14z" fill="#be4d4d"/>
<path d="M733.1,278.8 l7,12.2 h-14z" fill="#a41a1a"/>
<path d="M692.5,288.0 l7,12.2 h-14z" fill="#960000"/>
<path d="M698.4,288.2 l7,12.2 h-14z" fill="#960000"/>
<path d="M705.0,287.6 l7,12.2 h-14z" fill="#a41a1a"/>
<path d="M713.2,286.4 l7,12.2 h-14z" fill="#a41a1a"/>
<path d="M740.6,280.6 l7,12.2 h-14z" fill="#a41a1a"/>
<path d="M691.1,291.3 l7,12.2 h-14z" fill="#a41a1a"/>
<path d="M688.1,294.2 l7,12.2 h-14z" fill="#960000"/>
<path d="M719.9,287.9 l7,12.2 h-14z" fill="#a41a1a"/>
<path d="M701.9,292.9 l7,12.2 h-14z" fill="#960000"/>
<path d="M683.3,297.2 l7,12.2 h-14z" fill="#960000"/>
<path d="M695.5,295.9 l7,12.2 h-14z" fill="#960000"/>
<path d="M729.2,289.2 l7,12.2 h-14z" fill="#be4d4d"/>
<path d="M709.7,293.5 l7,12.2 h-14z" fill="#a41a1a"/>
<path d="M737.2,288.3 l7,12.2 h-14z" fill="#960000"/>
<path d="M697.1,297.2 l7,12.2 h-14z" fill="#be4d4d"/>
<path d="M690.4,301.2 l7,12.2 h-14z" fill="#a41a1a"/>
<path d="M716.4,297.0 l7,12.2 h-14z" fill="#960000"/>
<path d="M724.3,295.9 l7,12.2 h-14z" fill="#a41a1a"/>
<path d="M697.7,303.2 l7,12.2 h-14z" fill="#960000"/>
<path d="M713.8,303.8 l7,12.2 h-14z" fill="#960000"/>
<path d="M719.4,302.6 l7,12.2 h-14z" fill="#960000"/>
</g>
<rect x="552.5" y="101.5" width="272.0" height="260.0" fill="none" stroke="#000"/>
<text x="633.6" y="389.9" font-size="18.90" text-anchor="middle">-90</text>
<text x="724.6" y="389.9" font-size="18.90" text-anchor="middle">-80</text>
<text x="817.6" y="389.9" font-size="18.90" text-anchor="middle">-70</text>
<text x="546.0" y="133.2" font-size="18.90" text-anchor="end">50</text>
<text x="546.0" y="191.2" font-size="18.90" text-anchor="end">45</text>
<text x="546.0" y="249.2" font-size="18.90" text-anchor="end">40</text>
<text x="546.0" y="306.2" font-size="18.90" text-anchor="end">35</text>
<text x="546.0" y="364.2" font-size="18.90" text-anchor="end">30</text>
<path d="M636.5,101.5 v2.6 M636.5,361.5 v-2.6 M727.5,101.5 v2.6 M727.5,361.5 v-2.6 M820.5,101.5 v2.6 M820.5,361.5 v-2.6 M552.5,126.5 h2.6 M824.5,126.5 h-2.6 M552.5,184.5 h2.6 M824.5,184.5 h-2.6 M552.5,242.5 h2.6 M824.5,242.5 h-2.6 M552.5,299.5 h2.6 M824.5,299.5 h-2.6 M552.5,357.5 h2.6 M824.5,357.5 h-2.6 M808.5,153.5 V309.5 M803,153.5 h11 M803,309.5 h11" stroke="#000" fill="none"/>
<text transform="translate(843,249) rotate(-90)" font-size="18.90" text-anchor="middle">1500 km</text>
<text x="688.5" y="84.4" font-size="18.90" text-anchor="middle">avg cross-corr coef.</text>
<g shape-rendering="crispEdges">
<rect x="862" y="102" width="41" height="7" fill="#800000"/>
<rect x="862" y="109" width="41" height="8" fill="#8b0000"/>
<rect x="862" y="117" width="41" height="8" fill="#960000"/>
<rect x="862" y="125" width="41" height="8" fill="#a41a1a"/>
<rect x="862" y="133" width="41" height="8" fill="#b13333"/>
<rect x="862" y="141" width="41" height="8" fill="#be4d4d"/>
<rect x="862" y="149" width="41" height="8" fill="#ca6666"/>
<rect x="862" y="157" width="41" height="8" fill="#d68080"/>
<rect x="862" y="165" width="41" height="8" fill="#e29999"/>
<rect x="862" y="173" width="41" height="7" fill="#f0a6a6"/>
<rect x="862" y="180" width="41" height="8" fill="#ffb4b4"/>
<rect x="862" y="188" width="41" height="8" fill="#ffc4c4"/>
<rect x="862" y="196" width="41" height="8" fill="#ffd4d4"/>
<rect x="862" y="204" width="41" height="8" fill="#ffe0e0"/>
<rect x="862" y="212" width="41" height="8" fill="#ffebeb"/>
<rect x="862" y="220" width="41" height="8" fill="#fff5f5"/>
<rect x="862" y="228" width="41" height="8" fill="#ffffff"/>
<rect x="862" y="236" width="41" height="8" fill="#f5f5ff"/>
<rect x="862" y="244" width="41" height="7" fill="#ebebff"/>
<rect x="862" y="251" width="41" height="8" fill="#e0e0ff"/>
<rect x="862" y="259" width="41" height="8" fill="#d4d4ff"/>
<rect x="862" y="267" width="41" height="8" fill="#c4c4ff"/>
<rect x="862" y="275" width="41" height="8" fill="#b4b4ff"/>
<rect x="862" y="283" width="41" height="8" fill="#a6a6f0"/>
<rect x="862" y="291" width="41" height="8" fill="#9999e2"/>
<rect x="862" y="299" width="41" height="8" fill="#8080d6"/>
<rect x="862" y="307" width="41" height="8" fill="#6666ca"/>
<rect x="862" y="315" width="41" height="8" fill="#4d4dbe"/>
<rect x="862" y="323" width="41" height="7" fill="#3333b1"/>
<rect x="862" y="330" width="41" height="8" fill="#1a1aa4"/>
<rect x="862" y="338" width="41" height="8" fill="#000096"/>
<rect x="862" y="346" width="41" height="8" fill="#00008b"/>
<rect x="862" y="354" width="41" height="8" fill="#000080"/>
</g>
<rect x="861.5" y="101.5" width="41.0" height="260.5" fill="none" stroke="#000"/>
<text x="909.5" y="108.8" font-size="18.90">1</text>
<text x="909.5" y="173.7" font-size="18.90">0.9</text>
<text x="909.5" y="238.6" font-size="18.90">0.8</text>
<text x="909.5" y="303.4" font-size="18.90">0.7</text>
<text x="909.5" y="368.3" font-size="18.90">0.6</text>
<path d="M861.5,166.9 h3 M902.5,166.9 h-3 M861.5,231.8 h3 M902.5,231.8 h-3 M861.5,296.6 h3 M902.5,296.6 h-3" stroke="#000" fill="none"/>
</g>
<g transform="translate(0,329.0)">
<clipPath id="cm329"><rect x="552.5" y="101.5" width="272.0" height="260.0"/></clipPath>
<path clip-path="url(#cm329)" d="M561.4,101.8 L563.4,103.8 L566.5,103.0 L569.1,104.9 L568.7,107.9 L571.0,108.4 L573.3,106.4 L574.8,103.3 L574.4,106.9 L577.1,107.9 L579.7,111.4 L579.4,116.0 L577.1,120.6 L574.5,122.4 L572.9,120.6 L572.7,116.0 L574.2,112.5 L576.1,111.3 L574.8,109.1 L573.3,107.3 M617.5,163.9 L620.5,160.1 L626.6,155.6 L634.2,151.0 L641.8,146.4 L645.6,143.4 L647.2,144.9 L649.4,141.1 L651.7,140.3 L653.2,137.3 L657.1,137.3 L660.9,139.6 L662.4,144.9 L663.9,140.3 L668.5,139.9 L670.8,143.4 L673.0,148.7 L676.8,150.2 L682.9,149.5 L683.7,155.6 L686.0,158.6 L684.8,160.9 L687.5,163.2 L689.8,165.5 L686.0,167.0 L682.9,165.8 L679.1,164.7 L675.3,165.5 L672.3,163.9 L667.7,164.7 L663.9,162.4 L660.1,160.9 L657.1,160.1 L653.2,158.6 L655.5,157.1 L656.3,154.8 L652.5,156.3 L649.4,158.6 L644.9,159.4 L641.8,161.7 L637.3,162.4 L633.5,165.5 L629.6,165.5 L628.1,161.7 L625.1,162.4 L619.0,165.5 L617.5,163.9 M672.7,173.1 L670.2,173.7 L666.5,175.6 L662.8,178.0 L660.4,180.5 L659.8,184.2 L661.6,183.0 L662.8,181.1 L661.0,184.8 L659.8,188.5 L658.5,192.9 L657.9,195.3 L656.7,200.3 L655.4,205.2 L655.4,210.1 L656.7,215.1 L659.8,221.2 L662.2,221.9 M683.2,172.5 L689.4,173.3 L695.6,172.9 L704.2,171.9 L714.1,173.1 L719.0,173.7 L722.1,176.2 L725.2,179.3 L726.4,183.0 L725.2,186.7 L722.1,188.5 L719.0,186.7 L715.3,183.6 L712.8,180.5 L714.1,183.0 L712.8,190.4 L711.6,195.3 L711.6,199.6 L709.8,202.7 L707.3,205.2 L704.2,202.7 L701.7,197.8 L698.0,192.9 L694.3,187.9 L691.9,181.7 L686.9,176.8 L683.2,172.5 M696.3,221.8 L705.5,225.3 L714.8,224.1 L724.0,218.3 L737.8,210.2 L738.7,207.9 L728.6,211.4 L719.4,210.2 L710.2,216.0 L702.8,218.3 L699.1,218.3 L696.3,221.8 M730.4,203.3 L737.8,203.3 L747.0,202.1 L756.3,203.3 L763.6,199.8 L762.7,194.0 L756.3,195.2 L747.0,196.3 L736.0,198.7 L730.4,203.3 M717.1,101.5 L721.0,104.5 L723.4,108.8 L721.0,111.7 L717.4,114.6 L723.8,111.0 L729.6,113.1 L731.0,108.8 L733.9,106.6 L736.8,108.1 L738.3,111.7 L740.4,108.8 L739.0,105.2 L741.1,103.0 L741.4,101.5 M810.0,162.1 L814.8,159.4 L820.3,153.8 L823.8,149.0 L824.8,146.2 L822.4,146.9 L821.7,150.4 L817.6,155.2 L812.0,160.1 L810.0,162.1 M824.8,196.7 L821.7,196.0 L818.9,198.1 L816.2,202.2 L813.4,207.8 L812.0,213.3 L811.3,215.4 L812.7,217.5 L814.1,219.5 L816.2,220.9 L819.6,220.9 L821.4,219.5 L820.3,218.1 L821.7,221.6 L818.9,223.0 L814.8,222.3 L812.0,223.7 L807.9,224.4 L802.4,226.4 L795.4,227.1 L789.9,228.5 L785.8,230.6 L783.0,232.7 L782.3,235.4 L783.7,236.8 L783.0,241.0 L781.6,245.1 L778.8,249.3 L775.4,252.7 L771.9,250.7 L774.7,253.4 L774.0,257.6 L774.7,260.1 L780.3,246.9 L776.5,251.6 L772.6,250.0 L774.4,254.7 L773.4,260.1 L769.5,267.0 L767.7,261.6 L766.4,265.5 L768.3,269.3 L766.4,273.2 L763.3,274.7 L761.0,276.3 L764.1,277.8 L764.9,283.2 L763.3,286.3 L759.5,285.5 L758.7,287.8 L764.1,287.1 L768.0,289.4 L768.0,292.5 L764.1,294.0 L760.2,294.0 L758.7,296.3 L761.8,297.9 L760.2,301.7 L755.6,303.3 L749.4,307.9 L741.7,312.5 L736.3,317.2 L734.8,320.2 L729.4,324.9 L724.8,328.0 L721.7,327.2 L720.9,331.0 L717.8,335.7 L715.5,341.9 L713.2,348.0 L714.7,354.2 L716.3,361.6 M784.4,232.4 L789.9,230.6 L796.8,228.5 L802.4,229.2 L799.6,230.6 L794.1,232.0 L788.5,232.9 L784.4,233.4 L784.4,232.4 M590.1,361.3 L590.8,359.3 L591.9,361.3 M596.5,361.3 L598.5,359.8 L602.4,359.3 L606.3,359.6 L608.9,361.3 M616.0,361.3 L617.5,359.5 L619.1,359.5 L619.8,361.3 M631.7,354.7 L633.3,353.1 L635.6,353.1 L637.1,354.7 L635.6,356.2 L633.3,356.5 L631.7,354.7 M636.4,357.8 L638.7,355.9 L641.8,356.5 L641.9,359.3 L640.2,361.3 L637.1,361.3 L636.4,358.5 M637.1,354.7 L641.0,353.9 L645.6,353.1 L650.2,352.4 L652.6,351.6 L654.1,346.2 L654.6,354.7 L658.7,353.1 L661.8,350.8 L664.9,351.6 L668.0,350.8 L670.3,351.6 L672.6,353.9 L675.7,355.5 L678.0,358.5 L679.6,360.9 L682.7,359.3 L685.7,358.5 L688.1,356.2 L691.1,356.2 L693.5,357.8 L695.3,361.3" fill="none" stroke="#000" stroke-width="1.1" stroke-linejoin="round"/>
<g stroke="#8c8c8c" stroke-width="1" stroke-linejoin="miter">
<path d="M649.3,152.1 l7,12.2 h-14z" fill="#ffffff"/>
<path d="M694.8,151.9 l7,12.2 h-14z" fill="#ffd4d4"/>
<path d="M673.5,156.7 l7,12.2 h-14z" fill="#ffebeb"/>
<path d="M690.2,153.2 l7,12.2 h-14z" fill="#ffd4d4"/>
<path d="M703.0,150.9 l7,12.2 h-14z" fill="#ffe0e0"/>
<path d="M644.1,163.6 l7,12.2 h-14z" fill="#fff5f5"/>
<path d="M663.7,159.6 l7,12.2 h-14z" fill="#ffebeb"/>
<path d="M710.5,149.8 l7,12.2 h-14z" fill="#fff5f5"/>
<path d="M715.1,149.2 l7,12.2 h-14z" fill="#ffebeb"/>
<path d="M610.2,173.2 l7,12.2 h-14z" fill="#fff5f5"/>
<path d="M708.6,153.1 l7,12.2 h-14z" fill="#ffebeb"/>
<path d="M715.2,152.8 l7,12.2 h-14z" fill="#ffe0e0"/>
<path d="M729.5,150.4 l7,12.2 h-14z" fill="#fff5f5"/>
<path d="M653.4,167.1 l7,12.2 h-14z" fill="#ffebeb"/>
<path d="M726.1,151.8 l7,12.2 h-14z" fill="#fff5f5"/>
<path d="M697.3,159.0 l7,12.2 h-14z" fill="#ffd4d4"/>
<path d="M733.6,151.5 l7,12.2 h-14z" fill="#fff5f5"/>
<path d="M633.8,172.8 l7,12.2 h-14z" fill="#f5f5ff"/>
<path d="M689.4,161.3 l7,12.2 h-14z" fill="#ffd4d4"/>
<path d="M697.3,159.6 l7,12.2 h-14z" fill="#ffd4d4"/>
<path d="M698.3,159.6 l7,12.2 h-14z" fill="#ffe0e0"/>
<path d="M731.4,152.7 l7,12.2 h-14z" fill="#fff5f5"/>
<path d="M704.8,158.8 l7,12.2 h-14z" fill="#ffebeb"/>
<path d="M704.8,160.2 l7,12.2 h-14z" fill="#ffe0e0"/>
<path d="M672.8,167.3 l7,12.2 h-14z" fill="#ffd4d4"/>
<path d="M678.7,166.2 l7,12.2 h-14z" fill="#ffd4d4"/>
<path d="M712.3,159.8 l7,12.2 h-14z" fill="#ffebeb"/>
<path d="M688.2,166.9 l7,12.2 h-14z" fill="#ffc4c4"/>
<path d="M720.7,160.1 l7,12.2 h-14z" fill="#ffebeb"/>
<path d="M696.7,166.0 l7,12.2 h-14z" fill="#ffd4d4"/>
<path d="M701.9,166.1 l7,12.2 h-14z" fill="#ffebeb"/>
<path d="M605.0,187.2 l7,12.2 h-14z" fill="#fff5f5"/>
<path d="M736.2,159.8 l7,12.2 h-14z" fill="#ffffff"/>
<path d="M675.3,174.1 l7,12.2 h-14z" fill="#ffd4d4"/>
<path d="M743.5,159.7 l7,12.2 h-14z" fill="#ffffff"/>
<path d="M708.8,167.6 l7,12.2 h-14z" fill="#ffe0e0"/>
<path d="M709.8,167.8 l7,12.2 h-14z" fill="#ffebeb"/>
<path d="M749.1,159.6 l7,12.2 h-14z" fill="#ffffff"/>
<path d="M739.9,161.9 l7,12.2 h-14z" fill="#ffffff"/>
<path d="M682.2,174.6 l7,12.2 h-14z" fill="#ffc4c4"/>
<path d="M691.5,173.4 l7,12.2 h-14z" fill="#ffc4c4"/>
<path d="M717.5,168.1 l7,12.2 h-14z" fill="#ffe0e0"/>
<path d="M691.5,174.6 l7,12.2 h-14z" fill="#ffc4c4"/>
<path d="M656.8,182.1 l7,12.2 h-14z" fill="#ffe0e0"/>
<path d="M698.5,173.6 l7,12.2 h-14z" fill="#ffe0e0"/>
<path d="M726.0,167.8 l7,12.2 h-14z" fill="#fff5f5"/>
<path d="M630.3,188.4 l7,12.2 h-14z" fill="#ffebeb"/>
<path d="M741.0,166.3 l7,12.2 h-14z" fill="#f5f5ff"/>
<path d="M734.6,168.0 l7,12.2 h-14z" fill="#fff5f5"/>
<path d="M684.6,179.2 l7,12.2 h-14z" fill="#ffb4b4"/>
<path d="M681.0,180.9 l7,12.2 h-14z" fill="#ffc4c4"/>
<path d="M646.5,188.4 l7,12.2 h-14z" fill="#ffe0e0"/>
<path d="M704.2,176.5 l7,12.2 h-14z" fill="#ffd4d4"/>
<path d="M718.6,173.8 l7,12.2 h-14z" fill="#ffebeb"/>
<path d="M748.7,168.0 l7,12.2 h-14z" fill="#ebebff"/>
<path d="M686.4,181.5 l7,12.2 h-14z" fill="#f0a6a6"/>
<path d="M729.5,174.3 l7,12.2 h-14z" fill="#fff5f5"/>
<path d="M693.5,182.2 l7,12.2 h-14z" fill="#ffc4c4"/>
<path d="M701.4,181.3 l7,12.2 h-14z" fill="#ffe0e0"/>
<path d="M743.4,173.4 l7,12.2 h-14z" fill="#ebebff"/>
<path d="M610.7,202.8 l7,12.2 h-14z" fill="#ffebeb"/>
<path d="M736.3,176.4 l7,12.2 h-14z" fill="#ffffff"/>
<path d="M752.0,173.3 l7,12.2 h-14z" fill="#f5f5ff"/>
<path d="M675.5,190.1 l7,12.2 h-14z" fill="#f0a6a6"/>
<path d="M683.9,188.4 l7,12.2 h-14z" fill="#f0a6a6"/>
<path d="M758.3,173.4 l7,12.2 h-14z" fill="#f5f5ff"/>
<path d="M697.4,186.8 l7,12.2 h-14z" fill="#ffd4d4"/>
<path d="M724.8,181.4 l7,12.2 h-14z" fill="#f5f5ff"/>
<path d="M633.8,201.1 l7,12.2 h-14z" fill="#ffe0e0"/>
<path d="M690.0,189.3 l7,12.2 h-14z" fill="#f0a6a6"/>
<path d="M759.2,174.9 l7,12.2 h-14z" fill="#f5f5ff"/>
<path d="M728.4,181.5 l7,12.2 h-14z" fill="#ffffff"/>
<path d="M732.6,181.4 l7,12.2 h-14z" fill="#f5f5ff"/>
<path d="M668.3,195.3 l7,12.2 h-14z" fill="#f0a6a6"/>
<path d="M679.5,193.1 l7,12.2 h-14z" fill="#ffb4b4"/>
<path d="M673.2,195.7 l7,12.2 h-14z" fill="#f0a6a6"/>
<path d="M650.5,202.2 l7,12.2 h-14z" fill="#ffd4d4"/>
<path d="M749.3,181.3 l7,12.2 h-14z" fill="#ebebff"/>
<path d="M606.7,212.0 l7,12.2 h-14z" fill="#fff5f5"/>
<path d="M686.6,195.4 l7,12.2 h-14z" fill="#e29999"/>
<path d="M753.0,181.6 l7,12.2 h-14z" fill="#ebebff"/>
<path d="M760.4,180.2 l7,12.2 h-14z" fill="#ebebff"/>
<path d="M719.2,189.5 l7,12.2 h-14z" fill="#fff5f5"/>
<path d="M624.6,209.7 l7,12.2 h-14z" fill="#ffebeb"/>
<path d="M721.5,189.7 l7,12.2 h-14z" fill="#ffffff"/>
<path d="M695.0,195.3 l7,12.2 h-14z" fill="#ffb4b4"/>
<path d="M701.2,194.8 l7,12.2 h-14z" fill="#ffc4c4"/>
<path d="M693.5,196.6 l7,12.2 h-14z" fill="#ffb4b4"/>
<path d="M730.3,189.5 l7,12.2 h-14z" fill="#f5f5ff"/>
<path d="M675.5,202.0 l7,12.2 h-14z" fill="#f0a6a6"/>
<path d="M736.3,189.1 l7,12.2 h-14z" fill="#f5f5ff"/>
<path d="M731.3,190.7 l7,12.2 h-14z" fill="#f5f5ff"/>
<path d="M655.1,208.5 l7,12.2 h-14z" fill="#ffb4b4"/>
<path d="M682.4,202.8 l7,12.2 h-14z" fill="#ffb4b4"/>
<path d="M744.6,189.9 l7,12.2 h-14z" fill="#f5f5ff"/>
<path d="M703.0,198.8 l7,12.2 h-14z" fill="#ffd4d4"/>
<path d="M691.8,201.3 l7,12.2 h-14z" fill="#f0a6a6"/>
<path d="M639.5,212.6 l7,12.2 h-14z" fill="#ffe0e0"/>
<path d="M760.0,187.1 l7,12.2 h-14z" fill="#f5f5ff"/>
<path d="M715.7,196.9 l7,12.2 h-14z" fill="#fff5f5"/>
<path d="M749.7,189.9 l7,12.2 h-14z" fill="#ebebff"/>
<path d="M726.3,195.6 l7,12.2 h-14z" fill="#ffffff"/>
<path d="M767.6,188.5 l7,12.2 h-14z" fill="#ebebff"/>
<path d="M700.4,202.8 l7,12.2 h-14z" fill="#ffd4d4"/>
<path d="M731.9,196.2 l7,12.2 h-14z" fill="#f5f5ff"/>
<path d="M672.6,210.1 l7,12.2 h-14z" fill="#ffb4b4"/>
<path d="M747.6,194.4 l7,12.2 h-14z" fill="#ebebff"/>
<path d="M669.5,211.4 l7,12.2 h-14z" fill="#ffc4c4"/>
<path d="M712.1,202.5 l7,12.2 h-14z" fill="#fff5f5"/>
<path d="M740.0,196.7 l7,12.2 h-14z" fill="#f5f5ff"/>
<path d="M606.7,225.3 l7,12.2 h-14z" fill="#ffebeb"/>
<path d="M707.3,204.2 l7,12.2 h-14z" fill="#ffe0e0"/>
<path d="M677.8,210.9 l7,12.2 h-14z" fill="#f0a6a6"/>
<path d="M719.5,202.3 l7,12.2 h-14z" fill="#fff5f5"/>
<path d="M753.9,195.0 l7,12.2 h-14z" fill="#ebebff"/>
<path d="M721.5,202.2 l7,12.2 h-14z" fill="#ffffff"/>
<path d="M713.4,204.5 l7,12.2 h-14z" fill="#fff5f5"/>
<path d="M687.6,210.1 l7,12.2 h-14z" fill="#ffb4b4"/>
<path d="M695.6,209.4 l7,12.2 h-14z" fill="#ffd4d4"/>
<path d="M727.0,203.0 l7,12.2 h-14z" fill="#f5f5ff"/>
<path d="M735.6,201.8 l7,12.2 h-14z" fill="#ebebff"/>
<path d="M761.5,196.3 l7,12.2 h-14z" fill="#ebebff"/>
<path d="M628.0,225.8 l7,12.2 h-14z" fill="#ffd4d4"/>
<path d="M653.9,220.6 l7,12.2 h-14z" fill="#ffc4c4"/>
<path d="M675.2,216.5 l7,12.2 h-14z" fill="#ffb4b4"/>
<path d="M743.6,202.4 l7,12.2 h-14z" fill="#f5f5ff"/>
<path d="M711.6,209.5 l7,12.2 h-14z" fill="#ffffff"/>
<path d="M769.1,197.9 l7,12.2 h-14z" fill="#e0e0ff"/>
<path d="M684.0,217.8 l7,12.2 h-14z" fill="#ffc4c4"/>
<path d="M690.4,216.4 l7,12.2 h-14z" fill="#ffd4d4"/>
<path d="M718.3,210.7 l7,12.2 h-14z" fill="#ffffff"/>
<path d="M759.6,202.1 l7,12.2 h-14z" fill="#ebebff"/>
<path d="M771.7,199.8 l7,12.2 h-14z" fill="#ebebff"/>
<path d="M643.0,227.6 l7,12.2 h-14z" fill="#ffc4c4"/>
<path d="M723.8,210.8 l7,12.2 h-14z" fill="#ffffff"/>
<path d="M727.2,210.3 l7,12.2 h-14z" fill="#f5f5ff"/>
<path d="M767.3,202.6 l7,12.2 h-14z" fill="#ebebff"/>
<path d="M706.5,215.7 l7,12.2 h-14z" fill="#ffebeb"/>
<path d="M696.5,218.4 l7,12.2 h-14z" fill="#ffe0e0"/>
<path d="M740.1,209.1 l7,12.2 h-14z" fill="#f5f5ff"/>
<path d="M673.0,223.6 l7,12.2 h-14z" fill="#ffc4c4"/>
<path d="M603.8,238.4 l7,12.2 h-14z" fill="#fff5f5"/>
<path d="M715.1,215.3 l7,12.2 h-14z" fill="#ffffff"/>
<path d="M733.0,211.6 l7,12.2 h-14z" fill="#ebebff"/>
<path d="M679.6,224.2 l7,12.2 h-14z" fill="#ffd4d4"/>
<path d="M722.0,216.2 l7,12.2 h-14z" fill="#f5f5ff"/>
<path d="M694.9,222.4 l7,12.2 h-14z" fill="#ffe0e0"/>
<path d="M617.1,239.0 l7,12.2 h-14z" fill="#ffe0e0"/>
<path d="M649.9,232.1 l7,12.2 h-14z" fill="#ffb4b4"/>
<path d="M746.6,211.7 l7,12.2 h-14z" fill="#e0e0ff"/>
<path d="M662.6,229.9 l7,12.2 h-14z" fill="#ffc4c4"/>
<path d="M688.9,224.8 l7,12.2 h-14z" fill="#ffd4d4"/>
<path d="M753.7,211.9 l7,12.2 h-14z" fill="#e0e0ff"/>
<path d="M763.6,210.5 l7,12.2 h-14z" fill="#ebebff"/>
<path d="M775.6,208.0 l7,12.2 h-14z" fill="#f5f5ff"/>
<path d="M728.4,218.4 l7,12.2 h-14z" fill="#ebebff"/>
<path d="M745.4,215.7 l7,12.2 h-14z" fill="#d4d4ff"/>
<path d="M770.4,210.7 l7,12.2 h-14z" fill="#ffffff"/>
<path d="M710.5,223.5 l7,12.2 h-14z" fill="#fff5f5"/>
<path d="M703.8,225.0 l7,12.2 h-14z" fill="#ffebeb"/>
<path d="M676.1,230.9 l7,12.2 h-14z" fill="#ffd4d4"/>
<path d="M639.5,239.0 l7,12.2 h-14z" fill="#ffc4c4"/>
<path d="M736.6,219.2 l7,12.2 h-14z" fill="#f5f5ff"/>
<path d="M689.0,229.4 l7,12.2 h-14z" fill="#ffe0e0"/>
<path d="M716.4,224.5 l7,12.2 h-14z" fill="#ffffff"/>
<path d="M760.1,215.8 l7,12.2 h-14z" fill="#ebebff"/>
<path d="M752.5,218.0 l7,12.2 h-14z" fill="#e0e0ff"/>
<path d="M683.4,232.8 l7,12.2 h-14z" fill="#ffd4d4"/>
<path d="M724.8,224.6 l7,12.2 h-14z" fill="#e0e0ff"/>
<path d="M705.0,229.0 l7,12.2 h-14z" fill="#fff5f5"/>
<path d="M698.1,231.1 l7,12.2 h-14z" fill="#fff5f5"/>
<path d="M765.5,217.4 l7,12.2 h-14z" fill="#f5f5ff"/>
<path d="M741.7,222.5 l7,12.2 h-14z" fill="#e0e0ff"/>
<path d="M733.3,224.6 l7,12.2 h-14z" fill="#d4d4ff"/>
<path d="M713.9,229.0 l7,12.2 h-14z" fill="#ebebff"/>
<path d="M673.7,237.6 l7,12.2 h-14z" fill="#ffd4d4"/>
<path d="M661.4,240.7 l7,12.2 h-14z" fill="#ffb4b4"/>
<path d="M773.7,217.1 l7,12.2 h-14z" fill="#ebebff"/>
<path d="M679.5,237.7 l7,12.2 h-14z" fill="#ffc4c4"/>
<path d="M693.7,234.7 l7,12.2 h-14z" fill="#ffebeb"/>
<path d="M644.1,247.1 l7,12.2 h-14z" fill="#ffc4c4"/>
<path d="M748.5,225.1 l7,12.2 h-14z" fill="#c4c4ff"/>
<path d="M720.4,231.2 l7,12.2 h-14z" fill="#ebebff"/>
<path d="M666.6,243.0 l7,12.2 h-14z" fill="#ffc4c4"/>
<path d="M615.3,254.0 l7,12.2 h-14z" fill="#ffebeb"/>
<path d="M686.6,239.0 l7,12.2 h-14z" fill="#ffe0e0"/>
<path d="M633.8,250.5 l7,12.2 h-14z" fill="#ffd4d4"/>
<path d="M756.2,225.0 l7,12.2 h-14z" fill="#d4d4ff"/>
<path d="M737.9,229.9 l7,12.2 h-14z" fill="#d4d4ff"/>
<path d="M652.8,248.2 l7,12.2 h-14z" fill="#ffb4b4"/>
<path d="M763.8,224.8 l7,12.2 h-14z" fill="#e0e0ff"/>
<path d="M769.6,224.0 l7,12.2 h-14z" fill="#ebebff"/>
<path d="M702.8,238.4 l7,12.2 h-14z" fill="#ffffff"/>
<path d="M730.0,232.7 l7,12.2 h-14z" fill="#d4d4ff"/>
<path d="M675.1,244.7 l7,12.2 h-14z" fill="#ffd4d4"/>
<path d="M624.6,255.7 l7,12.2 h-14z" fill="#ffebeb"/>
<path d="M749.4,229.2 l7,12.2 h-14z" fill="#d4d4ff"/>
<path d="M775.0,224.2 l7,12.2 h-14z" fill="#f5f5ff"/>
<path d="M709.1,238.2 l7,12.2 h-14z" fill="#ffffff"/>
<path d="M745.3,231.5 l7,12.2 h-14z" fill="#b4b4ff"/>
<path d="M682.6,245.3 l7,12.2 h-14z" fill="#ffe0e0"/>
<path d="M717.1,238.3 l7,12.2 h-14z" fill="#f5f5ff"/>
<path d="M726.7,236.7 l7,12.2 h-14z" fill="#d4d4ff"/>
<path d="M759.6,230.9 l7,12.2 h-14z" fill="#d4d4ff"/>
<path d="M731.9,237.0 l7,12.2 h-14z" fill="#c4c4ff"/>
<path d="M691.8,247.1 l7,12.2 h-14z" fill="#ffebeb"/>
<path d="M764.9,231.6 l7,12.2 h-14z" fill="#e0e0ff"/>
<path d="M699.3,245.6 l7,12.2 h-14z" fill="#ffffff"/>
<path d="M632.0,260.3 l7,12.2 h-14z" fill="#ffe0e0"/>
<path d="M740.9,237.2 l7,12.2 h-14z" fill="#b4b4ff"/>
<path d="M713.8,243.0 l7,12.2 h-14z" fill="#f5f5ff"/>
<path d="M748.3,237.1 l7,12.2 h-14z" fill="#b4b4ff"/>
<path d="M776.2,231.3 l7,12.2 h-14z" fill="#ebebff"/>
<path d="M673.1,253.2 l7,12.2 h-14z" fill="#ffe0e0"/>
<path d="M677.6,253.0 l7,12.2 h-14z" fill="#ffe0e0"/>
<path d="M708.7,246.7 l7,12.2 h-14z" fill="#ffffff"/>
<path d="M643.0,260.9 l7,12.2 h-14z" fill="#ffd4d4"/>
<path d="M657.4,258.6 l7,12.2 h-14z" fill="#ffc4c4"/>
<path d="M720.4,245.6 l7,12.2 h-14z" fill="#e0e0ff"/>
<path d="M669.5,256.9 l7,12.2 h-14z" fill="#ffd4d4"/>
<path d="M755.3,239.2 l7,12.2 h-14z" fill="#c4c4ff"/>
<path d="M694.7,252.6 l7,12.2 h-14z" fill="#fff5f5"/>
<path d="M686.9,254.4 l7,12.2 h-14z" fill="#ffebeb"/>
<path d="M703.2,251.1 l7,12.2 h-14z" fill="#f5f5ff"/>
<path d="M762.0,239.3 l7,12.2 h-14z" fill="#e0e0ff"/>
<path d="M770.7,238.1 l7,12.2 h-14z" fill="#e0e0ff"/>
<path d="M737.8,245.1 l7,12.2 h-14z" fill="#b4b4ff"/>
<path d="M744.8,243.8 l7,12.2 h-14z" fill="#c4c4ff"/>
<path d="M624.6,269.5 l7,12.2 h-14z" fill="#ffebeb"/>
<path d="M716.7,250.2 l7,12.2 h-14z" fill="#e0e0ff"/>
<path d="M729.9,247.6 l7,12.2 h-14z" fill="#c4c4ff"/>
<path d="M750.8,244.0 l7,12.2 h-14z" fill="#c4c4ff"/>
<path d="M776.9,238.6 l7,12.2 h-14z" fill="#ebebff"/>
<path d="M676.3,260.5 l7,12.2 h-14z" fill="#ffebeb"/>
<path d="M711.7,253.3 l7,12.2 h-14z" fill="#ebebff"/>
<path d="M682.6,259.7 l7,12.2 h-14z" fill="#ffebeb"/>
<path d="M632.0,271.8 l7,12.2 h-14z" fill="#ffebeb"/>
<path d="M761.5,244.6 l7,12.2 h-14z" fill="#d4d4ff"/>
<path d="M726.8,252.4 l7,12.2 h-14z" fill="#d4d4ff"/>
<path d="M689.4,261.0 l7,12.2 h-14z" fill="#fff5f5"/>
<path d="M732.0,252.4 l7,12.2 h-14z" fill="#c4c4ff"/>
<path d="M648.2,270.7 l7,12.2 h-14z" fill="#ffd4d4"/>
<path d="M739.8,251.7 l7,12.2 h-14z" fill="#a6a6f0"/>
<path d="M671.5,266.2 l7,12.2 h-14z" fill="#ffe0e0"/>
<path d="M700.4,260.2 l7,12.2 h-14z" fill="#ffffff"/>
<path d="M770.2,245.5 l7,12.2 h-14z" fill="#e0e0ff"/>
<path d="M712.6,258.4 l7,12.2 h-14z" fill="#e0e0ff"/>
<path d="M662.6,269.5 l7,12.2 h-14z" fill="#ffe0e0"/>
<path d="M706.5,261.0 l7,12.2 h-14z" fill="#ebebff"/>
<path d="M749.5,251.9 l7,12.2 h-14z" fill="#b4b4ff"/>
<path d="M638.4,275.9 l7,12.2 h-14z" fill="#ffebeb"/>
<path d="M756.7,250.9 l7,12.2 h-14z" fill="#b4b4ff"/>
<path d="M686.6,266.9 l7,12.2 h-14z" fill="#fff5f5"/>
<path d="M721.6,259.6 l7,12.2 h-14z" fill="#ebebff"/>
<path d="M680.6,269.0 l7,12.2 h-14z" fill="#fff5f5"/>
<path d="M694.2,266.8 l7,12.2 h-14z" fill="#ffffff"/>
<path d="M736.5,258.2 l7,12.2 h-14z" fill="#b4b4ff"/>
<path d="M762.6,252.7 l7,12.2 h-14z" fill="#d4d4ff"/>
<path d="M728.2,260.9 l7,12.2 h-14z" fill="#d4d4ff"/>
<path d="M701.0,267.4 l7,12.2 h-14z" fill="#f5f5ff"/>
<path d="M674.7,274.4 l7,12.2 h-14z" fill="#ffebeb"/>
<path d="M708.8,267.3 l7,12.2 h-14z" fill="#f5f5ff"/>
<path d="M744.3,259.9 l7,12.2 h-14z" fill="#c4c4ff"/>
<path d="M752.5,258.5 l7,12.2 h-14z" fill="#d4d4ff"/>
<path d="M655.7,279.9 l7,12.2 h-14z" fill="#ffebeb"/>
<path d="M719.4,267.3 l7,12.2 h-14z" fill="#e0e0ff"/>
<path d="M724.3,266.3 l7,12.2 h-14z" fill="#d4d4ff"/>
<path d="M683.3,275.7 l7,12.2 h-14z" fill="#ffffff"/>
<path d="M760.7,259.8 l7,12.2 h-14z" fill="#d4d4ff"/>
<path d="M690.5,275.3 l7,12.2 h-14z" fill="#f5f5ff"/>
<path d="M674.7,278.8 l7,12.2 h-14z" fill="#fff5f5"/>
<path d="M731.9,267.6 l7,12.2 h-14z" fill="#d4d4ff"/>
<path d="M672.1,280.4 l7,12.2 h-14z" fill="#fff5f5"/>
<path d="M696.7,275.3 l7,12.2 h-14z" fill="#f5f5ff"/>
<path d="M706.8,274.6 l7,12.2 h-14z" fill="#ebebff"/>
<path d="M665.5,283.4 l7,12.2 h-14z" fill="#ffebeb"/>
<path d="M740.5,267.7 l7,12.2 h-14z" fill="#d4d4ff"/>
<path d="M678.7,281.3 l7,12.2 h-14z" fill="#ffffff"/>
<path d="M688.0,279.8 l7,12.2 h-14z" fill="#ffffff"/>
<path d="M747.9,267.9 l7,12.2 h-14z" fill="#e0e0ff"/>
<path d="M754.4,266.9 l7,12.2 h-14z" fill="#e0e0ff"/>
<path d="M721.5,274.2 l7,12.2 h-14z" fill="#d4d4ff"/>
<path d="M694.8,280.9 l7,12.2 h-14z" fill="#e0e0ff"/>
<path d="M674.6,286.3 l7,12.2 h-14z" fill="#fff5f5"/>
<path d="M703.2,281.2 l7,12.2 h-14z" fill="#ebebff"/>
<path d="M707.8,280.6 l7,12.2 h-14z" fill="#d4d4ff"/>
<path d="M653.9,292.6 l7,12.2 h-14z" fill="#fff5f5"/>
<path d="M737.4,275.0 l7,12.2 h-14z" fill="#e0e0ff"/>
<path d="M729.7,277.2 l7,12.2 h-14z" fill="#e0e0ff"/>
<path d="M743.3,275.3 l7,12.2 h-14z" fill="#ebebff"/>
<path d="M678.7,289.1 l7,12.2 h-14z" fill="#f5f5ff"/>
<path d="M717.3,281.3 l7,12.2 h-14z" fill="#d4d4ff"/>
<path d="M724.9,280.5 l7,12.2 h-14z" fill="#d4d4ff"/>
<path d="M733.1,278.8 l7,12.2 h-14z" fill="#e0e0ff"/>
<path d="M692.5,288.0 l7,12.2 h-14z" fill="#f5f5ff"/>
<path d="M698.4,288.2 l7,12.2 h-14z" fill="#e0e0ff"/>
<path d="M705.0,287.6 l7,12.2 h-14z" fill="#d4d4ff"/>
<path d="M713.2,286.4 l7,12.2 h-14z" fill="#d4d4ff"/>
<path d="M740.6,280.6 l7,12.2 h-14z" fill="#e0e0ff"/>
<path d="M691.1,291.3 l7,12.2 h-14z" fill="#ebebff"/>
<path d="M688.1,294.2 l7,12.2 h-14z" fill="#f5f5ff"/>
<path d="M719.9,287.9 l7,12.2 h-14z" fill="#d4d4ff"/>
<path d="M701.9,292.9 l7,12.2 h-14z" fill="#c4c4ff"/>
<path d="M683.3,297.2 l7,12.2 h-14z" fill="#f5f5ff"/>
<path d="M695.5,295.9 l7,12.2 h-14z" fill="#e0e0ff"/>
<path d="M729.2,289.2 l7,12.2 h-14z" fill="#e0e0ff"/>
<path d="M709.7,293.5 l7,12.2 h-14z" fill="#d4d4ff"/>
<path d="M737.2,288.3 l7,12.2 h-14z" fill="#e0e0ff"/>
<path d="M697.1,297.2 l7,12.2 h-14z" fill="#ebebff"/>
<path d="M690.4,301.2 l7,12.2 h-14z" fill="#f5f5ff"/>
<path d="M716.4,297.0 l7,12.2 h-14z" fill="#c4c4ff"/>
<path d="M724.3,295.9 l7,12.2 h-14z" fill="#e0e0ff"/>
<path d="M697.7,303.2 l7,12.2 h-14z" fill="#ebebff"/>
<path d="M713.8,303.8 l7,12.2 h-14z" fill="#d4d4ff"/>
<path d="M719.4,302.6 l7,12.2 h-14z" fill="#d4d4ff"/>
</g>
<rect x="552.5" y="101.5" width="272.0" height="260.0" fill="none" stroke="#000"/>
<text x="633.6" y="389.9" font-size="18.90" text-anchor="middle">-90</text>
<text x="724.6" y="389.9" font-size="18.90" text-anchor="middle">-80</text>
<text x="817.6" y="389.9" font-size="18.90" text-anchor="middle">-70</text>
<text x="546.0" y="133.2" font-size="18.90" text-anchor="end">50</text>
<text x="546.0" y="191.2" font-size="18.90" text-anchor="end">45</text>
<text x="546.0" y="249.2" font-size="18.90" text-anchor="end">40</text>
<text x="546.0" y="306.2" font-size="18.90" text-anchor="end">35</text>
<text x="546.0" y="364.2" font-size="18.90" text-anchor="end">30</text>
<path d="M636.5,101.5 v2.6 M636.5,361.5 v-2.6 M727.5,101.5 v2.6 M727.5,361.5 v-2.6 M820.5,101.5 v2.6 M820.5,361.5 v-2.6 M552.5,126.5 h2.6 M824.5,126.5 h-2.6 M552.5,184.5 h2.6 M824.5,184.5 h-2.6 M552.5,242.5 h2.6 M824.5,242.5 h-2.6 M552.5,299.5 h2.6 M824.5,299.5 h-2.6 M552.5,357.5 h2.6 M824.5,357.5 h-2.6 M808.5,153.5 V309.5 M803,153.5 h11 M803,309.5 h11" stroke="#000" fill="none"/>
<text transform="translate(843,249) rotate(-90)" font-size="18.90" text-anchor="middle">1500 km</text>
<text x="688.5" y="84.4" font-size="18.90" text-anchor="middle">avg dt (sec)</text>
<g shape-rendering="crispEdges">
<rect x="862" y="102" width="41" height="7" fill="#800000"/>
<rect x="862" y="109" width="41" height="8" fill="#8b0000"/>
<rect x="862" y="117" width="41" height="8" fill="#960000"/>
<rect x="862" y="125" width="41" height="8" fill="#a41a1a"/>
<rect x="862" y="133" width="41" height="8" fill="#b13333"/>
<rect x="862" y="141" width="41" height="8" fill="#be4d4d"/>
<rect x="862" y="149" width="41" height="8" fill="#ca6666"/>
<rect x="862" y="157" width="41" height="8" fill="#d68080"/>
<rect x="862" y="165" width="41" height="8" fill="#e29999"/>
<rect x="862" y="173" width="41" height="7" fill="#f0a6a6"/>
<rect x="862" y="180" width="41" height="8" fill="#ffb4b4"/>
<rect x="862" y="188" width="41" height="8" fill="#ffc4c4"/>
<rect x="862" y="196" width="41" height="8" fill="#ffd4d4"/>
<rect x="862" y="204" width="41" height="8" fill="#ffe0e0"/>
<rect x="862" y="212" width="41" height="8" fill="#ffebeb"/>
<rect x="862" y="220" width="41" height="8" fill="#fff5f5"/>
<rect x="862" y="228" width="41" height="8" fill="#ffffff"/>
<rect x="862" y="236" width="41" height="8" fill="#f5f5ff"/>
<rect x="862" y="244" width="41" height="7" fill="#ebebff"/>
<rect x="862" y="251" width="41" height="8" fill="#e0e0ff"/>
<rect x="862" y="259" width="41" height="8" fill="#d4d4ff"/>
<rect x="862" y="267" width="41" height="8" fill="#c4c4ff"/>
<rect x="862" y="275" width="41" height="8" fill="#b4b4ff"/>
<rect x="862" y="283" width="41" height="8" fill="#a6a6f0"/>
<rect x="862" y="291" width="41" height="8" fill="#9999e2"/>
<rect x="862" y="299" width="41" height="8" fill="#8080d6"/>
<rect x="862" y="307" width="41" height="8" fill="#6666ca"/>
<rect x="862" y="315" width="41" height="8" fill="#4d4dbe"/>
<rect x="862" y="323" width="41" height="7" fill="#3333b1"/>
<rect x="862" y="330" width="41" height="8" fill="#1a1aa4"/>
<rect x="862" y="338" width="41" height="8" fill="#000096"/>
<rect x="862" y="346" width="41" height="8" fill="#00008b"/>
<rect x="862" y="354" width="41" height="8" fill="#000080"/>
</g>
<rect x="861.5" y="101.5" width="41.0" height="260.5" fill="none" stroke="#000"/>
<text x="909.5" y="110.1" font-size="18.90">&gt;3</text>
<text x="909.5" y="152.5" font-size="18.90">2</text>
<text x="909.5" y="195.7" font-size="18.90">1</text>
<text x="909.5" y="239.0" font-size="18.90">0</text>
<text x="909.5" y="282.2" font-size="18.90">-1</text>
<text x="909.5" y="325.4" font-size="18.90">-2</text>
<text x="909.5" y="369.6" font-size="18.90">&lt;-3</text>
<path d="M861.5,145.2 h3 M902.5,145.2 h-3 M861.5,188.5 h3 M902.5,188.5 h-3 M861.5,231.8 h3 M902.5,231.8 h-3 M861.5,275.0 h3 M902.5,275.0 h-3 M861.5,318.2 h3 M902.5,318.2 h-3" stroke="#000" fill="none"/>
</g>
<text x="539" y="781" font-size="18.90">Backazimuth</text>
<text x="539" y="807" font-size="18.90">to quake:  168</text>
<path d="M757.1,730.5 L768.8,749.6 H745.4Z" fill="#ff0000"/>
<path d="M761.2,749.6 L785.2,801.6" stroke="#000" stroke-width="1.3" fill="none"/>
<path d="M897.5,817 h20 M926.5,817 h19" fill="none" stroke="#9aa090" stroke-width="0.8" stroke-dasharray="2.2 0.7"/>
<path d="M917.5,817 l1.5,-1.5 1,2.5 1,-4 1,7 0.8,-12 0.9,15 0.8,-10 1,5 1,-3 1,1" fill="none" stroke="#a2a898" stroke-width="0.8"/>
<text class="t" x="897.3" y="844.5" font-size="35.5" textLength="9" lengthAdjust="spacingAndGlyphs">I</text>
<text class="t" x="905.6" y="844.5" font-size="29.8" textLength="41.5" lengthAdjust="spacingAndGlyphs">RIS</text>
<text x="922.3" y="853.6" font-size="9.6" text-anchor="middle" textLength="75" lengthAdjust="spacingAndGlyphs">www.iris.edu/spud</text>
</svg></body></html>
